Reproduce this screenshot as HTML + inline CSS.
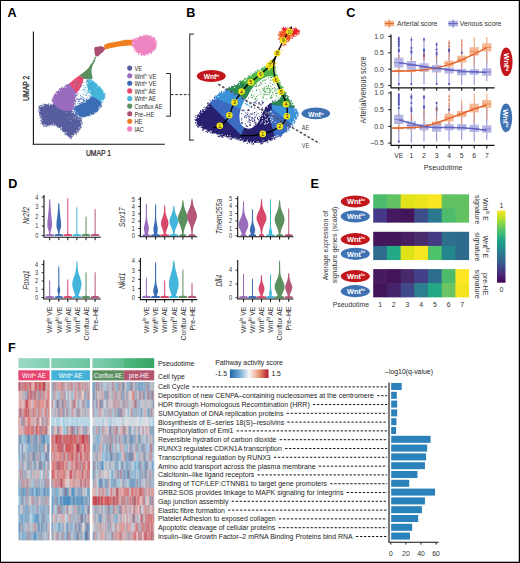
<!DOCTYPE html>
<html><head><meta charset="utf-8"><title>Figure</title>
<style>
html,body{margin:0;padding:0;background:#fff;}
body{width:520px;height:563px;overflow:hidden;}
svg{display:block;font-family:"Liberation Sans", sans-serif;}
</style></head><body>
<svg width="520" height="563" viewBox="0 0 520 563">
<rect x="0.00" y="0.00" width="520.00" height="563.00" fill="#ffffff"/>
<rect x="0" y="0" width="520" height="1" fill="#000"/><rect x="0" y="0" width="1" height="563" fill="#000"/><rect x="518.75" y="0" width="1.25" height="563" fill="#000"/><rect x="0" y="561.7" width="520" height="1.3" fill="#000"/>
<text transform="translate(7.50,16.60)" font-size="12.6" font-weight="bold" fill="#000">A</text>
<text transform="translate(186.20,17.20)" font-size="12.6" font-weight="bold" fill="#000">B</text>
<text transform="translate(346.20,17.20)" font-size="12.6" font-weight="bold" fill="#000">C</text>
<text transform="translate(8.20,187.70)" font-size="12.6" font-weight="bold" fill="#000">D</text>
<text transform="translate(310.50,187.60)" font-size="12.6" font-weight="bold" fill="#000">E</text>
<text transform="translate(7.90,352.00)" font-size="12.6" font-weight="bold" fill="#000">F</text>
<line x1="33.40" y1="31.50" x2="33.40" y2="144.70" stroke="#111" stroke-width="1.1"/>
<line x1="32.90" y1="144.20" x2="164.80" y2="144.20" stroke="#111" stroke-width="1.1"/>
<text transform="translate(98.50,155.60) scale(0.740,1)" font-size="9.2" text-anchor="middle" fill="#222" stroke="#222" stroke-width="0.25">UMAP 1</text>
<text transform="translate(28.80,88.30) rotate(-90) scale(0.740,1)" font-size="9.2" text-anchor="middle" fill="#222" stroke="#222" stroke-width="0.25">UMAP 2</text>
<polygon points="39.3,106.0 45.1,104.6 49.4,105.3 53.8,103.9 58.1,107.5 63.9,110.4 71.8,110.4 74.0,114.0 78.3,116.8 81.2,118.3 81.4,121.5 80.9,124.1 80.3,127.5 79.7,129.8 76.8,132.7 72.5,135.6 70.4,138.5 68.2,135.6 63.9,132.0 61.0,128.4 58.1,126.2 54.0,124.8 50.9,124.1 47.5,125.4 45.1,126.2 42.2,124.1 41.5,119.7 40.1,115.4 39.3,111.1" fill="#575d9d" stroke="#575d9d" stroke-width="0.9" stroke-linejoin="round"/>
<polygon points="53.8,103.9 52.3,101.0 53.2,97.8 54.5,95.2 56.2,92.8 58.1,90.9 60.8,88.8 63.9,87.3 66.8,85.4 69.6,83.7 73.2,88.0 76.8,93.0 76.1,96.6 74.7,102.4 73.2,108.2 71.8,110.4 63.9,110.4 58.1,107.5" fill="#9a6cbd" stroke="#9a6cbd" stroke-width="0.9" stroke-linejoin="round"/>
<polygon points="69.6,83.7 74.7,79.3 79.7,75.7 83.3,77.9 82.6,82.2 81.2,86.5 79.0,90.2 76.8,93.0 73.2,88.0" fill="#e9486f" stroke="#e9486f" stroke-width="0.9" stroke-linejoin="round"/>
<polygon points="86.5,80.5 89.8,79.3 92.8,81.2 95.6,83.7 98.8,86.5 101.4,89.4 104.3,93.8 104.6,96.5 104.0,98.8 101.4,102.4 97.0,99.5 92.0,96.6 89.8,92.3 87.0,86.5" fill="#43b4da" stroke="#43b4da" stroke-width="0.9" stroke-linejoin="round"/>
<polygon points="92.0,96.6 97.0,99.5 101.4,103.1 100.8,105.8 99.9,108.2 97.8,110.5 95.6,112.5 92.0,114.2 88.4,115.4 84.8,116.2 81.2,116.8 78.3,115.5 75.4,113.2 74.0,108.2 78.3,105.3 84.1,102.4 88.4,98.8" fill="#3b6db5" stroke="#3b6db5" stroke-width="0.9" stroke-linejoin="round"/>
<polygon points="76.8,93.0 79.0,90.2 81.2,86.5 83.5,81.5 86.5,80.5 87.0,86.5 89.8,92.3 92.0,96.6 88.4,98.8 84.1,102.4 78.3,105.3 74.7,106.0 75.4,100.2 76.1,96.6" fill="#ffffff"/>
<rect x="80.2" y="83.9" width="0.8" height="0.8" fill="#e9486f"/>
<rect x="75.8" y="95.2" width="0.8" height="0.8" fill="#3b6db5"/>
<rect x="78.1" y="82.2" width="0.8" height="0.8" fill="#3b6db5"/>
<rect x="75.3" y="82.4" width="0.8" height="0.8" fill="#3b6db5"/>
<rect x="75.1" y="94.7" width="0.8" height="0.8" fill="#43b4da"/>
<rect x="86.0" y="95.2" width="0.8" height="0.8" fill="#43b4da"/>
<rect x="85.0" y="90.3" width="0.8" height="0.8" fill="#43b4da"/>
<rect x="79.5" y="83.8" width="0.8" height="0.8" fill="#43b4da"/>
<rect x="84.8" y="94.6" width="0.8" height="0.8" fill="#e9486f"/>
<rect x="77.4" y="95.1" width="0.8" height="0.8" fill="#e9486f"/>
<rect x="77.6" y="82.5" width="0.8" height="0.8" fill="#e9486f"/>
<rect x="75.2" y="81.5" width="0.8" height="0.8" fill="#43b4da"/>
<rect x="83.4" y="93.8" width="0.8" height="0.8" fill="#9a6cbd"/>
<rect x="80.0" y="95.2" width="0.8" height="0.8" fill="#3b6db5"/>
<rect x="80.9" y="86.5" width="0.8" height="0.8" fill="#43b4da"/>
<rect x="87.3" y="86.3" width="0.8" height="0.8" fill="#3b6db5"/>
<rect x="79.7" y="92.9" width="0.8" height="0.8" fill="#43b4da"/>
<rect x="87.9" y="87.5" width="0.8" height="0.8" fill="#43b4da"/>
<rect x="76.2" y="90.9" width="0.8" height="0.8" fill="#9a6cbd"/>
<rect x="80.5" y="104.3" width="0.8" height="0.8" fill="#3b6db5"/>
<rect x="88.5" y="94.9" width="0.8" height="0.8" fill="#9a6cbd"/>
<rect x="80.0" y="98.1" width="0.8" height="0.8" fill="#3b6db5"/>
<rect x="83.4" y="100.7" width="0.8" height="0.8" fill="#3b6db5"/>
<rect x="90.0" y="104.6" width="0.8" height="0.8" fill="#3b6db5"/>
<rect x="87.2" y="81.7" width="0.8" height="0.8" fill="#e9486f"/>
<rect x="87.3" y="96.8" width="0.8" height="0.8" fill="#e9486f"/>
<rect x="89.6" y="87.4" width="0.8" height="0.8" fill="#3b6db5"/>
<rect x="90.9" y="89.0" width="0.8" height="0.8" fill="#3b6db5"/>
<rect x="80.8" y="95.9" width="0.8" height="0.8" fill="#3b6db5"/>
<rect x="76.5" y="86.4" width="0.8" height="0.8" fill="#3b6db5"/>
<rect x="91.4" y="92.9" width="0.8" height="0.8" fill="#43b4da"/>
<rect x="82.5" y="94.3" width="0.8" height="0.8" fill="#43b4da"/>
<rect x="89.6" y="102.5" width="0.8" height="0.8" fill="#3b6db5"/>
<rect x="87.4" y="105.6" width="0.8" height="0.8" fill="#3b6db5"/>
<rect x="76.9" y="84.6" width="0.8" height="0.8" fill="#43b4da"/>
<rect x="86.5" y="80.3" width="0.8" height="0.8" fill="#9a6cbd"/>
<rect x="85.2" y="86.8" width="0.8" height="0.8" fill="#43b4da"/>
<rect x="76.8" y="93.9" width="0.8" height="0.8" fill="#3b6db5"/>
<rect x="84.8" y="104.8" width="0.8" height="0.8" fill="#3b6db5"/>
<rect x="86.4" y="99.2" width="0.8" height="0.8" fill="#3b6db5"/>
<rect x="81.5" y="90.4" width="0.8" height="0.8" fill="#43b4da"/>
<rect x="83.1" y="90.4" width="0.8" height="0.8" fill="#43b4da"/>
<rect x="75.3" y="85.4" width="0.8" height="0.8" fill="#43b4da"/>
<rect x="76.1" y="95.6" width="0.8" height="0.8" fill="#43b4da"/>
<rect x="74.0" y="83.9" width="0.8" height="0.8" fill="#43b4da"/>
<rect x="92.0" y="96.0" width="0.8" height="0.8" fill="#43b4da"/>
<rect x="90.6" y="96.0" width="0.8" height="0.8" fill="#43b4da"/>
<rect x="86.1" y="104.8" width="0.8" height="0.8" fill="#3b6db5"/>
<rect x="80.9" y="83.2" width="0.8" height="0.8" fill="#9a6cbd"/>
<rect x="83.3" y="105.4" width="0.8" height="0.8" fill="#3b6db5"/>
<rect x="83.2" y="82.2" width="0.8" height="0.8" fill="#43b4da"/>
<rect x="88.2" y="99.2" width="0.8" height="0.8" fill="#3b6db5"/>
<rect x="89.7" y="84.2" width="0.8" height="0.8" fill="#43b4da"/>
<rect x="77.9" y="104.8" width="0.8" height="0.8" fill="#3b6db5"/>
<rect x="76.8" y="94.1" width="0.8" height="0.8" fill="#43b4da"/>
<rect x="88.4" y="87.8" width="0.8" height="0.8" fill="#e9486f"/>
<rect x="79.0" y="89.5" width="0.8" height="0.8" fill="#43b4da"/>
<rect x="80.8" y="85.8" width="0.8" height="0.8" fill="#3b6db5"/>
<rect x="88.8" y="88.6" width="0.8" height="0.8" fill="#43b4da"/>
<rect x="85.7" y="100.5" width="0.8" height="0.8" fill="#3b6db5"/>
<rect x="89.5" y="99.2" width="0.8" height="0.8" fill="#3b6db5"/>
<rect x="77.8" y="92.8" width="0.8" height="0.8" fill="#e9486f"/>
<rect x="74.6" y="80.7" width="0.8" height="0.8" fill="#43b4da"/>
<rect x="83.0" y="85.0" width="0.8" height="0.8" fill="#3b6db5"/>
<rect x="92.2" y="91.6" width="0.8" height="0.8" fill="#e9486f"/>
<rect x="80.9" y="85.7" width="0.8" height="0.8" fill="#43b4da"/>
<rect x="82.9" y="88.8" width="0.8" height="0.8" fill="#3b6db5"/>
<rect x="85.9" y="103.4" width="0.8" height="0.8" fill="#3b6db5"/>
<rect x="80.5" y="96.7" width="0.8" height="0.8" fill="#9a6cbd"/>
<rect x="86.6" y="103.7" width="0.8" height="0.8" fill="#3b6db5"/>
<rect x="87.5" y="85.2" width="0.8" height="0.8" fill="#43b4da"/>
<rect x="82.2" y="96.5" width="0.8" height="0.8" fill="#43b4da"/>
<rect x="89.2" y="105.3" width="0.8" height="0.8" fill="#3b6db5"/>
<rect x="82.8" y="99.3" width="0.8" height="0.8" fill="#3b6db5"/>
<rect x="87.8" y="84.4" width="0.8" height="0.8" fill="#43b4da"/>
<rect x="82.8" y="97.1" width="0.8" height="0.8" fill="#3b6db5"/>
<rect x="89.7" y="105.5" width="0.8" height="0.8" fill="#3b6db5"/>
<rect x="91.8" y="84.1" width="0.8" height="0.8" fill="#3b6db5"/>
<rect x="76.5" y="80.4" width="0.8" height="0.8" fill="#e9486f"/>
<rect x="86.3" y="93.7" width="0.8" height="0.8" fill="#43b4da"/>
<rect x="82.2" y="102.7" width="0.8" height="0.8" fill="#3b6db5"/>
<rect x="90.6" y="80.7" width="0.8" height="0.8" fill="#43b4da"/>
<rect x="86.6" y="84.1" width="0.9" height="0.9" fill="#43b4da"/>
<rect x="89.3" y="84.4" width="0.9" height="0.9" fill="#43b4da"/>
<rect x="87.8" y="82.2" width="0.9" height="0.9" fill="#43b4da"/>
<rect x="92.2" y="86.0" width="0.9" height="0.9" fill="#43b4da"/>
<rect x="88.1" y="89.9" width="0.9" height="0.9" fill="#43b4da"/>
<rect x="92.1" y="87.2" width="0.9" height="0.9" fill="#43b4da"/>
<rect x="92.3" y="88.5" width="0.9" height="0.9" fill="#43b4da"/>
<rect x="88.8" y="88.9" width="0.9" height="0.9" fill="#43b4da"/>
<rect x="84.2" y="87.5" width="0.9" height="0.9" fill="#43b4da"/>
<rect x="91.2" y="82.9" width="0.9" height="0.9" fill="#43b4da"/>
<rect x="88.3" y="92.3" width="0.9" height="0.9" fill="#43b4da"/>
<rect x="89.0" y="85.5" width="0.9" height="0.9" fill="#43b4da"/>
<rect x="88.7" y="89.4" width="0.9" height="0.9" fill="#43b4da"/>
<rect x="91.1" y="81.8" width="0.9" height="0.9" fill="#43b4da"/>
<rect x="89.0" y="84.2" width="0.9" height="0.9" fill="#43b4da"/>
<rect x="86.5" y="93.1" width="0.9" height="0.9" fill="#43b4da"/>
<rect x="88.6" y="89.5" width="0.9" height="0.9" fill="#43b4da"/>
<rect x="90.8" y="95.5" width="0.9" height="0.9" fill="#43b4da"/>
<rect x="88.0" y="90.4" width="0.9" height="0.9" fill="#43b4da"/>
<rect x="88.5" y="88.7" width="0.9" height="0.9" fill="#43b4da"/>
<rect x="90.2" y="87.7" width="0.9" height="0.9" fill="#43b4da"/>
<rect x="88.8" y="88.1" width="0.9" height="0.9" fill="#43b4da"/>
<rect x="92.5" y="91.9" width="0.9" height="0.9" fill="#43b4da"/>
<rect x="91.9" y="96.0" width="0.9" height="0.9" fill="#43b4da"/>
<rect x="86.3" y="89.5" width="0.9" height="0.9" fill="#43b4da"/>
<rect x="92.5" y="94.3" width="0.9" height="0.9" fill="#43b4da"/>
<rect x="88.0" y="81.2" width="0.9" height="0.9" fill="#43b4da"/>
<rect x="90.0" y="93.3" width="0.9" height="0.9" fill="#43b4da"/>
<rect x="92.1" y="82.6" width="0.9" height="0.9" fill="#43b4da"/>
<rect x="90.4" y="91.2" width="0.9" height="0.9" fill="#43b4da"/>
<rect x="85.3" y="95.0" width="0.9" height="0.9" fill="#43b4da"/>
<rect x="92.7" y="83.7" width="0.9" height="0.9" fill="#43b4da"/>
<rect x="92.6" y="86.8" width="0.9" height="0.9" fill="#43b4da"/>
<rect x="88.4" y="96.8" width="0.9" height="0.9" fill="#43b4da"/>
<rect x="91.5" y="82.7" width="0.9" height="0.9" fill="#43b4da"/>
<rect x="87.9" y="88.8" width="0.9" height="0.9" fill="#43b4da"/>
<rect x="87.1" y="83.3" width="0.9" height="0.9" fill="#43b4da"/>
<rect x="86.9" y="92.3" width="0.9" height="0.9" fill="#43b4da"/>
<rect x="84.2" y="89.4" width="0.9" height="0.9" fill="#43b4da"/>
<rect x="88.0" y="80.3" width="0.9" height="0.9" fill="#43b4da"/>
<rect x="87.0" y="90.6" width="0.9" height="0.9" fill="#43b4da"/>
<rect x="88.6" y="81.1" width="0.9" height="0.9" fill="#43b4da"/>
<rect x="92.9" y="93.4" width="0.9" height="0.9" fill="#43b4da"/>
<rect x="92.7" y="81.8" width="0.9" height="0.9" fill="#43b4da"/>
<rect x="91.0" y="84.6" width="0.9" height="0.9" fill="#43b4da"/>
<rect x="85.2" y="87.2" width="0.9" height="0.9" fill="#43b4da"/>
<rect x="92.2" y="93.9" width="0.9" height="0.9" fill="#43b4da"/>
<rect x="92.3" y="89.7" width="0.9" height="0.9" fill="#43b4da"/>
<rect x="90.3" y="81.5" width="0.9" height="0.9" fill="#43b4da"/>
<rect x="84.5" y="91.7" width="0.9" height="0.9" fill="#43b4da"/>
<rect x="87.8" y="81.2" width="0.9" height="0.9" fill="#43b4da"/>
<rect x="92.4" y="90.8" width="0.9" height="0.9" fill="#43b4da"/>
<rect x="91.2" y="81.4" width="0.9" height="0.9" fill="#43b4da"/>
<rect x="91.7" y="81.1" width="0.9" height="0.9" fill="#43b4da"/>
<rect x="91.8" y="87.7" width="0.9" height="0.9" fill="#43b4da"/>
<rect x="80.8" y="103.0" width="0.9" height="0.9" fill="#3b6db5"/>
<rect x="90.8" y="100.4" width="0.9" height="0.9" fill="#3b6db5"/>
<rect x="77.2" y="102.7" width="0.9" height="0.9" fill="#3b6db5"/>
<rect x="79.1" y="99.0" width="0.9" height="0.9" fill="#3b6db5"/>
<rect x="77.7" y="98.5" width="0.9" height="0.9" fill="#3b6db5"/>
<rect x="78.4" y="100.8" width="0.9" height="0.9" fill="#3b6db5"/>
<rect x="80.2" y="104.8" width="0.9" height="0.9" fill="#3b6db5"/>
<rect x="79.9" y="102.5" width="0.9" height="0.9" fill="#3b6db5"/>
<rect x="78.0" y="101.1" width="0.9" height="0.9" fill="#3b6db5"/>
<rect x="75.3" y="100.3" width="0.9" height="0.9" fill="#3b6db5"/>
<rect x="75.3" y="104.6" width="0.9" height="0.9" fill="#3b6db5"/>
<rect x="84.4" y="99.7" width="0.9" height="0.9" fill="#3b6db5"/>
<rect x="83.1" y="106.4" width="0.9" height="0.9" fill="#3b6db5"/>
<rect x="76.8" y="105.4" width="0.9" height="0.9" fill="#3b6db5"/>
<rect x="82.3" y="102.5" width="0.9" height="0.9" fill="#3b6db5"/>
<rect x="89.2" y="101.5" width="0.9" height="0.9" fill="#3b6db5"/>
<rect x="83.6" y="104.2" width="0.9" height="0.9" fill="#3b6db5"/>
<rect x="91.7" y="101.1" width="0.9" height="0.9" fill="#3b6db5"/>
<rect x="89.1" y="104.4" width="0.9" height="0.9" fill="#3b6db5"/>
<rect x="85.8" y="101.6" width="0.9" height="0.9" fill="#3b6db5"/>
<rect x="80.9" y="98.5" width="0.9" height="0.9" fill="#3b6db5"/>
<rect x="77.2" y="98.6" width="0.9" height="0.9" fill="#3b6db5"/>
<rect x="87.6" y="100.3" width="0.9" height="0.9" fill="#3b6db5"/>
<rect x="77.8" y="98.8" width="0.9" height="0.9" fill="#3b6db5"/>
<rect x="89.3" y="105.8" width="0.9" height="0.9" fill="#3b6db5"/>
<rect x="86.4" y="100.5" width="0.9" height="0.9" fill="#3b6db5"/>
<rect x="79.1" y="100.6" width="0.9" height="0.9" fill="#3b6db5"/>
<rect x="82.8" y="99.4" width="0.9" height="0.9" fill="#3b6db5"/>
<rect x="82.6" y="100.4" width="0.9" height="0.9" fill="#3b6db5"/>
<rect x="91.4" y="106.8" width="0.9" height="0.9" fill="#3b6db5"/>
<rect x="84.3" y="100.2" width="0.9" height="0.9" fill="#3b6db5"/>
<rect x="91.4" y="100.8" width="0.9" height="0.9" fill="#3b6db5"/>
<rect x="81.1" y="98.0" width="0.9" height="0.9" fill="#3b6db5"/>
<rect x="81.5" y="102.3" width="0.9" height="0.9" fill="#3b6db5"/>
<rect x="83.5" y="99.8" width="0.9" height="0.9" fill="#3b6db5"/>
<rect x="83.6" y="98.0" width="0.9" height="0.9" fill="#3b6db5"/>
<rect x="79.5" y="98.8" width="0.9" height="0.9" fill="#3b6db5"/>
<rect x="81.8" y="98.4" width="0.9" height="0.9" fill="#3b6db5"/>
<rect x="75.4" y="100.7" width="0.9" height="0.9" fill="#3b6db5"/>
<rect x="79.0" y="103.3" width="0.9" height="0.9" fill="#3b6db5"/>
<rect x="73.4" y="117.8" width="0.7" height="0.7" fill="#ffffff" fill-opacity="0.8"/>
<rect x="75.2" y="117.4" width="0.7" height="0.7" fill="#ffffff" fill-opacity="0.8"/>
<rect x="78.3" y="114.5" width="0.7" height="0.7" fill="#ffffff" fill-opacity="0.8"/>
<rect x="70.6" y="119.9" width="0.7" height="0.7" fill="#ffffff" fill-opacity="0.8"/>
<rect x="68.1" y="117.5" width="0.7" height="0.7" fill="#ffffff" fill-opacity="0.8"/>
<rect x="75.0" y="111.4" width="0.7" height="0.7" fill="#ffffff" fill-opacity="0.8"/>
<rect x="77.7" y="119.0" width="0.7" height="0.7" fill="#ffffff" fill-opacity="0.8"/>
<rect x="74.8" y="117.6" width="0.7" height="0.7" fill="#ffffff" fill-opacity="0.8"/>
<rect x="77.4" y="112.3" width="0.7" height="0.7" fill="#ffffff" fill-opacity="0.8"/>
<rect x="73.3" y="115.5" width="0.7" height="0.7" fill="#ffffff" fill-opacity="0.8"/>
<rect x="77.7" y="118.2" width="0.7" height="0.7" fill="#ffffff" fill-opacity="0.8"/>
<rect x="77.6" y="116.3" width="0.7" height="0.7" fill="#ffffff" fill-opacity="0.8"/>
<rect x="78.5" y="117.1" width="0.7" height="0.7" fill="#ffffff" fill-opacity="0.8"/>
<rect x="75.7" y="113.1" width="0.7" height="0.7" fill="#ffffff" fill-opacity="0.8"/>
<rect x="66.4" y="112.2" width="0.7" height="0.7" fill="#ffffff" fill-opacity="0.8"/>
<rect x="71.0" y="111.9" width="0.7" height="0.7" fill="#ffffff" fill-opacity="0.8"/>
<rect x="77.7" y="116.0" width="0.7" height="0.7" fill="#ffffff" fill-opacity="0.8"/>
<rect x="74.8" y="116.6" width="0.7" height="0.7" fill="#ffffff" fill-opacity="0.8"/>
<path d="M79.6,75.2 C83,72.8 86,70.8 88.2,68.2 C90.5,65 92.2,62.5 94.6,59.6 L95.4,60.2 C93.6,63.2 92.0,66 91.6,69.4 C91.4,72.4 92.0,75.2 92.8,78.6 C90,79.8 87,79.6 83.6,78.4 Z" fill="#5b8f5e"/>
<path d="M93.8,61.5 C94.4,59.8 95.0,58.5 95.6,56.8" stroke="#5b8f5e" stroke-width="1.2" fill="none"/>
<path d="M94.60,47.60 C95.25,46.57 97.18,46.60 98.50,46.40 C99.82,46.20 101.42,46.03 102.50,46.40 C103.58,46.77 104.82,47.73 105.00,48.60 C105.18,49.47 104.33,50.73 103.60,51.60 C102.87,52.47 101.53,53.00 100.60,53.80 C99.67,54.60 98.83,56.07 98.00,56.40 C97.17,56.73 96.17,56.43 95.60,55.80 C95.03,55.17 94.77,53.97 94.60,52.60 C94.43,51.23 93.95,48.63 94.60,47.60Z" fill="#a84f73"/>
<path d="M104.20,45.60 C104.50,44.67 105.87,44.10 107.00,43.60 C108.13,43.10 109.50,42.90 111.00,42.60 C112.50,42.30 114.33,42.10 116.00,41.80 C117.67,41.50 119.42,41.13 121.00,40.80 C122.58,40.47 124.00,39.97 125.50,39.80 C127.00,39.63 128.58,39.70 130.00,39.80 C131.42,39.90 133.33,39.53 134.00,40.40 C134.67,41.27 134.83,44.13 134.00,45.00 C133.17,45.87 130.67,45.43 129.00,45.60 C127.33,45.77 125.67,45.83 124.00,46.00 C122.33,46.17 120.67,46.33 119.00,46.60 C117.33,46.87 115.67,47.30 114.00,47.60 C112.33,47.90 110.47,48.13 109.00,48.40 C107.53,48.67 106.00,49.67 105.20,49.20 C104.40,48.73 103.90,46.53 104.20,45.60Z" fill="#f07f22"/>
<path d="M132.20,40.40 C132.77,39.27 134.62,38.77 136.00,38.20 C137.38,37.63 139.00,37.43 140.50,37.00 C142.00,36.57 143.50,35.87 145.00,35.60 C146.50,35.33 148.10,35.13 149.50,35.40 C150.90,35.67 152.35,36.27 153.40,37.20 C154.45,38.13 155.33,39.60 155.80,41.00 C156.27,42.40 156.47,44.07 156.20,45.60 C155.93,47.13 155.20,48.90 154.20,50.20 C153.20,51.50 151.70,52.57 150.20,53.40 C148.70,54.23 146.82,55.00 145.20,55.20 C143.58,55.40 141.83,55.03 140.50,54.60 C139.17,54.17 138.20,53.63 137.20,52.60 C136.20,51.57 135.27,49.67 134.50,48.40 C133.73,47.13 132.98,46.33 132.60,45.00 C132.22,43.67 131.63,41.53 132.20,40.40Z" fill="#ee83c1"/>
<rect x="42.9" y="105.2" width="0.9" height="0.9" fill="#fff"/><rect x="43.2" y="103.5" width="0.9" height="0.9" fill="#575d9d"/><rect x="42.2" y="105.6" width="0.9" height="0.9" fill="#fff"/><rect x="43.2" y="104.8" width="0.9" height="0.9" fill="#fff"/><rect x="40.6" y="106.1" width="0.9" height="0.9" fill="#fff"/><rect x="48.0" y="103.4" width="0.9" height="0.9" fill="#575d9d"/><rect x="46.4" y="103.8" width="0.9" height="0.9" fill="#575d9d"/><rect x="48.1" y="103.9" width="0.9" height="0.9" fill="#575d9d"/><rect x="49.3" y="104.9" width="0.9" height="0.9" fill="#fff"/><rect x="51.5" y="104.1" width="0.9" height="0.9" fill="#fff"/><rect x="49.9" y="103.6" width="0.9" height="0.9" fill="#575d9d"/><rect x="72.0" y="111.8" width="0.9" height="0.9" fill="#fff"/><rect x="72.5" y="111.0" width="0.9" height="0.9" fill="#575d9d"/><rect x="75.4" y="114.2" width="0.9" height="0.9" fill="#575d9d"/><rect x="80.9" y="118.0" width="0.9" height="0.9" fill="#575d9d"/><rect x="79.6" y="118.8" width="0.9" height="0.9" fill="#fff"/><rect x="80.2" y="121.6" width="0.9" height="0.9" fill="#fff"/><rect x="82.0" y="122.3" width="0.9" height="0.9" fill="#575d9d"/><rect x="80.8" y="126.6" width="0.9" height="0.9" fill="#575d9d"/><rect x="80.6" y="127.0" width="0.9" height="0.9" fill="#575d9d"/><rect x="81.4" y="124.0" width="0.9" height="0.9" fill="#575d9d"/><rect x="78.6" y="128.6" width="0.9" height="0.9" fill="#fff"/><rect x="78.7" y="126.9" width="0.9" height="0.9" fill="#fff"/><rect x="77.6" y="130.4" width="0.9" height="0.9" fill="#fff"/><rect x="76.2" y="130.6" width="0.9" height="0.9" fill="#fff"/><rect x="77.6" y="131.5" width="0.9" height="0.9" fill="#575d9d"/><rect x="74.5" y="133.2" width="0.9" height="0.9" fill="#fff"/><rect x="76.1" y="133.8" width="0.9" height="0.9" fill="#575d9d"/><rect x="76.1" y="133.9" width="0.9" height="0.9" fill="#575d9d"/><rect x="74.3" y="133.4" width="0.9" height="0.9" fill="#fff"/><rect x="71.5" y="135.2" width="0.9" height="0.9" fill="#fff"/><rect x="71.8" y="136.0" width="0.9" height="0.9" fill="#575d9d"/><rect x="71.0" y="138.3" width="0.9" height="0.9" fill="#575d9d"/><rect x="68.5" y="137.3" width="0.9" height="0.9" fill="#575d9d"/><rect x="69.3" y="137.0" width="0.9" height="0.9" fill="#fff"/><rect x="67.7" y="135.3" width="0.9" height="0.9" fill="#575d9d"/><rect x="65.8" y="132.0" width="0.9" height="0.9" fill="#fff"/><rect x="66.4" y="134.4" width="0.9" height="0.9" fill="#575d9d"/><rect x="65.0" y="134.5" width="0.9" height="0.9" fill="#575d9d"/><rect x="64.0" y="132.0" width="0.9" height="0.9" fill="#fff"/><rect x="64.0" y="133.5" width="0.9" height="0.9" fill="#575d9d"/><rect x="61.7" y="129.4" width="0.9" height="0.9" fill="#575d9d"/><rect x="59.9" y="128.9" width="0.9" height="0.9" fill="#575d9d"/><rect x="60.9" y="127.8" width="0.9" height="0.9" fill="#fff"/><rect x="62.5" y="131.4" width="0.9" height="0.9" fill="#575d9d"/><rect x="57.3" y="126.6" width="0.9" height="0.9" fill="#575d9d"/><rect x="58.0" y="126.7" width="0.9" height="0.9" fill="#575d9d"/><rect x="61.0" y="127.1" width="0.9" height="0.9" fill="#fff"/><rect x="53.6" y="125.3" width="0.9" height="0.9" fill="#575d9d"/><rect x="57.0" y="125.9" width="0.9" height="0.9" fill="#575d9d"/><rect x="54.8" y="124.6" width="0.9" height="0.9" fill="#fff"/><rect x="51.8" y="124.7" width="0.9" height="0.9" fill="#575d9d"/><rect x="53.0" y="123.4" width="0.9" height="0.9" fill="#fff"/><rect x="49.6" y="124.6" width="0.9" height="0.9" fill="#575d9d"/><rect x="48.7" y="125.6" width="0.9" height="0.9" fill="#575d9d"/><rect x="49.8" y="124.3" width="0.9" height="0.9" fill="#575d9d"/><rect x="45.2" y="125.1" width="0.9" height="0.9" fill="#fff"/><rect x="46.1" y="126.2" width="0.9" height="0.9" fill="#575d9d"/><rect x="43.4" y="125.9" width="0.9" height="0.9" fill="#575d9d"/><rect x="44.0" y="125.3" width="0.9" height="0.9" fill="#575d9d"/><rect x="44.0" y="124.1" width="0.9" height="0.9" fill="#fff"/><rect x="40.2" y="120.3" width="0.9" height="0.9" fill="#575d9d"/><rect x="40.4" y="122.9" width="0.9" height="0.9" fill="#575d9d"/><rect x="41.5" y="120.0" width="0.9" height="0.9" fill="#fff"/><rect x="40.8" y="120.4" width="0.9" height="0.9" fill="#575d9d"/><rect x="40.6" y="117.0" width="0.9" height="0.9" fill="#fff"/><rect x="39.6" y="117.7" width="0.9" height="0.9" fill="#575d9d"/><rect x="41.3" y="118.5" width="0.9" height="0.9" fill="#fff"/><rect x="39.9" y="115.0" width="0.9" height="0.9" fill="#fff"/><rect x="39.1" y="114.8" width="0.9" height="0.9" fill="#575d9d"/><rect x="38.0" y="111.3" width="0.9" height="0.9" fill="#575d9d"/><rect x="39.3" y="110.9" width="0.9" height="0.9" fill="#fff"/><rect x="39.8" y="105.9" width="0.9" height="0.9" fill="#fff"/><rect x="38.4" y="107.3" width="0.9" height="0.9" fill="#575d9d"/><rect x="39.1" y="109.0" width="0.9" height="0.9" fill="#fff"/><rect x="38.4" y="109.2" width="0.9" height="0.9" fill="#575d9d"/>
<rect x="51.6" y="97.7" width="0.9" height="0.9" fill="#9a6cbd"/><rect x="51.3" y="100.2" width="0.9" height="0.9" fill="#9a6cbd"/><rect x="53.7" y="94.9" width="0.9" height="0.9" fill="#9a6cbd"/><rect x="53.9" y="95.0" width="0.9" height="0.9" fill="#9a6cbd"/><rect x="56.2" y="93.3" width="0.9" height="0.9" fill="#fff"/><rect x="54.0" y="94.6" width="0.9" height="0.9" fill="#9a6cbd"/><rect x="55.6" y="91.2" width="0.9" height="0.9" fill="#9a6cbd"/><rect x="56.2" y="91.5" width="0.9" height="0.9" fill="#9a6cbd"/><rect x="59.1" y="88.9" width="0.9" height="0.9" fill="#9a6cbd"/><rect x="58.7" y="90.0" width="0.9" height="0.9" fill="#fff"/><rect x="59.0" y="88.0" width="0.9" height="0.9" fill="#9a6cbd"/><rect x="63.3" y="87.0" width="0.9" height="0.9" fill="#fff"/><rect x="61.3" y="86.6" width="0.9" height="0.9" fill="#9a6cbd"/><rect x="61.4" y="87.5" width="0.9" height="0.9" fill="#9a6cbd"/><rect x="65.5" y="86.8" width="0.9" height="0.9" fill="#fff"/><rect x="65.3" y="84.6" width="0.9" height="0.9" fill="#9a6cbd"/><rect x="65.3" y="84.8" width="0.9" height="0.9" fill="#9a6cbd"/><rect x="67.0" y="84.0" width="0.9" height="0.9" fill="#9a6cbd"/><rect x="66.4" y="84.6" width="0.9" height="0.9" fill="#9a6cbd"/><rect x="76.0" y="95.0" width="0.9" height="0.9" fill="#9a6cbd"/><rect x="75.2" y="93.7" width="0.9" height="0.9" fill="#fff"/><rect x="75.0" y="97.5" width="0.9" height="0.9" fill="#fff"/><rect x="75.1" y="101.4" width="0.9" height="0.9" fill="#9a6cbd"/><rect x="76.3" y="98.7" width="0.9" height="0.9" fill="#9a6cbd"/><rect x="76.3" y="97.7" width="0.9" height="0.9" fill="#9a6cbd"/><rect x="74.4" y="101.9" width="0.9" height="0.9" fill="#9a6cbd"/><rect x="74.0" y="107.0" width="0.9" height="0.9" fill="#9a6cbd"/><rect x="73.8" y="102.1" width="0.9" height="0.9" fill="#fff"/><rect x="75.1" y="103.3" width="0.9" height="0.9" fill="#9a6cbd"/><rect x="73.5" y="107.1" width="0.9" height="0.9" fill="#9a6cbd"/>
<rect x="89.5" y="79.3" width="0.9" height="0.9" fill="#fff"/><rect x="88.5" y="79.4" width="0.9" height="0.9" fill="#fff"/><rect x="88.8" y="78.5" width="0.9" height="0.9" fill="#43b4da"/><rect x="91.2" y="78.7" width="0.9" height="0.9" fill="#43b4da"/><rect x="89.8" y="79.1" width="0.9" height="0.9" fill="#43b4da"/><rect x="90.6" y="81.1" width="0.9" height="0.9" fill="#fff"/><rect x="94.4" y="81.9" width="0.9" height="0.9" fill="#43b4da"/><rect x="93.0" y="80.8" width="0.9" height="0.9" fill="#43b4da"/><rect x="95.0" y="83.0" width="0.9" height="0.9" fill="#43b4da"/><rect x="96.9" y="86.4" width="0.9" height="0.9" fill="#fff"/><rect x="96.4" y="82.7" width="0.9" height="0.9" fill="#43b4da"/><rect x="96.7" y="84.5" width="0.9" height="0.9" fill="#43b4da"/><rect x="100.2" y="86.4" width="0.9" height="0.9" fill="#43b4da"/><rect x="100.6" y="88.3" width="0.9" height="0.9" fill="#43b4da"/><rect x="99.3" y="86.3" width="0.9" height="0.9" fill="#43b4da"/><rect x="103.2" y="92.7" width="0.9" height="0.9" fill="#fff"/><rect x="102.7" y="90.3" width="0.9" height="0.9" fill="#43b4da"/><rect x="101.6" y="89.3" width="0.9" height="0.9" fill="#43b4da"/><rect x="103.6" y="92.9" width="0.9" height="0.9" fill="#43b4da"/><rect x="104.1" y="95.4" width="0.9" height="0.9" fill="#43b4da"/><rect x="104.7" y="93.6" width="0.9" height="0.9" fill="#43b4da"/><rect x="104.2" y="97.6" width="0.9" height="0.9" fill="#43b4da"/><rect x="104.3" y="97.5" width="0.9" height="0.9" fill="#43b4da"/><rect x="101.9" y="99.6" width="0.9" height="0.9" fill="#fff"/><rect x="101.4" y="100.2" width="0.9" height="0.9" fill="#fff"/><rect x="102.4" y="101.7" width="0.9" height="0.9" fill="#43b4da"/><rect x="88.5" y="92.3" width="0.9" height="0.9" fill="#43b4da"/><rect x="89.4" y="94.6" width="0.9" height="0.9" fill="#43b4da"/><rect x="88.0" y="91.3" width="0.9" height="0.9" fill="#43b4da"/><rect x="88.8" y="91.7" width="0.9" height="0.9" fill="#43b4da"/><rect x="90.0" y="90.4" width="0.9" height="0.9" fill="#fff"/><rect x="86.9" y="87.2" width="0.9" height="0.9" fill="#43b4da"/><rect x="87.0" y="86.4" width="0.9" height="0.9" fill="#fff"/><rect x="86.7" y="83.0" width="0.9" height="0.9" fill="#fff"/><rect x="86.3" y="85.0" width="0.9" height="0.9" fill="#43b4da"/><rect x="87.4" y="81.9" width="0.9" height="0.9" fill="#fff"/><rect x="86.0" y="81.4" width="0.9" height="0.9" fill="#43b4da"/><rect x="85.8" y="82.3" width="0.9" height="0.9" fill="#43b4da"/>
<rect x="101.0" y="105.5" width="0.9" height="0.9" fill="#3b6db5"/><rect x="100.8" y="103.5" width="0.9" height="0.9" fill="#fff"/><rect x="100.9" y="106.0" width="0.9" height="0.9" fill="#3b6db5"/><rect x="98.9" y="106.2" width="0.9" height="0.9" fill="#fff"/><rect x="98.4" y="107.7" width="0.9" height="0.9" fill="#fff"/><rect x="99.1" y="107.5" width="0.9" height="0.9" fill="#fff"/><rect x="96.7" y="111.0" width="0.9" height="0.9" fill="#3b6db5"/><rect x="96.2" y="111.4" width="0.9" height="0.9" fill="#3b6db5"/><rect x="93.5" y="113.0" width="0.9" height="0.9" fill="#3b6db5"/><rect x="94.2" y="112.3" width="0.9" height="0.9" fill="#fff"/><rect x="93.3" y="114.1" width="0.9" height="0.9" fill="#3b6db5"/><rect x="90.0" y="113.9" width="0.9" height="0.9" fill="#fff"/><rect x="89.4" y="115.2" width="0.9" height="0.9" fill="#3b6db5"/><rect x="89.4" y="115.0" width="0.9" height="0.9" fill="#3b6db5"/><rect x="85.4" y="115.8" width="0.9" height="0.9" fill="#3b6db5"/><rect x="87.9" y="115.6" width="0.9" height="0.9" fill="#3b6db5"/><rect x="87.1" y="115.2" width="0.9" height="0.9" fill="#3b6db5"/><rect x="84.4" y="116.4" width="0.9" height="0.9" fill="#3b6db5"/><rect x="83.9" y="116.1" width="0.9" height="0.9" fill="#3b6db5"/><rect x="82.7" y="116.8" width="0.9" height="0.9" fill="#3b6db5"/><rect x="74.7" y="113.7" width="0.9" height="0.9" fill="#3b6db5"/><rect x="75.3" y="113.8" width="0.9" height="0.9" fill="#3b6db5"/><rect x="74.6" y="110.4" width="0.9" height="0.9" fill="#fff"/><rect x="74.6" y="111.6" width="0.9" height="0.9" fill="#3b6db5"/><rect x="73.1" y="109.2" width="0.9" height="0.9" fill="#3b6db5"/><rect x="73.6" y="109.3" width="0.9" height="0.9" fill="#3b6db5"/><rect x="74.9" y="105.7" width="0.9" height="0.9" fill="#3b6db5"/><rect x="74.3" y="106.3" width="0.9" height="0.9" fill="#3b6db5"/><rect x="78.8" y="103.4" width="0.9" height="0.9" fill="#3b6db5"/><rect x="82.0" y="102.3" width="0.9" height="0.9" fill="#3b6db5"/><rect x="79.6" y="103.6" width="0.9" height="0.9" fill="#3b6db5"/><rect x="81.1" y="102.3" width="0.9" height="0.9" fill="#3b6db5"/><rect x="83.3" y="101.5" width="0.9" height="0.9" fill="#3b6db5"/><rect x="86.0" y="98.6" width="0.9" height="0.9" fill="#3b6db5"/><rect x="86.3" y="98.8" width="0.9" height="0.9" fill="#3b6db5"/><rect x="85.0" y="101.8" width="0.9" height="0.9" fill="#fff"/><rect x="87.7" y="98.8" width="0.9" height="0.9" fill="#fff"/><rect x="83.4" y="100.7" width="0.9" height="0.9" fill="#3b6db5"/><rect x="88.5" y="98.1" width="0.9" height="0.9" fill="#fff"/><rect x="90.0" y="96.2" width="0.9" height="0.9" fill="#3b6db5"/><rect x="90.6" y="96.7" width="0.9" height="0.9" fill="#3b6db5"/>
<rect x="132.6" y="38.3" width="0.9" height="0.9" fill="#ee83c1"/><rect x="135.1" y="37.9" width="0.9" height="0.9" fill="#ee83c1"/><rect x="135.8" y="38.9" width="0.9" height="0.9" fill="#fff"/><rect x="136.5" y="37.6" width="0.9" height="0.9" fill="#fff"/><rect x="139.1" y="35.8" width="0.9" height="0.9" fill="#ee83c1"/><rect x="139.1" y="36.0" width="0.9" height="0.9" fill="#ee83c1"/><rect x="136.0" y="37.5" width="0.9" height="0.9" fill="#ee83c1"/><rect x="140.9" y="35.9" width="0.9" height="0.9" fill="#ee83c1"/><rect x="140.1" y="36.2" width="0.9" height="0.9" fill="#ee83c1"/><rect x="143.1" y="35.1" width="0.9" height="0.9" fill="#ee83c1"/><rect x="144.2" y="34.6" width="0.9" height="0.9" fill="#ee83c1"/><rect x="147.3" y="35.0" width="0.9" height="0.9" fill="#ee83c1"/><rect x="146.5" y="34.1" width="0.9" height="0.9" fill="#ee83c1"/><rect x="147.7" y="35.7" width="0.9" height="0.9" fill="#fff"/><rect x="148.4" y="34.9" width="0.9" height="0.9" fill="#ee83c1"/><rect x="149.7" y="35.3" width="0.9" height="0.9" fill="#fff"/><rect x="151.5" y="37.4" width="0.9" height="0.9" fill="#fff"/><rect x="151.2" y="35.3" width="0.9" height="0.9" fill="#ee83c1"/><rect x="153.9" y="37.1" width="0.9" height="0.9" fill="#ee83c1"/><rect x="155.2" y="39.7" width="0.9" height="0.9" fill="#ee83c1"/><rect x="153.8" y="37.7" width="0.9" height="0.9" fill="#ee83c1"/><rect x="154.3" y="38.6" width="0.9" height="0.9" fill="#ee83c1"/><rect x="156.3" y="40.8" width="0.9" height="0.9" fill="#ee83c1"/><rect x="156.4" y="44.1" width="0.9" height="0.9" fill="#ee83c1"/><rect x="156.0" y="42.4" width="0.9" height="0.9" fill="#ee83c1"/><rect x="154.3" y="41.0" width="0.9" height="0.9" fill="#fff"/><rect x="155.6" y="46.2" width="0.9" height="0.9" fill="#ee83c1"/><rect x="155.2" y="47.6" width="0.9" height="0.9" fill="#ee83c1"/><rect x="155.8" y="46.4" width="0.9" height="0.9" fill="#ee83c1"/><rect x="155.1" y="49.0" width="0.9" height="0.9" fill="#ee83c1"/><rect x="152.1" y="50.6" width="0.9" height="0.9" fill="#fff"/><rect x="150.9" y="53.1" width="0.9" height="0.9" fill="#ee83c1"/><rect x="153.4" y="50.7" width="0.9" height="0.9" fill="#ee83c1"/><rect x="151.5" y="51.7" width="0.9" height="0.9" fill="#ee83c1"/><rect x="145.2" y="54.3" width="0.9" height="0.9" fill="#fff"/><rect x="148.5" y="54.3" width="0.9" height="0.9" fill="#ee83c1"/><rect x="148.9" y="53.1" width="0.9" height="0.9" fill="#fff"/><rect x="147.9" y="52.9" width="0.9" height="0.9" fill="#fff"/><rect x="143.2" y="54.8" width="0.9" height="0.9" fill="#ee83c1"/><rect x="141.3" y="54.4" width="0.9" height="0.9" fill="#ee83c1"/><rect x="144.2" y="55.1" width="0.9" height="0.9" fill="#ee83c1"/><rect x="140.9" y="55.1" width="0.9" height="0.9" fill="#ee83c1"/><rect x="139.8" y="53.1" width="0.9" height="0.9" fill="#fff"/><rect x="139.6" y="53.3" width="0.9" height="0.9" fill="#fff"/><rect x="138.2" y="54.2" width="0.9" height="0.9" fill="#ee83c1"/><rect x="134.8" y="50.5" width="0.9" height="0.9" fill="#ee83c1"/><rect x="135.8" y="51.9" width="0.9" height="0.9" fill="#ee83c1"/><rect x="133.8" y="49.6" width="0.9" height="0.9" fill="#ee83c1"/><rect x="134.4" y="50.2" width="0.9" height="0.9" fill="#ee83c1"/><rect x="132.9" y="47.6" width="0.9" height="0.9" fill="#ee83c1"/><rect x="131.8" y="45.7" width="0.9" height="0.9" fill="#ee83c1"/><rect x="132.1" y="46.0" width="0.9" height="0.9" fill="#ee83c1"/><rect x="132.8" y="43.0" width="0.9" height="0.9" fill="#fff"/><rect x="131.0" y="42.7" width="0.9" height="0.9" fill="#ee83c1"/><rect x="131.6" y="41.7" width="0.9" height="0.9" fill="#ee83c1"/><rect x="131.2" y="42.5" width="0.9" height="0.9" fill="#ee83c1"/>
<circle cx="129.7" cy="68.10" r="2.55" fill="#575d9d"/>
<text transform="translate(134.40,71.00) scale(0.860,1)" font-size="6.6" fill="#2a2a2a">VE</text>
<circle cx="129.7" cy="75.70" r="2.55" fill="#9a6cbd"/>
<text transform="translate(134.40,78.60) scale(0.860,1)" font-size="6.6" fill="#2a2a2a">Wnt<tspan font-size="4.0" dy="-2.4">hi</tspan><tspan dy="2.4"> VE</tspan></text>
<circle cx="129.7" cy="83.30" r="2.55" fill="#3b6db5"/>
<text transform="translate(134.40,86.20) scale(0.860,1)" font-size="6.6" fill="#2a2a2a">Wnt<tspan font-size="4.0" dy="-2.4">lo</tspan><tspan dy="2.4"> VE</tspan></text>
<circle cx="129.7" cy="90.90" r="2.55" fill="#e9486f"/>
<text transform="translate(134.40,93.80) scale(0.860,1)" font-size="6.6" fill="#2a2a2a">Wnt<tspan font-size="4.0" dy="-2.4">hi</tspan><tspan dy="2.4"> AE</tspan></text>
<circle cx="129.7" cy="98.50" r="2.55" fill="#43b4da"/>
<text transform="translate(134.40,101.40) scale(0.860,1)" font-size="6.6" fill="#2a2a2a">Wnt<tspan font-size="4.0" dy="-2.4">lo</tspan><tspan dy="2.4"> AE</tspan></text>
<circle cx="129.7" cy="106.10" r="2.55" fill="#5b8f5e"/>
<text transform="translate(134.40,109.00) scale(0.860,1)" font-size="6.6" fill="#2a2a2a">Conflux AE</text>
<circle cx="129.7" cy="113.70" r="2.55" fill="#a84f73"/>
<text transform="translate(134.40,116.60) scale(0.860,1)" font-size="6.6" fill="#2a2a2a">Pre–HE</text>
<circle cx="129.7" cy="121.30" r="2.55" fill="#f07f22"/>
<text transform="translate(134.40,124.20) scale(0.860,1)" font-size="6.6" fill="#2a2a2a">HE</text>
<circle cx="129.7" cy="128.90" r="2.55" fill="#ee83c1"/>
<text transform="translate(134.40,131.80) scale(0.860,1)" font-size="6.6" fill="#2a2a2a">IAC</text>
<path d="M166.2,73.5 H170.4 V116.2 H166.2" fill="none" stroke="#222" stroke-width="1.0"/>
<line x1="171.0" y1="94.6" x2="189.3" y2="94.6" stroke="#222" stroke-width="1.0" stroke-dasharray="2.5,1.8"/>
<path d="M193.8,34.2 H189.7 V140.2 H193.8" fill="none" stroke="#4a4a4a" stroke-width="1.2"/>
<defs><clipPath id="silB"><path d="M273.50,59.50 C272.48,59.33 269.78,61.70 268.50,63.00 C267.22,64.30 267.28,66.07 265.80,67.30 C264.32,68.53 261.92,69.12 259.60,70.40 C257.28,71.68 254.47,73.47 251.90,75.00 C249.33,76.53 246.50,78.07 244.20,79.60 C241.90,81.13 240.15,82.92 238.10,84.20 C236.05,85.48 233.95,86.27 231.90,87.30 C229.85,88.33 227.85,89.37 225.80,90.40 C223.75,91.43 221.40,92.22 219.60,93.50 C217.80,94.78 216.80,96.32 215.00,98.10 C213.20,99.88 210.85,102.15 208.80,104.20 C206.75,106.25 204.42,108.77 202.70,110.40 C200.98,112.03 199.53,112.73 198.50,114.00 C197.47,115.27 196.88,116.83 196.50,118.00 C196.12,119.17 195.95,119.75 196.20,121.00 C196.45,122.25 196.95,124.25 198.00,125.50 C199.05,126.75 200.83,127.58 202.50,128.50 C204.17,129.42 206.08,130.17 208.00,131.00 C209.92,131.83 211.67,132.67 214.00,133.50 C216.33,134.33 219.33,135.33 222.00,136.00 C224.67,136.67 227.33,136.92 230.00,137.50 C232.67,138.08 235.50,138.83 238.00,139.50 C240.50,140.17 242.67,140.95 245.00,141.50 C247.33,142.05 249.50,142.58 252.00,142.80 C254.50,143.02 257.50,143.07 260.00,142.80 C262.50,142.53 264.67,141.92 267.00,141.20 C269.33,140.48 272.00,139.33 274.00,138.50 C276.00,137.67 277.33,137.12 279.00,136.20 C280.67,135.28 282.33,134.28 284.00,133.00 C285.67,131.72 287.42,130.25 289.00,128.50 C290.58,126.75 292.08,124.58 293.50,122.50 C294.92,120.42 296.88,117.92 297.50,116.00 C298.12,114.08 297.70,112.42 297.20,111.00 C296.70,109.58 295.53,108.75 294.50,107.50 C293.47,106.25 292.00,104.92 291.00,103.50 C290.00,102.08 289.33,100.50 288.50,99.00 C287.67,97.50 286.92,96.00 286.00,94.50 C285.08,93.00 284.00,91.58 283.00,90.00 C282.00,88.42 280.87,86.58 280.00,85.00 C279.13,83.42 278.47,82.00 277.80,80.50 C277.13,79.00 276.53,77.75 276.00,76.00 C275.47,74.25 274.83,72.00 274.60,70.00 C274.37,68.00 274.78,65.75 274.60,64.00 C274.42,62.25 274.52,59.67 273.50,59.50Z"/></clipPath></defs>
<g clip-path="url(#silB)">
<rect x="190.00" y="20.00" width="110.00" height="130.00" fill="#27216f"/>
<polygon points="203.0,97.0 241.0,135.0 246.0,124.0 250.0,110.0 262.0,90.0 270.0,60.0 190.0,60.0" fill="#3b6cc2"/>
<polygon points="205.0,93.5 251.4,113.4 254.0,108.0 262.0,90.0 270.0,60.0 190.0,60.0" fill="#3a93d8"/>
<polygon points="215.0,82.5 253.5,102.9 262.0,90.0 270.0,60.0 190.0,60.0" fill="#2b8a4d"/>
<polygon points="235.0,79.4 258.0,88.5 268.0,82.0 277.0,76.0 277.0,55.0 230.0,55.0" fill="#4fb548"/>
<polygon points="262.0,64.5 271.0,72.0 277.0,70.0 277.0,55.0 262.0,55.0" fill="#f2d515"/>
<polygon points="270.0,66.0 284.0,66.0 290.0,93.0 270.0,93.0" fill="#4fb548"/>
<polygon points="270.0,92.0 284.0,90.0 292.0,100.0 299.0,108.5 271.5,104.5" fill="#2b8a4d"/>
<polygon points="271.5,104.5 299.0,108.5 300.0,127.5 294.0,126.5 272.0,109.0" fill="#3a93d8"/>
<polygon points="268.0,112.0 272.0,109.0 294.0,126.5 292.0,143.0 276.5,143.0" fill="#3b6cc2"/>
</g>
<rect x="270.5" y="62.6" width="1.0" height="1.0" fill="#fff"/><rect x="269.0" y="60.3" width="1.0" height="1.0" fill="#f2d515"/><rect x="271.4" y="62.0" width="1.0" height="1.0" fill="#fff"/><rect x="270.1" y="60.7" width="1.0" height="1.0" fill="#f2d515"/><rect x="268.8" y="63.0" width="1.0" height="1.0" fill="#fff"/><rect x="269.6" y="60.3" width="1.0" height="1.0" fill="#f2d515"/><rect x="265.8" y="64.2" width="1.0" height="1.0" fill="#f2d515"/><rect x="266.0" y="64.4" width="1.0" height="1.0" fill="#f2d515"/><rect x="266.5" y="62.8" width="1.0" height="1.0" fill="#f2d515"/><rect x="265.8" y="65.7" width="1.0" height="1.0" fill="#f2d515"/><rect x="267.1" y="64.1" width="1.0" height="1.0" fill="#fff"/><rect x="262.8" y="68.0" width="1.0" height="1.0" fill="#4fb548"/><rect x="262.2" y="67.1" width="1.0" height="1.0" fill="#4fb548"/><rect x="263.5" y="67.3" width="1.0" height="1.0" fill="#4fb548"/><rect x="259.8" y="70.5" width="1.0" height="1.0" fill="#fff"/><rect x="260.6" y="69.8" width="1.0" height="1.0" fill="#fff"/><rect x="263.9" y="66.1" width="1.0" height="1.0" fill="#4fb548"/><rect x="261.0" y="68.1" width="1.0" height="1.0" fill="#4fb548"/><rect x="256.6" y="69.6" width="1.0" height="1.0" fill="#4fb548"/><rect x="253.5" y="71.7" width="1.0" height="1.0" fill="#4fb548"/><rect x="255.3" y="71.6" width="1.0" height="1.0" fill="#4fb548"/><rect x="257.5" y="69.3" width="1.0" height="1.0" fill="#4fb548"/><rect x="252.3" y="73.4" width="1.0" height="1.0" fill="#4fb548"/><rect x="257.5" y="71.7" width="1.0" height="1.0" fill="#fff"/><rect x="259.7" y="70.9" width="1.0" height="1.0" fill="#fff"/><rect x="257.0" y="70.6" width="1.0" height="1.0" fill="#4fb548"/><rect x="255.3" y="71.0" width="1.0" height="1.0" fill="#4fb548"/><rect x="247.8" y="74.9" width="1.0" height="1.0" fill="#4fb548"/><rect x="250.3" y="73.6" width="1.0" height="1.0" fill="#4fb548"/><rect x="245.2" y="77.9" width="1.0" height="1.0" fill="#4fb548"/><rect x="246.5" y="77.4" width="1.0" height="1.0" fill="#fff"/><rect x="244.6" y="79.8" width="1.0" height="1.0" fill="#fff"/><rect x="250.7" y="75.2" width="1.0" height="1.0" fill="#fff"/><rect x="245.7" y="78.5" width="1.0" height="1.0" fill="#fff"/><rect x="245.1" y="79.7" width="1.0" height="1.0" fill="#fff"/><rect x="244.0" y="77.8" width="1.0" height="1.0" fill="#4fb548"/><rect x="238.8" y="81.0" width="1.0" height="1.0" fill="#2b8a4d"/><rect x="238.4" y="82.7" width="1.0" height="1.0" fill="#2b8a4d"/><rect x="239.7" y="80.6" width="1.0" height="1.0" fill="#2b8a4d"/><rect x="238.9" y="83.9" width="1.0" height="1.0" fill="#fff"/><rect x="242.1" y="80.0" width="1.0" height="1.0" fill="#4fb548"/><rect x="243.8" y="80.0" width="1.0" height="1.0" fill="#fff"/><rect x="240.2" y="80.7" width="1.0" height="1.0" fill="#2b8a4d"/><rect x="238.4" y="83.1" width="1.0" height="1.0" fill="#2b8a4d"/><rect x="234.3" y="84.3" width="1.0" height="1.0" fill="#2b8a4d"/><rect x="232.1" y="85.8" width="1.0" height="1.0" fill="#2b8a4d"/><rect x="231.6" y="86.6" width="1.0" height="1.0" fill="#2b8a4d"/><rect x="233.6" y="85.6" width="1.0" height="1.0" fill="#2b8a4d"/><rect x="234.0" y="87.1" width="1.0" height="1.0" fill="#fff"/><rect x="231.1" y="86.0" width="1.0" height="1.0" fill="#2b8a4d"/><rect x="232.0" y="86.4" width="1.0" height="1.0" fill="#2b8a4d"/><rect x="227.3" y="88.3" width="1.0" height="1.0" fill="#2b8a4d"/><rect x="228.8" y="87.3" width="1.0" height="1.0" fill="#2b8a4d"/><rect x="226.5" y="88.9" width="1.0" height="1.0" fill="#3a93d8"/><rect x="228.4" y="87.3" width="1.0" height="1.0" fill="#2b8a4d"/><rect x="229.0" y="86.5" width="1.0" height="1.0" fill="#2b8a4d"/><rect x="228.1" y="88.0" width="1.0" height="1.0" fill="#2b8a4d"/><rect x="225.0" y="88.9" width="1.0" height="1.0" fill="#3a93d8"/><rect x="223.5" y="91.4" width="1.0" height="1.0" fill="#fff"/><rect x="221.2" y="90.8" width="1.0" height="1.0" fill="#3a93d8"/><rect x="224.5" y="89.0" width="1.0" height="1.0" fill="#3a93d8"/><rect x="222.0" y="91.7" width="1.0" height="1.0" fill="#fff"/><rect x="225.1" y="89.6" width="1.0" height="1.0" fill="#3a93d8"/><rect x="221.1" y="90.8" width="1.0" height="1.0" fill="#3a93d8"/><rect x="219.2" y="91.8" width="1.0" height="1.0" fill="#3a93d8"/><rect x="215.4" y="95.1" width="1.0" height="1.0" fill="#3a93d8"/><rect x="215.7" y="95.9" width="1.0" height="1.0" fill="#3a93d8"/><rect x="217.9" y="96.0" width="1.0" height="1.0" fill="#fff"/><rect x="218.2" y="93.8" width="1.0" height="1.0" fill="#3a93d8"/><rect x="214.2" y="96.5" width="1.0" height="1.0" fill="#3a93d8"/><rect x="214.4" y="95.9" width="1.0" height="1.0" fill="#3a93d8"/><rect x="217.6" y="93.8" width="1.0" height="1.0" fill="#3a93d8"/><rect x="212.0" y="99.1" width="1.0" height="1.0" fill="#3b6cc2"/><rect x="208.6" y="103.2" width="1.0" height="1.0" fill="#27216f"/><rect x="214.1" y="97.7" width="1.0" height="1.0" fill="#3b6cc2"/><rect x="209.9" y="100.1" width="1.0" height="1.0" fill="#3b6cc2"/><rect x="214.0" y="97.2" width="1.0" height="1.0" fill="#3b6cc2"/><rect x="207.6" y="102.2" width="1.0" height="1.0" fill="#27216f"/><rect x="211.8" y="100.0" width="1.0" height="1.0" fill="#3b6cc2"/><rect x="213.4" y="99.1" width="1.0" height="1.0" fill="#fff"/><rect x="215.2" y="98.4" width="1.0" height="1.0" fill="#fff"/><rect x="202.3" y="109.6" width="1.0" height="1.0" fill="#27216f"/><rect x="207.5" y="104.5" width="1.0" height="1.0" fill="#27216f"/><rect x="207.7" y="106.0" width="1.0" height="1.0" fill="#fff"/><rect x="207.1" y="103.1" width="1.0" height="1.0" fill="#27216f"/><rect x="203.9" y="109.8" width="1.0" height="1.0" fill="#fff"/><rect x="203.7" y="106.8" width="1.0" height="1.0" fill="#27216f"/><rect x="202.3" y="109.2" width="1.0" height="1.0" fill="#27216f"/><rect x="203.9" y="108.2" width="1.0" height="1.0" fill="#fff"/><rect x="205.3" y="108.7" width="1.0" height="1.0" fill="#fff"/><rect x="201.7" y="111.9" width="1.0" height="1.0" fill="#fff"/><rect x="199.1" y="113.6" width="1.0" height="1.0" fill="#fff"/><rect x="200.1" y="110.5" width="1.0" height="1.0" fill="#27216f"/><rect x="199.2" y="112.2" width="1.0" height="1.0" fill="#27216f"/><rect x="200.0" y="110.4" width="1.0" height="1.0" fill="#27216f"/><rect x="200.0" y="110.9" width="1.0" height="1.0" fill="#27216f"/><rect x="195.0" y="116.7" width="1.0" height="1.0" fill="#27216f"/><rect x="197.3" y="114.6" width="1.0" height="1.0" fill="#27216f"/><rect x="197.8" y="116.9" width="1.0" height="1.0" fill="#fff"/><rect x="195.4" y="115.2" width="1.0" height="1.0" fill="#27216f"/><rect x="195.3" y="119.3" width="1.0" height="1.0" fill="#27216f"/><rect x="195.1" y="120.1" width="1.0" height="1.0" fill="#27216f"/><rect x="194.4" y="119.2" width="1.0" height="1.0" fill="#27216f"/><rect x="196.2" y="121.8" width="1.0" height="1.0" fill="#fff"/><rect x="195.6" y="122.7" width="1.0" height="1.0" fill="#27216f"/><rect x="197.2" y="124.5" width="1.0" height="1.0" fill="#27216f"/><rect x="195.9" y="124.7" width="1.0" height="1.0" fill="#27216f"/><rect x="194.9" y="122.2" width="1.0" height="1.0" fill="#27216f"/><rect x="201.4" y="125.8" width="1.0" height="1.0" fill="#fff"/><rect x="197.4" y="126.0" width="1.0" height="1.0" fill="#27216f"/><rect x="197.7" y="126.6" width="1.0" height="1.0" fill="#27216f"/><rect x="198.0" y="126.5" width="1.0" height="1.0" fill="#27216f"/><rect x="199.8" y="126.1" width="1.0" height="1.0" fill="#fff"/><rect x="205.6" y="131.0" width="1.0" height="1.0" fill="#27216f"/><rect x="201.9" y="129.4" width="1.0" height="1.0" fill="#27216f"/><rect x="202.9" y="129.4" width="1.0" height="1.0" fill="#27216f"/><rect x="206.5" y="131.0" width="1.0" height="1.0" fill="#27216f"/><rect x="205.4" y="129.2" width="1.0" height="1.0" fill="#fff"/><rect x="202.5" y="129.5" width="1.0" height="1.0" fill="#27216f"/><rect x="210.6" y="132.5" width="1.0" height="1.0" fill="#27216f"/><rect x="208.4" y="130.9" width="1.0" height="1.0" fill="#27216f"/><rect x="209.7" y="131.6" width="1.0" height="1.0" fill="#27216f"/><rect x="212.1" y="132.7" width="1.0" height="1.0" fill="#27216f"/><rect x="209.9" y="130.6" width="1.0" height="1.0" fill="#fff"/><rect x="207.1" y="132.0" width="1.0" height="1.0" fill="#27216f"/><rect x="210.8" y="130.9" width="1.0" height="1.0" fill="#fff"/><rect x="219.5" y="135.6" width="1.0" height="1.0" fill="#27216f"/><rect x="219.2" y="136.2" width="1.0" height="1.0" fill="#27216f"/><rect x="215.6" y="133.6" width="1.0" height="1.0" fill="#fff"/><rect x="215.0" y="133.3" width="1.0" height="1.0" fill="#fff"/><rect x="217.5" y="135.7" width="1.0" height="1.0" fill="#27216f"/><rect x="221.5" y="134.0" width="1.0" height="1.0" fill="#fff"/><rect x="218.5" y="133.9" width="1.0" height="1.0" fill="#fff"/><rect x="221.1" y="135.8" width="1.0" height="1.0" fill="#27216f"/><rect x="218.2" y="136.1" width="1.0" height="1.0" fill="#27216f"/><rect x="224.8" y="135.4" width="1.0" height="1.0" fill="#fff"/><rect x="229.5" y="135.4" width="1.0" height="1.0" fill="#fff"/><rect x="221.7" y="136.0" width="1.0" height="1.0" fill="#27216f"/><rect x="228.5" y="138.3" width="1.0" height="1.0" fill="#27216f"/><rect x="221.6" y="136.8" width="1.0" height="1.0" fill="#27216f"/><rect x="227.0" y="134.9" width="1.0" height="1.0" fill="#fff"/><rect x="222.4" y="136.9" width="1.0" height="1.0" fill="#27216f"/><rect x="226.8" y="137.0" width="1.0" height="1.0" fill="#27216f"/><rect x="235.6" y="138.4" width="1.0" height="1.0" fill="#fff"/><rect x="231.5" y="137.7" width="1.0" height="1.0" fill="#27216f"/><rect x="230.9" y="137.0" width="1.0" height="1.0" fill="#fff"/><rect x="234.9" y="138.4" width="1.0" height="1.0" fill="#27216f"/><rect x="231.0" y="137.4" width="1.0" height="1.0" fill="#27216f"/><rect x="230.9" y="138.9" width="1.0" height="1.0" fill="#27216f"/><rect x="236.6" y="139.0" width="1.0" height="1.0" fill="#27216f"/><rect x="229.9" y="138.6" width="1.0" height="1.0" fill="#27216f"/><rect x="234.7" y="137.6" width="1.0" height="1.0" fill="#fff"/><rect x="243.1" y="141.4" width="1.0" height="1.0" fill="#27216f"/><rect x="238.6" y="138.9" width="1.0" height="1.0" fill="#fff"/><rect x="242.7" y="139.6" width="1.0" height="1.0" fill="#fff"/><rect x="243.5" y="141.2" width="1.0" height="1.0" fill="#27216f"/><rect x="238.5" y="139.7" width="1.0" height="1.0" fill="#27216f"/><rect x="239.8" y="139.9" width="1.0" height="1.0" fill="#27216f"/><rect x="240.1" y="138.2" width="1.0" height="1.0" fill="#fff"/><rect x="244.3" y="141.0" width="1.0" height="1.0" fill="#27216f"/><rect x="249.1" y="142.2" width="1.0" height="1.0" fill="#27216f"/><rect x="246.6" y="141.0" width="1.0" height="1.0" fill="#fff"/><rect x="246.8" y="143.0" width="1.0" height="1.0" fill="#27216f"/><rect x="251.0" y="142.0" width="1.0" height="1.0" fill="#fff"/><rect x="250.8" y="142.3" width="1.0" height="1.0" fill="#27216f"/><rect x="246.8" y="139.8" width="1.0" height="1.0" fill="#fff"/><rect x="250.2" y="141.5" width="1.0" height="1.0" fill="#fff"/><rect x="251.5" y="143.6" width="1.0" height="1.0" fill="#27216f"/><rect x="253.0" y="143.0" width="1.0" height="1.0" fill="#27216f"/><rect x="253.2" y="141.4" width="1.0" height="1.0" fill="#fff"/><rect x="252.9" y="143.5" width="1.0" height="1.0" fill="#27216f"/><rect x="253.1" y="142.2" width="1.0" height="1.0" fill="#fff"/><rect x="256.4" y="141.5" width="1.0" height="1.0" fill="#fff"/><rect x="253.1" y="143.3" width="1.0" height="1.0" fill="#27216f"/><rect x="258.0" y="141.4" width="1.0" height="1.0" fill="#fff"/><rect x="260.2" y="143.3" width="1.0" height="1.0" fill="#27216f"/><rect x="264.6" y="141.2" width="1.0" height="1.0" fill="#27216f"/><rect x="262.1" y="143.1" width="1.0" height="1.0" fill="#27216f"/><rect x="263.0" y="141.5" width="1.0" height="1.0" fill="#27216f"/><rect x="262.5" y="140.2" width="1.0" height="1.0" fill="#fff"/><rect x="261.1" y="143.3" width="1.0" height="1.0" fill="#27216f"/><rect x="260.8" y="142.6" width="1.0" height="1.0" fill="#27216f"/><rect x="266.8" y="141.5" width="1.0" height="1.0" fill="#27216f"/><rect x="270.2" y="139.5" width="1.0" height="1.0" fill="#27216f"/><rect x="271.7" y="137.2" width="1.0" height="1.0" fill="#fff"/><rect x="271.7" y="139.3" width="1.0" height="1.0" fill="#27216f"/><rect x="267.4" y="141.8" width="1.0" height="1.0" fill="#27216f"/><rect x="270.3" y="140.1" width="1.0" height="1.0" fill="#27216f"/><rect x="270.3" y="139.3" width="1.0" height="1.0" fill="#27216f"/><rect x="268.0" y="139.8" width="1.0" height="1.0" fill="#fff"/><rect x="274.2" y="136.2" width="1.0" height="1.0" fill="#fff"/><rect x="273.5" y="136.8" width="1.0" height="1.0" fill="#fff"/><rect x="274.0" y="138.8" width="1.0" height="1.0" fill="#27216f"/><rect x="275.6" y="135.8" width="1.0" height="1.0" fill="#fff"/><rect x="277.4" y="135.0" width="1.0" height="1.0" fill="#fff"/><rect x="274.4" y="138.4" width="1.0" height="1.0" fill="#27216f"/><rect x="280.0" y="135.0" width="1.0" height="1.0" fill="#3b6cc2"/><rect x="279.7" y="136.1" width="1.0" height="1.0" fill="#3b6cc2"/><rect x="279.7" y="136.0" width="1.0" height="1.0" fill="#3b6cc2"/><rect x="280.0" y="136.3" width="1.0" height="1.0" fill="#3b6cc2"/><rect x="280.8" y="135.0" width="1.0" height="1.0" fill="#3b6cc2"/><rect x="281.5" y="134.6" width="1.0" height="1.0" fill="#3b6cc2"/><rect x="287.0" y="128.6" width="1.0" height="1.0" fill="#fff"/><rect x="285.6" y="131.5" width="1.0" height="1.0" fill="#3b6cc2"/><rect x="288.5" y="130.0" width="1.0" height="1.0" fill="#3b6cc2"/><rect x="287.8" y="128.7" width="1.0" height="1.0" fill="#3b6cc2"/><rect x="287.3" y="127.1" width="1.0" height="1.0" fill="#fff"/><rect x="286.3" y="131.4" width="1.0" height="1.0" fill="#3b6cc2"/><rect x="286.2" y="130.2" width="1.0" height="1.0" fill="#3b6cc2"/><rect x="290.7" y="125.0" width="1.0" height="1.0" fill="#fff"/><rect x="293.9" y="122.9" width="1.0" height="1.0" fill="#3a93d8"/><rect x="292.4" y="125.0" width="1.0" height="1.0" fill="#3a93d8"/><rect x="292.5" y="122.7" width="1.0" height="1.0" fill="#3a93d8"/><rect x="288.8" y="125.8" width="1.0" height="1.0" fill="#fff"/><rect x="292.1" y="125.6" width="1.0" height="1.0" fill="#3b6cc2"/><rect x="290.3" y="127.0" width="1.0" height="1.0" fill="#3b6cc2"/><rect x="292.4" y="122.0" width="1.0" height="1.0" fill="#fff"/><rect x="295.8" y="117.9" width="1.0" height="1.0" fill="#3a93d8"/><rect x="296.1" y="115.4" width="1.0" height="1.0" fill="#fff"/><rect x="294.1" y="118.5" width="1.0" height="1.0" fill="#fff"/><rect x="293.3" y="121.1" width="1.0" height="1.0" fill="#fff"/><rect x="294.2" y="119.1" width="1.0" height="1.0" fill="#fff"/><rect x="294.1" y="121.9" width="1.0" height="1.0" fill="#3a93d8"/><rect x="296.2" y="118.5" width="1.0" height="1.0" fill="#3a93d8"/><rect x="294.8" y="121.3" width="1.0" height="1.0" fill="#3a93d8"/><rect x="297.8" y="112.7" width="1.0" height="1.0" fill="#3a93d8"/><rect x="296.5" y="114.0" width="1.0" height="1.0" fill="#fff"/><rect x="297.5" y="112.9" width="1.0" height="1.0" fill="#3a93d8"/><rect x="297.6" y="115.4" width="1.0" height="1.0" fill="#3a93d8"/><rect x="297.8" y="114.3" width="1.0" height="1.0" fill="#3a93d8"/><rect x="294.7" y="110.5" width="1.0" height="1.0" fill="#fff"/><rect x="294.4" y="108.0" width="1.0" height="1.0" fill="#fff"/><rect x="293.8" y="107.9" width="1.0" height="1.0" fill="#fff"/><rect x="296.2" y="108.7" width="1.0" height="1.0" fill="#3a93d8"/><rect x="293.9" y="106.3" width="1.0" height="1.0" fill="#2b8a4d"/><rect x="291.2" y="104.2" width="1.0" height="1.0" fill="#fff"/><rect x="293.6" y="104.9" width="1.0" height="1.0" fill="#2b8a4d"/><rect x="292.0" y="102.7" width="1.0" height="1.0" fill="#2b8a4d"/><rect x="292.3" y="103.3" width="1.0" height="1.0" fill="#2b8a4d"/><rect x="290.4" y="100.3" width="1.0" height="1.0" fill="#2b8a4d"/><rect x="288.4" y="98.8" width="1.0" height="1.0" fill="#2b8a4d"/><rect x="291.6" y="102.4" width="1.0" height="1.0" fill="#2b8a4d"/><rect x="290.6" y="100.0" width="1.0" height="1.0" fill="#2b8a4d"/><rect x="290.6" y="100.5" width="1.0" height="1.0" fill="#2b8a4d"/><rect x="287.0" y="95.5" width="1.0" height="1.0" fill="#2b8a4d"/><rect x="285.8" y="97.0" width="1.0" height="1.0" fill="#fff"/><rect x="287.8" y="96.3" width="1.0" height="1.0" fill="#2b8a4d"/><rect x="288.3" y="96.4" width="1.0" height="1.0" fill="#2b8a4d"/><rect x="286.1" y="96.6" width="1.0" height="1.0" fill="#fff"/><rect x="284.8" y="92.5" width="1.0" height="1.0" fill="#2b8a4d"/><rect x="283.9" y="91.3" width="1.0" height="1.0" fill="#2b8a4d"/><rect x="285.7" y="91.8" width="1.0" height="1.0" fill="#2b8a4d"/><rect x="282.9" y="89.5" width="1.0" height="1.0" fill="#2b8a4d"/><rect x="282.8" y="89.9" width="1.0" height="1.0" fill="#fff"/><rect x="281.5" y="86.3" width="1.0" height="1.0" fill="#4fb548"/><rect x="280.9" y="85.2" width="1.0" height="1.0" fill="#4fb548"/><rect x="281.7" y="86.5" width="1.0" height="1.0" fill="#4fb548"/><rect x="281.8" y="87.3" width="1.0" height="1.0" fill="#4fb548"/><rect x="282.7" y="87.0" width="1.0" height="1.0" fill="#4fb548"/><rect x="281.1" y="86.8" width="1.0" height="1.0" fill="#4fb548"/><rect x="279.4" y="82.3" width="1.0" height="1.0" fill="#4fb548"/><rect x="279.0" y="79.9" width="1.0" height="1.0" fill="#4fb548"/><rect x="279.4" y="82.1" width="1.0" height="1.0" fill="#4fb548"/><rect x="279.5" y="82.6" width="1.0" height="1.0" fill="#4fb548"/><rect x="279.6" y="83.5" width="1.0" height="1.0" fill="#4fb548"/><rect x="275.1" y="76.6" width="1.0" height="1.0" fill="#fff"/><rect x="276.7" y="75.6" width="1.0" height="1.0" fill="#4fb548"/><rect x="276.8" y="75.0" width="1.0" height="1.0" fill="#4fb548"/><rect x="277.4" y="79.1" width="1.0" height="1.0" fill="#4fb548"/><rect x="276.1" y="77.8" width="1.0" height="1.0" fill="#fff"/><rect x="275.6" y="71.5" width="1.0" height="1.0" fill="#4fb548"/><rect x="273.1" y="69.8" width="1.0" height="1.0" fill="#fff"/><rect x="273.7" y="73.3" width="1.0" height="1.0" fill="#fff"/><rect x="274.5" y="71.4" width="1.0" height="1.0" fill="#fff"/><rect x="275.2" y="70.2" width="1.0" height="1.0" fill="#4fb548"/><rect x="276.0" y="74.1" width="1.0" height="1.0" fill="#4fb548"/><rect x="275.1" y="67.9" width="1.0" height="1.0" fill="#4fb548"/><rect x="275.0" y="63.5" width="1.0" height="1.0" fill="#f2d515"/><rect x="274.4" y="68.8" width="1.0" height="1.0" fill="#4fb548"/><rect x="273.9" y="68.9" width="1.0" height="1.0" fill="#fff"/><rect x="275.4" y="66.4" width="1.0" height="1.0" fill="#4fb548"/><rect x="274.0" y="64.7" width="1.0" height="1.0" fill="#fff"/><rect x="273.8" y="59.9" width="1.0" height="1.0" fill="#f2d515"/><rect x="273.4" y="62.0" width="1.0" height="1.0" fill="#fff"/><rect x="275.4" y="62.7" width="1.0" height="1.0" fill="#f2d515"/><rect x="274.4" y="61.8" width="1.0" height="1.0" fill="#f2d515"/><rect x="275.4" y="62.9" width="1.0" height="1.0" fill="#f2d515"/>
<path d="M247.00,97.00 C248.17,95.17 249.50,92.17 251.00,90.00 C252.50,87.83 254.17,85.83 256.00,84.00 C257.83,82.17 260.00,80.25 262.00,79.00 C264.00,77.75 266.08,76.83 268.00,76.50 C269.92,76.17 272.08,75.92 273.50,77.00 C274.92,78.08 275.58,80.83 276.50,83.00 C277.42,85.17 278.25,87.83 279.00,90.00 C279.75,92.17 281.17,94.25 281.00,96.00 C280.83,97.75 279.50,99.42 278.00,100.50 C276.50,101.58 273.83,101.58 272.00,102.50 C270.17,103.42 268.50,104.42 267.00,106.00 C265.50,107.58 264.17,109.83 263.00,112.00 C261.83,114.17 261.17,116.83 260.00,119.00 C258.83,121.17 257.67,123.42 256.00,125.00 C254.33,126.58 251.92,128.08 250.00,128.50 C248.08,128.92 246.08,128.42 244.50,127.50 C242.92,126.58 241.33,125.08 240.50,123.00 C239.67,120.92 239.33,117.67 239.50,115.00 C239.67,112.33 240.75,109.33 241.50,107.00 C242.25,104.67 243.08,102.67 244.00,101.00 C244.92,99.33 245.83,98.83 247.00,97.00Z" fill="#ffffff"/>
<rect x="267.0" y="87.7" width="1.0" height="1.0" fill="#4fb548"/>
<rect x="254.2" y="120.8" width="1.0" height="1.0" fill="#27216f"/>
<rect x="251.2" y="94.9" width="1.0" height="1.0" fill="#2b8a4d"/>
<rect x="277.8" y="99.7" width="1.0" height="1.0" fill="#27216f"/>
<rect x="256.1" y="84.5" width="1.0" height="1.0" fill="#2b8a4d"/>
<rect x="253.2" y="103.6" width="1.0" height="1.0" fill="#27216f"/>
<rect x="263.4" y="94.7" width="1.0" height="1.0" fill="#4fb548"/>
<rect x="275.7" y="92.9" width="1.0" height="1.0" fill="#4fb548"/>
<rect x="268.9" y="92.4" width="1.0" height="1.0" fill="#4fb548"/>
<rect x="270.6" y="79.7" width="1.0" height="1.0" fill="#4fb548"/>
<rect x="259.6" y="117.7" width="1.0" height="1.0" fill="#27216f"/>
<rect x="255.8" y="111.8" width="1.0" height="1.0" fill="#27216f"/>
<rect x="249.7" y="123.5" width="1.0" height="1.0" fill="#27216f"/>
<rect x="260.0" y="81.7" width="1.0" height="1.0" fill="#2b8a4d"/>
<rect x="252.0" y="120.9" width="1.0" height="1.0" fill="#27216f"/>
<rect x="251.3" y="106.0" width="1.0" height="1.0" fill="#27216f"/>
<rect x="246.2" y="101.2" width="1.0" height="1.0" fill="#3a93d8"/>
<rect x="263.8" y="88.8" width="1.0" height="1.0" fill="#2b8a4d"/>
<rect x="248.4" y="118.4" width="1.0" height="1.0" fill="#27216f"/>
<rect x="245.6" y="103.7" width="1.0" height="1.0" fill="#3a93d8"/>
<rect x="256.2" y="100.5" width="1.0" height="1.0" fill="#27216f"/>
<rect x="271.1" y="89.4" width="1.0" height="1.0" fill="#4fb548"/>
<rect x="242.2" y="109.7" width="1.0" height="1.0" fill="#27216f"/>
<rect x="276.6" y="93.0" width="1.0" height="1.0" fill="#4fb548"/>
<rect x="270.9" y="77.1" width="1.0" height="1.0" fill="#4fb548"/>
<rect x="253.7" y="94.4" width="1.0" height="1.0" fill="#4fb548"/>
<rect x="254.1" y="107.6" width="1.0" height="1.0" fill="#27216f"/>
<rect x="251.7" y="97.2" width="1.0" height="1.0" fill="#4fb548"/>
<rect x="245.7" y="115.4" width="1.0" height="1.0" fill="#27216f"/>
<rect x="272.5" y="79.4" width="1.0" height="1.0" fill="#4fb548"/>
<rect x="257.5" y="113.1" width="1.0" height="1.0" fill="#27216f"/>
<rect x="244.8" y="123.3" width="1.0" height="1.0" fill="#27216f"/>
<rect x="270.3" y="96.8" width="1.0" height="1.0" fill="#4fb548"/>
<rect x="273.0" y="77.2" width="1.0" height="1.0" fill="#2b8a4d"/>
<rect x="274.8" y="88.3" width="1.0" height="1.0" fill="#4fb548"/>
<rect x="263.8" y="87.7" width="1.0" height="1.0" fill="#4fb548"/>
<rect x="256.0" y="96.0" width="1.0" height="1.0" fill="#4fb548"/>
<rect x="262.6" y="97.7" width="1.0" height="1.0" fill="#2b8a4d"/>
<rect x="255.8" y="90.3" width="1.0" height="1.0" fill="#2b8a4d"/>
<rect x="247.0" y="103.7" width="1.0" height="1.0" fill="#3a93d8"/>
<rect x="255.0" y="116.6" width="1.0" height="1.0" fill="#27216f"/>
<rect x="248.1" y="109.0" width="1.0" height="1.0" fill="#27216f"/>
<rect x="256.1" y="85.5" width="1.0" height="1.0" fill="#4fb548"/>
<rect x="270.5" y="97.8" width="1.0" height="1.0" fill="#4fb548"/>
<rect x="254.6" y="98.9" width="1.0" height="1.0" fill="#4fb548"/>
<rect x="272.5" y="79.3" width="1.0" height="1.0" fill="#2b8a4d"/>
<rect x="245.6" y="99.9" width="1.0" height="1.0" fill="#3a93d8"/>
<rect x="259.2" y="84.7" width="1.0" height="1.0" fill="#4fb548"/>
<rect x="241.3" y="121.9" width="1.0" height="1.0" fill="#27216f"/>
<rect x="272.2" y="91.7" width="1.0" height="1.0" fill="#4fb548"/>
<rect x="275.7" y="91.3" width="1.0" height="1.0" fill="#4fb548"/>
<rect x="264.1" y="93.8" width="1.0" height="1.0" fill="#2b8a4d"/>
<rect x="264.8" y="107.0" width="1.0" height="1.0" fill="#27216f"/>
<rect x="261.8" y="100.5" width="1.0" height="1.0" fill="#27216f"/>
<rect x="253.6" y="104.6" width="1.0" height="1.0" fill="#27216f"/>
<rect x="247.9" y="97.6" width="1.0" height="1.0" fill="#2b8a4d"/>
<rect x="259.5" y="84.7" width="1.0" height="1.0" fill="#2b8a4d"/>
<rect x="241.1" y="117.9" width="1.0" height="1.0" fill="#3b6cc2"/>
<rect x="258.9" y="89.4" width="1.0" height="1.0" fill="#4fb548"/>
<rect x="262.6" y="96.5" width="1.0" height="1.0" fill="#4fb548"/>
<rect x="259.4" y="109.0" width="1.0" height="1.0" fill="#27216f"/>
<rect x="259.6" y="103.7" width="1.0" height="1.0" fill="#27216f"/>
<rect x="254.6" y="98.5" width="1.0" height="1.0" fill="#2b8a4d"/>
<rect x="268.7" y="94.0" width="1.0" height="1.0" fill="#4fb548"/>
<rect x="258.5" y="102.0" width="1.0" height="1.0" fill="#27216f"/>
<rect x="248.6" y="120.4" width="1.0" height="1.0" fill="#27216f"/>
<rect x="277.2" y="87.9" width="1.0" height="1.0" fill="#4fb548"/>
<rect x="263.3" y="87.8" width="1.0" height="1.0" fill="#4fb548"/>
<rect x="264.3" y="86.6" width="1.0" height="1.0" fill="#4fb548"/>
<rect x="245.7" y="101.2" width="1.0" height="1.0" fill="#3a93d8"/>
<rect x="265.7" y="79.1" width="1.0" height="1.0" fill="#4fb548"/>
<rect x="245.8" y="125.5" width="1.0" height="1.0" fill="#27216f"/>
<rect x="275.9" y="95.0" width="1.0" height="1.0" fill="#4fb548"/>
<rect x="273.5" y="82.0" width="1.0" height="1.0" fill="#2b8a4d"/>
<rect x="266.0" y="85.9" width="1.0" height="1.0" fill="#4fb548"/>
<rect x="270.7" y="96.7" width="1.0" height="1.0" fill="#2b8a4d"/>
<rect x="272.3" y="92.4" width="1.0" height="1.0" fill="#2b8a4d"/>
<rect x="271.3" y="77.2" width="1.0" height="1.0" fill="#4fb548"/>
<rect x="245.2" y="103.0" width="1.0" height="1.0" fill="#3a93d8"/>
<rect x="274.7" y="80.8" width="1.0" height="1.0" fill="#2b8a4d"/>
<rect x="269.4" y="88.0" width="1.0" height="1.0" fill="#4fb548"/>
<rect x="259.8" y="117.7" width="1.0" height="1.0" fill="#27216f"/>
<rect x="274.6" y="84.4" width="1.0" height="1.0" fill="#4fb548"/>
<rect x="248.7" y="116.7" width="1.0" height="1.0" fill="#27216f"/>
<rect x="261.0" y="83.1" width="1.0" height="1.0" fill="#2b8a4d"/>
<rect x="257.5" y="119.5" width="1.0" height="1.0" fill="#27216f"/>
<rect x="254.8" y="86.0" width="1.0" height="1.0" fill="#2b8a4d"/>
<rect x="260.6" y="104.4" width="1.0" height="1.0" fill="#27216f"/>
<rect x="269.2" y="88.9" width="1.0" height="1.0" fill="#4fb548"/>
<rect x="262.0" y="88.4" width="1.0" height="1.0" fill="#4fb548"/>
<rect x="256.2" y="89.4" width="1.0" height="1.0" fill="#2b8a4d"/>
<rect x="269.6" y="90.5" width="1.0" height="1.0" fill="#2b8a4d"/>
<rect x="272.1" y="101.0" width="1.0" height="1.0" fill="#27216f"/>
<rect x="255.7" y="103.1" width="1.0" height="1.0" fill="#27216f"/>
<rect x="254.6" y="125.4" width="1.0" height="1.0" fill="#27216f"/>
<rect x="241.3" y="119.4" width="1.0" height="1.0" fill="#27216f"/>
<rect x="264.9" y="90.4" width="1.0" height="1.0" fill="#4fb548"/>
<rect x="254.0" y="112.1" width="1.0" height="1.0" fill="#27216f"/>
<rect x="255.3" y="122.0" width="1.0" height="1.0" fill="#27216f"/>
<rect x="248.5" y="104.6" width="1.0" height="1.0" fill="#3a93d8"/>
<rect x="256.0" y="114.5" width="1.0" height="1.0" fill="#27216f"/>
<rect x="270.6" y="86.1" width="1.0" height="1.0" fill="#4fb548"/>
<rect x="249.4" y="105.7" width="1.0" height="1.0" fill="#3a93d8"/>
<rect x="268.2" y="85.0" width="1.0" height="1.0" fill="#2b8a4d"/>
<rect x="244.3" y="116.3" width="1.0" height="1.0" fill="#3b6cc2"/>
<rect x="267.3" y="92.1" width="1.0" height="1.0" fill="#4fb548"/>
<rect x="266.1" y="88.1" width="1.0" height="1.0" fill="#4fb548"/>
<rect x="241.6" y="122.2" width="1.0" height="1.0" fill="#27216f"/>
<rect x="247.0" y="114.1" width="1.0" height="1.0" fill="#27216f"/>
<rect x="258.8" y="102.5" width="1.0" height="1.0" fill="#27216f"/>
<rect x="272.1" y="88.1" width="1.0" height="1.0" fill="#2b8a4d"/>
<rect x="254.0" y="114.4" width="1.0" height="1.0" fill="#3b6cc2"/>
<rect x="252.7" y="101.7" width="1.0" height="1.0" fill="#3b6cc2"/>
<rect x="261.0" y="108.4" width="1.0" height="1.0" fill="#27216f"/>
<rect x="272.8" y="79.6" width="1.0" height="1.0" fill="#4fb548"/>
<rect x="262.1" y="103.3" width="1.0" height="1.0" fill="#27216f"/>
<rect x="273.7" y="87.4" width="1.0" height="1.0" fill="#2b8a4d"/>
<rect x="262.0" y="107.4" width="1.0" height="1.0" fill="#27216f"/>
<rect x="260.3" y="91.5" width="1.0" height="1.0" fill="#2b8a4d"/>
<rect x="245.5" y="112.4" width="1.0" height="1.0" fill="#27216f"/>
<rect x="257.9" y="119.1" width="1.0" height="1.0" fill="#27216f"/>
<rect x="252.0" y="97.1" width="1.0" height="1.0" fill="#4fb548"/>
<rect x="249.5" y="113.7" width="1.0" height="1.0" fill="#27216f"/>
<rect x="264.9" y="83.0" width="1.0" height="1.0" fill="#2b8a4d"/>
<rect x="277.5" y="88.6" width="1.0" height="1.0" fill="#2b8a4d"/>
<rect x="275.6" y="89.4" width="1.0" height="1.0" fill="#4fb548"/>
<rect x="247.8" y="109.8" width="1.0" height="1.0" fill="#27216f"/>
<rect x="249.8" y="120.1" width="1.0" height="1.0" fill="#27216f"/>
<rect x="245.7" y="124.7" width="1.0" height="1.0" fill="#27216f"/>
<rect x="247.3" y="112.5" width="1.0" height="1.0" fill="#27216f"/>
<rect x="269.7" y="79.6" width="1.0" height="1.0" fill="#4fb548"/>
<rect x="250.7" y="97.0" width="1.0" height="1.0" fill="#4fb548"/>
<rect x="254.3" y="119.8" width="1.0" height="1.0" fill="#27216f"/>
<rect x="248.5" y="110.0" width="1.0" height="1.0" fill="#27216f"/>
<rect x="262.0" y="80.7" width="1.0" height="1.0" fill="#4fb548"/>
<rect x="255.7" y="86.0" width="1.0" height="1.0" fill="#2b8a4d"/>
<rect x="258.1" y="103.4" width="1.0" height="1.0" fill="#27216f"/>
<rect x="241.4" y="110.1" width="1.0" height="1.0" fill="#27216f"/>
<rect x="264.1" y="110.2" width="1.0" height="1.0" fill="#3b6cc2"/>
<rect x="271.1" y="95.4" width="1.0" height="1.0" fill="#4fb548"/>
<rect x="257.3" y="94.7" width="1.0" height="1.0" fill="#4fb548"/>
<rect x="247.0" y="125.9" width="1.0" height="1.0" fill="#27216f"/>
<rect x="266.7" y="94.2" width="1.0" height="1.0" fill="#4fb548"/>
<rect x="270.2" y="91.5" width="1.0" height="1.0" fill="#4fb548"/>
<rect x="264.1" y="91.1" width="1.0" height="1.0" fill="#2b8a4d"/>
<rect x="241.0" y="113.1" width="1.0" height="1.0" fill="#3b6cc2"/>
<rect x="250.8" y="107.1" width="1.0" height="1.0" fill="#27216f"/>
<rect x="270.9" y="95.1" width="1.0" height="1.0" fill="#4fb548"/>
<rect x="266.7" y="88.5" width="1.0" height="1.0" fill="#2b8a4d"/>
<rect x="260.9" y="111.8" width="1.0" height="1.0" fill="#27216f"/>
<rect x="263.0" y="101.9" width="1.0" height="1.0" fill="#27216f"/>
<rect x="275.5" y="98.5" width="1.0" height="1.0" fill="#4fb548"/>
<rect x="257.0" y="117.4" width="1.0" height="1.0" fill="#27216f"/>
<rect x="270.2" y="97.9" width="1.0" height="1.0" fill="#4fb548"/>
<rect x="247.3" y="109.7" width="1.0" height="1.0" fill="#27216f"/>
<rect x="251.0" y="93.9" width="1.0" height="1.0" fill="#4fb548"/>
<rect x="251.2" y="117.5" width="1.0" height="1.0" fill="#27216f"/>
<rect x="277.1" y="85.3" width="1.0" height="1.0" fill="#4fb548"/>
<rect x="259.6" y="93.7" width="1.0" height="1.0" fill="#2b8a4d"/>
<rect x="253.4" y="95.8" width="1.0" height="1.0" fill="#4fb548"/>
<rect x="275.1" y="93.0" width="1.0" height="1.0" fill="#4fb548"/>
<rect x="249.0" y="124.5" width="1.0" height="1.0" fill="#27216f"/>
<rect x="269.0" y="91.8" width="1.0" height="1.0" fill="#4fb548"/>
<rect x="272.8" y="94.3" width="1.0" height="1.0" fill="#4fb548"/>
<rect x="265.9" y="98.6" width="1.0" height="1.0" fill="#4fb548"/>
<rect x="276.3" y="96.2" width="1.0" height="1.0" fill="#4fb548"/>
<rect x="278.4" y="97.4" width="1.0" height="1.0" fill="#4fb548"/>
<rect x="269.6" y="103.2" width="1.0" height="1.0" fill="#27216f"/>
<rect x="273.3" y="81.0" width="1.0" height="1.0" fill="#4fb548"/>
<rect x="244.2" y="116.7" width="1.0" height="1.0" fill="#27216f"/>
<rect x="243.3" y="109.7" width="1.0" height="1.0" fill="#27216f"/>
<rect x="243.3" y="110.2" width="1.0" height="1.0" fill="#27216f"/>
<rect x="255.0" y="101.4" width="1.0" height="1.0" fill="#27216f"/>
<rect x="252.0" y="91.0" width="1.0" height="1.0" fill="#4fb548"/>
<rect x="262.5" y="96.4" width="1.0" height="1.0" fill="#4fb548"/>
<rect x="253.8" y="119.2" width="1.0" height="1.0" fill="#27216f"/>
<rect x="256.7" y="98.7" width="1.0" height="1.0" fill="#4fb548"/>
<rect x="265.5" y="93.7" width="1.0" height="1.0" fill="#2b8a4d"/>
<rect x="249.4" y="121.9" width="1.0" height="1.0" fill="#27216f"/>
<rect x="254.2" y="102.2" width="1.0" height="1.0" fill="#27216f"/>
<rect x="264.7" y="91.5" width="1.0" height="1.0" fill="#4fb548"/>
<rect x="274.4" y="89.9" width="1.0" height="1.0" fill="#2b8a4d"/>
<rect x="267.8" y="77.5" width="1.0" height="1.0" fill="#2b8a4d"/>
<rect x="274.6" y="100.4" width="1.0" height="1.0" fill="#27216f"/>
<rect x="269.3" y="90.0" width="1.0" height="1.0" fill="#4fb548"/>
<rect x="276.2" y="82.4" width="1.0" height="1.0" fill="#2b8a4d"/>
<rect x="245.0" y="115.0" width="1.0" height="1.0" fill="#3b6cc2"/>
<rect x="268.7" y="88.1" width="1.0" height="1.0" fill="#2b8a4d"/>
<rect x="269.8" y="82.9" width="1.0" height="1.0" fill="#4fb548"/>
<rect x="270.2" y="77.1" width="1.0" height="1.0" fill="#2b8a4d"/>
<rect x="265.4" y="91.3" width="1.0" height="1.0" fill="#4fb548"/>
<rect x="247.5" y="121.5" width="1.0" height="1.0" fill="#27216f"/>
<rect x="247.4" y="115.8" width="1.0" height="1.0" fill="#3b6cc2"/>
<rect x="267.9" y="86.4" width="1.0" height="1.0" fill="#4fb548"/>
<rect x="271.6" y="96.9" width="1.0" height="1.0" fill="#4fb548"/>
<rect x="245.8" y="117.3" width="1.0" height="1.0" fill="#27216f"/>
<rect x="263.1" y="89.8" width="1.0" height="1.0" fill="#4fb548"/>
<rect x="272.5" y="100.3" width="1.0" height="1.0" fill="#3b6cc2"/>
<rect x="263.7" y="79.5" width="1.0" height="1.0" fill="#4fb548"/>
<rect x="252.4" y="120.5" width="1.0" height="1.0" fill="#27216f"/>
<rect x="255.5" y="123.2" width="1.0" height="1.0" fill="#27216f"/>
<rect x="255.0" y="97.9" width="1.0" height="1.0" fill="#4fb548"/>
<rect x="272.2" y="84.1" width="1.0" height="1.0" fill="#2b8a4d"/>
<rect x="264.5" y="79.9" width="1.0" height="1.0" fill="#4fb548"/>
<rect x="262.6" y="80.0" width="1.0" height="1.0" fill="#4fb548"/>
<rect x="246.5" y="104.5" width="1.0" height="1.0" fill="#3a93d8"/>
<rect x="261.2" y="82.6" width="1.0" height="1.0" fill="#4fb548"/>
<rect x="261.8" y="102.3" width="1.0" height="1.0" fill="#27216f"/>
<rect x="260.6" y="83.4" width="1.0" height="1.0" fill="#4fb548"/>
<rect x="262.3" y="93.7" width="1.0" height="1.0" fill="#4fb548"/>
<rect x="258.0" y="85.4" width="1.0" height="1.0" fill="#4fb548"/>
<rect x="251.1" y="119.4" width="1.0" height="1.0" fill="#27216f"/>
<rect x="241.6" y="123.1" width="1.0" height="1.0" fill="#27216f"/>
<rect x="250.6" y="113.3" width="1.0" height="1.0" fill="#27216f"/>
<rect x="262.8" y="89.9" width="1.0" height="1.0" fill="#2b8a4d"/>
<rect x="270.3" y="119.0" width="1.0" height="1.0" fill="#ffffff"/>
<rect x="261.9" y="114.8" width="1.0" height="1.0" fill="#ffffff"/>
<rect x="270.8" y="116.9" width="1.0" height="1.0" fill="#ffffff"/>
<rect x="265.8" y="103.0" width="1.0" height="1.0" fill="#ffffff"/>
<rect x="261.9" y="117.9" width="1.0" height="1.0" fill="#ffffff"/>
<rect x="264.3" y="104.2" width="1.0" height="1.0" fill="#ffffff"/>
<rect x="260.8" y="106.1" width="1.0" height="1.0" fill="#ffffff"/>
<rect x="263.9" y="123.4" width="1.0" height="1.0" fill="#ffffff"/>
<rect x="267.5" y="112.4" width="1.0" height="1.0" fill="#ffffff"/>
<rect x="274.7" y="121.9" width="1.0" height="1.0" fill="#ffffff"/>
<rect x="260.8" y="115.4" width="1.0" height="1.0" fill="#ffffff"/>
<rect x="258.2" y="117.5" width="1.0" height="1.0" fill="#ffffff"/>
<rect x="264.4" y="104.7" width="1.0" height="1.0" fill="#ffffff"/>
<rect x="270.2" y="111.0" width="1.0" height="1.0" fill="#ffffff"/>
<rect x="262.0" y="120.3" width="1.0" height="1.0" fill="#ffffff"/>
<rect x="261.6" y="105.6" width="1.0" height="1.0" fill="#ffffff"/>
<rect x="267.0" y="106.4" width="1.0" height="1.0" fill="#ffffff"/>
<rect x="267.8" y="121.9" width="1.0" height="1.0" fill="#ffffff"/>
<rect x="272.4" y="117.3" width="1.0" height="1.0" fill="#ffffff"/>
<rect x="265.4" y="119.0" width="1.0" height="1.0" fill="#ffffff"/>
<rect x="265.7" y="103.0" width="1.0" height="1.0" fill="#ffffff"/>
<rect x="271.7" y="120.2" width="1.0" height="1.0" fill="#ffffff"/>
<rect x="264.2" y="114.7" width="1.0" height="1.0" fill="#ffffff"/>
<rect x="256.1" y="112.2" width="1.0" height="1.0" fill="#ffffff"/>
<rect x="256.4" y="103.5" width="1.0" height="1.0" fill="#ffffff"/>
<rect x="270.5" y="111.5" width="1.0" height="1.0" fill="#ffffff"/>
<rect x="264.1" y="105.9" width="1.0" height="1.0" fill="#ffffff"/>
<rect x="264.5" y="120.4" width="1.0" height="1.0" fill="#ffffff"/>
<rect x="258.1" y="107.2" width="1.0" height="1.0" fill="#ffffff"/>
<rect x="271.9" y="119.6" width="1.0" height="1.0" fill="#ffffff"/>
<rect x="258.9" y="116.7" width="1.0" height="1.0" fill="#ffffff"/>
<rect x="257.0" y="119.9" width="1.0" height="1.0" fill="#ffffff"/>
<rect x="260.4" y="107.2" width="1.0" height="1.0" fill="#ffffff"/>
<rect x="261.4" y="121.5" width="1.0" height="1.0" fill="#ffffff"/>
<rect x="270.6" y="121.6" width="1.0" height="1.0" fill="#ffffff"/>
<rect x="265.5" y="112.5" width="1.0" height="1.0" fill="#ffffff"/>
<rect x="260.2" y="122.7" width="1.0" height="1.0" fill="#ffffff"/>
<rect x="266.9" y="119.6" width="1.0" height="1.0" fill="#ffffff"/>
<rect x="262.0" y="109.1" width="1.0" height="1.0" fill="#ffffff"/>
<rect x="258.4" y="113.7" width="1.0" height="1.0" fill="#ffffff"/>
<rect x="265.0" y="122.4" width="1.0" height="1.0" fill="#ffffff"/>
<rect x="257.8" y="115.4" width="1.0" height="1.0" fill="#ffffff"/>
<rect x="266.7" y="123.0" width="1.0" height="1.0" fill="#ffffff"/>
<rect x="264.7" y="116.2" width="1.0" height="1.0" fill="#ffffff"/>
<rect x="268.5" y="116.6" width="1.0" height="1.0" fill="#ffffff"/>
<rect x="264.7" y="123.5" width="1.0" height="1.0" fill="#ffffff"/>
<rect x="257.4" y="120.2" width="1.0" height="1.0" fill="#ffffff"/>
<rect x="272.4" y="113.8" width="1.0" height="1.0" fill="#ffffff"/>
<rect x="266.7" y="118.3" width="1.0" height="1.0" fill="#ffffff"/>
<rect x="263.8" y="104.2" width="1.0" height="1.0" fill="#ffffff"/>
<rect x="259.5" y="114.5" width="1.0" height="1.0" fill="#ffffff"/>
<rect x="253.8" y="122.5" width="1.0" height="1.0" fill="#27216f"/>
<rect x="258.8" y="115.9" width="1.0" height="1.0" fill="#27216f"/>
<rect x="261.2" y="116.1" width="1.0" height="1.0" fill="#27216f"/>
<rect x="256.9" y="117.9" width="1.0" height="1.0" fill="#27216f"/>
<rect x="253.6" y="125.5" width="1.0" height="1.0" fill="#27216f"/>
<rect x="251.5" y="114.3" width="1.0" height="1.0" fill="#27216f"/>
<rect x="248.8" y="119.2" width="1.0" height="1.0" fill="#27216f"/>
<rect x="260.8" y="114.4" width="1.0" height="1.0" fill="#27216f"/>
<rect x="252.2" y="112.7" width="1.0" height="1.0" fill="#27216f"/>
<rect x="252.0" y="117.4" width="1.0" height="1.0" fill="#27216f"/>
<rect x="249.7" y="116.3" width="1.0" height="1.0" fill="#27216f"/>
<rect x="252.4" y="118.1" width="1.0" height="1.0" fill="#27216f"/>
<rect x="248.2" y="115.6" width="1.0" height="1.0" fill="#27216f"/>
<rect x="253.9" y="117.4" width="1.0" height="1.0" fill="#27216f"/>
<rect x="250.1" y="124.7" width="1.0" height="1.0" fill="#27216f"/>
<rect x="255.0" y="123.7" width="1.0" height="1.0" fill="#27216f"/>
<path d="M279.40,34.00 C279.75,32.72 280.87,31.77 281.50,30.80 C282.13,29.83 282.37,28.60 283.20,28.20 C284.03,27.80 285.30,28.33 286.50,28.40 C287.70,28.47 289.12,28.50 290.40,28.60 C291.68,28.70 293.02,28.87 294.20,29.00 C295.38,29.13 296.70,28.98 297.50,29.40 C298.30,29.82 298.88,30.67 299.00,31.50 C299.12,32.33 298.78,33.75 298.20,34.40 C297.62,35.05 296.45,35.00 295.50,35.40 C294.55,35.80 293.42,36.12 292.50,36.80 C291.58,37.48 290.83,38.67 290.00,39.50 C289.17,40.33 288.42,40.97 287.50,41.80 C286.58,42.63 285.28,43.83 284.50,44.50 C283.72,45.17 283.38,46.05 282.80,45.80 C282.22,45.55 281.57,44.22 281.00,43.00 C280.43,41.78 279.67,40.00 279.40,38.50 C279.13,37.00 279.05,35.28 279.40,34.00Z" fill="#f05a22"/>
<path d="M291.20,29.20 C291.73,28.60 293.13,28.77 294.20,28.80 C295.27,28.83 296.80,28.95 297.60,29.40 C298.40,29.85 298.93,30.70 299.00,31.50 C299.07,32.30 298.63,33.57 298.00,34.20 C297.37,34.83 296.10,35.17 295.20,35.30 C294.30,35.43 293.30,35.48 292.60,35.00 C291.90,34.52 291.23,33.37 291.00,32.40 C290.77,31.43 290.67,29.80 291.20,29.20Z" fill="#e8232a"/>
<path d="M282.80,28.40 C283.13,27.93 284.70,27.90 285.50,28.00 C286.30,28.10 287.52,28.57 287.60,29.00 C287.68,29.43 286.68,30.30 286.00,30.60 C285.32,30.90 284.03,31.17 283.50,30.80 C282.97,30.43 282.47,28.87 282.80,28.40Z" fill="#e8232a"/>
<rect x="279.5" y="30.9" width="1.0" height="1.0" fill="#f05a22"/><rect x="278.5" y="32.5" width="1.0" height="1.0" fill="#f05a22"/><rect x="279.4" y="31.3" width="1.0" height="1.0" fill="#f05a22"/><rect x="279.1" y="32.4" width="1.0" height="1.0" fill="#f05a22"/><rect x="281.6" y="28.7" width="1.0" height="1.0" fill="#e8232a"/><rect x="282.2" y="30.1" width="1.0" height="1.0" fill="#fff"/><rect x="281.8" y="27.8" width="1.0" height="1.0" fill="#e8232a"/><rect x="285.8" y="28.2" width="1.0" height="1.0" fill="#fff"/><rect x="283.0" y="27.1" width="1.0" height="1.0" fill="#e8232a"/><rect x="285.0" y="27.3" width="1.0" height="1.0" fill="#e8232a"/><rect x="286.5" y="27.6" width="1.0" height="1.0" fill="#e8232a"/><rect x="289.8" y="27.3" width="1.0" height="1.0" fill="#e8232a"/><rect x="289.0" y="27.6" width="1.0" height="1.0" fill="#e8232a"/><rect x="288.9" y="27.6" width="1.0" height="1.0" fill="#e8232a"/><rect x="292.9" y="28.8" width="1.0" height="1.0" fill="#fff"/><rect x="293.3" y="27.8" width="1.0" height="1.0" fill="#e8232a"/><rect x="292.3" y="29.4" width="1.0" height="1.0" fill="#fff"/><rect x="291.2" y="28.2" width="1.0" height="1.0" fill="#e8232a"/><rect x="295.5" y="27.7" width="1.0" height="1.0" fill="#e8232a"/><rect x="295.7" y="28.3" width="1.0" height="1.0" fill="#e8232a"/><rect x="294.7" y="27.6" width="1.0" height="1.0" fill="#e8232a"/><rect x="298.4" y="30.6" width="1.0" height="1.0" fill="#e8232a"/><rect x="298.6" y="30.1" width="1.0" height="1.0" fill="#e8232a"/><rect x="299.1" y="30.3" width="1.0" height="1.0" fill="#e8232a"/><rect x="297.0" y="32.6" width="1.0" height="1.0" fill="#fff"/><rect x="298.8" y="33.3" width="1.0" height="1.0" fill="#e8232a"/><rect x="298.4" y="31.8" width="1.0" height="1.0" fill="#e8232a"/><rect x="295.4" y="34.4" width="1.0" height="1.0" fill="#fff"/><rect x="297.1" y="34.2" width="1.0" height="1.0" fill="#e8232a"/><rect x="295.4" y="35.8" width="1.0" height="1.0" fill="#e8232a"/><rect x="292.9" y="36.0" width="1.0" height="1.0" fill="#e8232a"/><rect x="294.0" y="35.4" width="1.0" height="1.0" fill="#e8232a"/><rect x="294.4" y="34.8" width="1.0" height="1.0" fill="#fff"/><rect x="291.4" y="38.0" width="1.0" height="1.0" fill="#e8232a"/><rect x="291.2" y="35.7" width="1.0" height="1.0" fill="#fff"/><rect x="292.0" y="37.4" width="1.0" height="1.0" fill="#e8232a"/><rect x="290.7" y="36.7" width="1.0" height="1.0" fill="#fff"/><rect x="287.7" y="41.0" width="1.0" height="1.0" fill="#f05a22"/><rect x="287.0" y="40.4" width="1.0" height="1.0" fill="#fff"/><rect x="287.6" y="40.8" width="1.0" height="1.0" fill="#f05a22"/><rect x="288.5" y="40.0" width="1.0" height="1.0" fill="#f05a22"/><rect x="285.3" y="43.8" width="1.0" height="1.0" fill="#f05a22"/><rect x="285.0" y="42.2" width="1.0" height="1.0" fill="#fff"/><rect x="285.2" y="44.5" width="1.0" height="1.0" fill="#f05a22"/><rect x="284.4" y="44.2" width="1.0" height="1.0" fill="#f05a22"/><rect x="283.5" y="43.6" width="1.0" height="1.0" fill="#fff"/><rect x="283.7" y="45.2" width="1.0" height="1.0" fill="#f05a22"/><rect x="281.8" y="43.8" width="1.0" height="1.0" fill="#fff"/><rect x="281.9" y="44.0" width="1.0" height="1.0" fill="#fff"/><rect x="280.5" y="43.6" width="1.0" height="1.0" fill="#f05a22"/><rect x="281.0" y="41.3" width="1.0" height="1.0" fill="#fff"/><rect x="279.4" y="41.5" width="1.0" height="1.0" fill="#f05a22"/><rect x="278.1" y="38.4" width="1.0" height="1.0" fill="#f05a22"/><rect x="278.2" y="38.7" width="1.0" height="1.0" fill="#f05a22"/><rect x="280.6" y="42.1" width="1.0" height="1.0" fill="#fff"/><rect x="278.0" y="34.1" width="1.0" height="1.0" fill="#f05a22"/><rect x="279.3" y="36.8" width="1.0" height="1.0" fill="#fff"/><rect x="277.7" y="35.2" width="1.0" height="1.0" fill="#f05a22"/><rect x="278.7" y="37.8" width="1.0" height="1.0" fill="#f05a22"/><rect x="277.9" y="34.0" width="1.0" height="1.0" fill="#f05a22"/>
<rect x="280.4" y="46.4" width="1.2" height="1.2" fill="#f08a22"/><rect x="281.0" y="49.6" width="1.2" height="1.0" fill="#f08a22"/>
<line x1="218.2" y1="84.2" x2="319.4" y2="143.4" stroke="#555" stroke-width="1.6" stroke-dasharray="2.7,1.8"/>
<path d="M213.20,128.00 C214.30,127.63 217.75,126.88 219.80,125.80 C221.85,124.72 223.92,123.27 225.50,121.50 C227.08,119.73 228.25,117.37 229.30,115.20 C230.35,113.03 230.93,110.63 231.80,108.50 C232.67,106.37 233.47,104.40 234.50,102.40 C235.53,100.40 236.82,98.30 238.00,96.50 C239.18,94.70 240.27,93.27 241.60,91.60 C242.93,89.93 244.47,88.07 246.00,86.50 C247.53,84.93 249.20,83.58 250.80,82.20 C252.40,80.82 254.00,79.50 255.60,78.20 C257.20,76.90 258.75,75.77 260.40,74.40 C262.05,73.03 263.92,71.52 265.50,70.00 C267.08,68.48 268.52,67.05 269.90,65.30 C271.28,63.55 272.57,61.52 273.80,59.50 C275.03,57.48 276.22,55.32 277.30,53.20 C278.38,51.08 279.32,48.93 280.30,46.80 C281.28,44.67 282.18,42.33 283.20,40.40 C284.22,38.47 285.37,36.67 286.40,35.20 C287.43,33.73 288.53,33.07 289.40,31.60 C290.27,30.13 291.23,27.27 291.60,26.40" fill="none" stroke="#000" stroke-width="1.3"/>
<path d="M277.30,53.20 C276.85,54.33 275.22,57.70 274.60,60.00 C273.98,62.30 273.67,64.67 273.60,67.00 C273.53,69.33 273.80,71.88 274.20,74.00 C274.60,76.12 275.27,77.70 276.00,79.70 C276.73,81.70 277.72,83.95 278.60,86.00 C279.48,88.05 280.37,90.00 281.30,92.00 C282.23,94.00 283.42,95.97 284.20,98.00 C284.98,100.03 285.48,102.12 286.00,104.20 C286.52,106.28 287.15,108.48 287.30,110.50 C287.45,112.52 287.42,114.38 286.90,116.30 C286.38,118.22 285.38,120.32 284.20,122.00 C283.02,123.68 281.92,124.87 279.80,126.40 C277.68,127.93 274.38,129.93 271.50,131.20 C268.62,132.47 265.92,133.27 262.50,134.00 C259.08,134.73 254.72,135.33 251.00,135.60 C247.28,135.87 242.00,135.60 240.20,135.60" fill="none" stroke="#000" stroke-width="1.3"/>
<circle cx="219.8" cy="125.8" r="3.3" fill="#f4e51b"/>
<text transform="translate(219.80,127.80) scale(0.950,1)" font-size="5.6" text-anchor="middle" fill="#2a2a10">1</text>
<circle cx="229.3" cy="115.2" r="3.3" fill="#f4e51b"/>
<text transform="translate(229.30,117.20) scale(0.950,1)" font-size="5.6" text-anchor="middle" fill="#2a2a10">2</text>
<circle cx="234.5" cy="102.4" r="3.3" fill="#f4e51b"/>
<text transform="translate(234.50,104.40) scale(0.950,1)" font-size="5.6" text-anchor="middle" fill="#2a2a10">3</text>
<circle cx="241.6" cy="91.6" r="3.3" fill="#f4e51b"/>
<text transform="translate(241.60,93.60) scale(0.950,1)" font-size="5.6" text-anchor="middle" fill="#2a2a10">4</text>
<circle cx="250.8" cy="82.2" r="3.3" fill="#f4e51b"/>
<text transform="translate(250.80,84.20) scale(0.950,1)" font-size="5.6" text-anchor="middle" fill="#2a2a10">5</text>
<circle cx="260.4" cy="74.4" r="3.3" fill="#f4e51b"/>
<text transform="translate(260.40,76.40) scale(0.950,1)" font-size="5.6" text-anchor="middle" fill="#2a2a10">6</text>
<circle cx="269.9" cy="65.3" r="3.3" fill="#f4e51b"/>
<text transform="translate(269.90,67.30) scale(0.950,1)" font-size="5.6" text-anchor="middle" fill="#2a2a10">7</text>
<circle cx="277.3" cy="53.2" r="3.3" fill="#f4e51b"/>
<text transform="translate(277.30,55.20) scale(0.950,1)" font-size="5.6" text-anchor="middle" fill="#2a2a10">8</text>
<circle cx="283.2" cy="40.4" r="3.3" fill="#f4e51b"/>
<text transform="translate(283.20,42.40) scale(0.950,1)" font-size="5.6" text-anchor="middle" fill="#2a2a10">9</text>
<circle cx="289.4" cy="31.8" r="3.3" fill="#f4e51b"/>
<text transform="translate(289.40,33.80) scale(0.620,1)" font-size="5.2" text-anchor="middle" fill="#2a2a10">10</text>
<circle cx="276.0" cy="79.7" r="3.3" fill="#f4e51b"/>
<text transform="translate(276.00,81.70) scale(0.950,1)" font-size="5.6" text-anchor="middle" fill="#2a2a10">6</text>
<circle cx="281.3" cy="92.0" r="3.3" fill="#f4e51b"/>
<text transform="translate(281.30,94.00) scale(0.950,1)" font-size="5.6" text-anchor="middle" fill="#2a2a10">5</text>
<circle cx="286.0" cy="104.2" r="3.3" fill="#f4e51b"/>
<text transform="translate(286.00,106.20) scale(0.950,1)" font-size="5.6" text-anchor="middle" fill="#2a2a10">4</text>
<circle cx="286.9" cy="116.3" r="3.3" fill="#f4e51b"/>
<text transform="translate(286.90,118.30) scale(0.950,1)" font-size="5.6" text-anchor="middle" fill="#2a2a10">3</text>
<circle cx="279.8" cy="126.4" r="3.3" fill="#f4e51b"/>
<text transform="translate(279.80,128.40) scale(0.950,1)" font-size="5.6" text-anchor="middle" fill="#2a2a10">2</text>
<circle cx="262.8" cy="133.9" r="3.3" fill="#f4e51b"/>
<text transform="translate(262.80,135.90) scale(0.950,1)" font-size="5.6" text-anchor="middle" fill="#2a2a10">1</text>
<ellipse cx="211.3" cy="76.1" rx="14.5" ry="6.0" fill="#c2171d"/>
<text transform="translate(203.80,79.30)" font-size="6.6" font-weight="bold" fill="#fff">Wnt</text>
<text transform="translate(215.70,77.30)" font-size="3.9" font-weight="bold" fill="#fff">hi</text>
<ellipse cx="315.8" cy="113.4" rx="14.3" ry="5.8" fill="#3f72b3"/>
<text transform="translate(308.30,116.60)" font-size="6.6" font-weight="bold" fill="#fff">Wnt</text>
<text transform="translate(320.20,114.60)" font-size="3.9" font-weight="bold" fill="#fff">lo</text>
<text transform="translate(301.80,129.60) scale(0.800,1)" font-size="6.9" fill="#444">AE</text>
<text transform="translate(301.80,147.60) scale(0.800,1)" font-size="6.9" fill="#444">VE</text>
<line x1="398.8" y1="36.40" x2="398.8" y2="85.93" stroke="#9898d8" stroke-width="1.15"/>
<line x1="411.4" y1="36.73" x2="411.4" y2="85.27" stroke="#9898d8" stroke-width="1.15"/>
<line x1="424.0" y1="37.06" x2="424.0" y2="84.62" stroke="#9898d8" stroke-width="1.15"/>
<line x1="436.6" y1="42.30" x2="436.6" y2="83.96" stroke="#9898d8" stroke-width="1.15"/>
<line x1="449.1" y1="41.65" x2="449.1" y2="85.60" stroke="#9898d8" stroke-width="1.15"/>
<line x1="461.7" y1="44.93" x2="461.7" y2="84.94" stroke="#9898d8" stroke-width="1.15"/>
<line x1="474.2" y1="48.54" x2="474.2" y2="84.94" stroke="#9898d8" stroke-width="1.15"/>
<line x1="486.8" y1="50.18" x2="486.8" y2="81.34" stroke="#9898d8" stroke-width="1.15"/>
<line x1="398.8" y1="66.58" x2="398.8" y2="74.12" stroke="#eb9a70" stroke-width="1"/>
<line x1="411.4" y1="65.92" x2="411.4" y2="74.12" stroke="#eb9a70" stroke-width="1"/>
<line x1="424.0" y1="65.26" x2="424.0" y2="74.12" stroke="#eb9a70" stroke-width="1"/>
<line x1="436.6" y1="64.28" x2="436.6" y2="74.12" stroke="#eb9a70" stroke-width="1"/>
<line x1="449.1" y1="39.68" x2="449.1" y2="72.48" stroke="#eb9a70" stroke-width="1"/>
<line x1="461.7" y1="39.02" x2="461.7" y2="70.84" stroke="#eb9a70" stroke-width="1"/>
<line x1="474.2" y1="37.38" x2="474.2" y2="65.92" stroke="#eb9a70" stroke-width="1"/>
<line x1="486.8" y1="37.06" x2="486.8" y2="62.64" stroke="#eb9a70" stroke-width="1"/>
<circle cx="398.8" cy="51.16" r="1.05" fill="#5252b2"/>
<circle cx="398.8" cy="49.52" r="1.05" fill="#5252b2"/>
<circle cx="398.8" cy="46.24" r="1.05" fill="#5252b2"/>
<circle cx="398.8" cy="44.60" r="1.05" fill="#5252b2"/>
<circle cx="398.8" cy="42.96" r="1.05" fill="#5252b2"/>
<circle cx="398.8" cy="41.32" r="1.05" fill="#5252b2"/>
<circle cx="398.8" cy="39.68" r="1.05" fill="#5252b2"/>
<circle cx="398.8" cy="38.04" r="1.05" fill="#5252b2"/>
<circle cx="398.8" cy="83.96" r="1.05" fill="#5252b2"/>
<circle cx="411.4" cy="52.80" r="1.05" fill="#5252b2"/>
<circle cx="411.4" cy="51.16" r="1.05" fill="#5252b2"/>
<circle cx="411.4" cy="47.88" r="1.05" fill="#5252b2"/>
<circle cx="411.4" cy="39.68" r="1.05" fill="#5252b2"/>
<circle cx="411.4" cy="83.96" r="1.05" fill="#5252b2"/>
<circle cx="424.0" cy="56.08" r="1.05" fill="#5252b2"/>
<circle cx="424.0" cy="54.44" r="1.05" fill="#5252b2"/>
<circle cx="424.0" cy="51.16" r="1.05" fill="#5252b2"/>
<circle cx="424.0" cy="49.52" r="1.05" fill="#5252b2"/>
<circle cx="424.0" cy="39.68" r="1.05" fill="#5252b2"/>
<circle cx="436.6" cy="54.44" r="1.05" fill="#5252b2"/>
<circle cx="436.6" cy="52.80" r="1.05" fill="#5252b2"/>
<circle cx="436.6" cy="49.52" r="1.05" fill="#5252b2"/>
<circle cx="436.6" cy="44.60" r="1.05" fill="#5252b2"/>
<circle cx="436.6" cy="83.96" r="1.05" fill="#5252b2"/>
<circle cx="449.1" cy="51.16" r="1.05" fill="#5252b2"/>
<circle cx="449.1" cy="49.52" r="1.05" fill="#5252b2"/>
<circle cx="449.1" cy="83.96" r="1.05" fill="#5252b2"/>
<circle cx="461.7" cy="52.80" r="1.05" fill="#5252b2"/>
<circle cx="398.8" cy="59.36" r="0.8" fill="#d8643a" fill-opacity="0.8"/>
<circle cx="398.8" cy="57.72" r="0.8" fill="#d8643a" fill-opacity="0.8"/>
<circle cx="398.8" cy="56.08" r="0.8" fill="#d8643a" fill-opacity="0.8"/>
<circle cx="411.4" cy="59.36" r="0.8" fill="#d8643a" fill-opacity="0.8"/>
<circle cx="411.4" cy="57.72" r="0.8" fill="#d8643a" fill-opacity="0.8"/>
<circle cx="424.0" cy="59.36" r="0.8" fill="#d8643a" fill-opacity="0.8"/>
<circle cx="424.0" cy="57.72" r="0.8" fill="#d8643a" fill-opacity="0.8"/>
<circle cx="424.0" cy="56.08" r="0.8" fill="#d8643a" fill-opacity="0.8"/>
<circle cx="424.0" cy="54.44" r="0.8" fill="#d8643a" fill-opacity="0.8"/>
<circle cx="436.6" cy="61.00" r="0.8" fill="#d8643a" fill-opacity="0.8"/>
<circle cx="436.6" cy="57.72" r="0.8" fill="#d8643a" fill-opacity="0.8"/>
<circle cx="436.6" cy="56.08" r="0.8" fill="#d8643a" fill-opacity="0.8"/>
<circle cx="449.1" cy="46.24" r="0.8" fill="#d8643a" fill-opacity="0.8"/>
<circle cx="449.1" cy="42.96" r="0.8" fill="#d8643a" fill-opacity="0.8"/>
<circle cx="461.7" cy="44.60" r="0.8" fill="#d8643a" fill-opacity="0.8"/>
<circle cx="461.7" cy="41.32" r="0.8" fill="#d8643a" fill-opacity="0.8"/>
<rect x="394.20" y="69.86" width="9.2" height="1.97" fill="#f4b389" fill-opacity="0.9"/>
<line x1="394.20" y1="70.84" x2="403.40" y2="70.84" stroke="#ec8c5c" stroke-width="0.9"/>
<rect x="406.80" y="69.86" width="9.2" height="1.97" fill="#f4b389" fill-opacity="0.9"/>
<line x1="406.80" y1="70.84" x2="416.00" y2="70.84" stroke="#ec8c5c" stroke-width="0.9"/>
<rect x="419.40" y="69.20" width="9.2" height="2.62" fill="#f4b389" fill-opacity="0.9"/>
<line x1="419.40" y1="70.51" x2="428.60" y2="70.51" stroke="#ec8c5c" stroke-width="0.9"/>
<rect x="432.00" y="68.22" width="9.2" height="2.62" fill="#f4b389" fill-opacity="0.9"/>
<line x1="432.00" y1="69.53" x2="441.20" y2="69.53" stroke="#ec8c5c" stroke-width="0.9"/>
<rect x="444.50" y="60.67" width="9.2" height="5.90" fill="#f4b389" fill-opacity="0.9"/>
<line x1="444.50" y1="63.62" x2="453.70" y2="63.62" stroke="#ec8c5c" stroke-width="0.9"/>
<rect x="457.10" y="55.75" width="9.2" height="6.89" fill="#f4b389" fill-opacity="0.9"/>
<line x1="457.10" y1="59.20" x2="466.30" y2="59.20" stroke="#ec8c5c" stroke-width="0.9"/>
<rect x="469.60" y="47.22" width="9.2" height="8.53" fill="#f4b389" fill-opacity="0.9"/>
<line x1="469.60" y1="51.49" x2="478.80" y2="51.49" stroke="#ec8c5c" stroke-width="0.9"/>
<rect x="482.20" y="43.29" width="9.2" height="8.20" fill="#f4b389" fill-opacity="0.9"/>
<line x1="482.20" y1="47.39" x2="491.40" y2="47.39" stroke="#ec8c5c" stroke-width="0.9"/>
<rect x="394.20" y="57.72" width="9.2" height="9.84" fill="#aeaee2" fill-opacity="0.88"/>
<line x1="394.20" y1="62.64" x2="403.40" y2="62.64" stroke="#8080cc" stroke-width="0.9"/>
<rect x="406.80" y="61.00" width="9.2" height="8.86" fill="#aeaee2" fill-opacity="0.88"/>
<line x1="406.80" y1="65.43" x2="416.00" y2="65.43" stroke="#8080cc" stroke-width="0.9"/>
<rect x="419.40" y="63.30" width="9.2" height="8.20" fill="#aeaee2" fill-opacity="0.88"/>
<line x1="419.40" y1="67.40" x2="428.60" y2="67.40" stroke="#8080cc" stroke-width="0.9"/>
<rect x="432.00" y="64.94" width="9.2" height="7.54" fill="#aeaee2" fill-opacity="0.88"/>
<line x1="432.00" y1="68.71" x2="441.20" y2="68.71" stroke="#8080cc" stroke-width="0.9"/>
<rect x="444.50" y="67.56" width="9.2" height="5.90" fill="#aeaee2" fill-opacity="0.88"/>
<line x1="444.50" y1="70.51" x2="453.70" y2="70.51" stroke="#8080cc" stroke-width="0.9"/>
<rect x="457.10" y="68.87" width="9.2" height="6.56" fill="#aeaee2" fill-opacity="0.88"/>
<line x1="457.10" y1="72.15" x2="466.30" y2="72.15" stroke="#8080cc" stroke-width="0.9"/>
<rect x="469.60" y="69.20" width="9.2" height="5.58" fill="#aeaee2" fill-opacity="0.88"/>
<line x1="469.60" y1="71.99" x2="478.80" y2="71.99" stroke="#8080cc" stroke-width="0.9"/>
<rect x="482.20" y="68.22" width="9.2" height="7.54" fill="#aeaee2" fill-opacity="0.88"/>
<line x1="482.20" y1="71.99" x2="491.40" y2="71.99" stroke="#8080cc" stroke-width="0.9"/>
<path d="M391.50,71.17 C392.72,71.14 395.48,71.09 398.80,71.00 C402.12,70.92 407.20,70.87 411.40,70.68 C415.60,70.48 419.80,70.32 424.00,69.86 C428.20,69.39 432.42,68.76 436.60,67.89 C440.78,67.01 444.92,65.92 449.10,64.61 C453.28,63.30 457.52,61.77 461.70,60.02 C465.88,58.27 470.02,56.19 474.20,54.11 C478.38,52.03 484.70,48.65 486.80,47.55" fill="none" stroke="#e3642c" stroke-width="1.5"/>
<path d="M398.80,62.64 C400.90,62.97 407.20,63.95 411.40,64.61 C415.60,65.26 419.80,65.97 424.00,66.58 C428.20,67.18 432.42,67.67 436.60,68.22 C440.78,68.76 444.92,69.36 449.10,69.86 C453.28,70.35 457.52,70.84 461.70,71.17 C465.88,71.50 470.02,71.61 474.20,71.82 C478.38,72.04 484.70,72.37 486.80,72.48" fill="none" stroke="#6262c0" stroke-width="1.5"/>
<line x1="398.8" y1="93.00" x2="398.8" y2="142.43" stroke="#9898d8" stroke-width="1.15"/>
<line x1="411.4" y1="93.33" x2="411.4" y2="142.43" stroke="#9898d8" stroke-width="1.15"/>
<line x1="424.0" y1="98.01" x2="424.0" y2="141.43" stroke="#9898d8" stroke-width="1.15"/>
<line x1="436.6" y1="101.35" x2="436.6" y2="141.43" stroke="#9898d8" stroke-width="1.15"/>
<line x1="449.1" y1="103.02" x2="449.1" y2="141.43" stroke="#9898d8" stroke-width="1.15"/>
<line x1="461.7" y1="104.69" x2="461.7" y2="139.76" stroke="#9898d8" stroke-width="1.15"/>
<line x1="474.2" y1="106.36" x2="474.2" y2="141.43" stroke="#9898d8" stroke-width="1.15"/>
<line x1="486.8" y1="106.36" x2="486.8" y2="139.76" stroke="#9898d8" stroke-width="1.15"/>
<line x1="398.8" y1="123.73" x2="398.8" y2="131.41" stroke="#eb9a70" stroke-width="1"/>
<line x1="411.4" y1="123.06" x2="411.4" y2="131.41" stroke="#eb9a70" stroke-width="1"/>
<line x1="424.0" y1="122.39" x2="424.0" y2="131.41" stroke="#eb9a70" stroke-width="1"/>
<line x1="436.6" y1="116.38" x2="436.6" y2="129.74" stroke="#eb9a70" stroke-width="1"/>
<line x1="449.1" y1="94.67" x2="449.1" y2="128.07" stroke="#eb9a70" stroke-width="1"/>
<line x1="461.7" y1="99.68" x2="461.7" y2="126.40" stroke="#eb9a70" stroke-width="1"/>
<line x1="474.2" y1="93.67" x2="474.2" y2="123.06" stroke="#eb9a70" stroke-width="1"/>
<line x1="486.8" y1="93.67" x2="486.8" y2="119.72" stroke="#eb9a70" stroke-width="1"/>
<circle cx="398.8" cy="108.03" r="1.05" fill="#5252b2"/>
<circle cx="398.8" cy="104.69" r="1.05" fill="#5252b2"/>
<circle cx="398.8" cy="103.02" r="1.05" fill="#5252b2"/>
<circle cx="398.8" cy="101.35" r="1.05" fill="#5252b2"/>
<circle cx="398.8" cy="99.68" r="1.05" fill="#5252b2"/>
<circle cx="398.8" cy="98.01" r="1.05" fill="#5252b2"/>
<circle cx="398.8" cy="96.34" r="1.05" fill="#5252b2"/>
<circle cx="398.8" cy="94.67" r="1.05" fill="#5252b2"/>
<circle cx="398.8" cy="141.43" r="1.05" fill="#5252b2"/>
<circle cx="411.4" cy="111.37" r="1.05" fill="#5252b2"/>
<circle cx="411.4" cy="109.70" r="1.05" fill="#5252b2"/>
<circle cx="411.4" cy="108.03" r="1.05" fill="#5252b2"/>
<circle cx="411.4" cy="103.02" r="1.05" fill="#5252b2"/>
<circle cx="411.4" cy="98.01" r="1.05" fill="#5252b2"/>
<circle cx="411.4" cy="96.34" r="1.05" fill="#5252b2"/>
<circle cx="424.0" cy="108.03" r="1.05" fill="#5252b2"/>
<circle cx="424.0" cy="106.36" r="1.05" fill="#5252b2"/>
<circle cx="424.0" cy="98.01" r="1.05" fill="#5252b2"/>
<circle cx="424.0" cy="96.34" r="1.05" fill="#5252b2"/>
<circle cx="436.6" cy="109.70" r="1.05" fill="#5252b2"/>
<circle cx="436.6" cy="108.03" r="1.05" fill="#5252b2"/>
<circle cx="436.6" cy="103.02" r="1.05" fill="#5252b2"/>
<circle cx="449.1" cy="109.70" r="1.05" fill="#5252b2"/>
<circle cx="398.8" cy="116.38" r="0.8" fill="#d8643a" fill-opacity="0.8"/>
<circle cx="398.8" cy="114.71" r="0.8" fill="#d8643a" fill-opacity="0.8"/>
<circle cx="411.4" cy="119.72" r="0.8" fill="#d8643a" fill-opacity="0.8"/>
<circle cx="411.4" cy="118.05" r="0.8" fill="#d8643a" fill-opacity="0.8"/>
<circle cx="411.4" cy="116.38" r="0.8" fill="#d8643a" fill-opacity="0.8"/>
<circle cx="411.4" cy="114.71" r="0.8" fill="#d8643a" fill-opacity="0.8"/>
<circle cx="424.0" cy="119.72" r="0.8" fill="#d8643a" fill-opacity="0.8"/>
<circle cx="424.0" cy="116.38" r="0.8" fill="#d8643a" fill-opacity="0.8"/>
<circle cx="424.0" cy="114.71" r="0.8" fill="#d8643a" fill-opacity="0.8"/>
<circle cx="424.0" cy="113.04" r="0.8" fill="#d8643a" fill-opacity="0.8"/>
<circle cx="424.0" cy="111.37" r="0.8" fill="#d8643a" fill-opacity="0.8"/>
<circle cx="436.6" cy="114.71" r="0.8" fill="#d8643a" fill-opacity="0.8"/>
<circle cx="436.6" cy="111.37" r="0.8" fill="#d8643a" fill-opacity="0.8"/>
<circle cx="436.6" cy="109.70" r="0.8" fill="#d8643a" fill-opacity="0.8"/>
<circle cx="436.6" cy="108.03" r="0.8" fill="#d8643a" fill-opacity="0.8"/>
<circle cx="449.1" cy="99.68" r="0.8" fill="#d8643a" fill-opacity="0.8"/>
<circle cx="449.1" cy="96.34" r="0.8" fill="#d8643a" fill-opacity="0.8"/>
<rect x="394.20" y="127.07" width="9.2" height="2.00" fill="#f4b389" fill-opacity="0.9"/>
<line x1="394.20" y1="128.07" x2="403.40" y2="128.07" stroke="#ec8c5c" stroke-width="0.9"/>
<rect x="406.80" y="127.07" width="9.2" height="2.00" fill="#f4b389" fill-opacity="0.9"/>
<line x1="406.80" y1="128.07" x2="416.00" y2="128.07" stroke="#ec8c5c" stroke-width="0.9"/>
<rect x="419.40" y="126.40" width="9.2" height="2.67" fill="#f4b389" fill-opacity="0.9"/>
<line x1="419.40" y1="127.74" x2="428.60" y2="127.74" stroke="#ec8c5c" stroke-width="0.9"/>
<rect x="432.00" y="121.39" width="9.2" height="4.01" fill="#f4b389" fill-opacity="0.9"/>
<line x1="432.00" y1="123.39" x2="441.20" y2="123.39" stroke="#ec8c5c" stroke-width="0.9"/>
<rect x="444.50" y="113.71" width="9.2" height="7.68" fill="#f4b389" fill-opacity="0.9"/>
<line x1="444.50" y1="117.55" x2="453.70" y2="117.55" stroke="#ec8c5c" stroke-width="0.9"/>
<rect x="457.10" y="111.04" width="9.2" height="6.01" fill="#f4b389" fill-opacity="0.9"/>
<line x1="457.10" y1="114.04" x2="466.30" y2="114.04" stroke="#ec8c5c" stroke-width="0.9"/>
<rect x="469.60" y="103.69" width="9.2" height="8.68" fill="#f4b389" fill-opacity="0.9"/>
<line x1="469.60" y1="108.03" x2="478.80" y2="108.03" stroke="#ec8c5c" stroke-width="0.9"/>
<rect x="482.20" y="100.01" width="9.2" height="8.02" fill="#f4b389" fill-opacity="0.9"/>
<line x1="482.20" y1="104.02" x2="491.40" y2="104.02" stroke="#ec8c5c" stroke-width="0.9"/>
<rect x="394.20" y="114.71" width="9.2" height="9.35" fill="#aeaee2" fill-opacity="0.88"/>
<line x1="394.20" y1="119.39" x2="403.40" y2="119.39" stroke="#8080cc" stroke-width="0.9"/>
<rect x="406.80" y="121.39" width="9.2" height="8.02" fill="#aeaee2" fill-opacity="0.88"/>
<line x1="406.80" y1="125.40" x2="416.00" y2="125.40" stroke="#8080cc" stroke-width="0.9"/>
<rect x="419.40" y="123.73" width="9.2" height="6.68" fill="#aeaee2" fill-opacity="0.88"/>
<line x1="419.40" y1="127.07" x2="428.60" y2="127.07" stroke="#8080cc" stroke-width="0.9"/>
<rect x="432.00" y="124.06" width="9.2" height="7.68" fill="#aeaee2" fill-opacity="0.88"/>
<line x1="432.00" y1="127.90" x2="441.20" y2="127.90" stroke="#8080cc" stroke-width="0.9"/>
<rect x="444.50" y="124.06" width="9.2" height="6.35" fill="#aeaee2" fill-opacity="0.88"/>
<line x1="444.50" y1="127.23" x2="453.70" y2="127.23" stroke="#8080cc" stroke-width="0.9"/>
<rect x="457.10" y="124.06" width="9.2" height="6.35" fill="#aeaee2" fill-opacity="0.88"/>
<line x1="457.10" y1="127.23" x2="466.30" y2="127.23" stroke="#8080cc" stroke-width="0.9"/>
<rect x="469.60" y="124.73" width="9.2" height="7.35" fill="#aeaee2" fill-opacity="0.88"/>
<line x1="469.60" y1="128.40" x2="478.80" y2="128.40" stroke="#8080cc" stroke-width="0.9"/>
<rect x="482.20" y="125.40" width="9.2" height="7.35" fill="#aeaee2" fill-opacity="0.88"/>
<line x1="482.20" y1="129.07" x2="491.40" y2="129.07" stroke="#8080cc" stroke-width="0.9"/>
<path d="M391.50,128.07 C392.72,128.07 395.48,128.15 398.80,128.07 C402.12,127.99 407.20,127.85 411.40,127.57 C415.60,127.29 419.80,127.15 424.00,126.40 C428.20,125.65 432.42,124.40 436.60,123.06 C440.78,121.72 444.92,119.94 449.10,118.38 C453.28,116.83 457.52,115.27 461.70,113.71 C465.88,112.15 470.02,110.48 474.20,109.03 C478.38,107.58 484.70,105.69 486.80,105.02" fill="none" stroke="#e3642c" stroke-width="1.5"/>
<path d="M398.80,119.72 C400.90,120.33 407.20,122.28 411.40,123.39 C415.60,124.51 419.80,125.73 424.00,126.40 C428.20,127.07 432.42,127.23 436.60,127.40 C440.78,127.57 444.92,127.35 449.10,127.40 C453.28,127.46 457.52,127.51 461.70,127.74 C465.88,127.96 470.02,128.29 474.20,128.74 C478.38,129.18 484.70,130.13 486.80,130.41" fill="none" stroke="#6262c0" stroke-width="1.5"/>
<path d="M391,34.6 V87.8 H494.6" fill="none" stroke="#111" stroke-width="1.2"/>
<line x1="388.20" y1="36.40" x2="391.00" y2="36.40" stroke="#111" stroke-width="1.0"/>
<text transform="translate(383.70,38.70)" font-size="6.8" text-anchor="end" fill="#333">1.0</text>
<line x1="388.20" y1="52.80" x2="391.00" y2="52.80" stroke="#111" stroke-width="1.0"/>
<text transform="translate(383.70,55.10)" font-size="6.8" text-anchor="end" fill="#333">0.5</text>
<line x1="388.20" y1="69.20" x2="391.00" y2="69.20" stroke="#111" stroke-width="1.0"/>
<text transform="translate(383.70,71.50)" font-size="6.8" text-anchor="end" fill="#333">0.0</text>
<line x1="388.20" y1="85.60" x2="391.00" y2="85.60" stroke="#111" stroke-width="1.0"/>
<text transform="translate(383.70,87.90)" font-size="6.8" text-anchor="end" fill="#333">0.5</text>
<line x1="398.80" y1="87.80" x2="398.80" y2="90.80" stroke="#111" stroke-width="1.1"/>
<line x1="411.40" y1="87.80" x2="411.40" y2="90.80" stroke="#111" stroke-width="1.1"/>
<line x1="424.00" y1="87.80" x2="424.00" y2="90.80" stroke="#111" stroke-width="1.1"/>
<line x1="436.60" y1="87.80" x2="436.60" y2="90.80" stroke="#111" stroke-width="1.1"/>
<line x1="449.10" y1="87.80" x2="449.10" y2="90.80" stroke="#111" stroke-width="1.1"/>
<line x1="461.70" y1="87.80" x2="461.70" y2="90.80" stroke="#111" stroke-width="1.1"/>
<line x1="474.20" y1="87.80" x2="474.20" y2="90.80" stroke="#111" stroke-width="1.1"/>
<line x1="486.80" y1="87.80" x2="486.80" y2="90.80" stroke="#111" stroke-width="1.1"/>
<path d="M391,91.2 V145.4 H494.6" fill="none" stroke="#111" stroke-width="1.2"/>
<line x1="388.20" y1="93.00" x2="391.00" y2="93.00" stroke="#111" stroke-width="1.0"/>
<text transform="translate(383.70,95.30)" font-size="6.8" text-anchor="end" fill="#333">1.0</text>
<line x1="388.20" y1="109.70" x2="391.00" y2="109.70" stroke="#111" stroke-width="1.0"/>
<text transform="translate(383.70,112.00)" font-size="6.8" text-anchor="end" fill="#333">0.5</text>
<line x1="388.20" y1="126.40" x2="391.00" y2="126.40" stroke="#111" stroke-width="1.0"/>
<text transform="translate(383.70,128.70)" font-size="6.8" text-anchor="end" fill="#333">0.0</text>
<line x1="388.20" y1="143.10" x2="391.00" y2="143.10" stroke="#111" stroke-width="1.0"/>
<text transform="translate(383.70,145.40)" font-size="6.8" text-anchor="end" fill="#333">–0.5</text>
<line x1="398.80" y1="145.40" x2="398.80" y2="148.40" stroke="#111" stroke-width="1.1"/>
<line x1="411.40" y1="145.40" x2="411.40" y2="148.40" stroke="#111" stroke-width="1.1"/>
<line x1="424.00" y1="145.40" x2="424.00" y2="148.40" stroke="#111" stroke-width="1.1"/>
<line x1="436.60" y1="145.40" x2="436.60" y2="148.40" stroke="#111" stroke-width="1.1"/>
<line x1="449.10" y1="145.40" x2="449.10" y2="148.40" stroke="#111" stroke-width="1.1"/>
<line x1="461.70" y1="145.40" x2="461.70" y2="148.40" stroke="#111" stroke-width="1.1"/>
<line x1="474.20" y1="145.40" x2="474.20" y2="148.40" stroke="#111" stroke-width="1.1"/>
<line x1="486.80" y1="145.40" x2="486.80" y2="148.40" stroke="#111" stroke-width="1.1"/>
<text transform="translate(398.80,158.20)" font-size="6.8" text-anchor="middle" fill="#333">VE</text>
<text transform="translate(411.40,158.20)" font-size="6.8" text-anchor="middle" fill="#333">1</text>
<text transform="translate(424.00,158.20)" font-size="6.8" text-anchor="middle" fill="#333">2</text>
<text transform="translate(436.60,158.20)" font-size="6.8" text-anchor="middle" fill="#333">3</text>
<text transform="translate(449.10,158.20)" font-size="6.8" text-anchor="middle" fill="#333">4</text>
<text transform="translate(461.70,158.20)" font-size="6.8" text-anchor="middle" fill="#333">5</text>
<text transform="translate(474.20,158.20)" font-size="6.8" text-anchor="middle" fill="#333">6</text>
<text transform="translate(486.80,158.20)" font-size="6.8" text-anchor="middle" fill="#333">7</text>
<text transform="translate(443.00,170.20)" font-size="7.3" text-anchor="middle" fill="#333">Pseudotime</text>
<text transform="translate(366.30,90.00) rotate(-90) scale(0.860,1)" font-size="8.3" text-anchor="middle" fill="#333">Arterial/venous score</text>
<rect x="384.6" y="20.8" width="9.4" height="5.6" fill="#f4b389"/>
<line x1="389.30" y1="19.40" x2="389.30" y2="27.80" stroke="#e3642c" stroke-width="0.8"/>
<line x1="384.60" y1="23.60" x2="394.00" y2="23.60" stroke="#e3642c" stroke-width="1.0"/>
<text transform="translate(397.10,26.20)" font-size="6.85" fill="#333">Arterial score</text>
<rect x="448.4" y="20.8" width="9.4" height="5.6" fill="#aeaee2"/>
<line x1="453.10" y1="19.40" x2="453.10" y2="27.80" stroke="#6262c0" stroke-width="0.8"/>
<line x1="448.40" y1="23.60" x2="457.80" y2="23.60" stroke="#6262c0" stroke-width="1.0"/>
<text transform="translate(459.80,26.20)" font-size="6.85" fill="#333">Venous score</text>
<ellipse cx="506.3" cy="61.8" rx="6.3" ry="14.3" fill="#c2171d"/>
<g transform="translate(503.6,53.0) rotate(90)"><text font-size="7.6" font-weight="bold" fill="#fff">Wnt<tspan font-size="4.4" dy="-2.8">hi</tspan></text></g>
<ellipse cx="506.1" cy="117.9" rx="6.1" ry="14.3" fill="#3f72b3"/>
<g transform="translate(503.4,109.2) rotate(90)"><text font-size="7.6" font-weight="bold" fill="#fff">Wnt<tspan font-size="4.4" dy="-2.8">lo</tspan></text></g>
<path d="M53.90,236.10 L53.90,235.60 L53.90,235.05 L53.90,234.50 L53.87,234.46 L52.63,234.20 L50.70,233.90 L50.34,233.50 L50.35,233.32 L50.48,232.18 L50.71,231.04 L51.05,229.90 L51.45,228.76 L51.81,227.62 L52.03,226.48 L52.05,225.34 L52.02,224.20 L51.98,223.06 L51.91,221.92 L51.83,220.78 L51.73,219.64 L51.62,218.50 L51.51,217.36 L51.38,216.22 L51.26,215.08 L51.14,213.94 L51.03,212.80 L50.92,211.66 L50.82,210.52 L50.73,209.38 L50.64,208.24 L50.57,207.10 L50.51,205.96 L50.46,204.82 L50.41,203.68 L50.38,202.54 L50.35,201.40 L50.17,200.26 L50.00,199.12 L49.40,199.12 L49.23,200.26 L49.05,201.40 L49.02,202.54 L48.99,203.68 L48.94,204.82 L48.89,205.96 L48.83,207.10 L48.76,208.24 L48.67,209.38 L48.58,210.52 L48.48,211.66 L48.37,212.80 L48.26,213.94 L48.14,215.08 L48.02,216.22 L47.89,217.36 L47.78,218.50 L47.67,219.64 L47.57,220.78 L47.49,221.92 L47.42,223.06 L47.38,224.20 L47.35,225.34 L47.37,226.48 L47.59,227.62 L47.95,228.76 L48.35,229.90 L48.69,231.04 L48.92,232.18 L49.05,233.32 L49.06,233.50 L48.70,233.90 L46.77,234.20 L45.53,234.46 L45.50,234.50 L45.50,235.05 L45.50,235.60 L45.50,236.10Z" fill="#9a6cbd"/>
<path d="M63.00,236.10 L63.00,235.60 L63.00,235.05 L63.00,234.58 L63.00,234.50 L61.73,234.20 L59.80,233.90 L59.43,233.56 L59.44,233.50 L59.53,232.54 L59.70,231.52 L59.96,230.50 L60.29,229.48 L60.65,228.46 L60.96,227.44 L61.13,226.42 L61.15,225.40 L61.12,224.38 L61.07,223.36 L61.00,222.34 L60.91,221.32 L60.81,220.30 L60.70,219.28 L60.58,218.26 L60.45,217.24 L60.32,216.22 L60.20,215.20 L60.08,214.18 L59.97,213.16 L59.87,212.14 L59.78,211.12 L59.71,210.10 L59.64,209.08 L59.58,208.06 L59.53,207.04 L59.49,206.02 L59.46,205.00 L59.28,203.98 L59.10,202.96 L58.50,202.96 L58.32,203.98 L58.14,205.00 L58.11,206.02 L58.07,207.04 L58.02,208.06 L57.96,209.08 L57.89,210.10 L57.82,211.12 L57.73,212.14 L57.63,213.16 L57.52,214.18 L57.40,215.20 L57.28,216.22 L57.15,217.24 L57.02,218.26 L56.90,219.28 L56.79,220.30 L56.69,221.32 L56.60,222.34 L56.53,223.36 L56.48,224.38 L56.45,225.40 L56.47,226.42 L56.64,227.44 L56.95,228.46 L57.31,229.48 L57.64,230.50 L57.90,231.52 L58.07,232.54 L58.16,233.50 L58.17,233.56 L57.80,233.90 L55.87,234.20 L54.60,234.50 L54.60,234.58 L54.60,235.05 L54.60,235.60 L54.60,236.10Z" fill="#3b6db5"/>
<path d="M72.00,236.10 L72.00,235.60 L72.00,235.05 L72.00,234.50 L71.88,234.41 L70.73,234.20 L68.80,233.90 L68.30,233.50 L68.30,233.23 L68.30,232.04 L68.30,230.86 L68.30,229.67 L68.30,228.49 L68.30,227.31 L68.30,226.12 L68.30,224.94 L68.30,223.75 L68.30,222.56 L68.30,221.38 L68.30,220.19 L68.30,219.01 L68.30,217.82 L68.30,216.64 L68.30,215.45 L68.30,214.27 L68.30,213.09 L68.30,211.90 L68.30,210.72 L68.30,209.53 L68.30,208.34 L68.30,207.16 L68.30,205.97 L68.30,204.79 L68.30,203.60 L68.30,202.42 L68.30,201.23 L68.30,200.05 L68.18,198.87 L68.05,197.68 L67.55,197.68 L67.42,198.87 L67.30,200.05 L67.30,201.23 L67.30,202.42 L67.30,203.60 L67.30,204.79 L67.30,205.97 L67.30,207.16 L67.30,208.34 L67.30,209.53 L67.30,210.72 L67.30,211.90 L67.30,213.09 L67.30,214.27 L67.30,215.45 L67.30,216.64 L67.30,217.82 L67.30,219.01 L67.30,220.19 L67.30,221.38 L67.30,222.56 L67.30,223.75 L67.30,224.94 L67.30,226.12 L67.30,227.31 L67.30,228.49 L67.30,229.67 L67.30,230.86 L67.30,232.04 L67.30,233.23 L67.30,233.50 L66.80,233.90 L64.87,234.20 L63.72,234.41 L63.60,234.50 L63.60,235.05 L63.60,235.60 L63.60,236.10Z" fill="#d8486b"/>
<path d="M81.10,236.10 L81.10,235.60 L81.10,235.05 L81.10,234.70 L81.10,234.50 L79.83,234.20 L77.90,233.90 L77.49,233.80 L77.40,233.50 L77.40,232.90 L77.40,232.00 L77.40,231.10 L77.40,230.20 L77.40,229.30 L77.40,228.40 L77.40,227.50 L77.40,226.60 L77.40,225.70 L77.40,224.80 L77.40,223.90 L77.40,223.00 L77.40,222.10 L77.40,221.20 L77.40,220.30 L77.40,219.40 L77.40,218.50 L77.40,217.60 L77.40,216.70 L77.40,215.80 L77.40,214.90 L77.40,214.00 L77.40,213.10 L77.40,212.20 L77.40,211.30 L77.40,210.40 L77.40,209.50 L77.40,208.60 L77.28,207.70 L77.15,206.80 L76.65,206.80 L76.52,207.70 L76.40,208.60 L76.40,209.50 L76.40,210.40 L76.40,211.30 L76.40,212.20 L76.40,213.10 L76.40,214.00 L76.40,214.90 L76.40,215.80 L76.40,216.70 L76.40,217.60 L76.40,218.50 L76.40,219.40 L76.40,220.30 L76.40,221.20 L76.40,222.10 L76.40,223.00 L76.40,223.90 L76.40,224.80 L76.40,225.70 L76.40,226.60 L76.40,227.50 L76.40,228.40 L76.40,229.30 L76.40,230.20 L76.40,231.10 L76.40,232.00 L76.40,232.90 L76.40,233.50 L76.31,233.80 L75.90,233.90 L73.97,234.20 L72.70,234.50 L72.70,234.70 L72.70,235.05 L72.70,235.60 L72.70,236.10Z" fill="#43b4da"/>
<path d="M90.20,236.10 L90.20,235.60 L90.20,235.05 L90.20,235.00 L90.20,234.50 L90.04,234.40 L88.93,234.20 L87.00,233.90 L86.59,233.80 L86.50,233.50 L86.50,233.20 L86.50,232.60 L86.50,232.00 L86.50,231.40 L86.50,230.80 L86.50,230.20 L86.50,229.60 L86.50,229.00 L86.50,228.40 L86.50,227.80 L86.50,227.20 L86.50,226.60 L86.50,226.00 L86.50,225.40 L86.50,224.80 L86.50,224.20 L86.50,223.60 L86.50,223.00 L86.50,222.40 L86.50,221.80 L86.50,221.20 L86.50,220.60 L86.50,220.00 L86.50,219.40 L86.50,218.80 L86.50,218.20 L86.50,217.60 L86.38,217.00 L86.25,216.40 L85.75,216.40 L85.62,217.00 L85.50,217.60 L85.50,218.20 L85.50,218.80 L85.50,219.40 L85.50,220.00 L85.50,220.60 L85.50,221.20 L85.50,221.80 L85.50,222.40 L85.50,223.00 L85.50,223.60 L85.50,224.20 L85.50,224.80 L85.50,225.40 L85.50,226.00 L85.50,226.60 L85.50,227.20 L85.50,227.80 L85.50,228.40 L85.50,229.00 L85.50,229.60 L85.50,230.20 L85.50,230.80 L85.50,231.40 L85.50,232.00 L85.50,232.60 L85.50,233.20 L85.50,233.50 L85.41,233.80 L85.00,233.90 L83.07,234.20 L81.96,234.40 L81.80,234.50 L81.80,235.00 L81.80,235.05 L81.80,235.60 L81.80,236.10Z" fill="#5b8f5e"/>
<path d="M99.30,236.10 L99.30,235.60 L99.30,235.05 L99.30,234.76 L99.30,234.50 L98.03,234.20 L96.19,233.92 L96.10,233.90 L95.60,233.50 L95.60,233.08 L95.60,232.24 L95.60,231.40 L95.60,230.56 L95.60,229.72 L95.60,228.88 L95.60,228.04 L95.60,227.20 L95.60,226.36 L95.60,225.52 L95.60,224.68 L95.60,223.84 L95.60,223.00 L95.60,222.16 L95.60,221.32 L95.60,220.48 L95.60,219.64 L95.60,218.80 L95.60,217.96 L95.60,217.12 L95.60,216.28 L95.60,215.44 L95.60,214.60 L95.60,213.76 L95.60,212.92 L95.60,212.08 L95.60,211.24 L95.60,210.40 L95.48,209.56 L95.35,208.72 L94.85,208.72 L94.72,209.56 L94.60,210.40 L94.60,211.24 L94.60,212.08 L94.60,212.92 L94.60,213.76 L94.60,214.60 L94.60,215.44 L94.60,216.28 L94.60,217.12 L94.60,217.96 L94.60,218.80 L94.60,219.64 L94.60,220.48 L94.60,221.32 L94.60,222.16 L94.60,223.00 L94.60,223.84 L94.60,224.68 L94.60,225.52 L94.60,226.36 L94.60,227.20 L94.60,228.04 L94.60,228.88 L94.60,229.72 L94.60,230.56 L94.60,231.40 L94.60,232.24 L94.60,233.08 L94.60,233.50 L94.10,233.90 L94.01,233.92 L92.17,234.20 L90.90,234.50 L90.90,234.76 L90.90,235.05 L90.90,235.60 L90.90,236.10Z" fill="#b5577a"/>
<path d="M44.0,195.0 V237.3 H100.8" fill="none" stroke="#111" stroke-width="1.1"/>
<line x1="41.80" y1="235.60" x2="44.00" y2="235.60" stroke="#111" stroke-width="0.9"/>
<text transform="translate(38.40,237.90) scale(0.850,1)" font-size="6.6" text-anchor="end" fill="#333">0</text>
<line x1="41.80" y1="226.00" x2="44.00" y2="226.00" stroke="#111" stroke-width="0.9"/>
<text transform="translate(38.40,228.30) scale(0.850,1)" font-size="6.6" text-anchor="end" fill="#333">1</text>
<line x1="41.80" y1="216.40" x2="44.00" y2="216.40" stroke="#111" stroke-width="0.9"/>
<text transform="translate(38.40,218.70) scale(0.850,1)" font-size="6.6" text-anchor="end" fill="#333">2</text>
<line x1="41.80" y1="206.80" x2="44.00" y2="206.80" stroke="#111" stroke-width="0.9"/>
<text transform="translate(38.40,209.10) scale(0.850,1)" font-size="6.6" text-anchor="end" fill="#333">3</text>
<line x1="41.80" y1="197.20" x2="44.00" y2="197.20" stroke="#111" stroke-width="0.9"/>
<text transform="translate(38.40,199.50) scale(0.850,1)" font-size="6.6" text-anchor="end" fill="#333">4</text>
<line x1="49.70" y1="237.30" x2="49.70" y2="240.20" stroke="#111" stroke-width="1.0"/>
<line x1="58.80" y1="237.30" x2="58.80" y2="240.20" stroke="#111" stroke-width="1.0"/>
<line x1="67.80" y1="237.30" x2="67.80" y2="240.20" stroke="#111" stroke-width="1.0"/>
<line x1="76.90" y1="237.30" x2="76.90" y2="240.20" stroke="#111" stroke-width="1.0"/>
<line x1="86.00" y1="237.30" x2="86.00" y2="240.20" stroke="#111" stroke-width="1.0"/>
<line x1="95.10" y1="237.30" x2="95.10" y2="240.20" stroke="#111" stroke-width="1.0"/>
<text transform="translate(29.40,215.50) rotate(-90) scale(0.780,1)" font-size="9.0" font-style="italic" text-anchor="middle" fill="#333">Nr2f2</text>
<path d="M150.40,236.30 L150.40,235.80 L150.40,235.25 L150.40,234.79 L150.40,234.70 L149.19,234.40 L147.87,234.10 L147.94,233.79 L147.96,233.70 L148.19,232.78 L148.43,231.77 L148.63,230.77 L148.78,229.76 L148.85,228.75 L148.83,227.75 L148.72,226.74 L148.55,225.74 L148.32,224.73 L148.08,223.72 L147.83,222.72 L147.61,221.71 L147.42,220.70 L147.27,219.70 L147.16,218.69 L147.08,217.68 L147.03,216.68 L146.99,215.67 L146.97,214.66 L146.96,213.66 L146.96,212.65 L146.95,211.64 L146.95,210.64 L146.95,209.63 L146.95,208.62 L146.95,207.62 L146.95,206.61 L146.95,205.61 L146.82,204.60 L146.68,203.59 L146.12,203.59 L145.98,204.60 L145.85,205.61 L145.85,206.61 L145.85,207.62 L145.85,208.62 L145.85,209.63 L145.85,210.64 L145.85,211.64 L145.84,212.65 L145.84,213.66 L145.83,214.66 L145.81,215.67 L145.77,216.68 L145.72,217.68 L145.64,218.69 L145.53,219.70 L145.38,220.70 L145.19,221.71 L144.97,222.72 L144.72,223.72 L144.48,224.73 L144.25,225.74 L144.08,226.74 L143.97,227.75 L143.95,228.75 L144.02,229.76 L144.17,230.77 L144.37,231.77 L144.61,232.78 L144.84,233.70 L144.86,233.79 L144.93,234.10 L143.61,234.40 L142.40,234.70 L142.40,234.79 L142.40,235.25 L142.40,235.80 L142.40,236.30Z" fill="#9a6cbd"/>
<path d="M160.10,236.30 L160.10,235.80 L160.10,235.25 L160.10,234.82 L160.10,234.70 L158.74,234.40 L157.07,234.10 L157.13,233.83 L157.16,233.70 L157.33,232.85 L157.51,231.87 L157.65,230.88 L157.73,229.90 L157.75,228.91 L157.69,227.93 L157.57,226.95 L157.40,225.96 L157.21,224.98 L157.00,224.00 L156.81,223.01 L156.64,222.03 L156.49,221.05 L156.38,220.06 L156.30,219.08 L156.24,218.09 L156.20,217.11 L156.18,216.13 L156.17,215.14 L156.16,214.16 L156.15,213.18 L156.15,212.19 L156.15,211.21 L156.15,210.23 L156.15,209.24 L156.15,208.26 L156.15,207.27 L156.15,206.29 L156.02,205.31 L155.88,204.32 L155.32,204.32 L155.18,205.31 L155.05,206.29 L155.05,207.27 L155.05,208.26 L155.05,209.24 L155.05,210.23 L155.05,211.21 L155.05,212.19 L155.05,213.18 L155.04,214.16 L155.03,215.14 L155.02,216.13 L155.00,217.11 L154.96,218.09 L154.90,219.08 L154.82,220.06 L154.71,221.05 L154.56,222.03 L154.39,223.01 L154.20,224.00 L153.99,224.98 L153.80,225.96 L153.63,226.95 L153.51,227.93 L153.45,228.91 L153.47,229.90 L153.55,230.88 L153.69,231.87 L153.87,232.85 L154.04,233.70 L154.07,233.83 L154.13,234.10 L152.46,234.40 L151.10,234.70 L151.10,234.82 L151.10,235.25 L151.10,235.80 L151.10,236.30Z" fill="#3b6db5"/>
<path d="M169.20,236.30 L169.20,235.80 L169.20,235.25 L169.20,234.84 L169.20,234.70 L167.84,234.40 L165.77,234.10 L165.66,233.88 L165.68,233.70 L165.83,232.92 L166.05,231.96 L166.33,231.00 L166.64,230.04 L166.99,229.07 L167.35,228.11 L167.70,227.15 L168.00,226.19 L168.25,225.23 L168.40,224.27 L168.45,223.31 L168.39,222.35 L168.23,221.39 L167.98,220.43 L167.66,219.47 L167.31,218.51 L166.95,217.55 L166.61,216.59 L166.30,215.62 L166.03,214.66 L165.81,213.70 L165.64,212.74 L165.51,211.78 L165.42,210.82 L165.36,209.86 L165.31,208.90 L165.29,207.94 L165.27,206.98 L165.13,206.02 L164.98,205.06 L164.42,205.06 L164.27,206.02 L164.13,206.98 L164.11,207.94 L164.09,208.90 L164.04,209.86 L163.98,210.82 L163.89,211.78 L163.76,212.74 L163.59,213.70 L163.37,214.66 L163.10,215.62 L162.79,216.59 L162.45,217.55 L162.09,218.51 L161.74,219.47 L161.42,220.43 L161.17,221.39 L161.01,222.35 L160.95,223.31 L161.00,224.27 L161.15,225.23 L161.40,226.19 L161.70,227.15 L162.05,228.11 L162.41,229.07 L162.76,230.04 L163.07,231.00 L163.35,231.96 L163.57,232.92 L163.72,233.70 L163.74,233.88 L163.63,234.10 L161.56,234.40 L160.20,234.70 L160.20,234.84 L160.20,235.25 L160.20,235.80 L160.20,236.30Z" fill="#d8486b"/>
<path d="M178.30,236.30 L178.30,235.80 L178.30,235.25 L178.30,234.86 L178.30,234.70 L176.94,234.40 L174.87,234.10 L174.54,233.92 L174.56,233.70 L174.64,232.99 L174.78,232.05 L174.96,231.11 L175.21,230.17 L175.50,229.23 L175.86,228.30 L176.25,227.36 L176.68,226.42 L177.10,225.48 L177.50,224.55 L177.84,223.61 L178.09,222.67 L178.23,221.73 L178.24,220.79 L178.13,219.86 L177.90,218.92 L177.58,217.98 L177.19,217.04 L176.77,216.10 L176.34,215.17 L175.94,214.23 L175.58,213.29 L175.27,212.35 L175.01,211.42 L174.81,210.48 L174.66,209.54 L174.56,208.60 L174.48,207.66 L174.28,206.73 L174.10,205.79 L173.50,205.79 L173.32,206.73 L173.12,207.66 L173.04,208.60 L172.94,209.54 L172.79,210.48 L172.59,211.42 L172.33,212.35 L172.02,213.29 L171.66,214.23 L171.26,215.17 L170.83,216.10 L170.41,217.04 L170.02,217.98 L169.70,218.92 L169.47,219.86 L169.36,220.79 L169.37,221.73 L169.51,222.67 L169.76,223.61 L170.10,224.55 L170.50,225.48 L170.92,226.42 L171.35,227.36 L171.74,228.30 L172.10,229.23 L172.39,230.17 L172.64,231.11 L172.82,232.05 L172.96,232.99 L173.04,233.70 L173.06,233.92 L172.73,234.10 L170.66,234.40 L169.30,234.70 L169.30,234.86 L169.30,235.25 L169.30,235.80 L169.30,236.30Z" fill="#43b4da"/>
<path d="M186.40,236.30 L186.40,235.80 L186.40,235.25 L186.40,234.70 L186.39,234.68 L185.34,234.40 L183.73,234.10 L183.65,233.70 L183.66,233.56 L183.77,232.44 L183.93,231.32 L184.14,230.20 L184.41,229.07 L184.74,227.95 L185.14,226.83 L185.58,225.71 L186.06,224.59 L186.53,223.47 L186.98,222.35 L187.37,221.23 L187.65,220.11 L187.82,218.99 L187.84,217.87 L187.73,216.75 L187.48,215.62 L187.12,214.50 L186.69,213.38 L186.22,212.26 L185.74,211.14 L185.29,210.02 L184.87,208.90 L184.52,207.78 L184.23,206.66 L183.99,205.54 L183.82,204.42 L183.69,203.29 L183.61,202.17 L183.39,201.05 L183.20,199.93 L182.60,199.93 L182.41,201.05 L182.19,202.17 L182.11,203.29 L181.98,204.42 L181.81,205.54 L181.57,206.66 L181.28,207.78 L180.93,208.90 L180.51,210.02 L180.06,211.14 L179.58,212.26 L179.11,213.38 L178.68,214.50 L178.32,215.62 L178.07,216.75 L177.96,217.87 L177.98,218.99 L178.15,220.11 L178.43,221.23 L178.82,222.35 L179.27,223.47 L179.74,224.59 L180.22,225.71 L180.66,226.83 L181.06,227.95 L181.39,229.07 L181.66,230.20 L181.87,231.32 L182.03,232.44 L182.14,233.56 L182.15,233.70 L182.07,234.10 L180.46,234.40 L179.41,234.68 L179.40,234.70 L179.40,235.25 L179.40,235.80 L179.40,236.30Z" fill="#5b8f5e"/>
<path d="M195.50,236.30 L195.50,235.80 L195.50,235.25 L195.50,234.70 L195.44,234.63 L194.44,234.40 L192.83,234.10 L192.63,233.70 L192.64,233.47 L192.69,232.30 L192.78,231.13 L192.91,229.97 L193.08,228.80 L193.32,227.63 L193.62,226.47 L194.00,225.30 L194.43,224.13 L194.91,222.97 L195.41,221.80 L195.90,220.63 L196.33,219.47 L196.67,218.30 L196.88,217.13 L196.95,215.97 L196.86,214.80 L196.63,213.63 L196.28,212.47 L195.84,211.30 L195.35,210.13 L194.85,208.97 L194.38,207.80 L193.95,206.63 L193.58,205.47 L193.29,204.30 L193.06,203.13 L192.89,201.97 L192.77,200.80 L192.52,199.63 L192.32,198.47 L191.68,198.47 L191.48,199.63 L191.23,200.80 L191.11,201.97 L190.94,203.13 L190.71,204.30 L190.42,205.47 L190.05,206.63 L189.62,207.80 L189.15,208.97 L188.65,210.13 L188.16,211.30 L187.72,212.47 L187.37,213.63 L187.14,214.80 L187.05,215.97 L187.12,217.13 L187.33,218.30 L187.67,219.47 L188.10,220.63 L188.59,221.80 L189.09,222.97 L189.57,224.13 L190.00,225.30 L190.38,226.47 L190.68,227.63 L190.92,228.80 L191.09,229.97 L191.22,231.13 L191.31,232.30 L191.36,233.47 L191.37,233.70 L191.17,234.10 L189.56,234.40 L188.56,234.63 L188.50,234.70 L188.50,235.25 L188.50,235.80 L188.50,236.30Z" fill="#b5577a"/>
<path d="M140.4,196.9 V236.7 H197.2" fill="none" stroke="#111" stroke-width="1.1"/>
<line x1="138.20" y1="235.80" x2="140.40" y2="235.80" stroke="#111" stroke-width="0.9"/>
<text transform="translate(134.80,238.10) scale(0.850,1)" font-size="6.6" text-anchor="end" fill="#333">0</text>
<line x1="138.20" y1="228.48" x2="140.40" y2="228.48" stroke="#111" stroke-width="0.9"/>
<text transform="translate(134.80,230.78) scale(0.850,1)" font-size="6.6" text-anchor="end" fill="#333">1</text>
<line x1="138.20" y1="221.16" x2="140.40" y2="221.16" stroke="#111" stroke-width="0.9"/>
<text transform="translate(134.80,223.46) scale(0.850,1)" font-size="6.6" text-anchor="end" fill="#333">2</text>
<line x1="138.20" y1="213.84" x2="140.40" y2="213.84" stroke="#111" stroke-width="0.9"/>
<text transform="translate(134.80,216.14) scale(0.850,1)" font-size="6.6" text-anchor="end" fill="#333">3</text>
<line x1="138.20" y1="206.52" x2="140.40" y2="206.52" stroke="#111" stroke-width="0.9"/>
<text transform="translate(134.80,208.82) scale(0.850,1)" font-size="6.6" text-anchor="end" fill="#333">4</text>
<line x1="138.20" y1="199.20" x2="140.40" y2="199.20" stroke="#111" stroke-width="0.9"/>
<text transform="translate(134.80,201.50) scale(0.850,1)" font-size="6.6" text-anchor="end" fill="#333">5</text>
<line x1="146.40" y1="236.70" x2="146.40" y2="239.60" stroke="#111" stroke-width="1.0"/>
<line x1="155.60" y1="236.70" x2="155.60" y2="239.60" stroke="#111" stroke-width="1.0"/>
<line x1="164.70" y1="236.70" x2="164.70" y2="239.60" stroke="#111" stroke-width="1.0"/>
<line x1="173.80" y1="236.70" x2="173.80" y2="239.60" stroke="#111" stroke-width="1.0"/>
<line x1="182.90" y1="236.70" x2="182.90" y2="239.60" stroke="#111" stroke-width="1.0"/>
<line x1="192.00" y1="236.70" x2="192.00" y2="239.60" stroke="#111" stroke-width="1.0"/>
<text transform="translate(124.70,217.20) rotate(-90) scale(0.780,1)" font-size="9.0" font-style="italic" text-anchor="middle" fill="#333">Sox17</text>
<path d="M246.50,236.30 L246.50,235.80 L246.50,235.25 L246.50,234.71 L246.50,234.70 L245.59,234.40 L245.18,234.10 L245.31,233.70 L245.34,233.62 L245.75,232.53 L246.21,231.44 L246.70,230.35 L247.18,229.26 L247.63,228.17 L247.99,227.08 L248.24,225.99 L248.35,224.90 L248.30,223.81 L248.11,222.72 L247.79,221.63 L247.38,220.54 L246.91,219.45 L246.42,218.36 L245.94,217.27 L245.51,216.18 L245.14,215.09 L244.83,214.00 L244.59,212.91 L244.41,211.82 L244.28,210.73 L244.20,209.64 L244.14,208.55 L244.10,207.46 L244.08,206.38 L244.07,205.29 L244.06,204.20 L244.05,203.11 L243.92,202.02 L243.78,200.93 L243.22,200.93 L243.08,202.02 L242.95,203.11 L242.94,204.20 L242.93,205.29 L242.92,206.38 L242.90,207.46 L242.86,208.55 L242.80,209.64 L242.72,210.73 L242.59,211.82 L242.41,212.91 L242.17,214.00 L241.86,215.09 L241.49,216.18 L241.06,217.27 L240.58,218.36 L240.09,219.45 L239.62,220.54 L239.21,221.63 L238.89,222.72 L238.70,223.81 L238.65,224.90 L238.76,225.99 L239.01,227.08 L239.37,228.17 L239.82,229.26 L240.30,230.35 L240.79,231.44 L241.25,232.53 L241.66,233.62 L241.69,233.70 L241.82,234.10 L241.41,234.40 L240.50,234.70 L240.50,234.71 L240.50,235.25 L240.50,235.80 L240.50,236.30Z" fill="#9a6cbd"/>
<path d="M256.10,236.30 L256.10,235.80 L256.10,235.25 L256.10,234.97 L256.10,234.70 L255.01,234.40 L254.12,234.13 L254.13,234.10 L254.27,233.70 L254.41,233.30 L254.69,232.46 L254.92,231.63 L255.08,230.79 L255.15,229.96 L255.11,229.12 L254.97,228.29 L254.74,227.45 L254.47,226.62 L254.18,225.78 L253.91,224.95 L253.67,224.11 L253.47,223.28 L253.32,222.44 L253.22,221.61 L253.15,220.77 L253.10,219.94 L253.08,219.11 L253.06,218.27 L253.06,217.44 L253.05,216.60 L253.05,215.77 L253.05,214.93 L253.05,214.10 L253.05,213.26 L253.05,212.43 L253.05,211.59 L253.05,210.76 L252.92,209.92 L252.78,209.09 L252.22,209.09 L252.08,209.92 L251.95,210.76 L251.95,211.59 L251.95,212.43 L251.95,213.26 L251.95,214.10 L251.95,214.93 L251.95,215.77 L251.95,216.60 L251.94,217.44 L251.94,218.27 L251.92,219.11 L251.90,219.94 L251.85,220.77 L251.78,221.61 L251.68,222.44 L251.53,223.28 L251.33,224.11 L251.09,224.95 L250.82,225.78 L250.53,226.62 L250.26,227.45 L250.03,228.29 L249.89,229.12 L249.85,229.96 L249.92,230.79 L250.08,231.63 L250.31,232.46 L250.59,233.30 L250.73,233.70 L250.87,234.10 L250.88,234.13 L249.99,234.40 L248.90,234.70 L248.90,234.97 L248.90,235.25 L248.90,235.80 L248.90,236.30Z" fill="#3b6db5"/>
<path d="M264.00,236.30 L264.00,235.80 L264.00,235.25 L264.00,234.70 L263.96,234.64 L263.24,234.40 L262.14,234.10 L262.16,233.70 L262.17,233.48 L262.25,232.32 L262.38,231.16 L262.55,230.00 L262.80,228.84 L263.12,227.68 L263.52,226.53 L264.00,225.37 L264.51,224.21 L265.05,223.05 L265.55,221.89 L265.98,220.73 L266.29,219.57 L266.44,218.41 L266.41,217.25 L266.22,216.09 L265.87,214.93 L265.42,213.77 L264.90,212.61 L264.37,211.45 L263.86,210.29 L263.41,209.13 L263.03,207.98 L262.72,206.82 L262.50,205.66 L262.34,204.50 L262.23,203.34 L262.15,202.18 L262.11,201.02 L261.94,199.86 L261.78,198.70 L261.22,198.70 L261.06,199.86 L260.89,201.02 L260.85,202.18 L260.77,203.34 L260.66,204.50 L260.50,205.66 L260.28,206.82 L259.97,207.98 L259.59,209.13 L259.14,210.29 L258.63,211.45 L258.10,212.61 L257.58,213.77 L257.13,214.93 L256.78,216.09 L256.59,217.25 L256.56,218.41 L256.71,219.57 L257.02,220.73 L257.45,221.89 L257.95,223.05 L258.49,224.21 L259.00,225.37 L259.48,226.53 L259.88,227.68 L260.20,228.84 L260.45,230.00 L260.62,231.16 L260.75,232.32 L260.83,233.48 L260.84,233.70 L260.86,234.10 L259.76,234.40 L259.04,234.64 L259.00,234.70 L259.00,235.25 L259.00,235.80 L259.00,236.30Z" fill="#d8486b"/>
<path d="M274.70,236.30 L274.70,235.80 L274.70,235.25 L274.70,234.70 L274.64,234.64 L273.43,234.40 L271.76,234.10 L271.89,233.70 L271.96,233.48 L272.19,232.32 L272.09,231.16 L271.73,230.00 L271.36,228.84 L271.13,227.68 L271.04,226.53 L271.01,225.37 L271.00,224.21 L271.00,223.05 L271.00,221.89 L271.00,220.73 L271.00,219.57 L271.00,218.41 L271.00,217.25 L271.00,216.09 L271.00,214.93 L271.00,213.77 L271.00,212.61 L271.00,211.45 L271.00,210.29 L271.00,209.13 L271.00,207.98 L271.00,206.82 L271.00,205.66 L271.00,204.50 L271.00,203.34 L271.00,202.18 L271.00,201.02 L270.88,199.86 L270.75,198.70 L270.25,198.70 L270.12,199.86 L270.00,201.02 L270.00,202.18 L270.00,203.34 L270.00,204.50 L270.00,205.66 L270.00,206.82 L270.00,207.98 L270.00,209.13 L270.00,210.29 L270.00,211.45 L270.00,212.61 L270.00,213.77 L270.00,214.93 L270.00,216.09 L270.00,217.25 L270.00,218.41 L270.00,219.57 L270.00,220.73 L270.00,221.89 L270.00,223.05 L270.00,224.21 L269.99,225.37 L269.96,226.53 L269.87,227.68 L269.64,228.84 L269.27,230.00 L268.91,231.16 L268.81,232.32 L269.04,233.48 L269.11,233.70 L269.24,234.10 L267.57,234.40 L266.36,234.64 L266.30,234.70 L266.30,235.25 L266.30,235.80 L266.30,236.30Z" fill="#43b4da"/>
<path d="M283.10,236.30 L283.10,235.80 L283.10,235.25 L283.10,234.70 L283.10,234.69 L282.04,234.40 L280.45,234.10 L280.49,233.70 L280.51,233.57 L280.67,232.46 L280.89,231.35 L281.17,230.24 L281.51,229.12 L281.91,228.01 L282.35,226.90 L282.81,225.78 L283.28,224.67 L283.72,223.56 L284.09,222.44 L284.36,221.33 L284.52,220.22 L284.54,219.11 L284.43,217.99 L284.19,216.88 L283.85,215.77 L283.43,214.65 L282.97,213.54 L282.50,212.43 L282.05,211.31 L281.64,210.20 L281.28,209.09 L280.98,207.98 L280.74,206.86 L280.56,205.75 L280.42,204.64 L280.33,203.52 L280.26,202.41 L280.07,201.30 L279.90,200.18 L279.30,200.18 L279.13,201.30 L278.94,202.41 L278.87,203.52 L278.78,204.64 L278.64,205.75 L278.46,206.86 L278.22,207.98 L277.92,209.09 L277.56,210.20 L277.15,211.31 L276.70,212.43 L276.23,213.54 L275.77,214.65 L275.35,215.77 L275.01,216.88 L274.77,217.99 L274.66,219.11 L274.68,220.22 L274.84,221.33 L275.11,222.44 L275.48,223.56 L275.92,224.67 L276.39,225.78 L276.85,226.90 L277.29,228.01 L277.69,229.12 L278.03,230.24 L278.31,231.35 L278.53,232.46 L278.69,233.57 L278.71,233.70 L278.75,234.10 L277.16,234.40 L276.10,234.69 L276.10,234.70 L276.10,235.25 L276.10,235.80 L276.10,236.30Z" fill="#5b8f5e"/>
<path d="M292.90,236.30 L292.90,235.80 L292.90,235.25 L292.90,234.94 L292.90,234.70 L291.63,234.40 L289.70,234.10 L289.62,234.08 L289.20,233.70 L289.20,233.23 L289.20,232.37 L289.20,231.51 L289.20,230.65 L289.20,229.79 L289.20,228.94 L289.20,228.08 L289.20,227.22 L289.20,226.36 L289.20,225.50 L289.20,224.65 L289.20,223.79 L289.20,222.93 L289.20,222.07 L289.20,221.22 L289.20,220.36 L289.20,219.50 L289.20,218.64 L289.20,217.78 L289.20,216.93 L289.20,216.07 L289.20,215.21 L289.20,214.35 L289.20,213.49 L289.20,212.64 L289.20,211.78 L289.20,210.92 L289.20,210.06 L289.08,209.20 L288.95,208.35 L288.45,208.35 L288.32,209.20 L288.20,210.06 L288.20,210.92 L288.20,211.78 L288.20,212.64 L288.20,213.49 L288.20,214.35 L288.20,215.21 L288.20,216.07 L288.20,216.93 L288.20,217.78 L288.20,218.64 L288.20,219.50 L288.20,220.36 L288.20,221.22 L288.20,222.07 L288.20,222.93 L288.20,223.79 L288.20,224.65 L288.20,225.50 L288.20,226.36 L288.20,227.22 L288.20,228.08 L288.20,228.94 L288.20,229.79 L288.20,230.65 L288.20,231.51 L288.20,232.37 L288.20,233.23 L288.20,233.70 L287.78,234.08 L287.70,234.10 L285.77,234.40 L284.50,234.70 L284.50,234.94 L284.50,235.25 L284.50,235.80 L284.50,236.30Z" fill="#b5577a"/>
<path d="M237.7,196.3 V236.7 H293.4" fill="none" stroke="#111" stroke-width="1.1"/>
<line x1="235.50" y1="235.80" x2="237.70" y2="235.80" stroke="#111" stroke-width="0.9"/>
<text transform="translate(232.10,238.10) scale(0.850,1)" font-size="6.6" text-anchor="end" fill="#333">0</text>
<line x1="235.50" y1="228.38" x2="237.70" y2="228.38" stroke="#111" stroke-width="0.9"/>
<text transform="translate(232.10,230.68) scale(0.850,1)" font-size="6.6" text-anchor="end" fill="#333">1</text>
<line x1="235.50" y1="220.96" x2="237.70" y2="220.96" stroke="#111" stroke-width="0.9"/>
<text transform="translate(232.10,223.26) scale(0.850,1)" font-size="6.6" text-anchor="end" fill="#333">2</text>
<line x1="235.50" y1="213.54" x2="237.70" y2="213.54" stroke="#111" stroke-width="0.9"/>
<text transform="translate(232.10,215.84) scale(0.850,1)" font-size="6.6" text-anchor="end" fill="#333">3</text>
<line x1="235.50" y1="206.12" x2="237.70" y2="206.12" stroke="#111" stroke-width="0.9"/>
<text transform="translate(232.10,208.42) scale(0.850,1)" font-size="6.6" text-anchor="end" fill="#333">4</text>
<line x1="235.50" y1="198.70" x2="237.70" y2="198.70" stroke="#111" stroke-width="0.9"/>
<text transform="translate(232.10,201.00) scale(0.850,1)" font-size="6.6" text-anchor="end" fill="#333">5</text>
<line x1="243.50" y1="236.70" x2="243.50" y2="239.60" stroke="#111" stroke-width="1.0"/>
<line x1="252.50" y1="236.70" x2="252.50" y2="239.60" stroke="#111" stroke-width="1.0"/>
<line x1="261.50" y1="236.70" x2="261.50" y2="239.60" stroke="#111" stroke-width="1.0"/>
<line x1="270.50" y1="236.70" x2="270.50" y2="239.60" stroke="#111" stroke-width="1.0"/>
<line x1="279.60" y1="236.70" x2="279.60" y2="239.60" stroke="#111" stroke-width="1.0"/>
<line x1="288.70" y1="236.70" x2="288.70" y2="239.60" stroke="#111" stroke-width="1.0"/>
<text transform="translate(222.10,216.50) rotate(-90) scale(0.780,1)" font-size="9.0" font-style="italic" text-anchor="middle" fill="#333">Tmem255a</text>
<path d="M53.90,298.10 L53.90,297.60 L53.90,297.06 L53.90,297.05 L53.90,296.51 L53.90,296.50 L52.63,296.20 L51.04,295.97 L50.70,295.90 L50.20,295.50 L50.20,295.42 L50.20,294.88 L50.20,294.33 L50.20,293.79 L50.20,293.24 L50.20,292.70 L50.20,292.15 L50.20,291.61 L50.20,291.06 L50.20,290.52 L50.20,289.97 L50.20,289.43 L50.20,288.89 L50.20,288.34 L50.20,287.80 L50.20,287.25 L50.20,286.71 L50.20,286.16 L50.20,285.62 L50.20,285.07 L50.20,284.53 L50.20,283.98 L50.20,283.44 L50.20,282.89 L50.20,282.35 L50.20,281.80 L50.20,281.26 L50.08,280.71 L49.95,280.17 L49.45,280.17 L49.32,280.71 L49.20,281.26 L49.20,281.80 L49.20,282.35 L49.20,282.89 L49.20,283.44 L49.20,283.98 L49.20,284.53 L49.20,285.07 L49.20,285.62 L49.20,286.16 L49.20,286.71 L49.20,287.25 L49.20,287.80 L49.20,288.34 L49.20,288.89 L49.20,289.43 L49.20,289.97 L49.20,290.52 L49.20,291.06 L49.20,291.61 L49.20,292.15 L49.20,292.70 L49.20,293.24 L49.20,293.79 L49.20,294.33 L49.20,294.88 L49.20,295.42 L49.20,295.50 L48.70,295.90 L48.36,295.97 L46.77,296.20 L45.50,296.50 L45.50,296.51 L45.50,297.05 L45.50,297.06 L45.50,297.60 L45.50,298.10Z" fill="#9a6cbd"/>
<path d="M62.80,298.10 L62.80,297.60 L62.80,297.05 L62.80,296.61 L62.80,296.50 L61.59,296.20 L59.75,295.90 L59.38,295.63 L59.38,295.50 L59.43,294.64 L59.56,293.66 L59.77,292.67 L60.03,291.69 L60.22,290.70 L60.23,289.72 L60.06,288.73 L59.81,287.74 L59.58,286.76 L59.44,285.77 L59.38,284.79 L59.36,283.80 L59.35,282.82 L59.35,281.83 L59.35,280.84 L59.35,279.86 L59.35,278.87 L59.35,277.89 L59.35,276.90 L59.35,275.92 L59.35,274.93 L59.35,273.95 L59.35,272.96 L59.35,271.97 L59.35,270.99 L59.35,270.00 L59.35,269.02 L59.35,268.03 L59.22,267.05 L59.07,266.06 L58.52,266.06 L58.38,267.05 L58.25,268.03 L58.25,269.02 L58.25,270.00 L58.25,270.99 L58.25,271.97 L58.25,272.96 L58.25,273.95 L58.25,274.93 L58.25,275.92 L58.25,276.90 L58.25,277.89 L58.25,278.87 L58.25,279.86 L58.25,280.84 L58.25,281.83 L58.25,282.82 L58.24,283.80 L58.22,284.79 L58.16,285.77 L58.02,286.76 L57.79,287.74 L57.54,288.73 L57.37,289.72 L57.38,290.70 L57.57,291.69 L57.83,292.67 L58.04,293.66 L58.17,294.64 L58.22,295.50 L58.22,295.63 L57.85,295.90 L56.01,296.20 L54.80,296.50 L54.80,296.61 L54.80,297.05 L54.80,297.60 L54.80,298.10Z" fill="#3b6db5"/>
<path d="M72.00,298.10 L72.00,297.60 L72.00,297.05 L72.00,297.03 L72.00,296.50 L71.97,296.46 L70.73,296.20 L68.80,295.90 L68.74,295.89 L68.30,295.50 L68.30,295.32 L68.30,294.75 L68.30,294.18 L68.30,293.61 L68.30,293.04 L68.30,292.46 L68.30,291.89 L68.30,291.32 L68.30,290.75 L68.30,290.18 L68.30,289.61 L68.30,289.04 L68.30,288.47 L68.30,287.90 L68.30,287.33 L68.30,286.76 L68.30,286.19 L68.30,285.62 L68.30,285.05 L68.30,284.48 L68.30,283.91 L68.30,283.33 L68.30,282.76 L68.30,282.19 L68.30,281.62 L68.30,281.05 L68.30,280.48 L68.18,279.91 L68.05,279.34 L67.55,279.34 L67.42,279.91 L67.30,280.48 L67.30,281.05 L67.30,281.62 L67.30,282.19 L67.30,282.76 L67.30,283.33 L67.30,283.91 L67.30,284.48 L67.30,285.05 L67.30,285.62 L67.30,286.19 L67.30,286.76 L67.30,287.33 L67.30,287.90 L67.30,288.47 L67.30,289.04 L67.30,289.61 L67.30,290.18 L67.30,290.75 L67.30,291.32 L67.30,291.89 L67.30,292.46 L67.30,293.04 L67.30,293.61 L67.30,294.18 L67.30,294.75 L67.30,295.32 L67.30,295.50 L66.86,295.89 L66.80,295.90 L64.87,296.20 L63.63,296.46 L63.60,296.50 L63.60,297.03 L63.60,297.05 L63.60,297.60 L63.60,298.10Z" fill="#d8486b"/>
<path d="M81.40,298.10 L81.40,297.60 L81.40,297.05 L81.40,296.50 L81.37,296.46 L80.04,296.20 L78.51,295.90 L78.61,295.50 L78.66,295.32 L78.99,294.18 L79.36,293.04 L79.75,291.89 L80.15,290.75 L80.54,289.61 L80.90,288.47 L81.19,287.33 L81.41,286.19 L81.53,285.05 L81.54,283.91 L81.45,282.76 L81.26,281.62 L80.98,280.48 L80.64,279.34 L80.26,278.20 L79.86,277.06 L79.46,275.92 L79.09,274.78 L78.75,273.63 L78.45,272.49 L78.20,271.35 L78.00,270.21 L77.84,269.07 L77.72,267.93 L77.63,266.79 L77.57,265.65 L77.53,264.50 L77.50,263.36 L77.34,262.22 L77.18,261.08 L76.62,261.08 L76.46,262.22 L76.30,263.36 L76.27,264.50 L76.23,265.65 L76.17,266.79 L76.08,267.93 L75.96,269.07 L75.80,270.21 L75.60,271.35 L75.35,272.49 L75.05,273.63 L74.71,274.78 L74.34,275.92 L73.94,277.06 L73.54,278.20 L73.16,279.34 L72.82,280.48 L72.54,281.62 L72.35,282.76 L72.26,283.91 L72.27,285.05 L72.39,286.19 L72.61,287.33 L72.90,288.47 L73.26,289.61 L73.65,290.75 L74.05,291.89 L74.44,293.04 L74.81,294.18 L75.14,295.32 L75.19,295.50 L75.29,295.90 L73.76,296.20 L72.43,296.46 L72.40,296.50 L72.40,297.05 L72.40,297.60 L72.40,298.10Z" fill="#43b4da"/>
<path d="M90.20,298.10 L90.20,297.60 L90.20,297.05 L90.20,296.80 L90.20,296.50 L88.93,296.20 L87.50,295.99 L87.00,295.90 L86.50,295.50 L86.50,295.19 L86.50,294.38 L86.50,293.58 L86.50,292.78 L86.50,291.97 L86.50,291.17 L86.50,290.36 L86.50,289.56 L86.50,288.76 L86.50,287.95 L86.50,287.15 L86.50,286.34 L86.50,285.54 L86.50,284.74 L86.50,283.93 L86.50,283.13 L86.50,282.32 L86.50,281.52 L86.50,280.71 L86.50,279.91 L86.50,279.11 L86.50,278.30 L86.50,277.50 L86.50,276.69 L86.50,275.89 L86.50,275.09 L86.50,274.28 L86.50,273.48 L86.38,272.67 L86.25,271.87 L85.75,271.87 L85.62,272.67 L85.50,273.48 L85.50,274.28 L85.50,275.09 L85.50,275.89 L85.50,276.69 L85.50,277.50 L85.50,278.30 L85.50,279.11 L85.50,279.91 L85.50,280.71 L85.50,281.52 L85.50,282.32 L85.50,283.13 L85.50,283.93 L85.50,284.74 L85.50,285.54 L85.50,286.34 L85.50,287.15 L85.50,287.95 L85.50,288.76 L85.50,289.56 L85.50,290.36 L85.50,291.17 L85.50,291.97 L85.50,292.78 L85.50,293.58 L85.50,294.38 L85.50,295.19 L85.50,295.50 L85.00,295.90 L84.50,295.99 L83.07,296.20 L81.80,296.50 L81.80,296.80 L81.80,297.05 L81.80,297.60 L81.80,298.10Z" fill="#5b8f5e"/>
<path d="M99.30,298.10 L99.30,297.60 L99.30,297.05 L99.30,296.80 L99.30,296.50 L98.03,296.20 L96.60,295.99 L96.10,295.90 L95.60,295.50 L95.60,295.19 L95.60,294.38 L95.60,293.58 L95.60,292.78 L95.60,291.97 L95.60,291.17 L95.60,290.36 L95.60,289.56 L95.60,288.76 L95.60,287.95 L95.60,287.15 L95.60,286.34 L95.60,285.54 L95.60,284.74 L95.60,283.93 L95.60,283.13 L95.60,282.32 L95.60,281.52 L95.60,280.71 L95.60,279.91 L95.60,279.11 L95.60,278.30 L95.60,277.50 L95.60,276.69 L95.60,275.89 L95.60,275.09 L95.60,274.28 L95.60,273.48 L95.48,272.67 L95.35,271.87 L94.85,271.87 L94.72,272.67 L94.60,273.48 L94.60,274.28 L94.60,275.09 L94.60,275.89 L94.60,276.69 L94.60,277.50 L94.60,278.30 L94.60,279.11 L94.60,279.91 L94.60,280.71 L94.60,281.52 L94.60,282.32 L94.60,283.13 L94.60,283.93 L94.60,284.74 L94.60,285.54 L94.60,286.34 L94.60,287.15 L94.60,287.95 L94.60,288.76 L94.60,289.56 L94.60,290.36 L94.60,291.17 L94.60,291.97 L94.60,292.78 L94.60,293.58 L94.60,294.38 L94.60,295.19 L94.60,295.50 L94.10,295.90 L93.60,295.99 L92.17,296.20 L90.90,296.50 L90.90,296.80 L90.90,297.05 L90.90,297.60 L90.90,298.10Z" fill="#b5577a"/>
<path d="M43.8,260.2 V299.0 H100.8" fill="none" stroke="#111" stroke-width="1.1"/>
<line x1="41.60" y1="297.60" x2="43.80" y2="297.60" stroke="#111" stroke-width="0.9"/>
<text transform="translate(38.20,299.90) scale(0.850,1)" font-size="6.6" text-anchor="end" fill="#333">0</text>
<line x1="41.60" y1="289.30" x2="43.80" y2="289.30" stroke="#111" stroke-width="0.9"/>
<text transform="translate(38.20,291.60) scale(0.850,1)" font-size="6.6" text-anchor="end" fill="#333">1</text>
<line x1="41.60" y1="281.00" x2="43.80" y2="281.00" stroke="#111" stroke-width="0.9"/>
<text transform="translate(38.20,283.30) scale(0.850,1)" font-size="6.6" text-anchor="end" fill="#333">2</text>
<line x1="41.60" y1="272.70" x2="43.80" y2="272.70" stroke="#111" stroke-width="0.9"/>
<text transform="translate(38.20,275.00) scale(0.850,1)" font-size="6.6" text-anchor="end" fill="#333">3</text>
<line x1="41.60" y1="264.40" x2="43.80" y2="264.40" stroke="#111" stroke-width="0.9"/>
<text transform="translate(38.20,266.70) scale(0.850,1)" font-size="6.6" text-anchor="end" fill="#333">4</text>
<line x1="49.70" y1="299.00" x2="49.70" y2="301.90" stroke="#111" stroke-width="1.0"/>
<line x1="58.80" y1="299.00" x2="58.80" y2="301.90" stroke="#111" stroke-width="1.0"/>
<line x1="67.80" y1="299.00" x2="67.80" y2="301.90" stroke="#111" stroke-width="1.0"/>
<line x1="76.90" y1="299.00" x2="76.90" y2="301.90" stroke="#111" stroke-width="1.0"/>
<line x1="86.00" y1="299.00" x2="86.00" y2="301.90" stroke="#111" stroke-width="1.0"/>
<line x1="95.10" y1="299.00" x2="95.10" y2="301.90" stroke="#111" stroke-width="1.0"/>
<text transform="translate(29.40,280.00) rotate(-90) scale(0.780,1)" font-size="9.0" font-style="italic" text-anchor="middle" fill="#333">Foxq1</text>
<path d="M150.60,298.00 L150.60,297.50 L150.60,296.95 L150.60,296.88 L150.60,296.40 L150.25,296.25 L149.33,296.10 L147.40,295.80 L146.90,295.63 L146.90,295.40 L146.90,295.00 L146.90,294.38 L146.90,293.75 L146.90,293.13 L146.90,292.51 L146.90,291.88 L146.90,291.26 L146.90,290.63 L146.90,290.01 L146.90,289.38 L146.90,288.76 L146.90,288.14 L146.90,287.51 L146.90,286.89 L146.90,286.26 L146.90,285.64 L146.90,285.01 L146.90,284.39 L146.90,283.77 L146.90,283.14 L146.90,282.52 L146.90,281.89 L146.90,281.27 L146.90,280.65 L146.90,280.02 L146.90,279.40 L146.90,278.77 L146.78,278.15 L146.65,277.52 L146.15,277.52 L146.02,278.15 L145.90,278.77 L145.90,279.40 L145.90,280.02 L145.90,280.65 L145.90,281.27 L145.90,281.89 L145.90,282.52 L145.90,283.14 L145.90,283.77 L145.90,284.39 L145.90,285.01 L145.90,285.64 L145.90,286.26 L145.90,286.89 L145.90,287.51 L145.90,288.14 L145.90,288.76 L145.90,289.38 L145.90,290.01 L145.90,290.63 L145.90,291.26 L145.90,291.88 L145.90,292.51 L145.90,293.13 L145.90,293.75 L145.90,294.38 L145.90,295.00 L145.90,295.40 L145.90,295.63 L145.40,295.80 L143.47,296.10 L142.55,296.25 L142.20,296.40 L142.20,296.88 L142.20,296.95 L142.20,297.50 L142.20,298.00Z" fill="#9a6cbd"/>
<path d="M160.10,298.00 L160.10,297.50 L160.10,296.95 L160.10,296.40 L160.10,296.39 L158.74,296.10 L156.67,295.80 L156.79,295.40 L156.83,295.29 L157.24,294.18 L157.67,293.07 L157.97,291.97 L158.04,290.86 L157.93,289.75 L157.69,288.65 L157.38,287.54 L157.05,286.43 L156.76,285.33 L156.53,284.22 L156.37,283.11 L156.26,282.01 L156.21,280.90 L156.17,279.79 L156.16,278.69 L156.15,277.58 L156.15,276.47 L156.15,275.37 L156.15,274.26 L156.15,273.15 L156.15,272.05 L156.15,270.94 L156.15,269.83 L156.15,268.73 L156.15,267.62 L156.15,266.51 L156.15,265.41 L156.15,264.30 L156.02,263.19 L155.88,262.09 L155.32,262.09 L155.18,263.19 L155.05,264.30 L155.05,265.41 L155.05,266.51 L155.05,267.62 L155.05,268.73 L155.05,269.83 L155.05,270.94 L155.05,272.05 L155.05,273.15 L155.05,274.26 L155.05,275.37 L155.05,276.47 L155.05,277.58 L155.04,278.69 L155.03,279.79 L154.99,280.90 L154.94,282.01 L154.83,283.11 L154.67,284.22 L154.44,285.33 L154.15,286.43 L153.82,287.54 L153.51,288.65 L153.27,289.75 L153.16,290.86 L153.23,291.97 L153.53,293.07 L153.96,294.18 L154.37,295.29 L154.41,295.40 L154.53,295.80 L152.46,296.10 L151.10,296.39 L151.10,296.40 L151.10,296.95 L151.10,297.50 L151.10,298.00Z" fill="#3b6db5"/>
<path d="M168.90,298.00 L168.90,297.50 L168.90,296.96 L168.90,296.95 L168.90,296.42 L168.90,296.40 L167.63,296.10 L166.14,295.88 L165.70,295.80 L165.20,295.40 L165.20,295.34 L165.20,294.80 L165.20,294.27 L165.20,293.73 L165.20,293.19 L165.20,292.65 L165.20,292.11 L165.20,291.57 L165.20,291.03 L165.20,290.49 L165.20,289.95 L165.20,289.41 L165.20,288.87 L165.20,288.33 L165.20,287.80 L165.20,287.26 L165.20,286.72 L165.20,286.18 L165.20,285.64 L165.20,285.10 L165.20,284.56 L165.20,284.02 L165.20,283.48 L165.20,282.94 L165.20,282.40 L165.20,281.87 L165.20,281.33 L165.08,280.79 L164.95,280.25 L164.45,280.25 L164.32,280.79 L164.20,281.33 L164.20,281.87 L164.20,282.40 L164.20,282.94 L164.20,283.48 L164.20,284.02 L164.20,284.56 L164.20,285.10 L164.20,285.64 L164.20,286.18 L164.20,286.72 L164.20,287.26 L164.20,287.80 L164.20,288.33 L164.20,288.87 L164.20,289.41 L164.20,289.95 L164.20,290.49 L164.20,291.03 L164.20,291.57 L164.20,292.11 L164.20,292.65 L164.20,293.19 L164.20,293.73 L164.20,294.27 L164.20,294.80 L164.20,295.34 L164.20,295.40 L163.70,295.80 L163.26,295.88 L161.77,296.10 L160.50,296.40 L160.50,296.42 L160.50,296.95 L160.50,296.96 L160.50,297.50 L160.50,298.00Z" fill="#d8486b"/>
<path d="M178.30,298.00 L178.30,297.50 L178.30,296.95 L178.30,296.40 L178.23,296.34 L176.94,296.10 L175.90,295.80 L176.01,295.40 L176.07,295.17 L176.41,294.01 L176.76,292.85 L177.13,291.68 L177.48,290.52 L177.82,289.36 L178.11,288.19 L178.35,287.03 L178.53,285.87 L178.63,284.70 L178.65,283.54 L178.59,282.38 L178.46,281.21 L178.28,280.05 L178.04,278.89 L177.75,277.72 L177.44,276.56 L177.10,275.40 L176.77,274.23 L176.44,273.07 L176.12,271.91 L175.83,270.74 L175.56,269.58 L175.33,268.42 L175.13,267.25 L174.96,266.09 L174.82,264.93 L174.70,263.76 L174.61,262.60 L174.36,261.44 L174.14,260.27 L173.46,260.27 L173.24,261.44 L172.99,262.60 L172.90,263.76 L172.78,264.93 L172.64,266.09 L172.47,267.25 L172.27,268.42 L172.04,269.58 L171.77,270.74 L171.48,271.91 L171.16,273.07 L170.83,274.23 L170.50,275.40 L170.16,276.56 L169.85,277.72 L169.56,278.89 L169.32,280.05 L169.14,281.21 L169.01,282.38 L168.95,283.54 L168.97,284.70 L169.07,285.87 L169.25,287.03 L169.49,288.19 L169.78,289.36 L170.12,290.52 L170.47,291.68 L170.84,292.85 L171.19,294.01 L171.53,295.17 L171.59,295.40 L171.70,295.80 L170.66,296.10 L169.37,296.34 L169.30,296.40 L169.30,296.95 L169.30,297.50 L169.30,298.00Z" fill="#43b4da"/>
<path d="M187.10,298.00 L187.10,297.50 L187.10,296.95 L187.10,296.62 L187.10,296.40 L185.83,296.10 L183.90,295.80 L183.64,295.74 L183.40,295.40 L183.40,294.86 L183.40,293.98 L183.40,293.10 L183.40,292.22 L183.40,291.34 L183.40,290.46 L183.40,289.58 L183.40,288.70 L183.40,287.82 L183.40,286.94 L183.40,286.06 L183.40,285.19 L183.40,284.31 L183.40,283.43 L183.40,282.55 L183.40,281.67 L183.40,280.79 L183.40,279.91 L183.40,279.03 L183.40,278.15 L183.40,277.27 L183.40,276.39 L183.40,275.51 L183.40,274.63 L183.40,273.75 L183.40,272.87 L183.40,271.99 L183.40,271.11 L183.28,270.23 L183.15,269.35 L182.65,269.35 L182.52,270.23 L182.40,271.11 L182.40,271.99 L182.40,272.87 L182.40,273.75 L182.40,274.63 L182.40,275.51 L182.40,276.39 L182.40,277.27 L182.40,278.15 L182.40,279.03 L182.40,279.91 L182.40,280.79 L182.40,281.67 L182.40,282.55 L182.40,283.43 L182.40,284.31 L182.40,285.19 L182.40,286.06 L182.40,286.94 L182.40,287.82 L182.40,288.70 L182.40,289.58 L182.40,290.46 L182.40,291.34 L182.40,292.22 L182.40,293.10 L182.40,293.98 L182.40,294.86 L182.40,295.40 L182.16,295.74 L181.90,295.80 L179.97,296.10 L178.70,296.40 L178.70,296.62 L178.70,296.95 L178.70,297.50 L178.70,298.00Z" fill="#5b8f5e"/>
<path d="M196.20,298.00 L196.20,297.50 L196.20,297.05 L196.20,296.95 L196.20,296.59 L196.20,296.40 L195.19,296.14 L194.93,296.10 L193.00,295.80 L192.54,295.68 L192.50,295.40 L192.50,295.23 L192.50,294.78 L192.50,294.32 L192.50,293.87 L192.50,293.41 L192.50,292.96 L192.50,292.51 L192.50,292.05 L192.50,291.60 L192.50,291.14 L192.50,290.69 L192.50,290.24 L192.50,289.78 L192.50,289.33 L192.50,288.87 L192.50,288.42 L192.50,287.97 L192.50,287.51 L192.50,287.06 L192.50,286.60 L192.50,286.15 L192.50,285.70 L192.50,285.24 L192.50,284.79 L192.50,284.33 L192.50,283.88 L192.38,283.43 L192.25,282.97 L191.75,282.97 L191.62,283.43 L191.50,283.88 L191.50,284.33 L191.50,284.79 L191.50,285.24 L191.50,285.70 L191.50,286.15 L191.50,286.60 L191.50,287.06 L191.50,287.51 L191.50,287.97 L191.50,288.42 L191.50,288.87 L191.50,289.33 L191.50,289.78 L191.50,290.24 L191.50,290.69 L191.50,291.14 L191.50,291.60 L191.50,292.05 L191.50,292.51 L191.50,292.96 L191.50,293.41 L191.50,293.87 L191.50,294.32 L191.50,294.78 L191.50,295.23 L191.50,295.40 L191.46,295.68 L191.00,295.80 L189.07,296.10 L188.81,296.14 L187.80,296.40 L187.80,296.59 L187.80,296.95 L187.80,297.05 L187.80,297.50 L187.80,298.00Z" fill="#b5577a"/>
<path d="M140.4,258.1 V299.6 H197.2" fill="none" stroke="#111" stroke-width="1.1"/>
<line x1="138.20" y1="297.50" x2="140.40" y2="297.50" stroke="#111" stroke-width="0.9"/>
<text transform="translate(134.80,299.80) scale(0.850,1)" font-size="6.6" text-anchor="end" fill="#333">0</text>
<line x1="138.20" y1="288.42" x2="140.40" y2="288.42" stroke="#111" stroke-width="0.9"/>
<text transform="translate(134.80,290.72) scale(0.850,1)" font-size="6.6" text-anchor="end" fill="#333">1</text>
<line x1="138.20" y1="279.34" x2="140.40" y2="279.34" stroke="#111" stroke-width="0.9"/>
<text transform="translate(134.80,281.64) scale(0.850,1)" font-size="6.6" text-anchor="end" fill="#333">2</text>
<line x1="138.20" y1="270.26" x2="140.40" y2="270.26" stroke="#111" stroke-width="0.9"/>
<text transform="translate(134.80,272.56) scale(0.850,1)" font-size="6.6" text-anchor="end" fill="#333">3</text>
<line x1="138.20" y1="261.18" x2="140.40" y2="261.18" stroke="#111" stroke-width="0.9"/>
<text transform="translate(134.80,263.48) scale(0.850,1)" font-size="6.6" text-anchor="end" fill="#333">4</text>
<line x1="146.40" y1="299.60" x2="146.40" y2="302.50" stroke="#111" stroke-width="1.0"/>
<line x1="155.60" y1="299.60" x2="155.60" y2="302.50" stroke="#111" stroke-width="1.0"/>
<line x1="164.70" y1="299.60" x2="164.70" y2="302.50" stroke="#111" stroke-width="1.0"/>
<line x1="173.80" y1="299.60" x2="173.80" y2="302.50" stroke="#111" stroke-width="1.0"/>
<line x1="182.90" y1="299.60" x2="182.90" y2="302.50" stroke="#111" stroke-width="1.0"/>
<line x1="192.00" y1="299.60" x2="192.00" y2="302.50" stroke="#111" stroke-width="1.0"/>
<text transform="translate(124.70,280.80) rotate(-90) scale(0.780,1)" font-size="9.0" font-style="italic" text-anchor="middle" fill="#333">Nkd1</text>
<path d="M247.70,298.20 L247.70,297.70 L247.70,297.15 L247.70,296.95 L247.70,296.60 L246.43,296.30 L245.68,296.19 L244.50,296.00 L244.00,295.60 L244.00,295.44 L244.00,294.69 L244.00,293.94 L244.00,293.19 L244.00,292.43 L244.00,291.68 L244.00,290.93 L244.00,290.18 L244.00,289.42 L244.00,288.67 L244.00,287.92 L244.00,287.16 L244.00,286.41 L244.00,285.66 L244.00,284.91 L244.00,284.15 L244.00,283.40 L244.00,282.65 L244.00,281.90 L244.00,281.14 L244.00,280.39 L244.00,279.64 L244.00,278.89 L244.00,278.13 L244.00,277.38 L244.00,276.63 L244.00,275.88 L244.00,275.12 L243.88,274.37 L243.75,273.62 L243.25,273.62 L243.12,274.37 L243.00,275.12 L243.00,275.88 L243.00,276.63 L243.00,277.38 L243.00,278.13 L243.00,278.89 L243.00,279.64 L243.00,280.39 L243.00,281.14 L243.00,281.90 L243.00,282.65 L243.00,283.40 L243.00,284.15 L243.00,284.91 L243.00,285.66 L243.00,286.41 L243.00,287.16 L243.00,287.92 L243.00,288.67 L243.00,289.42 L243.00,290.18 L243.00,290.93 L243.00,291.68 L243.00,292.43 L243.00,293.19 L243.00,293.94 L243.00,294.69 L243.00,295.44 L243.00,295.60 L242.50,296.00 L241.32,296.19 L240.57,296.30 L239.30,296.60 L239.30,296.95 L239.30,297.15 L239.30,297.70 L239.30,298.20Z" fill="#9a6cbd"/>
<path d="M256.70,298.20 L256.70,297.70 L256.70,297.15 L256.70,297.10 L256.70,296.60 L256.52,296.50 L255.43,296.30 L253.50,296.00 L253.07,295.89 L253.00,295.60 L253.00,295.29 L253.00,294.69 L253.00,294.09 L253.00,293.49 L253.00,292.88 L253.00,292.28 L253.00,291.68 L253.00,291.08 L253.00,290.48 L253.00,289.87 L253.00,289.27 L253.00,288.67 L253.00,288.07 L253.00,287.47 L253.00,286.86 L253.00,286.26 L253.00,285.66 L253.00,285.06 L253.00,284.46 L253.00,283.85 L253.00,283.25 L253.00,282.65 L253.00,282.05 L253.00,281.45 L253.00,280.84 L253.00,280.24 L253.00,279.64 L252.88,279.04 L252.75,278.44 L252.25,278.44 L252.12,279.04 L252.00,279.64 L252.00,280.24 L252.00,280.84 L252.00,281.45 L252.00,282.05 L252.00,282.65 L252.00,283.25 L252.00,283.85 L252.00,284.46 L252.00,285.06 L252.00,285.66 L252.00,286.26 L252.00,286.86 L252.00,287.47 L252.00,288.07 L252.00,288.67 L252.00,289.27 L252.00,289.87 L252.00,290.48 L252.00,291.08 L252.00,291.68 L252.00,292.28 L252.00,292.88 L252.00,293.49 L252.00,294.09 L252.00,294.69 L252.00,295.29 L252.00,295.60 L251.93,295.89 L251.50,296.00 L249.57,296.30 L248.48,296.50 L248.30,296.60 L248.30,297.10 L248.30,297.15 L248.30,297.70 L248.30,298.20Z" fill="#3b6db5"/>
<path d="M266.00,298.20 L266.00,297.70 L266.00,297.15 L266.00,296.99 L266.00,296.60 L264.64,296.30 L264.50,296.28 L262.57,296.00 L262.56,295.60 L262.57,295.57 L262.75,294.86 L262.97,294.15 L263.21,293.44 L263.47,292.73 L263.74,292.02 L263.98,291.31 L264.19,290.60 L264.35,289.90 L264.44,289.19 L264.44,288.48 L264.37,287.77 L264.23,287.06 L264.03,286.35 L263.79,285.64 L263.53,284.93 L263.27,284.22 L263.02,283.51 L262.79,282.80 L262.60,282.09 L262.45,281.38 L262.33,280.67 L262.24,279.96 L262.17,279.25 L262.13,278.54 L262.10,277.83 L262.08,277.12 L262.07,276.41 L261.92,275.71 L261.78,275.00 L261.22,275.00 L261.08,275.71 L260.93,276.41 L260.92,277.12 L260.90,277.83 L260.87,278.54 L260.83,279.25 L260.76,279.96 L260.67,280.67 L260.55,281.38 L260.40,282.09 L260.21,282.80 L259.98,283.51 L259.73,284.22 L259.47,284.93 L259.21,285.64 L258.97,286.35 L258.77,287.06 L258.63,287.77 L258.56,288.48 L258.56,289.19 L258.65,289.90 L258.81,290.60 L259.02,291.31 L259.26,292.02 L259.53,292.73 L259.79,293.44 L260.03,294.15 L260.25,294.86 L260.43,295.57 L260.44,295.60 L260.43,296.00 L258.50,296.28 L258.36,296.30 L257.00,296.60 L257.00,296.99 L257.00,297.15 L257.00,297.70 L257.00,298.20Z" fill="#d8486b"/>
<path d="M275.00,298.20 L275.00,297.70 L275.00,297.15 L275.00,296.97 L275.00,296.60 L273.64,296.30 L273.16,296.24 L271.57,296.00 L271.62,295.60 L271.63,295.51 L271.76,294.78 L271.84,294.05 L271.85,293.31 L271.79,292.58 L271.67,291.85 L271.53,291.12 L271.39,290.39 L271.27,289.66 L271.18,288.93 L271.12,288.20 L271.08,287.47 L271.07,286.74 L271.06,286.00 L271.05,285.27 L271.05,284.54 L271.05,283.81 L271.05,283.08 L271.05,282.35 L271.05,281.62 L271.05,280.89 L271.05,280.16 L271.05,279.43 L271.05,278.69 L271.05,277.96 L271.05,277.23 L271.05,276.50 L271.05,275.77 L270.92,275.04 L270.78,274.31 L270.22,274.31 L270.08,275.04 L269.95,275.77 L269.95,276.50 L269.95,277.23 L269.95,277.96 L269.95,278.69 L269.95,279.43 L269.95,280.16 L269.95,280.89 L269.95,281.62 L269.95,282.35 L269.95,283.08 L269.95,283.81 L269.95,284.54 L269.95,285.27 L269.94,286.00 L269.93,286.74 L269.92,287.47 L269.88,288.20 L269.82,288.93 L269.73,289.66 L269.61,290.39 L269.47,291.12 L269.33,291.85 L269.21,292.58 L269.15,293.31 L269.16,294.05 L269.24,294.78 L269.37,295.51 L269.38,295.60 L269.43,296.00 L267.84,296.24 L267.36,296.30 L266.00,296.60 L266.00,296.97 L266.00,297.15 L266.00,297.70 L266.00,298.20Z" fill="#43b4da"/>
<path d="M284.10,298.20 L284.10,297.70 L284.10,297.15 L284.10,296.60 L284.03,296.54 L282.74,296.30 L281.38,296.00 L281.52,295.60 L281.60,295.38 L282.07,294.22 L282.58,293.06 L283.11,291.89 L283.61,290.73 L284.05,289.57 L284.36,288.41 L284.53,287.25 L284.53,286.09 L284.35,284.93 L284.03,283.77 L283.59,282.61 L283.09,281.45 L282.56,280.28 L282.05,279.12 L281.59,277.96 L281.20,276.80 L280.88,275.64 L280.64,274.48 L280.47,273.32 L280.35,272.16 L280.27,271.00 L280.22,269.84 L280.19,268.68 L280.17,267.51 L280.16,266.35 L280.15,265.19 L280.15,264.03 L280.15,262.87 L280.02,261.71 L279.88,260.55 L279.32,260.55 L279.18,261.71 L279.05,262.87 L279.05,264.03 L279.05,265.19 L279.04,266.35 L279.03,267.51 L279.01,268.68 L278.98,269.84 L278.93,271.00 L278.85,272.16 L278.73,273.32 L278.56,274.48 L278.32,275.64 L278.00,276.80 L277.61,277.96 L277.15,279.12 L276.64,280.28 L276.11,281.45 L275.61,282.61 L275.17,283.77 L274.85,284.93 L274.67,286.09 L274.67,287.25 L274.84,288.41 L275.15,289.57 L275.59,290.73 L276.09,291.89 L276.62,293.06 L277.13,294.22 L277.60,295.38 L277.68,295.60 L277.82,296.00 L276.46,296.30 L275.17,296.54 L275.10,296.60 L275.10,297.15 L275.10,297.70 L275.10,298.20Z" fill="#5b8f5e"/>
<path d="M292.70,298.20 L292.70,297.70 L292.70,297.15 L292.70,296.93 L292.70,296.60 L291.49,296.30 L290.49,296.15 L289.68,296.00 L289.76,295.60 L289.82,295.38 L290.02,294.60 L290.26,293.83 L290.54,293.06 L290.85,292.28 L291.17,291.51 L291.49,290.73 L291.77,289.96 L292.01,289.19 L292.17,288.41 L292.24,287.64 L292.23,286.86 L292.12,286.09 L291.93,285.32 L291.68,284.54 L291.38,283.77 L291.07,282.99 L290.75,282.22 L290.45,281.45 L290.18,280.67 L289.95,279.90 L289.76,279.12 L289.61,278.35 L289.49,277.58 L289.41,276.80 L289.35,276.03 L289.31,275.25 L289.29,274.48 L289.14,273.71 L288.98,272.93 L288.42,272.93 L288.26,273.71 L288.11,274.48 L288.09,275.25 L288.05,276.03 L287.99,276.80 L287.91,277.58 L287.79,278.35 L287.64,279.12 L287.45,279.90 L287.22,280.67 L286.95,281.45 L286.65,282.22 L286.33,282.99 L286.02,283.77 L285.72,284.54 L285.47,285.32 L285.28,286.09 L285.17,286.86 L285.16,287.64 L285.23,288.41 L285.39,289.19 L285.63,289.96 L285.91,290.73 L286.23,291.51 L286.55,292.28 L286.86,293.06 L287.14,293.83 L287.38,294.60 L287.58,295.38 L287.64,295.60 L287.72,296.00 L286.91,296.15 L285.91,296.30 L284.70,296.60 L284.70,296.93 L284.70,297.15 L284.70,297.70 L284.70,298.20Z" fill="#b5577a"/>
<path d="M237.7,260.0 V299.0 H293.4" fill="none" stroke="#111" stroke-width="1.1"/>
<line x1="235.50" y1="297.70" x2="237.70" y2="297.70" stroke="#111" stroke-width="0.9"/>
<text transform="translate(232.10,300.00) scale(0.850,1)" font-size="6.6" text-anchor="end" fill="#333">0</text>
<line x1="235.50" y1="283.94" x2="237.70" y2="283.94" stroke="#111" stroke-width="0.9"/>
<text transform="translate(232.10,286.24) scale(0.850,1)" font-size="6.6" text-anchor="end" fill="#333">2</text>
<line x1="235.50" y1="270.18" x2="237.70" y2="270.18" stroke="#111" stroke-width="0.9"/>
<text transform="translate(232.10,272.48) scale(0.850,1)" font-size="6.6" text-anchor="end" fill="#333">4</text>
<line x1="243.50" y1="299.00" x2="243.50" y2="301.90" stroke="#111" stroke-width="1.0"/>
<line x1="252.50" y1="299.00" x2="252.50" y2="301.90" stroke="#111" stroke-width="1.0"/>
<line x1="261.50" y1="299.00" x2="261.50" y2="301.90" stroke="#111" stroke-width="1.0"/>
<line x1="270.50" y1="299.00" x2="270.50" y2="301.90" stroke="#111" stroke-width="1.0"/>
<line x1="279.60" y1="299.00" x2="279.60" y2="301.90" stroke="#111" stroke-width="1.0"/>
<line x1="288.70" y1="299.00" x2="288.70" y2="301.90" stroke="#111" stroke-width="1.0"/>
<text transform="translate(222.10,280.80) rotate(-90) scale(0.780,1)" font-size="9.0" font-style="italic" text-anchor="middle" fill="#333">Dll4</text>
<text transform="translate(52.40,306.60) rotate(-90) scale(0.900,1)" font-size="7.6" text-anchor="end" fill="#2a2a2a">Wnt<tspan font-size="4.8" dy="-2.8">lo</tspan><tspan dy="2.8"> VE</tspan></text>
<text transform="translate(61.50,306.60) rotate(-90) scale(0.900,1)" font-size="7.6" text-anchor="end" fill="#2a2a2a">Wnt<tspan font-size="4.8" dy="-2.8">hi</tspan><tspan dy="2.8"> VE</tspan></text>
<text transform="translate(70.50,306.60) rotate(-90) scale(0.900,1)" font-size="7.6" text-anchor="end" fill="#2a2a2a">Wnt<tspan font-size="4.8" dy="-2.8">lo</tspan><tspan dy="2.8"> AE</tspan></text>
<text transform="translate(79.60,306.60) rotate(-90) scale(0.900,1)" font-size="7.6" text-anchor="end" fill="#2a2a2a">Wnt<tspan font-size="4.8" dy="-2.8">hi</tspan><tspan dy="2.8"> AE</tspan></text>
<text transform="translate(88.70,306.60) rotate(-90) scale(0.900,1)" font-size="7.6" text-anchor="end" fill="#2a2a2a">Conflux AE</text>
<text transform="translate(97.80,306.60) rotate(-90) scale(0.900,1)" font-size="7.6" text-anchor="end" fill="#2a2a2a">Pre–HE</text>
<text transform="translate(149.10,306.60) rotate(-90) scale(0.900,1)" font-size="7.6" text-anchor="end" fill="#2a2a2a">Wnt<tspan font-size="4.8" dy="-2.8">lo</tspan><tspan dy="2.8"> VE</tspan></text>
<text transform="translate(158.30,306.60) rotate(-90) scale(0.900,1)" font-size="7.6" text-anchor="end" fill="#2a2a2a">Wnt<tspan font-size="4.8" dy="-2.8">hi</tspan><tspan dy="2.8"> VE</tspan></text>
<text transform="translate(167.40,306.60) rotate(-90) scale(0.900,1)" font-size="7.6" text-anchor="end" fill="#2a2a2a">Wnt<tspan font-size="4.8" dy="-2.8">lo</tspan><tspan dy="2.8"> AE</tspan></text>
<text transform="translate(176.50,306.60) rotate(-90) scale(0.900,1)" font-size="7.6" text-anchor="end" fill="#2a2a2a">Wnt<tspan font-size="4.8" dy="-2.8">hi</tspan><tspan dy="2.8"> AE</tspan></text>
<text transform="translate(185.60,306.60) rotate(-90) scale(0.900,1)" font-size="7.6" text-anchor="end" fill="#2a2a2a">Conflux AE</text>
<text transform="translate(194.70,306.60) rotate(-90) scale(0.900,1)" font-size="7.6" text-anchor="end" fill="#2a2a2a">Pre–HE</text>
<text transform="translate(246.20,306.60) rotate(-90) scale(0.900,1)" font-size="7.6" text-anchor="end" fill="#2a2a2a">Wnt<tspan font-size="4.8" dy="-2.8">lo</tspan><tspan dy="2.8"> VE</tspan></text>
<text transform="translate(255.20,306.60) rotate(-90) scale(0.900,1)" font-size="7.6" text-anchor="end" fill="#2a2a2a">Wnt<tspan font-size="4.8" dy="-2.8">hi</tspan><tspan dy="2.8"> VE</tspan></text>
<text transform="translate(264.20,306.60) rotate(-90) scale(0.900,1)" font-size="7.6" text-anchor="end" fill="#2a2a2a">Wnt<tspan font-size="4.8" dy="-2.8">lo</tspan><tspan dy="2.8"> AE</tspan></text>
<text transform="translate(273.20,306.60) rotate(-90) scale(0.900,1)" font-size="7.6" text-anchor="end" fill="#2a2a2a">Wnt<tspan font-size="4.8" dy="-2.8">hi</tspan><tspan dy="2.8"> AE</tspan></text>
<text transform="translate(282.30,306.60) rotate(-90) scale(0.900,1)" font-size="7.6" text-anchor="end" fill="#2a2a2a">Conflux AE</text>
<text transform="translate(291.40,306.60) rotate(-90) scale(0.900,1)" font-size="7.6" text-anchor="end" fill="#2a2a2a">Pre–HE</text>
<rect x="373.20" y="194.30" width="14.30" height="14.75" fill="#4dbb6c"/>
<rect x="386.90" y="194.30" width="14.30" height="14.75" fill="#62c160"/>
<rect x="400.60" y="194.30" width="14.30" height="14.75" fill="#e3e31b"/>
<rect x="414.30" y="194.30" width="14.30" height="14.75" fill="#ece41b"/>
<rect x="428.00" y="194.30" width="14.30" height="14.75" fill="#f7e621"/>
<rect x="441.70" y="194.30" width="14.30" height="14.75" fill="#62c160"/>
<rect x="455.40" y="194.30" width="13.70" height="14.75" fill="#62c160"/>
<rect x="373.20" y="208.50" width="14.30" height="14.15" fill="#463888"/>
<rect x="386.90" y="208.50" width="14.30" height="14.15" fill="#45195f"/>
<rect x="400.60" y="208.50" width="14.30" height="14.15" fill="#43155a"/>
<rect x="414.30" y="208.50" width="14.30" height="14.15" fill="#3d4d8a"/>
<rect x="428.00" y="208.50" width="14.30" height="14.15" fill="#2a788e"/>
<rect x="441.70" y="208.50" width="14.30" height="14.15" fill="#4dbb6c"/>
<rect x="455.40" y="208.50" width="13.70" height="14.15" fill="#62c160"/>
<rect x="373.20" y="231.80" width="14.30" height="14.75" fill="#44165b"/>
<rect x="386.90" y="231.80" width="14.30" height="14.75" fill="#44165b"/>
<rect x="400.60" y="231.80" width="14.30" height="14.75" fill="#461f60"/>
<rect x="414.30" y="231.80" width="14.30" height="14.75" fill="#472c6e"/>
<rect x="428.00" y="231.80" width="14.30" height="14.75" fill="#443a83"/>
<rect x="441.70" y="231.80" width="14.30" height="14.75" fill="#2e6f8e"/>
<rect x="455.40" y="231.80" width="13.70" height="14.75" fill="#2e6a8e"/>
<rect x="373.20" y="245.90" width="14.30" height="14.15" fill="#2f6b8e"/>
<rect x="386.90" y="245.90" width="14.30" height="14.15" fill="#22a884"/>
<rect x="400.60" y="245.90" width="14.30" height="14.15" fill="#dde318"/>
<rect x="414.30" y="245.90" width="14.30" height="14.15" fill="#f6e620"/>
<rect x="428.00" y="245.90" width="14.30" height="14.15" fill="#4ec36b"/>
<rect x="441.70" y="245.90" width="14.30" height="14.15" fill="#24878e"/>
<rect x="455.40" y="245.90" width="13.70" height="14.15" fill="#2e6a8e"/>
<rect x="373.20" y="269.10" width="14.30" height="14.75" fill="#461c5f"/>
<rect x="386.90" y="269.10" width="14.30" height="14.75" fill="#44145a"/>
<rect x="400.60" y="269.10" width="14.30" height="14.75" fill="#472a6a"/>
<rect x="414.30" y="269.10" width="14.30" height="14.75" fill="#424086"/>
<rect x="428.00" y="269.10" width="14.30" height="14.75" fill="#2e6d8e"/>
<rect x="441.70" y="269.10" width="14.30" height="14.75" fill="#4dbb6c"/>
<rect x="455.40" y="269.10" width="13.70" height="14.75" fill="#fde725"/>
<rect x="373.20" y="283.20" width="14.30" height="14.15" fill="#44145a"/>
<rect x="386.90" y="283.20" width="14.30" height="14.15" fill="#46226a"/>
<rect x="400.60" y="283.20" width="14.30" height="14.15" fill="#3f4889"/>
<rect x="414.30" y="283.20" width="14.30" height="14.15" fill="#2c7f8e"/>
<rect x="428.00" y="283.20" width="14.30" height="14.15" fill="#22a884"/>
<rect x="441.70" y="283.20" width="14.30" height="14.15" fill="#6cc464"/>
<rect x="455.40" y="283.20" width="13.70" height="14.15" fill="#f4e41f"/>
<ellipse cx="355.3" cy="201.5" rx="14.5" ry="6.1" fill="#c2171d"/>
<text transform="translate(347.00,204.20)" font-size="7.4" font-weight="bold" fill="#fff">Wnt</text>
<text transform="translate(361.00,201.10)" font-size="4.4" font-weight="bold" fill="#fff">lo</text>
<ellipse cx="355.3" cy="216.4" rx="14.5" ry="6.1" fill="#3f72b3"/>
<text transform="translate(347.00,219.10)" font-size="7.4" font-weight="bold" fill="#fff">Wnt</text>
<text transform="translate(361.00,216.00)" font-size="4.4" font-weight="bold" fill="#fff">hi</text>
<ellipse cx="355.3" cy="239.2" rx="14.5" ry="6.1" fill="#c2171d"/>
<text transform="translate(347.00,241.90)" font-size="7.4" font-weight="bold" fill="#fff">Wnt</text>
<text transform="translate(361.00,238.80)" font-size="4.4" font-weight="bold" fill="#fff">lo</text>
<ellipse cx="355.3" cy="253.8" rx="14.5" ry="6.1" fill="#3f72b3"/>
<text transform="translate(347.00,256.50)" font-size="7.4" font-weight="bold" fill="#fff">Wnt</text>
<text transform="translate(361.00,253.40)" font-size="4.4" font-weight="bold" fill="#fff">hi</text>
<ellipse cx="355.3" cy="276.2" rx="14.5" ry="6.1" fill="#c2171d"/>
<text transform="translate(347.00,278.90)" font-size="7.4" font-weight="bold" fill="#fff">Wnt</text>
<text transform="translate(361.00,275.80)" font-size="4.4" font-weight="bold" fill="#fff">lo</text>
<ellipse cx="355.3" cy="291.2" rx="14.5" ry="6.1" fill="#3f72b3"/>
<text transform="translate(347.00,293.90)" font-size="7.4" font-weight="bold" fill="#fff">Wnt</text>
<text transform="translate(361.00,290.80)" font-size="4.4" font-weight="bold" fill="#fff">hi</text>
<text transform="translate(327.80,245.60) rotate(-90)" font-size="7.0" text-anchor="middle" fill="#333">Average expression of</text>
<text transform="translate(337.20,245.00) rotate(-90)" font-size="7.0" text-anchor="middle" fill="#333">signature genes (scaled)</text>
<text transform="translate(332.70,306.90)" font-size="6.9" fill="#333">Pseudotime</text>
<text transform="translate(380.05,307.00)" font-size="6.9" text-anchor="middle" fill="#333">1</text>
<text transform="translate(393.75,307.00)" font-size="6.9" text-anchor="middle" fill="#333">2</text>
<text transform="translate(407.45,307.00)" font-size="6.9" text-anchor="middle" fill="#333">3</text>
<text transform="translate(421.15,307.00)" font-size="6.9" text-anchor="middle" fill="#333">4</text>
<text transform="translate(434.85,307.00)" font-size="6.9" text-anchor="middle" fill="#333">5</text>
<text transform="translate(448.55,307.00)" font-size="6.9" text-anchor="middle" fill="#333">6</text>
<text transform="translate(462.25,307.00)" font-size="6.9" text-anchor="middle" fill="#333">7</text>
<text transform="translate(483.40,209.50) rotate(90)" font-size="7.1" text-anchor="middle" fill="#333">Wnt<tspan font-size="4.6" dy="-2.6">lo</tspan><tspan dy="2.6"> E</tspan></text>
<text transform="translate(475.00,209.50) rotate(90)" font-size="7.1" text-anchor="middle" fill="#333">signature</text>
<text transform="translate(483.40,246.90) rotate(90)" font-size="7.1" text-anchor="middle" fill="#333">Wnt<tspan font-size="4.6" dy="-2.6">hi</tspan><tspan dy="2.6"> E</tspan></text>
<text transform="translate(475.00,246.90) rotate(90)" font-size="7.1" text-anchor="middle" fill="#333">signature</text>
<text transform="translate(483.40,284.20) rotate(90)" font-size="7.1" text-anchor="middle" fill="#333">pre-HE</text>
<text transform="translate(475.00,284.20) rotate(90)" font-size="7.1" text-anchor="middle" fill="#333">signature</text>
<defs><linearGradient id="vir" x1="0" y1="1" x2="0" y2="0"><stop offset="0" stop-color="#440154"/><stop offset="0.1" stop-color="#482475"/><stop offset="0.2" stop-color="#414487"/><stop offset="0.3" stop-color="#355f8d"/><stop offset="0.4" stop-color="#2a788e"/><stop offset="0.5" stop-color="#21918c"/><stop offset="0.6" stop-color="#22a884"/><stop offset="0.7" stop-color="#44bf70"/><stop offset="0.8" stop-color="#7ad151"/><stop offset="0.9" stop-color="#bddf26"/><stop offset="1" stop-color="#fde725"/></linearGradient></defs>
<rect x="497.00" y="210.60" width="8.50" height="72.10" fill="url(#vir)"/>
<text transform="translate(501.30,208.40)" font-size="6.9" text-anchor="middle" fill="#333">1</text>
<text transform="translate(501.30,291.50)" font-size="6.9" text-anchor="middle" fill="#333">0</text>
<rect x="18.4" y="382.00" width="0.62" height="9.30" fill="#c04d58"/><rect x="19.0" y="382.00" width="1.02" height="9.30" fill="#b16a7b"/><rect x="20.0" y="382.00" width="1.02" height="9.30" fill="#c07f88"/><rect x="21.0" y="382.00" width="1.02" height="9.30" fill="#cd8c91"/><rect x="22.0" y="382.00" width="1.02" height="9.30" fill="#c2848d"/><rect x="23.0" y="382.00" width="1.02" height="9.30" fill="#cf888c"/><rect x="24.0" y="382.00" width="1.02" height="9.30" fill="#cb7d81"/><rect x="25.0" y="382.00" width="1.02" height="9.30" fill="#cf7375"/><rect x="26.0" y="382.00" width="1.02" height="9.30" fill="#cf7e82"/><rect x="27.0" y="382.00" width="1.02" height="9.30" fill="#cb8289"/><rect x="28.0" y="382.00" width="1.02" height="9.30" fill="#c19ca5"/><rect x="29.0" y="382.00" width="1.02" height="9.30" fill="#cc767b"/><rect x="30.0" y="382.00" width="1.02" height="9.30" fill="#cc666c"/><rect x="31.0" y="382.00" width="1.02" height="9.30" fill="#d5a2a7"/><rect x="32.0" y="382.00" width="1.02" height="9.30" fill="#e2adaa"/><rect x="33.0" y="382.00" width="1.02" height="9.30" fill="#ddb3b4"/><rect x="34.0" y="382.00" width="1.02" height="9.30" fill="#d79194"/><rect x="35.0" y="382.00" width="1.02" height="9.30" fill="#d06569"/><rect x="36.0" y="382.00" width="1.02" height="9.30" fill="#c8666d"/><rect x="37.0" y="382.00" width="1.02" height="9.30" fill="#c4929b"/><rect x="38.0" y="382.00" width="1.02" height="9.30" fill="#d07679"/><rect x="39.0" y="382.00" width="1.02" height="9.30" fill="#d26164"/><rect x="40.0" y="382.00" width="1.02" height="9.30" fill="#d16368"/><rect x="41.0" y="382.00" width="1.02" height="9.30" fill="#da7877"/><rect x="42.0" y="382.00" width="1.02" height="9.30" fill="#d77272"/><rect x="43.0" y="382.00" width="1.02" height="9.30" fill="#c24752"/><rect x="44.0" y="382.00" width="1.02" height="9.30" fill="#b75261"/><rect x="45.0" y="382.00" width="1.02" height="9.30" fill="#c08a95"/><rect x="46.0" y="382.00" width="1.02" height="9.30" fill="#cdb3b9"/><rect x="47.0" y="382.00" width="1.02" height="9.30" fill="#e1a3a0"/><rect x="48.0" y="382.00" width="1.02" height="9.30" fill="#e1948f"/><rect x="49.0" y="382.00" width="0.62" height="9.30" fill="#cf8f92"/>
<rect x="18.4" y="390.80" width="0.62" height="9.30" fill="#efcfcd"/><rect x="19.0" y="390.80" width="1.02" height="9.30" fill="#e0b0b0"/><rect x="20.0" y="390.80" width="1.02" height="9.30" fill="#d2b7bb"/><rect x="21.0" y="390.80" width="1.02" height="9.30" fill="#d2bcc1"/><rect x="22.0" y="390.80" width="1.02" height="9.30" fill="#b6b0bd"/><rect x="23.0" y="390.80" width="1.02" height="9.30" fill="#c4b3bb"/><rect x="24.0" y="390.80" width="1.02" height="9.30" fill="#b8b2be"/><rect x="25.0" y="390.80" width="1.02" height="9.30" fill="#9fadc1"/><rect x="26.0" y="390.80" width="1.02" height="9.30" fill="#b3a3b1"/><rect x="27.0" y="390.80" width="1.02" height="9.30" fill="#a191a4"/><rect x="28.0" y="390.80" width="1.02" height="9.30" fill="#b57a87"/><rect x="29.0" y="390.80" width="1.02" height="9.30" fill="#d88a8c"/><rect x="30.0" y="390.80" width="1.02" height="9.30" fill="#cd777d"/><rect x="31.0" y="390.80" width="1.02" height="9.30" fill="#b27283"/><rect x="32.0" y="390.80" width="1.02" height="9.30" fill="#c89098"/><rect x="33.0" y="390.80" width="1.02" height="9.30" fill="#bd858f"/><rect x="34.0" y="390.80" width="1.02" height="9.30" fill="#b07f8e"/><rect x="35.0" y="390.80" width="1.02" height="9.30" fill="#bd7b87"/><rect x="36.0" y="390.80" width="1.02" height="9.30" fill="#cc959c"/><rect x="37.0" y="390.80" width="1.02" height="9.30" fill="#c1a7b2"/><rect x="38.0" y="390.80" width="1.02" height="9.30" fill="#9d97ad"/><rect x="39.0" y="390.80" width="1.02" height="9.30" fill="#ac90a1"/><rect x="40.0" y="390.80" width="1.02" height="9.30" fill="#c78b94"/><rect x="41.0" y="390.80" width="1.02" height="9.30" fill="#b595a4"/><rect x="42.0" y="390.80" width="1.02" height="9.30" fill="#b4a7b5"/><rect x="43.0" y="390.80" width="1.02" height="9.30" fill="#d1898b"/><rect x="44.0" y="390.80" width="1.02" height="9.30" fill="#d29195"/><rect x="45.0" y="390.80" width="1.02" height="9.30" fill="#c0b9c3"/><rect x="46.0" y="390.80" width="1.02" height="9.30" fill="#ddaeac"/><rect x="47.0" y="390.80" width="1.02" height="9.30" fill="#e1908e"/><rect x="48.0" y="390.80" width="1.02" height="9.30" fill="#da8588"/><rect x="49.0" y="390.80" width="0.62" height="9.30" fill="#e29391"/>
<rect x="18.4" y="399.60" width="0.62" height="9.30" fill="#e6c9c7"/><rect x="19.0" y="399.60" width="1.02" height="9.30" fill="#e1aba9"/><rect x="20.0" y="399.60" width="1.02" height="9.30" fill="#d5a2a6"/><rect x="21.0" y="399.60" width="1.02" height="9.30" fill="#dfb3b3"/><rect x="22.0" y="399.60" width="1.02" height="9.30" fill="#e0bdbd"/><rect x="23.0" y="399.60" width="1.02" height="9.30" fill="#e4b6b4"/><rect x="24.0" y="399.60" width="1.02" height="9.30" fill="#daa5a6"/><rect x="25.0" y="399.60" width="1.02" height="9.30" fill="#d2797c"/><rect x="26.0" y="399.60" width="1.02" height="9.30" fill="#c25661"/><rect x="27.0" y="399.60" width="1.02" height="9.30" fill="#cb5f65"/><rect x="28.0" y="399.60" width="1.02" height="9.30" fill="#dd8c8c"/><rect x="29.0" y="399.60" width="1.02" height="9.30" fill="#e39f9d"/><rect x="30.0" y="399.60" width="1.02" height="9.30" fill="#e1a2a0"/><rect x="31.0" y="399.60" width="1.02" height="9.30" fill="#ddbabb"/><rect x="32.0" y="399.60" width="1.02" height="9.30" fill="#cbb5b9"/><rect x="33.0" y="399.60" width="1.02" height="9.30" fill="#d1abae"/><rect x="34.0" y="399.60" width="1.02" height="9.30" fill="#e2a09b"/><rect x="35.0" y="399.60" width="1.02" height="9.30" fill="#e08a87"/><rect x="36.0" y="399.60" width="1.02" height="9.30" fill="#d99193"/><rect x="37.0" y="399.60" width="1.02" height="9.30" fill="#cd9499"/><rect x="38.0" y="399.60" width="1.02" height="9.30" fill="#c48a91"/><rect x="39.0" y="399.60" width="1.02" height="9.30" fill="#d7898a"/><rect x="40.0" y="399.60" width="1.02" height="9.30" fill="#e29492"/><rect x="41.0" y="399.60" width="1.02" height="9.30" fill="#e39f9e"/><rect x="42.0" y="399.60" width="1.02" height="9.30" fill="#db8e8f"/><rect x="43.0" y="399.60" width="1.02" height="9.30" fill="#df9797"/><rect x="44.0" y="399.60" width="1.02" height="9.30" fill="#deafae"/><rect x="45.0" y="399.60" width="1.02" height="9.30" fill="#d19fa2"/><rect x="46.0" y="399.60" width="1.02" height="9.30" fill="#ca8f96"/><rect x="47.0" y="399.60" width="1.02" height="9.30" fill="#cd757d"/><rect x="48.0" y="399.60" width="1.02" height="9.30" fill="#dc9091"/><rect x="49.0" y="399.60" width="0.62" height="9.30" fill="#de8987"/>
<rect x="18.4" y="408.40" width="0.62" height="9.30" fill="#dca19f"/><rect x="19.0" y="408.40" width="1.02" height="9.30" fill="#b4818e"/><rect x="20.0" y="408.40" width="1.02" height="9.30" fill="#b77682"/><rect x="21.0" y="408.40" width="1.02" height="9.30" fill="#b88895"/><rect x="22.0" y="408.40" width="1.02" height="9.30" fill="#c2a3ae"/><rect x="23.0" y="408.40" width="1.02" height="9.30" fill="#d89497"/><rect x="24.0" y="408.40" width="1.02" height="9.30" fill="#d77b7d"/><rect x="25.0" y="408.40" width="1.02" height="9.30" fill="#d07075"/><rect x="26.0" y="408.40" width="1.02" height="9.30" fill="#ca666d"/><rect x="27.0" y="408.40" width="1.02" height="9.30" fill="#c98087"/><rect x="28.0" y="408.40" width="1.02" height="9.30" fill="#c96a71"/><rect x="29.0" y="408.40" width="1.02" height="9.30" fill="#d48d8e"/><rect x="30.0" y="408.40" width="1.02" height="9.30" fill="#d99d9c"/><rect x="31.0" y="408.40" width="1.02" height="9.30" fill="#c1a6b0"/><rect x="32.0" y="408.40" width="1.02" height="9.30" fill="#bd9ba6"/><rect x="33.0" y="408.40" width="1.02" height="9.30" fill="#d07b80"/><rect x="34.0" y="408.40" width="1.02" height="9.30" fill="#dc8987"/><rect x="35.0" y="408.40" width="1.02" height="9.30" fill="#ce969c"/><rect x="36.0" y="408.40" width="1.02" height="9.30" fill="#c5a8b3"/><rect x="37.0" y="408.40" width="1.02" height="9.30" fill="#c9a3aa"/><rect x="38.0" y="408.40" width="1.02" height="9.30" fill="#c48c94"/><rect x="39.0" y="408.40" width="1.02" height="9.30" fill="#d48d91"/><rect x="40.0" y="408.40" width="1.02" height="9.30" fill="#da999b"/><rect x="41.0" y="408.40" width="1.02" height="9.30" fill="#c698a1"/><rect x="42.0" y="408.40" width="1.02" height="9.30" fill="#c2bdc8"/><rect x="43.0" y="408.40" width="1.02" height="9.30" fill="#ccb0b7"/><rect x="44.0" y="408.40" width="1.02" height="9.30" fill="#dda2a5"/><rect x="45.0" y="408.40" width="1.02" height="9.30" fill="#d5888a"/><rect x="46.0" y="408.40" width="1.02" height="9.30" fill="#bc8d98"/><rect x="47.0" y="408.40" width="1.02" height="9.30" fill="#c4abb4"/><rect x="48.0" y="408.40" width="1.02" height="9.30" fill="#d88d8d"/><rect x="49.0" y="408.40" width="0.62" height="9.30" fill="#dd908e"/>
<rect x="18.4" y="417.20" width="0.62" height="9.30" fill="#d68689"/><rect x="19.0" y="417.20" width="1.02" height="9.30" fill="#d7aaad"/><rect x="20.0" y="417.20" width="1.02" height="9.30" fill="#d5bec2"/><rect x="21.0" y="417.20" width="1.02" height="9.30" fill="#9f9aaf"/><rect x="22.0" y="417.20" width="1.02" height="9.30" fill="#9ba0b7"/><rect x="23.0" y="417.20" width="1.02" height="9.30" fill="#be8b95"/><rect x="24.0" y="417.20" width="1.02" height="9.30" fill="#b98e9a"/><rect x="25.0" y="417.20" width="1.02" height="9.30" fill="#d6afb3"/><rect x="26.0" y="417.20" width="1.02" height="9.30" fill="#e2b4b3"/><rect x="27.0" y="417.20" width="1.02" height="9.30" fill="#de8e8d"/><rect x="28.0" y="417.20" width="1.02" height="9.30" fill="#dd8888"/><rect x="29.0" y="417.20" width="1.02" height="9.30" fill="#d67b7f"/><rect x="30.0" y="417.20" width="1.02" height="9.30" fill="#da9a9c"/><rect x="31.0" y="417.20" width="1.02" height="9.30" fill="#dab2b1"/><rect x="32.0" y="417.20" width="1.02" height="9.30" fill="#cbb1b5"/><rect x="33.0" y="417.20" width="1.02" height="9.30" fill="#d0abb1"/><rect x="34.0" y="417.20" width="1.02" height="9.30" fill="#dab4b7"/><rect x="35.0" y="417.20" width="1.02" height="9.30" fill="#d6babd"/><rect x="36.0" y="417.20" width="1.02" height="9.30" fill="#c7a5ac"/><rect x="37.0" y="417.20" width="1.02" height="9.30" fill="#ca797e"/><rect x="38.0" y="417.20" width="1.02" height="9.30" fill="#c79297"/><rect x="39.0" y="417.20" width="1.02" height="9.30" fill="#d1b9bd"/><rect x="40.0" y="417.20" width="1.02" height="9.30" fill="#dfd4d7"/><rect x="41.0" y="417.20" width="1.02" height="9.30" fill="#d1adb3"/><rect x="42.0" y="417.20" width="1.02" height="9.30" fill="#c38e95"/><rect x="43.0" y="417.20" width="1.02" height="9.30" fill="#a4abbd"/><rect x="44.0" y="417.20" width="1.02" height="9.30" fill="#c7b1b8"/><rect x="45.0" y="417.20" width="1.02" height="9.30" fill="#c2a1a8"/><rect x="46.0" y="417.20" width="1.02" height="9.30" fill="#b7a2af"/><rect x="47.0" y="417.20" width="1.02" height="9.30" fill="#cd9298"/><rect x="48.0" y="417.20" width="1.02" height="9.30" fill="#dfacab"/><rect x="49.0" y="417.20" width="0.62" height="9.30" fill="#d2a8ad"/>
<rect x="18.4" y="426.00" width="0.62" height="9.30" fill="#d79a9c"/><rect x="19.0" y="426.00" width="1.02" height="9.30" fill="#dcb2b2"/><rect x="20.0" y="426.00" width="1.02" height="9.30" fill="#e1a7a6"/><rect x="21.0" y="426.00" width="1.02" height="9.30" fill="#dfb2b4"/><rect x="22.0" y="426.00" width="1.02" height="9.30" fill="#cfb2b9"/><rect x="23.0" y="426.00" width="1.02" height="9.30" fill="#d1a7ad"/><rect x="24.0" y="426.00" width="1.02" height="9.30" fill="#d19497"/><rect x="25.0" y="426.00" width="1.02" height="9.30" fill="#d3797d"/><rect x="26.0" y="426.00" width="1.02" height="9.30" fill="#d88a8f"/><rect x="27.0" y="426.00" width="1.02" height="9.30" fill="#d28084"/><rect x="28.0" y="426.00" width="1.02" height="9.30" fill="#d0676b"/><rect x="29.0" y="426.00" width="1.02" height="9.30" fill="#e18e8b"/><rect x="30.0" y="426.00" width="1.02" height="9.30" fill="#dd8989"/><rect x="31.0" y="426.00" width="1.02" height="9.30" fill="#d67b7e"/><rect x="32.0" y="426.00" width="1.02" height="9.30" fill="#d57b7c"/><rect x="33.0" y="426.00" width="1.02" height="9.30" fill="#c17d87"/><rect x="34.0" y="426.00" width="1.02" height="9.30" fill="#c0a5b1"/><rect x="35.0" y="426.00" width="1.02" height="9.30" fill="#c899a1"/><rect x="36.0" y="426.00" width="1.02" height="9.30" fill="#c75a63"/><rect x="37.0" y="426.00" width="1.02" height="9.30" fill="#d97b7d"/><rect x="38.0" y="426.00" width="1.02" height="9.30" fill="#e0918f"/><rect x="39.0" y="426.00" width="1.02" height="9.30" fill="#d07c81"/><rect x="40.0" y="426.00" width="1.02" height="9.30" fill="#b68390"/><rect x="41.0" y="426.00" width="1.02" height="9.30" fill="#ad8897"/><rect x="42.0" y="426.00" width="1.02" height="9.30" fill="#c18891"/><rect x="43.0" y="426.00" width="1.02" height="9.30" fill="#d88d8e"/><rect x="44.0" y="426.00" width="1.02" height="9.30" fill="#d58587"/><rect x="45.0" y="426.00" width="1.02" height="9.30" fill="#ba7d89"/><rect x="46.0" y="426.00" width="1.02" height="9.30" fill="#ae7586"/><rect x="47.0" y="426.00" width="1.02" height="9.30" fill="#c9abb3"/><rect x="48.0" y="426.00" width="1.02" height="9.30" fill="#e2caca"/><rect x="49.0" y="426.00" width="0.62" height="9.30" fill="#e1c6c7"/>
<rect x="18.4" y="434.80" width="0.62" height="9.30" fill="#89a7c5"/><rect x="19.0" y="434.80" width="1.02" height="9.30" fill="#7a96b7"/><rect x="20.0" y="434.80" width="1.02" height="9.30" fill="#8a9ab7"/><rect x="21.0" y="434.80" width="1.02" height="9.30" fill="#94a7c1"/><rect x="22.0" y="434.80" width="1.02" height="9.30" fill="#aac5d8"/><rect x="23.0" y="434.80" width="1.02" height="9.30" fill="#96c3dc"/><rect x="24.0" y="434.80" width="1.02" height="9.30" fill="#8bbbd8"/><rect x="25.0" y="434.80" width="1.02" height="9.30" fill="#89afcd"/><rect x="26.0" y="434.80" width="1.02" height="9.30" fill="#95a6bd"/><rect x="27.0" y="434.80" width="1.02" height="9.30" fill="#8592ae"/><rect x="28.0" y="434.80" width="1.02" height="9.30" fill="#6190bb"/><rect x="29.0" y="434.80" width="1.02" height="9.30" fill="#6c9dc4"/><rect x="30.0" y="434.80" width="1.02" height="9.30" fill="#8aa9c4"/><rect x="31.0" y="434.80" width="1.02" height="9.30" fill="#b4a3af"/><rect x="32.0" y="434.80" width="1.02" height="9.30" fill="#a6adc1"/><rect x="33.0" y="434.80" width="1.02" height="9.30" fill="#83aaca"/><rect x="34.0" y="434.80" width="1.02" height="9.30" fill="#8ea4bf"/><rect x="35.0" y="434.80" width="1.02" height="9.30" fill="#7b91b3"/><rect x="36.0" y="434.80" width="1.02" height="9.30" fill="#749cc1"/><rect x="37.0" y="434.80" width="1.02" height="9.30" fill="#9fb3c8"/><rect x="38.0" y="434.80" width="1.02" height="9.30" fill="#adb0c1"/><rect x="39.0" y="434.80" width="1.02" height="9.30" fill="#b8a4ae"/><rect x="40.0" y="434.80" width="1.02" height="9.30" fill="#94a4bc"/><rect x="41.0" y="434.80" width="1.02" height="9.30" fill="#7997ba"/><rect x="42.0" y="434.80" width="1.02" height="9.30" fill="#769dc2"/><rect x="43.0" y="434.80" width="1.02" height="9.30" fill="#6488b3"/><rect x="44.0" y="434.80" width="1.02" height="9.30" fill="#6093bf"/><rect x="45.0" y="434.80" width="1.02" height="9.30" fill="#8db6d4"/><rect x="46.0" y="434.80" width="1.02" height="9.30" fill="#8cb7d5"/><rect x="47.0" y="434.80" width="1.02" height="9.30" fill="#89b3d1"/><rect x="48.0" y="434.80" width="1.02" height="9.30" fill="#90b6d2"/><rect x="49.0" y="434.80" width="0.62" height="9.30" fill="#85a1c1"/>
<rect x="18.4" y="443.60" width="0.62" height="9.30" fill="#6195c1"/><rect x="19.0" y="443.60" width="1.02" height="9.30" fill="#9eafc5"/><rect x="20.0" y="443.60" width="1.02" height="9.30" fill="#bcc5d3"/><rect x="21.0" y="443.60" width="1.02" height="9.30" fill="#a9b7cc"/><rect x="22.0" y="443.60" width="1.02" height="9.30" fill="#889dbc"/><rect x="23.0" y="443.60" width="1.02" height="9.30" fill="#bac6d6"/><rect x="24.0" y="443.60" width="1.02" height="9.30" fill="#b7cfde"/><rect x="25.0" y="443.60" width="1.02" height="9.30" fill="#bfc9d5"/><rect x="26.0" y="443.60" width="1.02" height="9.30" fill="#b1b9ca"/><rect x="27.0" y="443.60" width="1.02" height="9.30" fill="#90b5d1"/><rect x="28.0" y="443.60" width="1.02" height="9.30" fill="#8fbdd9"/><rect x="29.0" y="443.60" width="1.02" height="9.30" fill="#77add0"/><rect x="30.0" y="443.60" width="1.02" height="9.30" fill="#83adcb"/><rect x="31.0" y="443.60" width="1.02" height="9.30" fill="#a9abbc"/><rect x="32.0" y="443.60" width="1.02" height="9.30" fill="#9fa8bc"/><rect x="33.0" y="443.60" width="1.02" height="9.30" fill="#8dafca"/><rect x="34.0" y="443.60" width="1.02" height="9.30" fill="#75a2c7"/><rect x="35.0" y="443.60" width="1.02" height="9.30" fill="#95a6c1"/><rect x="36.0" y="443.60" width="1.02" height="9.30" fill="#7c93b5"/><rect x="37.0" y="443.60" width="1.02" height="9.30" fill="#92afca"/><rect x="38.0" y="443.60" width="1.02" height="9.30" fill="#a3adc1"/><rect x="39.0" y="443.60" width="1.02" height="9.30" fill="#8f9bb5"/><rect x="40.0" y="443.60" width="1.02" height="9.30" fill="#95a4ba"/><rect x="41.0" y="443.60" width="1.02" height="9.30" fill="#90b0c9"/><rect x="42.0" y="443.60" width="1.02" height="9.30" fill="#8cb0cc"/><rect x="43.0" y="443.60" width="1.02" height="9.30" fill="#8a9ab5"/><rect x="44.0" y="443.60" width="1.02" height="9.30" fill="#b7a3af"/><rect x="45.0" y="443.60" width="1.02" height="9.30" fill="#dac6c9"/><rect x="46.0" y="443.60" width="1.02" height="9.30" fill="#ccccd7"/><rect x="47.0" y="443.60" width="1.02" height="9.30" fill="#8a92b0"/><rect x="48.0" y="443.60" width="1.02" height="9.30" fill="#8288a7"/><rect x="49.0" y="443.60" width="0.62" height="9.30" fill="#7fa5c6"/>
<rect x="18.4" y="452.40" width="0.62" height="9.30" fill="#9db1c8"/><rect x="19.0" y="452.40" width="1.02" height="9.30" fill="#8aafcf"/><rect x="20.0" y="452.40" width="1.02" height="9.30" fill="#a3c0d7"/><rect x="21.0" y="452.40" width="1.02" height="9.30" fill="#bebbc9"/><rect x="22.0" y="452.40" width="1.02" height="9.30" fill="#848fb0"/><rect x="23.0" y="452.40" width="1.02" height="9.30" fill="#9bacc4"/><rect x="24.0" y="452.40" width="1.02" height="9.30" fill="#a0a6bb"/><rect x="25.0" y="452.40" width="1.02" height="9.30" fill="#b7b7c4"/><rect x="26.0" y="452.40" width="1.02" height="9.30" fill="#b6bfcd"/><rect x="27.0" y="452.40" width="1.02" height="9.30" fill="#8fadc7"/><rect x="28.0" y="452.40" width="1.02" height="9.30" fill="#9ca6ba"/><rect x="29.0" y="452.40" width="1.02" height="9.30" fill="#aaa2b1"/><rect x="30.0" y="452.40" width="1.02" height="9.30" fill="#b8b6c3"/><rect x="31.0" y="452.40" width="1.02" height="9.30" fill="#b1adbe"/><rect x="32.0" y="452.40" width="1.02" height="9.30" fill="#9f9cb2"/><rect x="33.0" y="452.40" width="1.02" height="9.30" fill="#798aac"/><rect x="34.0" y="452.40" width="1.02" height="9.30" fill="#8190af"/><rect x="35.0" y="452.40" width="1.02" height="9.30" fill="#9ca3b9"/><rect x="36.0" y="452.40" width="1.02" height="9.30" fill="#a9a6b9"/><rect x="37.0" y="452.40" width="1.02" height="9.30" fill="#b2a0ae"/><rect x="38.0" y="452.40" width="1.02" height="9.30" fill="#b6a5b1"/><rect x="39.0" y="452.40" width="1.02" height="9.30" fill="#acaaba"/><rect x="40.0" y="452.40" width="1.02" height="9.30" fill="#969fb6"/><rect x="41.0" y="452.40" width="1.02" height="9.30" fill="#9abbd3"/><rect x="42.0" y="452.40" width="1.02" height="9.30" fill="#aaccdf"/><rect x="43.0" y="452.40" width="1.02" height="9.30" fill="#a0bdd2"/><rect x="44.0" y="452.40" width="1.02" height="9.30" fill="#9db5ca"/><rect x="45.0" y="452.40" width="1.02" height="9.30" fill="#85a3c1"/><rect x="46.0" y="452.40" width="1.02" height="9.30" fill="#7f7e9f"/><rect x="47.0" y="452.40" width="1.02" height="9.30" fill="#8a96b5"/><rect x="48.0" y="452.40" width="1.02" height="9.30" fill="#8c9fbd"/><rect x="49.0" y="452.40" width="0.62" height="9.30" fill="#96bbd5"/>
<rect x="18.4" y="461.20" width="0.62" height="9.30" fill="#a8bccd"/><rect x="19.0" y="461.20" width="1.02" height="9.30" fill="#99b6cc"/><rect x="20.0" y="461.20" width="1.02" height="9.30" fill="#c3b1b9"/><rect x="21.0" y="461.20" width="1.02" height="9.30" fill="#bfafba"/><rect x="22.0" y="461.20" width="1.02" height="9.30" fill="#93aac5"/><rect x="23.0" y="461.20" width="1.02" height="9.30" fill="#acafc3"/><rect x="24.0" y="461.20" width="1.02" height="9.30" fill="#c5c4ce"/><rect x="25.0" y="461.20" width="1.02" height="9.30" fill="#bbc7d3"/><rect x="26.0" y="461.20" width="1.02" height="9.30" fill="#aebfcf"/><rect x="27.0" y="461.20" width="1.02" height="9.30" fill="#a1a6b9"/><rect x="28.0" y="461.20" width="1.02" height="9.30" fill="#8fa2bb"/><rect x="29.0" y="461.20" width="1.02" height="9.30" fill="#a19eb2"/><rect x="30.0" y="461.20" width="1.02" height="9.30" fill="#9fa7be"/><rect x="31.0" y="461.20" width="1.02" height="9.30" fill="#b3a3b1"/><rect x="32.0" y="461.20" width="1.02" height="9.30" fill="#afbdcd"/><rect x="33.0" y="461.20" width="1.02" height="9.30" fill="#9dbbd2"/><rect x="34.0" y="461.20" width="1.02" height="9.30" fill="#7fa5c5"/><rect x="35.0" y="461.20" width="1.02" height="9.30" fill="#9e9cb1"/><rect x="36.0" y="461.20" width="1.02" height="9.30" fill="#c4b5bc"/><rect x="37.0" y="461.20" width="1.02" height="9.30" fill="#b1c3d2"/><rect x="38.0" y="461.20" width="1.02" height="9.30" fill="#9fb2c7"/><rect x="39.0" y="461.20" width="1.02" height="9.30" fill="#8f8fa9"/><rect x="40.0" y="461.20" width="1.02" height="9.30" fill="#7e8fad"/><rect x="41.0" y="461.20" width="1.02" height="9.30" fill="#948da5"/><rect x="42.0" y="461.20" width="1.02" height="9.30" fill="#ada7ba"/><rect x="43.0" y="461.20" width="1.02" height="9.30" fill="#8fb3ce"/><rect x="44.0" y="461.20" width="1.02" height="9.30" fill="#7ea4c4"/><rect x="45.0" y="461.20" width="1.02" height="9.30" fill="#b1b8c7"/><rect x="46.0" y="461.20" width="1.02" height="9.30" fill="#c8c2ca"/><rect x="47.0" y="461.20" width="1.02" height="9.30" fill="#a3b2c7"/><rect x="48.0" y="461.20" width="1.02" height="9.30" fill="#9ca3ba"/><rect x="49.0" y="461.20" width="0.62" height="9.30" fill="#cd898d"/>
<rect x="18.4" y="470.00" width="0.62" height="9.30" fill="#b5adbd"/><rect x="19.0" y="470.00" width="1.02" height="9.30" fill="#bfb1bc"/><rect x="20.0" y="470.00" width="1.02" height="9.30" fill="#b8919d"/><rect x="21.0" y="470.00" width="1.02" height="9.30" fill="#bc9ea9"/><rect x="22.0" y="470.00" width="1.02" height="9.30" fill="#b09baa"/><rect x="23.0" y="470.00" width="1.02" height="9.30" fill="#a2b0c5"/><rect x="24.0" y="470.00" width="1.02" height="9.30" fill="#abacbe"/><rect x="25.0" y="470.00" width="1.02" height="9.30" fill="#a7afc2"/><rect x="26.0" y="470.00" width="1.02" height="9.30" fill="#b0b2c0"/><rect x="27.0" y="470.00" width="1.02" height="9.30" fill="#c0c4cf"/><rect x="28.0" y="470.00" width="1.02" height="9.30" fill="#c1cad5"/><rect x="29.0" y="470.00" width="1.02" height="9.30" fill="#c9c2c9"/><rect x="30.0" y="470.00" width="1.02" height="9.30" fill="#b1bfcf"/><rect x="31.0" y="470.00" width="1.02" height="9.30" fill="#97b3cc"/><rect x="32.0" y="470.00" width="1.02" height="9.30" fill="#c6b7c0"/><rect x="33.0" y="470.00" width="1.02" height="9.30" fill="#d6afb1"/><rect x="34.0" y="470.00" width="1.02" height="9.30" fill="#b5b6c5"/><rect x="35.0" y="470.00" width="1.02" height="9.30" fill="#c8c1c9"/><rect x="36.0" y="470.00" width="1.02" height="9.30" fill="#c1bac3"/><rect x="37.0" y="470.00" width="1.02" height="9.30" fill="#cbb6bb"/><rect x="38.0" y="470.00" width="1.02" height="9.30" fill="#d7adae"/><rect x="39.0" y="470.00" width="1.02" height="9.30" fill="#b6becd"/><rect x="40.0" y="470.00" width="1.02" height="9.30" fill="#a8cce0"/><rect x="41.0" y="470.00" width="1.02" height="9.30" fill="#cadae4"/><rect x="42.0" y="470.00" width="1.02" height="9.30" fill="#d4ccd3"/><rect x="43.0" y="470.00" width="1.02" height="9.30" fill="#9cadc4"/><rect x="44.0" y="470.00" width="1.02" height="9.30" fill="#a1b0c3"/><rect x="45.0" y="470.00" width="1.02" height="9.30" fill="#cbb2b8"/><rect x="46.0" y="470.00" width="1.02" height="9.30" fill="#caa4ab"/><rect x="47.0" y="470.00" width="1.02" height="9.30" fill="#a8b4c7"/><rect x="48.0" y="470.00" width="1.02" height="9.30" fill="#adb7c9"/><rect x="49.0" y="470.00" width="0.62" height="9.30" fill="#bdd1df"/>
<rect x="18.4" y="478.80" width="0.62" height="9.30" fill="#6a9ac1"/><rect x="19.0" y="478.80" width="1.02" height="9.30" fill="#b1b1c1"/><rect x="20.0" y="478.80" width="1.02" height="9.30" fill="#adb5c6"/><rect x="21.0" y="478.80" width="1.02" height="9.30" fill="#aba0b0"/><rect x="22.0" y="478.80" width="1.02" height="9.30" fill="#c1a3ae"/><rect x="23.0" y="478.80" width="1.02" height="9.30" fill="#c5969d"/><rect x="24.0" y="478.80" width="1.02" height="9.30" fill="#c8a0a7"/><rect x="25.0" y="478.80" width="1.02" height="9.30" fill="#c6b0b9"/><rect x="26.0" y="478.80" width="1.02" height="9.30" fill="#b99fab"/><rect x="27.0" y="478.80" width="1.02" height="9.30" fill="#af95a3"/><rect x="28.0" y="478.80" width="1.02" height="9.30" fill="#c2a2ab"/><rect x="29.0" y="478.80" width="1.02" height="9.30" fill="#c6b5bd"/><rect x="30.0" y="478.80" width="1.02" height="9.30" fill="#b6bbc8"/><rect x="31.0" y="478.80" width="1.02" height="9.30" fill="#b6c0ce"/><rect x="32.0" y="478.80" width="1.02" height="9.30" fill="#acc8db"/><rect x="33.0" y="478.80" width="1.02" height="9.30" fill="#a6bbd0"/><rect x="34.0" y="478.80" width="1.02" height="9.30" fill="#b0adbf"/><rect x="35.0" y="478.80" width="1.02" height="9.30" fill="#acacbe"/><rect x="36.0" y="478.80" width="1.02" height="9.30" fill="#b7aebb"/><rect x="37.0" y="478.80" width="1.02" height="9.30" fill="#b9a9b5"/><rect x="38.0" y="478.80" width="1.02" height="9.30" fill="#b0aebe"/><rect x="39.0" y="478.80" width="1.02" height="9.30" fill="#90b5cf"/><rect x="40.0" y="478.80" width="1.02" height="9.30" fill="#b9c7d6"/><rect x="41.0" y="478.80" width="1.02" height="9.30" fill="#a6b0c5"/><rect x="42.0" y="478.80" width="1.02" height="9.30" fill="#b7c2d1"/><rect x="43.0" y="478.80" width="1.02" height="9.30" fill="#abbbce"/><rect x="44.0" y="478.80" width="1.02" height="9.30" fill="#9fa7be"/><rect x="45.0" y="478.80" width="1.02" height="9.30" fill="#a39db1"/><rect x="46.0" y="478.80" width="1.02" height="9.30" fill="#b598a7"/><rect x="47.0" y="478.80" width="1.02" height="9.30" fill="#b49ba9"/><rect x="48.0" y="478.80" width="1.02" height="9.30" fill="#ae9dad"/><rect x="49.0" y="478.80" width="0.62" height="9.30" fill="#ba939f"/>
<rect x="18.4" y="487.60" width="0.62" height="9.30" fill="#5f9ec9"/><rect x="19.0" y="487.60" width="1.02" height="9.30" fill="#87b3d2"/><rect x="20.0" y="487.60" width="1.02" height="9.30" fill="#8da9c6"/><rect x="21.0" y="487.60" width="1.02" height="9.30" fill="#83a3c0"/><rect x="22.0" y="487.60" width="1.02" height="9.30" fill="#7c9ebe"/><rect x="23.0" y="487.60" width="1.02" height="9.30" fill="#6a9dc4"/><rect x="24.0" y="487.60" width="1.02" height="9.30" fill="#79a8cb"/><rect x="25.0" y="487.60" width="1.02" height="9.30" fill="#7ba8ca"/><rect x="26.0" y="487.60" width="1.02" height="9.30" fill="#96a0b9"/><rect x="27.0" y="487.60" width="1.02" height="9.30" fill="#b299a5"/><rect x="28.0" y="487.60" width="1.02" height="9.30" fill="#9baabe"/><rect x="29.0" y="487.60" width="1.02" height="9.30" fill="#8ca9c5"/><rect x="30.0" y="487.60" width="1.02" height="9.30" fill="#8fb2cf"/><rect x="31.0" y="487.60" width="1.02" height="9.30" fill="#82abcb"/><rect x="32.0" y="487.60" width="1.02" height="9.30" fill="#6a9dc4"/><rect x="33.0" y="487.60" width="1.02" height="9.30" fill="#8ea9c5"/><rect x="34.0" y="487.60" width="1.02" height="9.30" fill="#a0c2d9"/><rect x="35.0" y="487.60" width="1.02" height="9.30" fill="#84b6d5"/><rect x="36.0" y="487.60" width="1.02" height="9.30" fill="#5a99c6"/><rect x="37.0" y="487.60" width="1.02" height="9.30" fill="#719fc4"/><rect x="38.0" y="487.60" width="1.02" height="9.30" fill="#8d9eba"/><rect x="39.0" y="487.60" width="1.02" height="9.30" fill="#749fc5"/><rect x="40.0" y="487.60" width="1.02" height="9.30" fill="#8ab8d6"/><rect x="41.0" y="487.60" width="1.02" height="9.30" fill="#98b9d3"/><rect x="42.0" y="487.60" width="1.02" height="9.30" fill="#90adc8"/><rect x="43.0" y="487.60" width="1.02" height="9.30" fill="#7cabcd"/><rect x="44.0" y="487.60" width="1.02" height="9.30" fill="#6197c2"/><rect x="45.0" y="487.60" width="1.02" height="9.30" fill="#83a2c2"/><rect x="46.0" y="487.60" width="1.02" height="9.30" fill="#8dadca"/><rect x="47.0" y="487.60" width="1.02" height="9.30" fill="#7ba1c3"/><rect x="48.0" y="487.60" width="1.02" height="9.30" fill="#80abca"/><rect x="49.0" y="487.60" width="0.62" height="9.30" fill="#579ac6"/>
<rect x="18.4" y="496.40" width="0.62" height="9.30" fill="#a4cce1"/><rect x="19.0" y="496.40" width="1.02" height="9.30" fill="#a7c7da"/><rect x="20.0" y="496.40" width="1.02" height="9.30" fill="#a2b9cc"/><rect x="21.0" y="496.40" width="1.02" height="9.30" fill="#7faccb"/><rect x="22.0" y="496.40" width="1.02" height="9.30" fill="#829ebc"/><rect x="23.0" y="496.40" width="1.02" height="9.30" fill="#aba7b8"/><rect x="24.0" y="496.40" width="1.02" height="9.30" fill="#b4bfcf"/><rect x="25.0" y="496.40" width="1.02" height="9.30" fill="#a3abc0"/><rect x="26.0" y="496.40" width="1.02" height="9.30" fill="#adaebf"/><rect x="27.0" y="496.40" width="1.02" height="9.30" fill="#aea2b3"/><rect x="28.0" y="496.40" width="1.02" height="9.30" fill="#aeb6c6"/><rect x="29.0" y="496.40" width="1.02" height="9.30" fill="#ccc7cd"/><rect x="30.0" y="496.40" width="1.02" height="9.30" fill="#d2cad1"/><rect x="31.0" y="496.40" width="1.02" height="9.30" fill="#caa7ae"/><rect x="32.0" y="496.40" width="1.02" height="9.30" fill="#b99aa6"/><rect x="33.0" y="496.40" width="1.02" height="9.30" fill="#b1a0af"/><rect x="34.0" y="496.40" width="1.02" height="9.30" fill="#b3a0af"/><rect x="35.0" y="496.40" width="1.02" height="9.30" fill="#a3b8cc"/><rect x="36.0" y="496.40" width="1.02" height="9.30" fill="#a1b1c6"/><rect x="37.0" y="496.40" width="1.02" height="9.30" fill="#b795a3"/><rect x="38.0" y="496.40" width="1.02" height="9.30" fill="#b7b6c3"/><rect x="39.0" y="496.40" width="1.02" height="9.30" fill="#cdc1c7"/><rect x="40.0" y="496.40" width="1.02" height="9.30" fill="#bdb4c1"/><rect x="41.0" y="496.40" width="1.02" height="9.30" fill="#a4b1c7"/><rect x="42.0" y="496.40" width="1.02" height="9.30" fill="#9cadc2"/><rect x="43.0" y="496.40" width="1.02" height="9.30" fill="#aeb3c3"/><rect x="44.0" y="496.40" width="1.02" height="9.30" fill="#b6a6b3"/><rect x="45.0" y="496.40" width="1.02" height="9.30" fill="#b4a2ae"/><rect x="46.0" y="496.40" width="1.02" height="9.30" fill="#a9a8b7"/><rect x="47.0" y="496.40" width="1.02" height="9.30" fill="#c4a8b1"/><rect x="48.0" y="496.40" width="1.02" height="9.30" fill="#b0acbc"/><rect x="49.0" y="496.40" width="0.62" height="9.30" fill="#aec9db"/>
<rect x="18.4" y="505.20" width="0.62" height="9.30" fill="#6e93ba"/><rect x="19.0" y="505.20" width="1.02" height="9.30" fill="#9dbad3"/><rect x="20.0" y="505.20" width="1.02" height="9.30" fill="#b7c7d6"/><rect x="21.0" y="505.20" width="1.02" height="9.30" fill="#c7c0c9"/><rect x="22.0" y="505.20" width="1.02" height="9.30" fill="#c7c1ca"/><rect x="23.0" y="505.20" width="1.02" height="9.30" fill="#8facc8"/><rect x="24.0" y="505.20" width="1.02" height="9.30" fill="#9eadc5"/><rect x="25.0" y="505.20" width="1.02" height="9.30" fill="#84afce"/><rect x="26.0" y="505.20" width="1.02" height="9.30" fill="#76aed0"/><rect x="27.0" y="505.20" width="1.02" height="9.30" fill="#7faac9"/><rect x="28.0" y="505.20" width="1.02" height="9.30" fill="#a0afc3"/><rect x="29.0" y="505.20" width="1.02" height="9.30" fill="#a2a7bb"/><rect x="30.0" y="505.20" width="1.02" height="9.30" fill="#abc5d8"/><rect x="31.0" y="505.20" width="1.02" height="9.30" fill="#a5c4d8"/><rect x="32.0" y="505.20" width="1.02" height="9.30" fill="#a0b1c5"/><rect x="33.0" y="505.20" width="1.02" height="9.30" fill="#95bbd3"/><rect x="34.0" y="505.20" width="1.02" height="9.30" fill="#93b7d3"/><rect x="35.0" y="505.20" width="1.02" height="9.30" fill="#b6bbca"/><rect x="36.0" y="505.20" width="1.02" height="9.30" fill="#a5a9bd"/><rect x="37.0" y="505.20" width="1.02" height="9.30" fill="#9c9cb3"/><rect x="38.0" y="505.20" width="1.02" height="9.30" fill="#a0b2ca"/><rect x="39.0" y="505.20" width="1.02" height="9.30" fill="#a9bed2"/><rect x="40.0" y="505.20" width="1.02" height="9.30" fill="#88afcd"/><rect x="41.0" y="505.20" width="1.02" height="9.30" fill="#a1b6ca"/><rect x="42.0" y="505.20" width="1.02" height="9.30" fill="#97abc4"/><rect x="43.0" y="505.20" width="1.02" height="9.30" fill="#7ea9ca"/><rect x="44.0" y="505.20" width="1.02" height="9.30" fill="#92b4d0"/><rect x="45.0" y="505.20" width="1.02" height="9.30" fill="#9cadc3"/><rect x="46.0" y="505.20" width="1.02" height="9.30" fill="#aab4c4"/><rect x="47.0" y="505.20" width="1.02" height="9.30" fill="#8db6d1"/><rect x="48.0" y="505.20" width="1.02" height="9.30" fill="#86a5c2"/><rect x="49.0" y="505.20" width="0.62" height="9.30" fill="#cc9b9f"/>
<rect x="18.4" y="514.00" width="0.62" height="9.30" fill="#a1b7cb"/><rect x="19.0" y="514.00" width="1.02" height="9.30" fill="#8ab4d1"/><rect x="20.0" y="514.00" width="1.02" height="9.30" fill="#85b5d3"/><rect x="21.0" y="514.00" width="1.02" height="9.30" fill="#83b1d1"/><rect x="22.0" y="514.00" width="1.02" height="9.30" fill="#759fc6"/><rect x="23.0" y="514.00" width="1.02" height="9.30" fill="#98bad4"/><rect x="24.0" y="514.00" width="1.02" height="9.30" fill="#8ab6d5"/><rect x="25.0" y="514.00" width="1.02" height="9.30" fill="#83accb"/><rect x="26.0" y="514.00" width="1.02" height="9.30" fill="#94a5bd"/><rect x="27.0" y="514.00" width="1.02" height="9.30" fill="#89acca"/><rect x="28.0" y="514.00" width="1.02" height="9.30" fill="#88aeca"/><rect x="29.0" y="514.00" width="1.02" height="9.30" fill="#a0bacd"/><rect x="30.0" y="514.00" width="1.02" height="9.30" fill="#c2d5e2"/><rect x="31.0" y="514.00" width="1.02" height="9.30" fill="#acd0e3"/><rect x="32.0" y="514.00" width="1.02" height="9.30" fill="#95c3dc"/><rect x="33.0" y="514.00" width="1.02" height="9.30" fill="#8dbcd9"/><rect x="34.0" y="514.00" width="1.02" height="9.30" fill="#76aed1"/><rect x="35.0" y="514.00" width="1.02" height="9.30" fill="#699fc8"/><rect x="36.0" y="514.00" width="1.02" height="9.30" fill="#68a1ca"/><rect x="37.0" y="514.00" width="1.02" height="9.30" fill="#5ea0ca"/><rect x="38.0" y="514.00" width="1.02" height="9.30" fill="#72a4c7"/><rect x="39.0" y="514.00" width="1.02" height="9.30" fill="#b0b7c6"/><rect x="40.0" y="514.00" width="1.02" height="9.30" fill="#a5bfd4"/><rect x="41.0" y="514.00" width="1.02" height="9.30" fill="#83accc"/><rect x="42.0" y="514.00" width="1.02" height="9.30" fill="#929eb7"/><rect x="43.0" y="514.00" width="1.02" height="9.30" fill="#9b95aa"/><rect x="44.0" y="514.00" width="1.02" height="9.30" fill="#92a2ba"/><rect x="45.0" y="514.00" width="1.02" height="9.30" fill="#9fafc5"/><rect x="46.0" y="514.00" width="1.02" height="9.30" fill="#99bad3"/><rect x="47.0" y="514.00" width="1.02" height="9.30" fill="#a0bbd3"/><rect x="48.0" y="514.00" width="1.02" height="9.30" fill="#9ab9d4"/><rect x="49.0" y="514.00" width="0.62" height="9.30" fill="#aac9dd"/>
<rect x="18.4" y="522.80" width="0.62" height="9.30" fill="#6ca6cd"/><rect x="19.0" y="522.80" width="1.02" height="9.30" fill="#719bbe"/><rect x="20.0" y="522.80" width="1.02" height="9.30" fill="#aa97a7"/><rect x="21.0" y="522.80" width="1.02" height="9.30" fill="#afadbd"/><rect x="22.0" y="522.80" width="1.02" height="9.30" fill="#8fa3be"/><rect x="23.0" y="522.80" width="1.02" height="9.30" fill="#97b4ce"/><rect x="24.0" y="522.80" width="1.02" height="9.30" fill="#a6bbd0"/><rect x="25.0" y="522.80" width="1.02" height="9.30" fill="#b0c4d7"/><rect x="26.0" y="522.80" width="1.02" height="9.30" fill="#aec0d1"/><rect x="27.0" y="522.80" width="1.02" height="9.30" fill="#c7acb3"/><rect x="28.0" y="522.80" width="1.02" height="9.30" fill="#b1acbb"/><rect x="29.0" y="522.80" width="1.02" height="9.30" fill="#a8bed1"/><rect x="30.0" y="522.80" width="1.02" height="9.30" fill="#b8c0ce"/><rect x="31.0" y="522.80" width="1.02" height="9.30" fill="#bac6d3"/><rect x="32.0" y="522.80" width="1.02" height="9.30" fill="#afb5c3"/><rect x="33.0" y="522.80" width="1.02" height="9.30" fill="#c2b5bd"/><rect x="34.0" y="522.80" width="1.02" height="9.30" fill="#c69ea5"/><rect x="35.0" y="522.80" width="1.02" height="9.30" fill="#b3a5b5"/><rect x="36.0" y="522.80" width="1.02" height="9.30" fill="#adadbf"/><rect x="37.0" y="522.80" width="1.02" height="9.30" fill="#aeaebe"/><rect x="38.0" y="522.80" width="1.02" height="9.30" fill="#6996bc"/><rect x="39.0" y="522.80" width="1.02" height="9.30" fill="#81a0bd"/><rect x="40.0" y="522.80" width="1.02" height="9.30" fill="#a5b7cb"/><rect x="41.0" y="522.80" width="1.02" height="9.30" fill="#6e9cc2"/><rect x="42.0" y="522.80" width="1.02" height="9.30" fill="#8ca2bd"/><rect x="43.0" y="522.80" width="1.02" height="9.30" fill="#a1afc3"/><rect x="44.0" y="522.80" width="1.02" height="9.30" fill="#86afce"/><rect x="45.0" y="522.80" width="1.02" height="9.30" fill="#99b7d1"/><rect x="46.0" y="522.80" width="1.02" height="9.30" fill="#919cb9"/><rect x="47.0" y="522.80" width="1.02" height="9.30" fill="#a8b9cc"/><rect x="48.0" y="522.80" width="1.02" height="9.30" fill="#c5bdc6"/><rect x="49.0" y="522.80" width="0.62" height="9.30" fill="#9994ac"/>
<rect x="18.4" y="531.60" width="0.62" height="8.80" fill="#97b8d2"/><rect x="19.0" y="531.60" width="1.02" height="8.80" fill="#7eaccc"/><rect x="20.0" y="531.60" width="1.02" height="8.80" fill="#a6bed0"/><rect x="21.0" y="531.60" width="1.02" height="8.80" fill="#a7c4d8"/><rect x="22.0" y="531.60" width="1.02" height="8.80" fill="#7ba4c8"/><rect x="23.0" y="531.60" width="1.02" height="8.80" fill="#8ab4d2"/><rect x="24.0" y="531.60" width="1.02" height="8.80" fill="#8dbdd9"/><rect x="25.0" y="531.60" width="1.02" height="8.80" fill="#83afce"/><rect x="26.0" y="531.60" width="1.02" height="8.80" fill="#aaa8ba"/><rect x="27.0" y="531.60" width="1.02" height="8.80" fill="#af9dae"/><rect x="28.0" y="531.60" width="1.02" height="8.80" fill="#9aa2b9"/><rect x="29.0" y="531.60" width="1.02" height="8.80" fill="#9b9bb2"/><rect x="30.0" y="531.60" width="1.02" height="8.80" fill="#a8b0c2"/><rect x="31.0" y="531.60" width="1.02" height="8.80" fill="#99acc3"/><rect x="32.0" y="531.60" width="1.02" height="8.80" fill="#9eaec2"/><rect x="33.0" y="531.60" width="1.02" height="8.80" fill="#8db3d0"/><rect x="34.0" y="531.60" width="1.02" height="8.80" fill="#5799c6"/><rect x="35.0" y="531.60" width="1.02" height="8.80" fill="#5999c5"/><rect x="36.0" y="531.60" width="1.02" height="8.80" fill="#92b8d3"/><rect x="37.0" y="531.60" width="1.02" height="8.80" fill="#8cb0cc"/><rect x="38.0" y="531.60" width="1.02" height="8.80" fill="#acb2c3"/><rect x="39.0" y="531.60" width="1.02" height="8.80" fill="#99a8bf"/><rect x="40.0" y="531.60" width="1.02" height="8.80" fill="#9ca8bd"/><rect x="41.0" y="531.60" width="1.02" height="8.80" fill="#93a4bd"/><rect x="42.0" y="531.60" width="1.02" height="8.80" fill="#a7b4c9"/><rect x="43.0" y="531.60" width="1.02" height="8.80" fill="#aab7cb"/><rect x="44.0" y="531.60" width="1.02" height="8.80" fill="#b7b5c2"/><rect x="45.0" y="531.60" width="1.02" height="8.80" fill="#b4c9d9"/><rect x="46.0" y="531.60" width="1.02" height="8.80" fill="#abc2d5"/><rect x="47.0" y="531.60" width="1.02" height="8.80" fill="#b2adbb"/><rect x="48.0" y="531.60" width="1.02" height="8.80" fill="#b0a0b2"/><rect x="49.0" y="531.60" width="0.62" height="8.80" fill="#a8a5b9"/>
<rect x="51.3" y="382.00" width="0.72" height="9.30" fill="#bcb9c4"/><rect x="52.0" y="382.00" width="1.02" height="9.30" fill="#aca4b4"/><rect x="53.0" y="382.00" width="1.02" height="9.30" fill="#a595a9"/><rect x="54.0" y="382.00" width="1.02" height="9.30" fill="#ada6b9"/><rect x="55.0" y="382.00" width="1.02" height="9.30" fill="#c58d96"/><rect x="56.0" y="382.00" width="1.02" height="9.30" fill="#c5a5ae"/><rect x="57.0" y="382.00" width="1.02" height="9.30" fill="#ca9ca2"/><rect x="58.0" y="382.00" width="1.02" height="9.30" fill="#d3a3a4"/><rect x="59.0" y="382.00" width="1.02" height="9.30" fill="#dda5a3"/><rect x="60.0" y="382.00" width="1.02" height="9.30" fill="#de9190"/><rect x="61.0" y="382.00" width="1.02" height="9.30" fill="#cf898b"/><rect x="62.0" y="382.00" width="1.02" height="9.30" fill="#b099a6"/><rect x="63.0" y="382.00" width="1.02" height="9.30" fill="#c099a2"/><rect x="64.0" y="382.00" width="1.02" height="9.30" fill="#b7afbd"/><rect x="65.0" y="382.00" width="1.02" height="9.30" fill="#d5adb0"/><rect x="66.0" y="382.00" width="1.02" height="9.30" fill="#d8babd"/><rect x="67.0" y="382.00" width="1.02" height="9.30" fill="#bcabb6"/><rect x="68.0" y="382.00" width="1.02" height="9.30" fill="#b69aa7"/><rect x="69.0" y="382.00" width="1.02" height="9.30" fill="#d0abae"/><rect x="70.0" y="382.00" width="1.02" height="9.30" fill="#c59da3"/><rect x="71.0" y="382.00" width="1.02" height="9.30" fill="#c18b94"/><rect x="72.0" y="382.00" width="1.02" height="9.30" fill="#c7949c"/><rect x="73.0" y="382.00" width="1.02" height="9.30" fill="#b8b8c7"/><rect x="74.0" y="382.00" width="1.02" height="9.30" fill="#bcb8c4"/><rect x="75.0" y="382.00" width="1.02" height="9.30" fill="#c099a4"/><rect x="76.0" y="382.00" width="1.02" height="9.30" fill="#d3a4a8"/><rect x="77.0" y="382.00" width="1.02" height="9.30" fill="#cfa9ad"/><rect x="78.0" y="382.00" width="1.02" height="9.30" fill="#af8c9a"/><rect x="79.0" y="382.00" width="1.02" height="9.30" fill="#c39098"/><rect x="80.0" y="382.00" width="1.02" height="9.30" fill="#d89fa2"/><rect x="81.0" y="382.00" width="1.02" height="9.30" fill="#cea8ad"/><rect x="82.0" y="382.00" width="1.02" height="9.30" fill="#b7a2af"/><rect x="83.0" y="382.00" width="1.02" height="9.30" fill="#d2a7aa"/><rect x="84.0" y="382.00" width="1.02" height="9.30" fill="#d0a7ad"/><rect x="85.0" y="382.00" width="1.02" height="9.30" fill="#c79199"/><rect x="86.0" y="382.00" width="1.02" height="9.30" fill="#bba9b5"/><rect x="87.0" y="382.00" width="1.02" height="9.30" fill="#b9a0ae"/><rect x="88.0" y="382.00" width="1.02" height="9.30" fill="#d3b2b7"/><rect x="89.0" y="382.00" width="1.02" height="9.30" fill="#cba6ad"/>
<rect x="51.3" y="390.80" width="0.72" height="9.30" fill="#9ec2d8"/><rect x="52.0" y="390.80" width="1.02" height="9.30" fill="#a5bbcf"/><rect x="53.0" y="390.80" width="1.02" height="9.30" fill="#a8a6b8"/><rect x="54.0" y="390.80" width="1.02" height="9.30" fill="#c4aab2"/><rect x="55.0" y="390.80" width="1.02" height="9.30" fill="#d3abaf"/><rect x="56.0" y="390.80" width="1.02" height="9.30" fill="#bec1cc"/><rect x="57.0" y="390.80" width="1.02" height="9.30" fill="#bec3ce"/><rect x="58.0" y="390.80" width="1.02" height="9.30" fill="#a8c0d2"/><rect x="59.0" y="390.80" width="1.02" height="9.30" fill="#9fc0d5"/><rect x="60.0" y="390.80" width="1.02" height="9.30" fill="#b1acbc"/><rect x="61.0" y="390.80" width="1.02" height="9.30" fill="#d0a0a4"/><rect x="62.0" y="390.80" width="1.02" height="9.30" fill="#c7a3ab"/><rect x="63.0" y="390.80" width="1.02" height="9.30" fill="#bea8b4"/><rect x="64.0" y="390.80" width="1.02" height="9.30" fill="#ae9aa9"/><rect x="65.0" y="390.80" width="1.02" height="9.30" fill="#afb1c2"/><rect x="66.0" y="390.80" width="1.02" height="9.30" fill="#cdd8e2"/><rect x="67.0" y="390.80" width="1.02" height="9.30" fill="#b4c7d8"/><rect x="68.0" y="390.80" width="1.02" height="9.30" fill="#acafc1"/><rect x="69.0" y="390.80" width="1.02" height="9.30" fill="#c9cdd8"/><rect x="70.0" y="390.80" width="1.02" height="9.30" fill="#cfc8d1"/><rect x="71.0" y="390.80" width="1.02" height="9.30" fill="#a6b8cc"/><rect x="72.0" y="390.80" width="1.02" height="9.30" fill="#9fc0d6"/><rect x="73.0" y="390.80" width="1.02" height="9.30" fill="#bac3d0"/><rect x="74.0" y="390.80" width="1.02" height="9.30" fill="#c6aeb4"/><rect x="75.0" y="390.80" width="1.02" height="9.30" fill="#da9594"/><rect x="76.0" y="390.80" width="1.02" height="9.30" fill="#e2aeae"/><rect x="77.0" y="390.80" width="1.02" height="9.30" fill="#c7aeb7"/><rect x="78.0" y="390.80" width="1.02" height="9.30" fill="#adb4c6"/><rect x="79.0" y="390.80" width="1.02" height="9.30" fill="#b8a2b0"/><rect x="80.0" y="390.80" width="1.02" height="9.30" fill="#bea6b1"/><rect x="81.0" y="390.80" width="1.02" height="9.30" fill="#d8b9be"/><rect x="82.0" y="390.80" width="1.02" height="9.30" fill="#e1c9c9"/><rect x="83.0" y="390.80" width="1.02" height="9.30" fill="#d7c7c9"/><rect x="84.0" y="390.80" width="1.02" height="9.30" fill="#aeafbf"/><rect x="85.0" y="390.80" width="1.02" height="9.30" fill="#989eb6"/><rect x="86.0" y="390.80" width="1.02" height="9.30" fill="#aab0c2"/><rect x="87.0" y="390.80" width="1.02" height="9.30" fill="#bf9da8"/><rect x="88.0" y="390.80" width="1.02" height="9.30" fill="#c2929b"/><rect x="89.0" y="390.80" width="1.02" height="9.30" fill="#ccadb4"/>
<rect x="51.3" y="399.60" width="0.72" height="9.30" fill="#b8a1af"/><rect x="52.0" y="399.60" width="1.02" height="9.30" fill="#bf97a1"/><rect x="53.0" y="399.60" width="1.02" height="9.30" fill="#dbc2c5"/><rect x="54.0" y="399.60" width="1.02" height="9.30" fill="#c0cfdb"/><rect x="55.0" y="399.60" width="1.02" height="9.30" fill="#a5b8cb"/><rect x="56.0" y="399.60" width="1.02" height="9.30" fill="#a4a7bb"/><rect x="57.0" y="399.60" width="1.02" height="9.30" fill="#897f9c"/><rect x="58.0" y="399.60" width="1.02" height="9.30" fill="#9296b1"/><rect x="59.0" y="399.60" width="1.02" height="9.30" fill="#b2a2b2"/><rect x="60.0" y="399.60" width="1.02" height="9.30" fill="#bebdca"/><rect x="61.0" y="399.60" width="1.02" height="9.30" fill="#ada5b5"/><rect x="62.0" y="399.60" width="1.02" height="9.30" fill="#a8899b"/><rect x="63.0" y="399.60" width="1.02" height="9.30" fill="#a496a9"/><rect x="64.0" y="399.60" width="1.02" height="9.30" fill="#c0a4ae"/><rect x="65.0" y="399.60" width="1.02" height="9.30" fill="#bb9da8"/><rect x="66.0" y="399.60" width="1.02" height="9.30" fill="#baaab8"/><rect x="67.0" y="399.60" width="1.02" height="9.30" fill="#a1b8ce"/><rect x="68.0" y="399.60" width="1.02" height="9.30" fill="#9bb2c8"/><rect x="69.0" y="399.60" width="1.02" height="9.30" fill="#ccc6ce"/><rect x="70.0" y="399.60" width="1.02" height="9.30" fill="#dec1c4"/><rect x="71.0" y="399.60" width="1.02" height="9.30" fill="#c6b5be"/><rect x="72.0" y="399.60" width="1.02" height="9.30" fill="#ae9fb0"/><rect x="73.0" y="399.60" width="1.02" height="9.30" fill="#c2848d"/><rect x="74.0" y="399.60" width="1.02" height="9.30" fill="#ba7e89"/><rect x="75.0" y="399.60" width="1.02" height="9.30" fill="#c1a5ae"/><rect x="76.0" y="399.60" width="1.02" height="9.30" fill="#d2bcbf"/><rect x="77.0" y="399.60" width="1.02" height="9.30" fill="#bdb8c3"/><rect x="78.0" y="399.60" width="1.02" height="9.30" fill="#91adc7"/><rect x="79.0" y="399.60" width="1.02" height="9.30" fill="#b4c0cf"/><rect x="80.0" y="399.60" width="1.02" height="9.30" fill="#d7cccf"/><rect x="81.0" y="399.60" width="1.02" height="9.30" fill="#c4c2cc"/><rect x="82.0" y="399.60" width="1.02" height="9.30" fill="#a5a6b9"/><rect x="83.0" y="399.60" width="1.02" height="9.30" fill="#b7a0ab"/><rect x="84.0" y="399.60" width="1.02" height="9.30" fill="#aea8b7"/><rect x="85.0" y="399.60" width="1.02" height="9.30" fill="#b3b5c4"/><rect x="86.0" y="399.60" width="1.02" height="9.30" fill="#a6bcd1"/><rect x="87.0" y="399.60" width="1.02" height="9.30" fill="#7faccb"/><rect x="88.0" y="399.60" width="1.02" height="9.30" fill="#88a9c5"/><rect x="89.0" y="399.60" width="1.02" height="9.30" fill="#9abcd6"/>
<rect x="51.3" y="408.40" width="0.72" height="9.30" fill="#a9b7c7"/><rect x="52.0" y="408.40" width="1.02" height="9.30" fill="#bcbbc6"/><rect x="53.0" y="408.40" width="1.02" height="9.30" fill="#ccbdc4"/><rect x="54.0" y="408.40" width="1.02" height="9.30" fill="#aeb6c6"/><rect x="55.0" y="408.40" width="1.02" height="9.30" fill="#b7b2c1"/><rect x="56.0" y="408.40" width="1.02" height="9.30" fill="#ccbbc3"/><rect x="57.0" y="408.40" width="1.02" height="9.30" fill="#b7aebb"/><rect x="58.0" y="408.40" width="1.02" height="9.30" fill="#99a8c0"/><rect x="59.0" y="408.40" width="1.02" height="9.30" fill="#b295a4"/><rect x="60.0" y="408.40" width="1.02" height="9.30" fill="#d29b9e"/><rect x="61.0" y="408.40" width="1.02" height="9.30" fill="#cda9af"/><rect x="62.0" y="408.40" width="1.02" height="9.30" fill="#af9ead"/><rect x="63.0" y="408.40" width="1.02" height="9.30" fill="#9f9bb1"/><rect x="64.0" y="408.40" width="1.02" height="9.30" fill="#aca7ba"/><rect x="65.0" y="408.40" width="1.02" height="9.30" fill="#bdbecb"/><rect x="66.0" y="408.40" width="1.02" height="9.30" fill="#a4a8bb"/><rect x="67.0" y="408.40" width="1.02" height="9.30" fill="#ae909f"/><rect x="68.0" y="408.40" width="1.02" height="9.30" fill="#b5b3bf"/><rect x="69.0" y="408.40" width="1.02" height="9.30" fill="#a8bdce"/><rect x="70.0" y="408.40" width="1.02" height="9.30" fill="#bdc5d0"/><rect x="71.0" y="408.40" width="1.02" height="9.30" fill="#c1abb4"/><rect x="72.0" y="408.40" width="1.02" height="9.30" fill="#c69fa8"/><rect x="73.0" y="408.40" width="1.02" height="9.30" fill="#caabb2"/><rect x="74.0" y="408.40" width="1.02" height="9.30" fill="#dbc3c4"/><rect x="75.0" y="408.40" width="1.02" height="9.30" fill="#bbc0cd"/><rect x="76.0" y="408.40" width="1.02" height="9.30" fill="#a2adc4"/><rect x="77.0" y="408.40" width="1.02" height="9.30" fill="#a295ac"/><rect x="78.0" y="408.40" width="1.02" height="9.30" fill="#a5a0b4"/><rect x="79.0" y="408.40" width="1.02" height="9.30" fill="#b795a1"/><rect x="80.0" y="408.40" width="1.02" height="9.30" fill="#c5b7c1"/><rect x="81.0" y="408.40" width="1.02" height="9.30" fill="#c3c2cc"/><rect x="82.0" y="408.40" width="1.02" height="9.30" fill="#bebcc7"/><rect x="83.0" y="408.40" width="1.02" height="9.30" fill="#c2b1bb"/><rect x="84.0" y="408.40" width="1.02" height="9.30" fill="#c3b4be"/><rect x="85.0" y="408.40" width="1.02" height="9.30" fill="#9baec7"/><rect x="86.0" y="408.40" width="1.02" height="9.30" fill="#bac3d0"/><rect x="87.0" y="408.40" width="1.02" height="9.30" fill="#c2b7c0"/><rect x="88.0" y="408.40" width="1.02" height="9.30" fill="#c7b8c1"/><rect x="89.0" y="408.40" width="1.02" height="9.30" fill="#dbcfd2"/>
<rect x="51.3" y="417.20" width="0.72" height="9.30" fill="#b2d4e5"/><rect x="52.0" y="417.20" width="1.02" height="9.30" fill="#b7d7e7"/><rect x="53.0" y="417.20" width="1.02" height="9.30" fill="#b0d1e3"/><rect x="54.0" y="417.20" width="1.02" height="9.30" fill="#cbdde8"/><rect x="55.0" y="417.20" width="1.02" height="9.30" fill="#cadfea"/><rect x="56.0" y="417.20" width="1.02" height="9.30" fill="#b6d6e6"/><rect x="57.0" y="417.20" width="1.02" height="9.30" fill="#acd2e4"/><rect x="58.0" y="417.20" width="1.02" height="9.30" fill="#b5d6e6"/><rect x="59.0" y="417.20" width="1.02" height="9.30" fill="#afd2e4"/><rect x="60.0" y="417.20" width="1.02" height="9.30" fill="#c6deea"/><rect x="61.0" y="417.20" width="1.02" height="9.30" fill="#cfe3ec"/><rect x="62.0" y="417.20" width="1.02" height="9.30" fill="#bedae7"/><rect x="63.0" y="417.20" width="1.02" height="9.30" fill="#a9d0e3"/><rect x="64.0" y="417.20" width="1.02" height="9.30" fill="#afd3e5"/><rect x="65.0" y="417.20" width="1.02" height="9.30" fill="#b9d8e7"/><rect x="66.0" y="417.20" width="1.02" height="9.30" fill="#b4d5e5"/><rect x="67.0" y="417.20" width="1.02" height="9.30" fill="#b7d5e5"/><rect x="68.0" y="417.20" width="1.02" height="9.30" fill="#b4d5e5"/><rect x="69.0" y="417.20" width="1.02" height="9.30" fill="#bfdae9"/><rect x="70.0" y="417.20" width="1.02" height="9.30" fill="#c7dfeb"/><rect x="71.0" y="417.20" width="1.02" height="9.30" fill="#b0d3e5"/><rect x="72.0" y="417.20" width="1.02" height="9.30" fill="#aed2e4"/><rect x="73.0" y="417.20" width="1.02" height="9.30" fill="#b4d5e6"/><rect x="74.0" y="417.20" width="1.02" height="9.30" fill="#bdd9e8"/><rect x="75.0" y="417.20" width="1.02" height="9.30" fill="#b3d5e6"/><rect x="76.0" y="417.20" width="1.02" height="9.30" fill="#aed3e4"/><rect x="77.0" y="417.20" width="1.02" height="9.30" fill="#b2d4e5"/><rect x="78.0" y="417.20" width="1.02" height="9.30" fill="#bed9e6"/><rect x="79.0" y="417.20" width="1.02" height="9.30" fill="#bddae7"/><rect x="80.0" y="417.20" width="1.02" height="9.30" fill="#b4d5e5"/><rect x="81.0" y="417.20" width="1.02" height="9.30" fill="#c1dbe8"/><rect x="82.0" y="417.20" width="1.02" height="9.30" fill="#b7d7e6"/><rect x="83.0" y="417.20" width="1.02" height="9.30" fill="#b5d6e6"/><rect x="84.0" y="417.20" width="1.02" height="9.30" fill="#bad8e7"/><rect x="85.0" y="417.20" width="1.02" height="9.30" fill="#bad8e7"/><rect x="86.0" y="417.20" width="1.02" height="9.30" fill="#bad7e6"/><rect x="87.0" y="417.20" width="1.02" height="9.30" fill="#bad4e3"/><rect x="88.0" y="417.20" width="1.02" height="9.30" fill="#b5d5e4"/><rect x="89.0" y="417.20" width="1.02" height="9.30" fill="#b1d4e5"/>
<rect x="51.3" y="426.00" width="0.72" height="9.30" fill="#719ec4"/><rect x="52.0" y="426.00" width="1.02" height="9.30" fill="#a4a4ba"/><rect x="53.0" y="426.00" width="1.02" height="9.30" fill="#bcaeba"/><rect x="54.0" y="426.00" width="1.02" height="9.30" fill="#cdb2b8"/><rect x="55.0" y="426.00" width="1.02" height="9.30" fill="#e1bcbb"/><rect x="56.0" y="426.00" width="1.02" height="9.30" fill="#ccc2c8"/><rect x="57.0" y="426.00" width="1.02" height="9.30" fill="#a19fb3"/><rect x="58.0" y="426.00" width="1.02" height="9.30" fill="#a28a9f"/><rect x="59.0" y="426.00" width="1.02" height="9.30" fill="#c8a8b0"/><rect x="60.0" y="426.00" width="1.02" height="9.30" fill="#e2aca9"/><rect x="61.0" y="426.00" width="1.02" height="9.30" fill="#dfb6b7"/><rect x="62.0" y="426.00" width="1.02" height="9.30" fill="#d7d3d9"/><rect x="63.0" y="426.00" width="1.02" height="9.30" fill="#a3c8dd"/><rect x="64.0" y="426.00" width="1.02" height="9.30" fill="#94c1db"/><rect x="65.0" y="426.00" width="1.02" height="9.30" fill="#a9c5d8"/><rect x="66.0" y="426.00" width="1.02" height="9.30" fill="#b6b4c1"/><rect x="67.0" y="426.00" width="1.02" height="9.30" fill="#a396a8"/><rect x="68.0" y="426.00" width="1.02" height="9.30" fill="#c2b1bc"/><rect x="69.0" y="426.00" width="1.02" height="9.30" fill="#dcbabb"/><rect x="70.0" y="426.00" width="1.02" height="9.30" fill="#c69299"/><rect x="71.0" y="426.00" width="1.02" height="9.30" fill="#aa8797"/><rect x="72.0" y="426.00" width="1.02" height="9.30" fill="#987f96"/><rect x="73.0" y="426.00" width="1.02" height="9.30" fill="#a491a6"/><rect x="74.0" y="426.00" width="1.02" height="9.30" fill="#a79ab0"/><rect x="75.0" y="426.00" width="1.02" height="9.30" fill="#aab7cc"/><rect x="76.0" y="426.00" width="1.02" height="9.30" fill="#a7b5c8"/><rect x="77.0" y="426.00" width="1.02" height="9.30" fill="#9593ad"/><rect x="78.0" y="426.00" width="1.02" height="9.30" fill="#c39faa"/><rect x="79.0" y="426.00" width="1.02" height="9.30" fill="#cbb1b7"/><rect x="80.0" y="426.00" width="1.02" height="9.30" fill="#cabec7"/><rect x="81.0" y="426.00" width="1.02" height="9.30" fill="#cac9d2"/><rect x="82.0" y="426.00" width="1.02" height="9.30" fill="#cfb4bc"/><rect x="83.0" y="426.00" width="1.02" height="9.30" fill="#aa9db1"/><rect x="84.0" y="426.00" width="1.02" height="9.30" fill="#94aeca"/><rect x="85.0" y="426.00" width="1.02" height="9.30" fill="#99adc5"/><rect x="86.0" y="426.00" width="1.02" height="9.30" fill="#a49baf"/><rect x="87.0" y="426.00" width="1.02" height="9.30" fill="#c6b1ba"/><rect x="88.0" y="426.00" width="1.02" height="9.30" fill="#d1b8bb"/><rect x="89.0" y="426.00" width="1.02" height="9.30" fill="#c1c7d1"/>
<rect x="51.3" y="434.80" width="0.72" height="9.30" fill="#d26769"/><rect x="52.0" y="434.80" width="1.02" height="9.30" fill="#ce7176"/><rect x="53.0" y="434.80" width="1.02" height="9.30" fill="#d1878b"/><rect x="54.0" y="434.80" width="1.02" height="9.30" fill="#c79197"/><rect x="55.0" y="434.80" width="1.02" height="9.30" fill="#ce6c70"/><rect x="56.0" y="434.80" width="1.02" height="9.30" fill="#c7464e"/><rect x="57.0" y="434.80" width="1.02" height="9.30" fill="#ca4e55"/><rect x="58.0" y="434.80" width="1.02" height="9.30" fill="#d17174"/><rect x="59.0" y="434.80" width="1.02" height="9.30" fill="#bb5966"/><rect x="60.0" y="434.80" width="1.02" height="9.30" fill="#c65c65"/><rect x="61.0" y="434.80" width="1.02" height="9.30" fill="#d06e74"/><rect x="62.0" y="434.80" width="1.02" height="9.30" fill="#d48e92"/><rect x="63.0" y="434.80" width="1.02" height="9.30" fill="#c5747c"/><rect x="64.0" y="434.80" width="1.02" height="9.30" fill="#cb6369"/><rect x="65.0" y="434.80" width="1.02" height="9.30" fill="#d5787c"/><rect x="66.0" y="434.80" width="1.02" height="9.30" fill="#cd666c"/><rect x="67.0" y="434.80" width="1.02" height="9.30" fill="#cc737a"/><rect x="68.0" y="434.80" width="1.02" height="9.30" fill="#cf6a6e"/><rect x="69.0" y="434.80" width="1.02" height="9.30" fill="#d16f73"/><rect x="70.0" y="434.80" width="1.02" height="9.30" fill="#cd575d"/><rect x="71.0" y="434.80" width="1.02" height="9.30" fill="#d15e61"/><rect x="72.0" y="434.80" width="1.02" height="9.30" fill="#d36a6d"/><rect x="73.0" y="434.80" width="1.02" height="9.30" fill="#d6777a"/><rect x="74.0" y="434.80" width="1.02" height="9.30" fill="#d1656a"/><rect x="75.0" y="434.80" width="1.02" height="9.30" fill="#d5696b"/><rect x="76.0" y="434.80" width="1.02" height="9.30" fill="#d37d7f"/><rect x="77.0" y="434.80" width="1.02" height="9.30" fill="#c0838d"/><rect x="78.0" y="434.80" width="1.02" height="9.30" fill="#cc8890"/><rect x="79.0" y="434.80" width="1.02" height="9.30" fill="#d4787d"/><rect x="80.0" y="434.80" width="1.02" height="9.30" fill="#d87474"/><rect x="81.0" y="434.80" width="1.02" height="9.30" fill="#d36567"/><rect x="82.0" y="434.80" width="1.02" height="9.30" fill="#c44954"/><rect x="83.0" y="434.80" width="1.02" height="9.30" fill="#c0414d"/><rect x="84.0" y="434.80" width="1.02" height="9.30" fill="#c86870"/><rect x="85.0" y="434.80" width="1.02" height="9.30" fill="#cb6f76"/><rect x="86.0" y="434.80" width="1.02" height="9.30" fill="#d67272"/><rect x="87.0" y="434.80" width="1.02" height="9.30" fill="#ca6e73"/><rect x="88.0" y="434.80" width="1.02" height="9.30" fill="#b28b99"/><rect x="89.0" y="434.80" width="1.02" height="9.30" fill="#b27583"/>
<rect x="51.3" y="443.60" width="0.72" height="9.30" fill="#dd7e7c"/><rect x="52.0" y="443.60" width="1.02" height="9.30" fill="#dc7a79"/><rect x="53.0" y="443.60" width="1.02" height="9.30" fill="#d98687"/><rect x="54.0" y="443.60" width="1.02" height="9.30" fill="#d29096"/><rect x="55.0" y="443.60" width="1.02" height="9.30" fill="#cc969d"/><rect x="56.0" y="443.60" width="1.02" height="9.30" fill="#d59296"/><rect x="57.0" y="443.60" width="1.02" height="9.30" fill="#d37073"/><rect x="58.0" y="443.60" width="1.02" height="9.30" fill="#cc6a71"/><rect x="59.0" y="443.60" width="1.02" height="9.30" fill="#ca646c"/><rect x="60.0" y="443.60" width="1.02" height="9.30" fill="#c7636c"/><rect x="61.0" y="443.60" width="1.02" height="9.30" fill="#bc6c79"/><rect x="62.0" y="443.60" width="1.02" height="9.30" fill="#c76a70"/><rect x="63.0" y="443.60" width="1.02" height="9.30" fill="#c58289"/><rect x="64.0" y="443.60" width="1.02" height="9.30" fill="#d5acb0"/><rect x="65.0" y="443.60" width="1.02" height="9.30" fill="#d47577"/><rect x="66.0" y="443.60" width="1.02" height="9.30" fill="#ce5458"/><rect x="67.0" y="443.60" width="1.02" height="9.30" fill="#d56464"/><rect x="68.0" y="443.60" width="1.02" height="9.30" fill="#d36062"/><rect x="69.0" y="443.60" width="1.02" height="9.30" fill="#cf5a5e"/><rect x="70.0" y="443.60" width="1.02" height="9.30" fill="#d06165"/><rect x="71.0" y="443.60" width="1.02" height="9.30" fill="#d47074"/><rect x="72.0" y="443.60" width="1.02" height="9.30" fill="#cf666b"/><rect x="73.0" y="443.60" width="1.02" height="9.30" fill="#d88487"/><rect x="74.0" y="443.60" width="1.02" height="9.30" fill="#df999b"/><rect x="75.0" y="443.60" width="1.02" height="9.30" fill="#dd989a"/><rect x="76.0" y="443.60" width="1.02" height="9.30" fill="#c3616b"/><rect x="77.0" y="443.60" width="1.02" height="9.30" fill="#b93c4a"/><rect x="78.0" y="443.60" width="1.02" height="9.30" fill="#b64c5b"/><rect x="79.0" y="443.60" width="1.02" height="9.30" fill="#c06570"/><rect x="80.0" y="443.60" width="1.02" height="9.30" fill="#d97e7d"/><rect x="81.0" y="443.60" width="1.02" height="9.30" fill="#d78283"/><rect x="82.0" y="443.60" width="1.02" height="9.30" fill="#d9acad"/><rect x="83.0" y="443.60" width="1.02" height="9.30" fill="#de9492"/><rect x="84.0" y="443.60" width="1.02" height="9.30" fill="#d05e62"/><rect x="85.0" y="443.60" width="1.02" height="9.30" fill="#d1676d"/><rect x="86.0" y="443.60" width="1.02" height="9.30" fill="#da8789"/><rect x="87.0" y="443.60" width="1.02" height="9.30" fill="#d57e82"/><rect x="88.0" y="443.60" width="1.02" height="9.30" fill="#d6797c"/><rect x="89.0" y="443.60" width="1.02" height="9.30" fill="#d6797d"/>
<rect x="51.3" y="452.40" width="0.72" height="9.30" fill="#aa8496"/><rect x="52.0" y="452.40" width="1.02" height="9.30" fill="#cba1a9"/><rect x="53.0" y="452.40" width="1.02" height="9.30" fill="#dfa7a8"/><rect x="54.0" y="452.40" width="1.02" height="9.30" fill="#d07a7e"/><rect x="55.0" y="452.40" width="1.02" height="9.30" fill="#d19da1"/><rect x="56.0" y="452.40" width="1.02" height="9.30" fill="#db9b9d"/><rect x="57.0" y="452.40" width="1.02" height="9.30" fill="#dea2a3"/><rect x="58.0" y="452.40" width="1.02" height="9.30" fill="#de9f9d"/><rect x="59.0" y="452.40" width="1.02" height="9.30" fill="#e08f8b"/><rect x="60.0" y="452.40" width="1.02" height="9.30" fill="#da7f80"/><rect x="61.0" y="452.40" width="1.02" height="9.30" fill="#d79798"/><rect x="62.0" y="452.40" width="1.02" height="9.30" fill="#bf96a0"/><rect x="63.0" y="452.40" width="1.02" height="9.30" fill="#c28791"/><rect x="64.0" y="452.40" width="1.02" height="9.30" fill="#d37477"/><rect x="65.0" y="452.40" width="1.02" height="9.30" fill="#d38f94"/><rect x="66.0" y="452.40" width="1.02" height="9.30" fill="#c2b0bc"/><rect x="67.0" y="452.40" width="1.02" height="9.30" fill="#cb878f"/><rect x="68.0" y="452.40" width="1.02" height="9.30" fill="#cc7a81"/><rect x="69.0" y="452.40" width="1.02" height="9.30" fill="#d18187"/><rect x="70.0" y="452.40" width="1.02" height="9.30" fill="#dc8787"/><rect x="71.0" y="452.40" width="1.02" height="9.30" fill="#d76e6e"/><rect x="72.0" y="452.40" width="1.02" height="9.30" fill="#cc5f64"/><rect x="73.0" y="452.40" width="1.02" height="9.30" fill="#d08d91"/><rect x="74.0" y="452.40" width="1.02" height="9.30" fill="#d9989a"/><rect x="75.0" y="452.40" width="1.02" height="9.30" fill="#da8283"/><rect x="76.0" y="452.40" width="1.02" height="9.30" fill="#cf7176"/><rect x="77.0" y="452.40" width="1.02" height="9.30" fill="#c78189"/><rect x="78.0" y="452.40" width="1.02" height="9.30" fill="#d19397"/><rect x="79.0" y="452.40" width="1.02" height="9.30" fill="#c7a3ab"/><rect x="80.0" y="452.40" width="1.02" height="9.30" fill="#c76770"/><rect x="81.0" y="452.40" width="1.02" height="9.30" fill="#d1666a"/><rect x="82.0" y="452.40" width="1.02" height="9.30" fill="#e0a7a7"/><rect x="83.0" y="452.40" width="1.02" height="9.30" fill="#daa3a6"/><rect x="84.0" y="452.40" width="1.02" height="9.30" fill="#d8888b"/><rect x="85.0" y="452.40" width="1.02" height="9.30" fill="#d28185"/><rect x="86.0" y="452.40" width="1.02" height="9.30" fill="#c3828a"/><rect x="87.0" y="452.40" width="1.02" height="9.30" fill="#ca777d"/><rect x="88.0" y="452.40" width="1.02" height="9.30" fill="#ce8589"/><rect x="89.0" y="452.40" width="1.02" height="9.30" fill="#e39c96"/>
<rect x="51.3" y="461.20" width="0.72" height="9.30" fill="#df9b99"/><rect x="52.0" y="461.20" width="1.02" height="9.30" fill="#dd8381"/><rect x="53.0" y="461.20" width="1.02" height="9.30" fill="#d77676"/><rect x="54.0" y="461.20" width="1.02" height="9.30" fill="#db9493"/><rect x="55.0" y="461.20" width="1.02" height="9.30" fill="#d58386"/><rect x="56.0" y="461.20" width="1.02" height="9.30" fill="#c47e85"/><rect x="57.0" y="461.20" width="1.02" height="9.30" fill="#af7785"/><rect x="58.0" y="461.20" width="1.02" height="9.30" fill="#be5d69"/><rect x="59.0" y="461.20" width="1.02" height="9.30" fill="#cd6c72"/><rect x="60.0" y="461.20" width="1.02" height="9.30" fill="#ca686e"/><rect x="61.0" y="461.20" width="1.02" height="9.30" fill="#c98b90"/><rect x="62.0" y="461.20" width="1.02" height="9.30" fill="#cf7276"/><rect x="63.0" y="461.20" width="1.02" height="9.30" fill="#d06f76"/><rect x="64.0" y="461.20" width="1.02" height="9.30" fill="#dca1a2"/><rect x="65.0" y="461.20" width="1.02" height="9.30" fill="#da9393"/><rect x="66.0" y="461.20" width="1.02" height="9.30" fill="#d58788"/><rect x="67.0" y="461.20" width="1.02" height="9.30" fill="#c4969f"/><rect x="68.0" y="461.20" width="1.02" height="9.30" fill="#c4b7c1"/><rect x="69.0" y="461.20" width="1.02" height="9.30" fill="#beb2be"/><rect x="70.0" y="461.20" width="1.02" height="9.30" fill="#d9b4b7"/><rect x="71.0" y="461.20" width="1.02" height="9.30" fill="#cf8d92"/><rect x="72.0" y="461.20" width="1.02" height="9.30" fill="#d48b8f"/><rect x="73.0" y="461.20" width="1.02" height="9.30" fill="#df9d9e"/><rect x="74.0" y="461.20" width="1.02" height="9.30" fill="#daa8a9"/><rect x="75.0" y="461.20" width="1.02" height="9.30" fill="#c68289"/><rect x="76.0" y="461.20" width="1.02" height="9.30" fill="#cd6c71"/><rect x="77.0" y="461.20" width="1.02" height="9.30" fill="#d57f82"/><rect x="78.0" y="461.20" width="1.02" height="9.30" fill="#cc8288"/><rect x="79.0" y="461.20" width="1.02" height="9.30" fill="#d08d90"/><rect x="80.0" y="461.20" width="1.02" height="9.30" fill="#c67c83"/><rect x="81.0" y="461.20" width="1.02" height="9.30" fill="#b2a2b1"/><rect x="82.0" y="461.20" width="1.02" height="9.30" fill="#c89097"/><rect x="83.0" y="461.20" width="1.02" height="9.30" fill="#d37679"/><rect x="84.0" y="461.20" width="1.02" height="9.30" fill="#d27b7f"/><rect x="85.0" y="461.20" width="1.02" height="9.30" fill="#d99295"/><rect x="86.0" y="461.20" width="1.02" height="9.30" fill="#dab4b7"/><rect x="87.0" y="461.20" width="1.02" height="9.30" fill="#d2898e"/><rect x="88.0" y="461.20" width="1.02" height="9.30" fill="#d27478"/><rect x="89.0" y="461.20" width="1.02" height="9.30" fill="#c95f69"/>
<rect x="51.3" y="470.00" width="0.72" height="9.30" fill="#c28590"/><rect x="52.0" y="470.00" width="1.02" height="9.30" fill="#cc6f76"/><rect x="53.0" y="470.00" width="1.02" height="9.30" fill="#d66f70"/><rect x="54.0" y="470.00" width="1.02" height="9.30" fill="#dd8483"/><rect x="55.0" y="470.00" width="1.02" height="9.30" fill="#e5a5a1"/><rect x="56.0" y="470.00" width="1.02" height="9.30" fill="#dea8a8"/><rect x="57.0" y="470.00" width="1.02" height="9.30" fill="#c97d86"/><rect x="58.0" y="470.00" width="1.02" height="9.30" fill="#c9979e"/><rect x="59.0" y="470.00" width="1.02" height="9.30" fill="#d89394"/><rect x="60.0" y="470.00" width="1.02" height="9.30" fill="#d98a8e"/><rect x="61.0" y="470.00" width="1.02" height="9.30" fill="#da9193"/><rect x="62.0" y="470.00" width="1.02" height="9.30" fill="#dc8a8a"/><rect x="63.0" y="470.00" width="1.02" height="9.30" fill="#de8684"/><rect x="64.0" y="470.00" width="1.02" height="9.30" fill="#d6807f"/><rect x="65.0" y="470.00" width="1.02" height="9.30" fill="#c9989b"/><rect x="66.0" y="470.00" width="1.02" height="9.30" fill="#ceb2b6"/><rect x="67.0" y="470.00" width="1.02" height="9.30" fill="#e3b8b5"/><rect x="68.0" y="470.00" width="1.02" height="9.30" fill="#dfb0b2"/><rect x="69.0" y="470.00" width="1.02" height="9.30" fill="#d69a9f"/><rect x="70.0" y="470.00" width="1.02" height="9.30" fill="#ca5d65"/><rect x="71.0" y="470.00" width="1.02" height="9.30" fill="#c9626c"/><rect x="72.0" y="470.00" width="1.02" height="9.30" fill="#d79aa0"/><rect x="73.0" y="470.00" width="1.02" height="9.30" fill="#d7a4a7"/><rect x="74.0" y="470.00" width="1.02" height="9.30" fill="#c88a90"/><rect x="75.0" y="470.00" width="1.02" height="9.30" fill="#d28d90"/><rect x="76.0" y="470.00" width="1.02" height="9.30" fill="#d89f9f"/><rect x="77.0" y="470.00" width="1.02" height="9.30" fill="#d9a6a8"/><rect x="78.0" y="470.00" width="1.02" height="9.30" fill="#e09e9e"/><rect x="79.0" y="470.00" width="1.02" height="9.30" fill="#de8c8c"/><rect x="80.0" y="470.00" width="1.02" height="9.30" fill="#dc9a99"/><rect x="81.0" y="470.00" width="1.02" height="9.30" fill="#c69299"/><rect x="82.0" y="470.00" width="1.02" height="9.30" fill="#ca6b72"/><rect x="83.0" y="470.00" width="1.02" height="9.30" fill="#da8688"/><rect x="84.0" y="470.00" width="1.02" height="9.30" fill="#deabad"/><rect x="85.0" y="470.00" width="1.02" height="9.30" fill="#ce969a"/><rect x="86.0" y="470.00" width="1.02" height="9.30" fill="#d19294"/><rect x="87.0" y="470.00" width="1.02" height="9.30" fill="#d2777b"/><rect x="88.0" y="470.00" width="1.02" height="9.30" fill="#d88384"/><rect x="89.0" y="470.00" width="1.02" height="9.30" fill="#c68089"/>
<rect x="51.3" y="478.80" width="0.72" height="9.30" fill="#ad8193"/><rect x="52.0" y="478.80" width="1.02" height="9.30" fill="#b39caa"/><rect x="53.0" y="478.80" width="1.02" height="9.30" fill="#c2a2ab"/><rect x="54.0" y="478.80" width="1.02" height="9.30" fill="#d09a9f"/><rect x="55.0" y="478.80" width="1.02" height="9.30" fill="#da8786"/><rect x="56.0" y="478.80" width="1.02" height="9.30" fill="#d28186"/><rect x="57.0" y="478.80" width="1.02" height="9.30" fill="#c9a1ab"/><rect x="58.0" y="478.80" width="1.02" height="9.30" fill="#bf8d98"/><rect x="59.0" y="478.80" width="1.02" height="9.30" fill="#d2888c"/><rect x="60.0" y="478.80" width="1.02" height="9.30" fill="#cb6f75"/><rect x="61.0" y="478.80" width="1.02" height="9.30" fill="#c2545d"/><rect x="62.0" y="478.80" width="1.02" height="9.30" fill="#c37980"/><rect x="63.0" y="478.80" width="1.02" height="9.30" fill="#cd989d"/><rect x="64.0" y="478.80" width="1.02" height="9.30" fill="#db9c9d"/><rect x="65.0" y="478.80" width="1.02" height="9.30" fill="#e4bfbe"/><rect x="66.0" y="478.80" width="1.02" height="9.30" fill="#e3c6c6"/><rect x="67.0" y="478.80" width="1.02" height="9.30" fill="#e0cbcc"/><rect x="68.0" y="478.80" width="1.02" height="9.30" fill="#d8d3d7"/><rect x="69.0" y="478.80" width="1.02" height="9.30" fill="#ccbbc1"/><rect x="70.0" y="478.80" width="1.02" height="9.30" fill="#dfaba8"/><rect x="71.0" y="478.80" width="1.02" height="9.30" fill="#e6adaa"/><rect x="72.0" y="478.80" width="1.02" height="9.30" fill="#e3a09e"/><rect x="73.0" y="478.80" width="1.02" height="9.30" fill="#d4979b"/><rect x="74.0" y="478.80" width="1.02" height="9.30" fill="#c39ca4"/><rect x="75.0" y="478.80" width="1.02" height="9.30" fill="#d5a9ac"/><rect x="76.0" y="478.80" width="1.02" height="9.30" fill="#ddafb0"/><rect x="77.0" y="478.80" width="1.02" height="9.30" fill="#cca6ab"/><rect x="78.0" y="478.80" width="1.02" height="9.30" fill="#d7acae"/><rect x="79.0" y="478.80" width="1.02" height="9.30" fill="#cea8b0"/><rect x="80.0" y="478.80" width="1.02" height="9.30" fill="#be8792"/><rect x="81.0" y="478.80" width="1.02" height="9.30" fill="#c27984"/><rect x="82.0" y="478.80" width="1.02" height="9.30" fill="#d7aaaf"/><rect x="83.0" y="478.80" width="1.02" height="9.30" fill="#cc979f"/><rect x="84.0" y="478.80" width="1.02" height="9.30" fill="#bd8f9c"/><rect x="85.0" y="478.80" width="1.02" height="9.30" fill="#cc7e85"/><rect x="86.0" y="478.80" width="1.02" height="9.30" fill="#d39397"/><rect x="87.0" y="478.80" width="1.02" height="9.30" fill="#ca969b"/><rect x="88.0" y="478.80" width="1.02" height="9.30" fill="#cf898e"/><rect x="89.0" y="478.80" width="1.02" height="9.30" fill="#d8a7a8"/>
<rect x="51.3" y="487.60" width="0.72" height="9.30" fill="#bccdda"/><rect x="52.0" y="487.60" width="1.02" height="9.30" fill="#88b5d2"/><rect x="53.0" y="487.60" width="1.02" height="9.30" fill="#99b4cd"/><rect x="54.0" y="487.60" width="1.02" height="9.30" fill="#a4adc2"/><rect x="55.0" y="487.60" width="1.02" height="9.30" fill="#81adcc"/><rect x="56.0" y="487.60" width="1.02" height="9.30" fill="#78b2d3"/><rect x="57.0" y="487.60" width="1.02" height="9.30" fill="#83b1d0"/><rect x="58.0" y="487.60" width="1.02" height="9.30" fill="#99b5cb"/><rect x="59.0" y="487.60" width="1.02" height="9.30" fill="#a4bdd1"/><rect x="60.0" y="487.60" width="1.02" height="9.30" fill="#b6c4d3"/><rect x="61.0" y="487.60" width="1.02" height="9.30" fill="#c6bfc8"/><rect x="62.0" y="487.60" width="1.02" height="9.30" fill="#9dadc3"/><rect x="63.0" y="487.60" width="1.02" height="9.30" fill="#82a8c8"/><rect x="64.0" y="487.60" width="1.02" height="9.30" fill="#8093b2"/><rect x="65.0" y="487.60" width="1.02" height="9.30" fill="#877f9c"/><rect x="66.0" y="487.60" width="1.02" height="9.30" fill="#7185aa"/><rect x="67.0" y="487.60" width="1.02" height="9.30" fill="#769bc0"/><rect x="68.0" y="487.60" width="1.02" height="9.30" fill="#84a9c7"/><rect x="69.0" y="487.60" width="1.02" height="9.30" fill="#c2b6be"/><rect x="70.0" y="487.60" width="1.02" height="9.30" fill="#c2b8c2"/><rect x="71.0" y="487.60" width="1.02" height="9.30" fill="#7fa4c7"/><rect x="72.0" y="487.60" width="1.02" height="9.30" fill="#5795c4"/><rect x="73.0" y="487.60" width="1.02" height="9.30" fill="#609ec9"/><rect x="74.0" y="487.60" width="1.02" height="9.30" fill="#6aa0c9"/><rect x="75.0" y="487.60" width="1.02" height="9.30" fill="#acbbcf"/><rect x="76.0" y="487.60" width="1.02" height="9.30" fill="#b3b1c0"/><rect x="77.0" y="487.60" width="1.02" height="9.30" fill="#90b0cb"/><rect x="78.0" y="487.60" width="1.02" height="9.30" fill="#83a8c7"/><rect x="79.0" y="487.60" width="1.02" height="9.30" fill="#8ea5bf"/><rect x="80.0" y="487.60" width="1.02" height="9.30" fill="#8ea6c0"/><rect x="81.0" y="487.60" width="1.02" height="9.30" fill="#8a9bb7"/><rect x="82.0" y="487.60" width="1.02" height="9.30" fill="#b1b8c8"/><rect x="83.0" y="487.60" width="1.02" height="9.30" fill="#c9c3ca"/><rect x="84.0" y="487.60" width="1.02" height="9.30" fill="#b0c1d0"/><rect x="85.0" y="487.60" width="1.02" height="9.30" fill="#bfccd8"/><rect x="86.0" y="487.60" width="1.02" height="9.30" fill="#c0c7d2"/><rect x="87.0" y="487.60" width="1.02" height="9.30" fill="#81adcb"/><rect x="88.0" y="487.60" width="1.02" height="9.30" fill="#76a3c6"/><rect x="89.0" y="487.60" width="1.02" height="9.30" fill="#83aed0"/>
<rect x="51.3" y="496.40" width="0.72" height="9.30" fill="#9cc3dc"/><rect x="52.0" y="496.40" width="1.02" height="9.30" fill="#76a6cc"/><rect x="53.0" y="496.40" width="1.02" height="9.30" fill="#82a8c9"/><rect x="54.0" y="496.40" width="1.02" height="9.30" fill="#8fa9c5"/><rect x="55.0" y="496.40" width="1.02" height="9.30" fill="#99a6be"/><rect x="56.0" y="496.40" width="1.02" height="9.30" fill="#9498b1"/><rect x="57.0" y="496.40" width="1.02" height="9.30" fill="#76a4c6"/><rect x="58.0" y="496.40" width="1.02" height="9.30" fill="#87b8d6"/><rect x="59.0" y="496.40" width="1.02" height="9.30" fill="#91b6d3"/><rect x="60.0" y="496.40" width="1.02" height="9.30" fill="#6699c3"/><rect x="61.0" y="496.40" width="1.02" height="9.30" fill="#6690ba"/><rect x="62.0" y="496.40" width="1.02" height="9.30" fill="#7eacce"/><rect x="63.0" y="496.40" width="1.02" height="9.30" fill="#5997c5"/><rect x="64.0" y="496.40" width="1.02" height="9.30" fill="#5293c3"/><rect x="65.0" y="496.40" width="1.02" height="9.30" fill="#498dc0"/><rect x="66.0" y="496.40" width="1.02" height="9.30" fill="#5a99c6"/><rect x="67.0" y="496.40" width="1.02" height="9.30" fill="#498dc0"/><rect x="68.0" y="496.40" width="1.02" height="9.30" fill="#4289be"/><rect x="69.0" y="496.40" width="1.02" height="9.30" fill="#4e93c3"/><rect x="70.0" y="496.40" width="1.02" height="9.30" fill="#67a2cb"/><rect x="71.0" y="496.40" width="1.02" height="9.30" fill="#84a9ca"/><rect x="72.0" y="496.40" width="1.02" height="9.30" fill="#88a1be"/><rect x="73.0" y="496.40" width="1.02" height="9.30" fill="#5991be"/><rect x="74.0" y="496.40" width="1.02" height="9.30" fill="#699cc5"/><rect x="75.0" y="496.40" width="1.02" height="9.30" fill="#87abc9"/><rect x="76.0" y="496.40" width="1.02" height="9.30" fill="#609ac5"/><rect x="77.0" y="496.40" width="1.02" height="9.30" fill="#5e9ac7"/><rect x="78.0" y="496.40" width="1.02" height="9.30" fill="#6d9fc9"/><rect x="79.0" y="496.40" width="1.02" height="9.30" fill="#689dc6"/><rect x="80.0" y="496.40" width="1.02" height="9.30" fill="#679ac3"/><rect x="81.0" y="496.40" width="1.02" height="9.30" fill="#6f95bc"/><rect x="82.0" y="496.40" width="1.02" height="9.30" fill="#548cbd"/><rect x="83.0" y="496.40" width="1.02" height="9.30" fill="#7dadce"/><rect x="84.0" y="496.40" width="1.02" height="9.30" fill="#86a7c3"/><rect x="85.0" y="496.40" width="1.02" height="9.30" fill="#8ba2be"/><rect x="86.0" y="496.40" width="1.02" height="9.30" fill="#859ebb"/><rect x="87.0" y="496.40" width="1.02" height="9.30" fill="#85acca"/><rect x="88.0" y="496.40" width="1.02" height="9.30" fill="#a1b9ce"/><rect x="89.0" y="496.40" width="1.02" height="9.30" fill="#7c93b3"/>
<rect x="51.3" y="505.20" width="0.72" height="9.30" fill="#82b5d3"/><rect x="52.0" y="505.20" width="1.02" height="9.30" fill="#7ea2c3"/><rect x="53.0" y="505.20" width="1.02" height="9.30" fill="#a3b1c4"/><rect x="54.0" y="505.20" width="1.02" height="9.30" fill="#b3c2d0"/><rect x="55.0" y="505.20" width="1.02" height="9.30" fill="#b2cedf"/><rect x="56.0" y="505.20" width="1.02" height="9.30" fill="#a5bfd4"/><rect x="57.0" y="505.20" width="1.02" height="9.30" fill="#ada1b1"/><rect x="58.0" y="505.20" width="1.02" height="9.30" fill="#a18398"/><rect x="59.0" y="505.20" width="1.02" height="9.30" fill="#ac93a2"/><rect x="60.0" y="505.20" width="1.02" height="9.30" fill="#ab8f9e"/><rect x="61.0" y="505.20" width="1.02" height="9.30" fill="#8ca8c4"/><rect x="62.0" y="505.20" width="1.02" height="9.30" fill="#80a7c8"/><rect x="63.0" y="505.20" width="1.02" height="9.30" fill="#afb2c2"/><rect x="64.0" y="505.20" width="1.02" height="9.30" fill="#a0b6cc"/><rect x="65.0" y="505.20" width="1.02" height="9.30" fill="#b9c2d0"/><rect x="66.0" y="505.20" width="1.02" height="9.30" fill="#c0a8b2"/><rect x="67.0" y="505.20" width="1.02" height="9.30" fill="#a38ca1"/><rect x="68.0" y="505.20" width="1.02" height="9.30" fill="#c6bdc7"/><rect x="69.0" y="505.20" width="1.02" height="9.30" fill="#c5cbd4"/><rect x="70.0" y="505.20" width="1.02" height="9.30" fill="#c6c9d2"/><rect x="71.0" y="505.20" width="1.02" height="9.30" fill="#d2c3c8"/><rect x="72.0" y="505.20" width="1.02" height="9.30" fill="#adbed1"/><rect x="73.0" y="505.20" width="1.02" height="9.30" fill="#a1b4ca"/><rect x="74.0" y="505.20" width="1.02" height="9.30" fill="#c69ea8"/><rect x="75.0" y="505.20" width="1.02" height="9.30" fill="#c8b1b8"/><rect x="76.0" y="505.20" width="1.02" height="9.30" fill="#b2b4c0"/><rect x="77.0" y="505.20" width="1.02" height="9.30" fill="#9dabbf"/><rect x="78.0" y="505.20" width="1.02" height="9.30" fill="#919db6"/><rect x="79.0" y="505.20" width="1.02" height="9.30" fill="#81a7c5"/><rect x="80.0" y="505.20" width="1.02" height="9.30" fill="#92b1ca"/><rect x="81.0" y="505.20" width="1.02" height="9.30" fill="#8eb6d3"/><rect x="82.0" y="505.20" width="1.02" height="9.30" fill="#7ab0d2"/><rect x="83.0" y="505.20" width="1.02" height="9.30" fill="#72a7cc"/><rect x="84.0" y="505.20" width="1.02" height="9.30" fill="#99b4cc"/><rect x="85.0" y="505.20" width="1.02" height="9.30" fill="#c2c4cf"/><rect x="86.0" y="505.20" width="1.02" height="9.30" fill="#b3b7c6"/><rect x="87.0" y="505.20" width="1.02" height="9.30" fill="#9aa7bd"/><rect x="88.0" y="505.20" width="1.02" height="9.30" fill="#7b89ac"/><rect x="89.0" y="505.20" width="1.02" height="9.30" fill="#ab9faf"/>
<rect x="51.3" y="514.00" width="0.72" height="9.30" fill="#a3b2c7"/><rect x="52.0" y="514.00" width="1.02" height="9.30" fill="#afafc1"/><rect x="53.0" y="514.00" width="1.02" height="9.30" fill="#dac0c3"/><rect x="54.0" y="514.00" width="1.02" height="9.30" fill="#dcb1af"/><rect x="55.0" y="514.00" width="1.02" height="9.30" fill="#b6b6c3"/><rect x="56.0" y="514.00" width="1.02" height="9.30" fill="#b2aec0"/><rect x="57.0" y="514.00" width="1.02" height="9.30" fill="#c0bfcb"/><rect x="58.0" y="514.00" width="1.02" height="9.30" fill="#cac2ca"/><rect x="59.0" y="514.00" width="1.02" height="9.30" fill="#d2c0c6"/><rect x="60.0" y="514.00" width="1.02" height="9.30" fill="#c5b8c2"/><rect x="61.0" y="514.00" width="1.02" height="9.30" fill="#cab6be"/><rect x="62.0" y="514.00" width="1.02" height="9.30" fill="#ddb5b6"/><rect x="63.0" y="514.00" width="1.02" height="9.30" fill="#d3a8ab"/><rect x="64.0" y="514.00" width="1.02" height="9.30" fill="#d7bcbf"/><rect x="65.0" y="514.00" width="1.02" height="9.30" fill="#c5ced8"/><rect x="66.0" y="514.00" width="1.02" height="9.30" fill="#c3d2de"/><rect x="67.0" y="514.00" width="1.02" height="9.30" fill="#b0c7d8"/><rect x="68.0" y="514.00" width="1.02" height="9.30" fill="#beb2bb"/><rect x="69.0" y="514.00" width="1.02" height="9.30" fill="#d1a2a5"/><rect x="70.0" y="514.00" width="1.02" height="9.30" fill="#b1a8b8"/><rect x="71.0" y="514.00" width="1.02" height="9.30" fill="#acb8ca"/><rect x="72.0" y="514.00" width="1.02" height="9.30" fill="#baacb9"/><rect x="73.0" y="514.00" width="1.02" height="9.30" fill="#a6acc0"/><rect x="74.0" y="514.00" width="1.02" height="9.30" fill="#a3bed3"/><rect x="75.0" y="514.00" width="1.02" height="9.30" fill="#aabcce"/><rect x="76.0" y="514.00" width="1.02" height="9.30" fill="#b5b3c2"/><rect x="77.0" y="514.00" width="1.02" height="9.30" fill="#b7a9b6"/><rect x="78.0" y="514.00" width="1.02" height="9.30" fill="#aab5c8"/><rect x="79.0" y="514.00" width="1.02" height="9.30" fill="#aaabbc"/><rect x="80.0" y="514.00" width="1.02" height="9.30" fill="#a194a6"/><rect x="81.0" y="514.00" width="1.02" height="9.30" fill="#758cae"/><rect x="82.0" y="514.00" width="1.02" height="9.30" fill="#89819e"/><rect x="83.0" y="514.00" width="1.02" height="9.30" fill="#a3b0c6"/><rect x="84.0" y="514.00" width="1.02" height="9.30" fill="#98b3cc"/><rect x="85.0" y="514.00" width="1.02" height="9.30" fill="#9b99af"/><rect x="86.0" y="514.00" width="1.02" height="9.30" fill="#bfb5c1"/><rect x="87.0" y="514.00" width="1.02" height="9.30" fill="#b9b4c1"/><rect x="88.0" y="514.00" width="1.02" height="9.30" fill="#b79eac"/><rect x="89.0" y="514.00" width="1.02" height="9.30" fill="#d6bdc1"/>
<rect x="51.3" y="522.80" width="0.72" height="9.30" fill="#83a4c5"/><rect x="52.0" y="522.80" width="1.02" height="9.30" fill="#7fa5c8"/><rect x="53.0" y="522.80" width="1.02" height="9.30" fill="#b0c3d4"/><rect x="54.0" y="522.80" width="1.02" height="9.30" fill="#b2c0ce"/><rect x="55.0" y="522.80" width="1.02" height="9.30" fill="#b1becc"/><rect x="56.0" y="522.80" width="1.02" height="9.30" fill="#a3c4d9"/><rect x="57.0" y="522.80" width="1.02" height="9.30" fill="#a5cbe0"/><rect x="58.0" y="522.80" width="1.02" height="9.30" fill="#7daccd"/><rect x="59.0" y="522.80" width="1.02" height="9.30" fill="#7fa5c3"/><rect x="60.0" y="522.80" width="1.02" height="9.30" fill="#8cb2cd"/><rect x="61.0" y="522.80" width="1.02" height="9.30" fill="#acbed0"/><rect x="62.0" y="522.80" width="1.02" height="9.30" fill="#9cb1c9"/><rect x="63.0" y="522.80" width="1.02" height="9.30" fill="#9faec6"/><rect x="64.0" y="522.80" width="1.02" height="9.30" fill="#c8c9d2"/><rect x="65.0" y="522.80" width="1.02" height="9.30" fill="#bec8d4"/><rect x="66.0" y="522.80" width="1.02" height="9.30" fill="#98a5bd"/><rect x="67.0" y="522.80" width="1.02" height="9.30" fill="#7d9dbf"/><rect x="68.0" y="522.80" width="1.02" height="9.30" fill="#92b6d1"/><rect x="69.0" y="522.80" width="1.02" height="9.30" fill="#adc0d2"/><rect x="70.0" y="522.80" width="1.02" height="9.30" fill="#a0b1c7"/><rect x="71.0" y="522.80" width="1.02" height="9.30" fill="#98aec7"/><rect x="72.0" y="522.80" width="1.02" height="9.30" fill="#90b8d3"/><rect x="73.0" y="522.80" width="1.02" height="9.30" fill="#b1cddf"/><rect x="74.0" y="522.80" width="1.02" height="9.30" fill="#a0b6cb"/><rect x="75.0" y="522.80" width="1.02" height="9.30" fill="#8797b3"/><rect x="76.0" y="522.80" width="1.02" height="9.30" fill="#a8a0b0"/><rect x="77.0" y="522.80" width="1.02" height="9.30" fill="#b4b2bf"/><rect x="78.0" y="522.80" width="1.02" height="9.30" fill="#8ba2be"/><rect x="79.0" y="522.80" width="1.02" height="9.30" fill="#8190b0"/><rect x="80.0" y="522.80" width="1.02" height="9.30" fill="#969fb9"/><rect x="81.0" y="522.80" width="1.02" height="9.30" fill="#9aadc3"/><rect x="82.0" y="522.80" width="1.02" height="9.30" fill="#d0d1d8"/><rect x="83.0" y="522.80" width="1.02" height="9.30" fill="#dfd5d7"/><rect x="84.0" y="522.80" width="1.02" height="9.30" fill="#cbc4cd"/><rect x="85.0" y="522.80" width="1.02" height="9.30" fill="#8ca0bd"/><rect x="86.0" y="522.80" width="1.02" height="9.30" fill="#7a9ebf"/><rect x="87.0" y="522.80" width="1.02" height="9.30" fill="#8388a8"/><rect x="88.0" y="522.80" width="1.02" height="9.30" fill="#8995b3"/><rect x="89.0" y="522.80" width="1.02" height="9.30" fill="#89b1cf"/>
<rect x="51.3" y="531.60" width="0.72" height="8.80" fill="#a1bed5"/><rect x="52.0" y="531.60" width="1.02" height="8.80" fill="#a1a3b7"/><rect x="53.0" y="531.60" width="1.02" height="8.80" fill="#bab0bb"/><rect x="54.0" y="531.60" width="1.02" height="8.80" fill="#cec7cd"/><rect x="55.0" y="531.60" width="1.02" height="8.80" fill="#c6b9c3"/><rect x="56.0" y="531.60" width="1.02" height="8.80" fill="#b8a2af"/><rect x="57.0" y="531.60" width="1.02" height="8.80" fill="#b596a2"/><rect x="58.0" y="531.60" width="1.02" height="8.80" fill="#a5a0b5"/><rect x="59.0" y="531.60" width="1.02" height="8.80" fill="#b6c5d5"/><rect x="60.0" y="531.60" width="1.02" height="8.80" fill="#b4bfcf"/><rect x="61.0" y="531.60" width="1.02" height="8.80" fill="#afa1b2"/><rect x="62.0" y="531.60" width="1.02" height="8.80" fill="#b19faf"/><rect x="63.0" y="531.60" width="1.02" height="8.80" fill="#a3a8bb"/><rect x="64.0" y="531.60" width="1.02" height="8.80" fill="#9eb1c6"/><rect x="65.0" y="531.60" width="1.02" height="8.80" fill="#a4c2d7"/><rect x="66.0" y="531.60" width="1.02" height="8.80" fill="#8bacc9"/><rect x="67.0" y="531.60" width="1.02" height="8.80" fill="#8393b2"/><rect x="68.0" y="531.60" width="1.02" height="8.80" fill="#ad94a4"/><rect x="69.0" y="531.60" width="1.02" height="8.80" fill="#b794a0"/><rect x="70.0" y="531.60" width="1.02" height="8.80" fill="#a1a8bd"/><rect x="71.0" y="531.60" width="1.02" height="8.80" fill="#b0c3d4"/><rect x="72.0" y="531.60" width="1.02" height="8.80" fill="#c3bfc8"/><rect x="73.0" y="531.60" width="1.02" height="8.80" fill="#9bafc6"/><rect x="74.0" y="531.60" width="1.02" height="8.80" fill="#98b7d0"/><rect x="75.0" y="531.60" width="1.02" height="8.80" fill="#97acc7"/><rect x="76.0" y="531.60" width="1.02" height="8.80" fill="#85a5c5"/><rect x="77.0" y="531.60" width="1.02" height="8.80" fill="#8089aa"/><rect x="78.0" y="531.60" width="1.02" height="8.80" fill="#9c91a8"/><rect x="79.0" y="531.60" width="1.02" height="8.80" fill="#a6b1c4"/><rect x="80.0" y="531.60" width="1.02" height="8.80" fill="#a3b1c4"/><rect x="81.0" y="531.60" width="1.02" height="8.80" fill="#94a3bd"/><rect x="82.0" y="531.60" width="1.02" height="8.80" fill="#bac0ce"/><rect x="83.0" y="531.60" width="1.02" height="8.80" fill="#b2c4d4"/><rect x="84.0" y="531.60" width="1.02" height="8.80" fill="#a7adc2"/><rect x="85.0" y="531.60" width="1.02" height="8.80" fill="#6193be"/><rect x="86.0" y="531.60" width="1.02" height="8.80" fill="#4f7cad"/><rect x="87.0" y="531.60" width="1.02" height="8.80" fill="#90839c"/><rect x="88.0" y="531.60" width="1.02" height="8.80" fill="#95a2bb"/><rect x="89.0" y="531.60" width="1.02" height="8.80" fill="#9faec5"/>
<rect x="92.4" y="382.00" width="0.62" height="9.30" fill="#799cbc"/><rect x="93.0" y="382.00" width="1.02" height="9.30" fill="#73a1c5"/><rect x="94.0" y="382.00" width="1.02" height="9.30" fill="#93aac3"/><rect x="95.0" y="382.00" width="1.02" height="9.30" fill="#aca4b4"/><rect x="96.0" y="382.00" width="1.02" height="9.30" fill="#a891a3"/><rect x="97.0" y="382.00" width="1.02" height="9.30" fill="#aaa4b5"/><rect x="98.0" y="382.00" width="1.02" height="9.30" fill="#a792a4"/><rect x="99.0" y="382.00" width="1.02" height="9.30" fill="#c3a9b1"/><rect x="100.0" y="382.00" width="1.02" height="9.30" fill="#c4b3ba"/><rect x="101.0" y="382.00" width="1.02" height="9.30" fill="#97adc5"/><rect x="102.0" y="382.00" width="1.02" height="9.30" fill="#acafc0"/><rect x="103.0" y="382.00" width="1.02" height="9.30" fill="#bbc1cd"/><rect x="104.0" y="382.00" width="1.02" height="9.30" fill="#b4cad9"/><rect x="105.0" y="382.00" width="1.02" height="9.30" fill="#adc6d8"/><rect x="106.0" y="382.00" width="1.02" height="9.30" fill="#afbece"/><rect x="107.0" y="382.00" width="1.02" height="9.30" fill="#b9b2be"/><rect x="108.0" y="382.00" width="1.02" height="9.30" fill="#b7adbc"/><rect x="109.0" y="382.00" width="1.02" height="9.30" fill="#b9c5d4"/><rect x="110.0" y="382.00" width="1.02" height="9.30" fill="#afc0d3"/><rect x="111.0" y="382.00" width="1.02" height="9.30" fill="#ccb4ba"/><rect x="112.0" y="382.00" width="1.02" height="9.30" fill="#b293a0"/><rect x="113.0" y="382.00" width="1.02" height="9.30" fill="#b89ea8"/><rect x="114.0" y="382.00" width="1.02" height="9.30" fill="#baacb8"/><rect x="115.0" y="382.00" width="1.02" height="9.30" fill="#a9b4c6"/><rect x="116.0" y="382.00" width="1.02" height="9.30" fill="#98bbd5"/><rect x="117.0" y="382.00" width="1.02" height="9.30" fill="#92b6d2"/><rect x="118.0" y="382.00" width="1.02" height="9.30" fill="#98a0b7"/><rect x="119.0" y="382.00" width="1.02" height="9.30" fill="#ba9ba7"/><rect x="120.0" y="382.00" width="1.02" height="9.30" fill="#b4a8b5"/><rect x="121.0" y="382.00" width="1.02" height="9.30" fill="#b5adba"/><rect x="122.0" y="382.00" width="1.02" height="9.30" fill="#9d94aa"/><rect x="123.0" y="382.00" width="1.02" height="9.30" fill="#8289a8"/><rect x="124.0" y="382.00" width="1.02" height="9.30" fill="#a9b0c3"/><rect x="125.0" y="382.00" width="1.02" height="9.30" fill="#c7c9d2"/><rect x="126.0" y="382.00" width="1.02" height="9.30" fill="#b0bdcd"/><rect x="127.0" y="382.00" width="1.02" height="9.30" fill="#8fb4cf"/><rect x="128.0" y="382.00" width="1.02" height="9.30" fill="#90b1cc"/><rect x="129.0" y="382.00" width="1.02" height="9.30" fill="#93b3cc"/><rect x="130.0" y="382.00" width="1.02" height="9.30" fill="#8b9bb6"/><rect x="131.0" y="382.00" width="1.02" height="9.30" fill="#938ea5"/><rect x="132.0" y="382.00" width="1.02" height="9.30" fill="#aba1b1"/><rect x="133.0" y="382.00" width="1.02" height="9.30" fill="#bdb5c1"/><rect x="134.0" y="382.00" width="1.02" height="9.30" fill="#b8b9c7"/><rect x="135.0" y="382.00" width="1.02" height="9.30" fill="#a3a8bd"/><rect x="136.0" y="382.00" width="1.02" height="9.30" fill="#9dacc3"/><rect x="137.0" y="382.00" width="1.02" height="9.30" fill="#95b4cd"/><rect x="138.0" y="382.00" width="1.02" height="9.30" fill="#91a5bf"/><rect x="139.0" y="382.00" width="1.02" height="9.30" fill="#7da1c4"/><rect x="140.0" y="382.00" width="1.02" height="9.30" fill="#7cb0d1"/><rect x="141.0" y="382.00" width="1.02" height="9.30" fill="#7bb2d3"/><rect x="142.0" y="382.00" width="1.02" height="9.30" fill="#79a6ca"/><rect x="143.0" y="382.00" width="1.02" height="9.30" fill="#9eb4cb"/><rect x="144.0" y="382.00" width="1.02" height="9.30" fill="#8da9c4"/><rect x="145.0" y="382.00" width="1.02" height="9.30" fill="#9aacc3"/><rect x="146.0" y="382.00" width="1.02" height="9.30" fill="#aea7b7"/><rect x="147.0" y="382.00" width="1.02" height="9.30" fill="#a78c9e"/><rect x="148.0" y="382.00" width="1.02" height="9.30" fill="#94a8c2"/><rect x="149.0" y="382.00" width="1.02" height="9.30" fill="#9cb2c9"/><rect x="150.0" y="382.00" width="1.02" height="9.30" fill="#b6bbc9"/><rect x="151.0" y="382.00" width="1.02" height="9.30" fill="#bcc2cf"/><rect x="152.0" y="382.00" width="1.02" height="9.30" fill="#c0b7c0"/><rect x="153.0" y="382.00" width="1.02" height="9.30" fill="#afbece"/><rect x="154.0" y="382.00" width="0.22" height="9.30" fill="#a3c4db"/>
<rect x="92.4" y="390.80" width="0.62" height="9.30" fill="#89a2bd"/><rect x="93.0" y="390.80" width="1.02" height="9.30" fill="#9093af"/><rect x="94.0" y="390.80" width="1.02" height="9.30" fill="#939fb9"/><rect x="95.0" y="390.80" width="1.02" height="9.30" fill="#a4b6ca"/><rect x="96.0" y="390.80" width="1.02" height="9.30" fill="#ab9fb0"/><rect x="97.0" y="390.80" width="1.02" height="9.30" fill="#d4bbbf"/><rect x="98.0" y="390.80" width="1.02" height="9.30" fill="#d6c1c4"/><rect x="99.0" y="390.80" width="1.02" height="9.30" fill="#c1bcc6"/><rect x="100.0" y="390.80" width="1.02" height="9.30" fill="#c9bac2"/><rect x="101.0" y="390.80" width="1.02" height="9.30" fill="#cdb1b8"/><rect x="102.0" y="390.80" width="1.02" height="9.30" fill="#cca7ae"/><rect x="103.0" y="390.80" width="1.02" height="9.30" fill="#cdb5bb"/><rect x="104.0" y="390.80" width="1.02" height="9.30" fill="#9ba6bd"/><rect x="105.0" y="390.80" width="1.02" height="9.30" fill="#89aac5"/><rect x="106.0" y="390.80" width="1.02" height="9.30" fill="#9b9fb4"/><rect x="107.0" y="390.80" width="1.02" height="9.30" fill="#929bb4"/><rect x="108.0" y="390.80" width="1.02" height="9.30" fill="#afa3b2"/><rect x="109.0" y="390.80" width="1.02" height="9.30" fill="#cfb1b6"/><rect x="110.0" y="390.80" width="1.02" height="9.30" fill="#c6ccd6"/><rect x="111.0" y="390.80" width="1.02" height="9.30" fill="#b1b9c8"/><rect x="112.0" y="390.80" width="1.02" height="9.30" fill="#b0a8b6"/><rect x="113.0" y="390.80" width="1.02" height="9.30" fill="#b8b9c6"/><rect x="114.0" y="390.80" width="1.02" height="9.30" fill="#bfa3ad"/><rect x="115.0" y="390.80" width="1.02" height="9.30" fill="#c7959b"/><rect x="116.0" y="390.80" width="1.02" height="9.30" fill="#b8a0ae"/><rect x="117.0" y="390.80" width="1.02" height="9.30" fill="#b4b4c3"/><rect x="118.0" y="390.80" width="1.02" height="9.30" fill="#bfb8c3"/><rect x="119.0" y="390.80" width="1.02" height="9.30" fill="#cbb5bb"/><rect x="120.0" y="390.80" width="1.02" height="9.30" fill="#c4a9b2"/><rect x="121.0" y="390.80" width="1.02" height="9.30" fill="#9b97ae"/><rect x="122.0" y="390.80" width="1.02" height="9.30" fill="#94a9c2"/><rect x="123.0" y="390.80" width="1.02" height="9.30" fill="#8ea7c3"/><rect x="124.0" y="390.80" width="1.02" height="9.30" fill="#adafc1"/><rect x="125.0" y="390.80" width="1.02" height="9.30" fill="#c0b2bf"/><rect x="126.0" y="390.80" width="1.02" height="9.30" fill="#a3abbf"/><rect x="127.0" y="390.80" width="1.02" height="9.30" fill="#a6a7b9"/><rect x="128.0" y="390.80" width="1.02" height="9.30" fill="#d2b8bc"/><rect x="129.0" y="390.80" width="1.02" height="9.30" fill="#ccc9d0"/><rect x="130.0" y="390.80" width="1.02" height="9.30" fill="#cfd5dd"/><rect x="131.0" y="390.80" width="1.02" height="9.30" fill="#e6c0bd"/><rect x="132.0" y="390.80" width="1.02" height="9.30" fill="#e19894"/><rect x="133.0" y="390.80" width="1.02" height="9.30" fill="#cb8d91"/><rect x="134.0" y="390.80" width="1.02" height="9.30" fill="#bda4af"/><rect x="135.0" y="390.80" width="1.02" height="9.30" fill="#a6adc2"/><rect x="136.0" y="390.80" width="1.02" height="9.30" fill="#a7a8ba"/><rect x="137.0" y="390.80" width="1.02" height="9.30" fill="#cbc3ca"/><rect x="138.0" y="390.80" width="1.02" height="9.30" fill="#ccbdc3"/><rect x="139.0" y="390.80" width="1.02" height="9.30" fill="#a294a9"/><rect x="140.0" y="390.80" width="1.02" height="9.30" fill="#b6919e"/><rect x="141.0" y="390.80" width="1.02" height="9.30" fill="#baa8b6"/><rect x="142.0" y="390.80" width="1.02" height="9.30" fill="#b5b2c1"/><rect x="143.0" y="390.80" width="1.02" height="9.30" fill="#9f90a6"/><rect x="144.0" y="390.80" width="1.02" height="9.30" fill="#93a0ba"/><rect x="145.0" y="390.80" width="1.02" height="9.30" fill="#9ebed5"/><rect x="146.0" y="390.80" width="1.02" height="9.30" fill="#b3b4c3"/><rect x="147.0" y="390.80" width="1.02" height="9.30" fill="#c38f97"/><rect x="148.0" y="390.80" width="1.02" height="9.30" fill="#9d8ea4"/><rect x="149.0" y="390.80" width="1.02" height="9.30" fill="#a09db0"/><rect x="150.0" y="390.80" width="1.02" height="9.30" fill="#b7a7b3"/><rect x="151.0" y="390.80" width="1.02" height="9.30" fill="#9199b1"/><rect x="152.0" y="390.80" width="1.02" height="9.30" fill="#93849b"/><rect x="153.0" y="390.80" width="1.02" height="9.30" fill="#bd9da7"/><rect x="154.0" y="390.80" width="0.22" height="9.30" fill="#bc939f"/>
<rect x="92.4" y="399.60" width="0.62" height="9.30" fill="#9290ad"/><rect x="93.0" y="399.60" width="1.02" height="9.30" fill="#9f9fb6"/><rect x="94.0" y="399.60" width="1.02" height="9.30" fill="#b6bfcd"/><rect x="95.0" y="399.60" width="1.02" height="9.30" fill="#a7bed1"/><rect x="96.0" y="399.60" width="1.02" height="9.30" fill="#9b99ae"/><rect x="97.0" y="399.60" width="1.02" height="9.30" fill="#b2a4b4"/><rect x="98.0" y="399.60" width="1.02" height="9.30" fill="#cfbfc6"/><rect x="99.0" y="399.60" width="1.02" height="9.30" fill="#cd989d"/><rect x="100.0" y="399.60" width="1.02" height="9.30" fill="#988ca5"/><rect x="101.0" y="399.60" width="1.02" height="9.30" fill="#7d99bb"/><rect x="102.0" y="399.60" width="1.02" height="9.30" fill="#9ca7be"/><rect x="103.0" y="399.60" width="1.02" height="9.30" fill="#b8b7c5"/><rect x="104.0" y="399.60" width="1.02" height="9.30" fill="#c9d4de"/><rect x="105.0" y="399.60" width="1.02" height="9.30" fill="#c4cdd8"/><rect x="106.0" y="399.60" width="1.02" height="9.30" fill="#afadbc"/><rect x="107.0" y="399.60" width="1.02" height="9.30" fill="#b3abb8"/><rect x="108.0" y="399.60" width="1.02" height="9.30" fill="#c1b8c1"/><rect x="109.0" y="399.60" width="1.02" height="9.30" fill="#c9c4cd"/><rect x="110.0" y="399.60" width="1.02" height="9.30" fill="#d5bcc1"/><rect x="111.0" y="399.60" width="1.02" height="9.30" fill="#cfc5cd"/><rect x="112.0" y="399.60" width="1.02" height="9.30" fill="#cdb4bb"/><rect x="113.0" y="399.60" width="1.02" height="9.30" fill="#c2afba"/><rect x="114.0" y="399.60" width="1.02" height="9.30" fill="#a69aaf"/><rect x="115.0" y="399.60" width="1.02" height="9.30" fill="#caa5ad"/><rect x="116.0" y="399.60" width="1.02" height="9.30" fill="#d6a6a9"/><rect x="117.0" y="399.60" width="1.02" height="9.30" fill="#beadb7"/><rect x="118.0" y="399.60" width="1.02" height="9.30" fill="#c0a5ad"/><rect x="119.0" y="399.60" width="1.02" height="9.30" fill="#c2aab2"/><rect x="120.0" y="399.60" width="1.02" height="9.30" fill="#c1b8c1"/><rect x="121.0" y="399.60" width="1.02" height="9.30" fill="#bbc2cf"/><rect x="122.0" y="399.60" width="1.02" height="9.30" fill="#ada8b8"/><rect x="123.0" y="399.60" width="1.02" height="9.30" fill="#a7a1b2"/><rect x="124.0" y="399.60" width="1.02" height="9.30" fill="#ad9dad"/><rect x="125.0" y="399.60" width="1.02" height="9.30" fill="#b4a9b9"/><rect x="126.0" y="399.60" width="1.02" height="9.30" fill="#bfb3bf"/><rect x="127.0" y="399.60" width="1.02" height="9.30" fill="#bca3b0"/><rect x="128.0" y="399.60" width="1.02" height="9.30" fill="#b1b7c6"/><rect x="129.0" y="399.60" width="1.02" height="9.30" fill="#bfc4ce"/><rect x="130.0" y="399.60" width="1.02" height="9.30" fill="#ccc4ca"/><rect x="131.0" y="399.60" width="1.02" height="9.30" fill="#bdbac5"/><rect x="132.0" y="399.60" width="1.02" height="9.30" fill="#bdbeca"/><rect x="133.0" y="399.60" width="1.02" height="9.30" fill="#d1aaae"/><rect x="134.0" y="399.60" width="1.02" height="9.30" fill="#c09097"/><rect x="135.0" y="399.60" width="1.02" height="9.30" fill="#a18195"/><rect x="136.0" y="399.60" width="1.02" height="9.30" fill="#a196ad"/><rect x="137.0" y="399.60" width="1.02" height="9.30" fill="#b5b2c1"/><rect x="138.0" y="399.60" width="1.02" height="9.30" fill="#a4b1c3"/><rect x="139.0" y="399.60" width="1.02" height="9.30" fill="#a5b9cc"/><rect x="140.0" y="399.60" width="1.02" height="9.30" fill="#b1c3d5"/><rect x="141.0" y="399.60" width="1.02" height="9.30" fill="#c2c6d1"/><rect x="142.0" y="399.60" width="1.02" height="9.30" fill="#cac6cf"/><rect x="143.0" y="399.60" width="1.02" height="9.30" fill="#cabdc7"/><rect x="144.0" y="399.60" width="1.02" height="9.30" fill="#bac0cd"/><rect x="145.0" y="399.60" width="1.02" height="9.30" fill="#b4becc"/><rect x="146.0" y="399.60" width="1.02" height="9.30" fill="#c1c0ca"/><rect x="147.0" y="399.60" width="1.02" height="9.30" fill="#c7c0c8"/><rect x="148.0" y="399.60" width="1.02" height="9.30" fill="#c6c1c8"/><rect x="149.0" y="399.60" width="1.02" height="9.30" fill="#c8cbd3"/><rect x="150.0" y="399.60" width="1.02" height="9.30" fill="#afbac8"/><rect x="151.0" y="399.60" width="1.02" height="9.30" fill="#c2bcc3"/><rect x="152.0" y="399.60" width="1.02" height="9.30" fill="#abb0c1"/><rect x="153.0" y="399.60" width="1.02" height="9.30" fill="#8d9ab5"/><rect x="154.0" y="399.60" width="0.22" height="9.30" fill="#999db4"/>
<rect x="92.4" y="408.40" width="0.62" height="9.30" fill="#bda4ae"/><rect x="93.0" y="408.40" width="1.02" height="9.30" fill="#b5a8b5"/><rect x="94.0" y="408.40" width="1.02" height="9.30" fill="#a3a9be"/><rect x="95.0" y="408.40" width="1.02" height="9.30" fill="#b3cadb"/><rect x="96.0" y="408.40" width="1.02" height="9.30" fill="#afc6d8"/><rect x="97.0" y="408.40" width="1.02" height="9.30" fill="#b4b2c3"/><rect x="98.0" y="408.40" width="1.02" height="9.30" fill="#bcbbc8"/><rect x="99.0" y="408.40" width="1.02" height="9.30" fill="#c5a5ad"/><rect x="100.0" y="408.40" width="1.02" height="9.30" fill="#d6aaab"/><rect x="101.0" y="408.40" width="1.02" height="9.30" fill="#cfbabf"/><rect x="102.0" y="408.40" width="1.02" height="9.30" fill="#c9cbd4"/><rect x="103.0" y="408.40" width="1.02" height="9.30" fill="#c2c3cc"/><rect x="104.0" y="408.40" width="1.02" height="9.30" fill="#aabbcc"/><rect x="105.0" y="408.40" width="1.02" height="9.30" fill="#b3b3c2"/><rect x="106.0" y="408.40" width="1.02" height="9.30" fill="#bcbac6"/><rect x="107.0" y="408.40" width="1.02" height="9.30" fill="#b1b5c3"/><rect x="108.0" y="408.40" width="1.02" height="9.30" fill="#bcb3be"/><rect x="109.0" y="408.40" width="1.02" height="9.30" fill="#b5a6b3"/><rect x="110.0" y="408.40" width="1.02" height="9.30" fill="#b6abb7"/><rect x="111.0" y="408.40" width="1.02" height="9.30" fill="#beb1bb"/><rect x="112.0" y="408.40" width="1.02" height="9.30" fill="#afc0d0"/><rect x="113.0" y="408.40" width="1.02" height="9.30" fill="#a5c2d4"/><rect x="114.0" y="408.40" width="1.02" height="9.30" fill="#b5b0bb"/><rect x="115.0" y="408.40" width="1.02" height="9.30" fill="#afa6b3"/><rect x="116.0" y="408.40" width="1.02" height="9.30" fill="#9eb4c8"/><rect x="117.0" y="408.40" width="1.02" height="9.30" fill="#90abc4"/><rect x="118.0" y="408.40" width="1.02" height="9.30" fill="#8a97b4"/><rect x="119.0" y="408.40" width="1.02" height="9.30" fill="#919ab4"/><rect x="120.0" y="408.40" width="1.02" height="9.30" fill="#9989a0"/><rect x="121.0" y="408.40" width="1.02" height="9.30" fill="#ab96a8"/><rect x="122.0" y="408.40" width="1.02" height="9.30" fill="#aba9ba"/><rect x="123.0" y="408.40" width="1.02" height="9.30" fill="#c8b2b9"/><rect x="124.0" y="408.40" width="1.02" height="9.30" fill="#bfb4bd"/><rect x="125.0" y="408.40" width="1.02" height="9.30" fill="#c5ced8"/><rect x="126.0" y="408.40" width="1.02" height="9.30" fill="#d0dce5"/><rect x="127.0" y="408.40" width="1.02" height="9.30" fill="#bccad7"/><rect x="128.0" y="408.40" width="1.02" height="9.30" fill="#9cbfd6"/><rect x="129.0" y="408.40" width="1.02" height="9.30" fill="#caccd5"/><rect x="130.0" y="408.40" width="1.02" height="9.30" fill="#d2b5bb"/><rect x="131.0" y="408.40" width="1.02" height="9.30" fill="#b7a0ad"/><rect x="132.0" y="408.40" width="1.02" height="9.30" fill="#b2a8b6"/><rect x="133.0" y="408.40" width="1.02" height="9.30" fill="#9db3c8"/><rect x="134.0" y="408.40" width="1.02" height="9.30" fill="#a3bbcf"/><rect x="135.0" y="408.40" width="1.02" height="9.30" fill="#9cb3ca"/><rect x="136.0" y="408.40" width="1.02" height="9.30" fill="#afabb9"/><rect x="137.0" y="408.40" width="1.02" height="9.30" fill="#a4bfd2"/><rect x="138.0" y="408.40" width="1.02" height="9.30" fill="#96bdd5"/><rect x="139.0" y="408.40" width="1.02" height="9.30" fill="#abb9cb"/><rect x="140.0" y="408.40" width="1.02" height="9.30" fill="#a0b7cc"/><rect x="141.0" y="408.40" width="1.02" height="9.30" fill="#87a1bf"/><rect x="142.0" y="408.40" width="1.02" height="9.30" fill="#a1bacf"/><rect x="143.0" y="408.40" width="1.02" height="9.30" fill="#c5c3cb"/><rect x="144.0" y="408.40" width="1.02" height="9.30" fill="#d6b1b2"/><rect x="145.0" y="408.40" width="1.02" height="9.30" fill="#c2b2bd"/><rect x="146.0" y="408.40" width="1.02" height="9.30" fill="#bec8d6"/><rect x="147.0" y="408.40" width="1.02" height="9.30" fill="#95abc4"/><rect x="148.0" y="408.40" width="1.02" height="9.30" fill="#7fa4c3"/><rect x="149.0" y="408.40" width="1.02" height="9.30" fill="#98a5bb"/><rect x="150.0" y="408.40" width="1.02" height="9.30" fill="#a6a8ba"/><rect x="151.0" y="408.40" width="1.02" height="9.30" fill="#b493a2"/><rect x="152.0" y="408.40" width="1.02" height="9.30" fill="#ccadb3"/><rect x="153.0" y="408.40" width="1.02" height="9.30" fill="#bac0ce"/><rect x="154.0" y="408.40" width="0.22" height="9.30" fill="#c1b1bc"/>
<rect x="92.4" y="417.20" width="0.62" height="9.30" fill="#dddadd"/><rect x="93.0" y="417.20" width="1.02" height="9.30" fill="#cbd8e1"/><rect x="94.0" y="417.20" width="1.02" height="9.30" fill="#d5dbe2"/><rect x="95.0" y="417.20" width="1.02" height="9.30" fill="#c7cfd8"/><rect x="96.0" y="417.20" width="1.02" height="9.30" fill="#c7d9e4"/><rect x="97.0" y="417.20" width="1.02" height="9.30" fill="#c7dbe6"/><rect x="98.0" y="417.20" width="1.02" height="9.30" fill="#b9d6e5"/><rect x="99.0" y="417.20" width="1.02" height="9.30" fill="#c4dbe8"/><rect x="100.0" y="417.20" width="1.02" height="9.30" fill="#c8d9e4"/><rect x="101.0" y="417.20" width="1.02" height="9.30" fill="#c6d7e2"/><rect x="102.0" y="417.20" width="1.02" height="9.30" fill="#bdd1de"/><rect x="103.0" y="417.20" width="1.02" height="9.30" fill="#b1d1e1"/><rect x="104.0" y="417.20" width="1.02" height="9.30" fill="#c9dce7"/><rect x="105.0" y="417.20" width="1.02" height="9.30" fill="#d3d9e0"/><rect x="106.0" y="417.20" width="1.02" height="9.30" fill="#d6d7dd"/><rect x="107.0" y="417.20" width="1.02" height="9.30" fill="#cbd2db"/><rect x="108.0" y="417.20" width="1.02" height="9.30" fill="#c4d6e2"/><rect x="109.0" y="417.20" width="1.02" height="9.30" fill="#accee1"/><rect x="110.0" y="417.20" width="1.02" height="9.30" fill="#b0cedf"/><rect x="111.0" y="417.20" width="1.02" height="9.30" fill="#bbc9d5"/><rect x="112.0" y="417.20" width="1.02" height="9.30" fill="#cad6e0"/><rect x="113.0" y="417.20" width="1.02" height="9.30" fill="#c9dde8"/><rect x="114.0" y="417.20" width="1.02" height="9.30" fill="#bad5e3"/><rect x="115.0" y="417.20" width="1.02" height="9.30" fill="#ccd7df"/><rect x="116.0" y="417.20" width="1.02" height="9.30" fill="#d1dce4"/><rect x="117.0" y="417.20" width="1.02" height="9.30" fill="#ccdee8"/><rect x="118.0" y="417.20" width="1.02" height="9.30" fill="#c6d9e4"/><rect x="119.0" y="417.20" width="1.02" height="9.30" fill="#d1dbe3"/><rect x="120.0" y="417.20" width="1.02" height="9.30" fill="#d5dbe1"/><rect x="121.0" y="417.20" width="1.02" height="9.30" fill="#d1d5dc"/><rect x="122.0" y="417.20" width="1.02" height="9.30" fill="#b8cfdd"/><rect x="123.0" y="417.20" width="1.02" height="9.30" fill="#c2cfda"/><rect x="124.0" y="417.20" width="1.02" height="9.30" fill="#ced8e0"/><rect x="125.0" y="417.20" width="1.02" height="9.30" fill="#dbe1e6"/><rect x="126.0" y="417.20" width="1.02" height="9.30" fill="#e2dcde"/><rect x="127.0" y="417.20" width="1.02" height="9.30" fill="#d8dce1"/><rect x="128.0" y="417.20" width="1.02" height="9.30" fill="#d5dee5"/><rect x="129.0" y="417.20" width="1.02" height="9.30" fill="#d3d3d9"/><rect x="130.0" y="417.20" width="1.02" height="9.30" fill="#d5d7dd"/><rect x="131.0" y="417.20" width="1.02" height="9.30" fill="#cfdae3"/><rect x="132.0" y="417.20" width="1.02" height="9.30" fill="#cdd9e3"/><rect x="133.0" y="417.20" width="1.02" height="9.30" fill="#c9d7e1"/><rect x="134.0" y="417.20" width="1.02" height="9.30" fill="#ddd7da"/><rect x="135.0" y="417.20" width="1.02" height="9.30" fill="#d3dbe2"/><rect x="136.0" y="417.20" width="1.02" height="9.30" fill="#dcdbe0"/><rect x="137.0" y="417.20" width="1.02" height="9.30" fill="#e1dfe2"/><rect x="138.0" y="417.20" width="1.02" height="9.30" fill="#d4e2ea"/><rect x="139.0" y="417.20" width="1.02" height="9.30" fill="#c6d9e5"/><rect x="140.0" y="417.20" width="1.02" height="9.30" fill="#c9d3dc"/><rect x="141.0" y="417.20" width="1.02" height="9.30" fill="#d6dfe6"/><rect x="142.0" y="417.20" width="1.02" height="9.30" fill="#d1dbe3"/><rect x="143.0" y="417.20" width="1.02" height="9.30" fill="#d1dce5"/><rect x="144.0" y="417.20" width="1.02" height="9.30" fill="#dbe0e5"/><rect x="145.0" y="417.20" width="1.02" height="9.30" fill="#d8dce1"/><rect x="146.0" y="417.20" width="1.02" height="9.30" fill="#e0dde0"/><rect x="147.0" y="417.20" width="1.02" height="9.30" fill="#e2e3e6"/><rect x="148.0" y="417.20" width="1.02" height="9.30" fill="#cadbe6"/><rect x="149.0" y="417.20" width="1.02" height="9.30" fill="#bcd3e1"/><rect x="150.0" y="417.20" width="1.02" height="9.30" fill="#c9dae5"/><rect x="151.0" y="417.20" width="1.02" height="9.30" fill="#c8dee9"/><rect x="152.0" y="417.20" width="1.02" height="9.30" fill="#b6d6e6"/><rect x="153.0" y="417.20" width="1.02" height="9.30" fill="#a7c9dc"/><rect x="154.0" y="417.20" width="0.22" height="9.30" fill="#d2cdd2"/>
<rect x="92.4" y="426.00" width="0.62" height="9.30" fill="#afbbcb"/><rect x="93.0" y="426.00" width="1.02" height="9.30" fill="#9dafc8"/><rect x="94.0" y="426.00" width="1.02" height="9.30" fill="#a8bed4"/><rect x="95.0" y="426.00" width="1.02" height="9.30" fill="#b9b7c4"/><rect x="96.0" y="426.00" width="1.02" height="9.30" fill="#c69ca5"/><rect x="97.0" y="426.00" width="1.02" height="9.30" fill="#b6afbf"/><rect x="98.0" y="426.00" width="1.02" height="9.30" fill="#b6a6b5"/><rect x="99.0" y="426.00" width="1.02" height="9.30" fill="#83a4c3"/><rect x="100.0" y="426.00" width="1.02" height="9.30" fill="#aec5d6"/><rect x="101.0" y="426.00" width="1.02" height="9.30" fill="#b8b9c5"/><rect x="102.0" y="426.00" width="1.02" height="9.30" fill="#ada0b0"/><rect x="103.0" y="426.00" width="1.02" height="9.30" fill="#cda4a8"/><rect x="104.0" y="426.00" width="1.02" height="9.30" fill="#caafb5"/><rect x="105.0" y="426.00" width="1.02" height="9.30" fill="#cebcc3"/><rect x="106.0" y="426.00" width="1.02" height="9.30" fill="#d6b5b9"/><rect x="107.0" y="426.00" width="1.02" height="9.30" fill="#d8c0c3"/><rect x="108.0" y="426.00" width="1.02" height="9.30" fill="#c2c6d2"/><rect x="109.0" y="426.00" width="1.02" height="9.30" fill="#7b9abe"/><rect x="110.0" y="426.00" width="1.02" height="9.30" fill="#9691aa"/><rect x="111.0" y="426.00" width="1.02" height="9.30" fill="#b4a7b6"/><rect x="112.0" y="426.00" width="1.02" height="9.30" fill="#b6b2c0"/><rect x="113.0" y="426.00" width="1.02" height="9.30" fill="#bbaab8"/><rect x="114.0" y="426.00" width="1.02" height="9.30" fill="#bfa1ad"/><rect x="115.0" y="426.00" width="1.02" height="9.30" fill="#cd9da4"/><rect x="116.0" y="426.00" width="1.02" height="9.30" fill="#b38696"/><rect x="117.0" y="426.00" width="1.02" height="9.30" fill="#ad9faf"/><rect x="118.0" y="426.00" width="1.02" height="9.30" fill="#c0c1cc"/><rect x="119.0" y="426.00" width="1.02" height="9.30" fill="#c9c6cf"/><rect x="120.0" y="426.00" width="1.02" height="9.30" fill="#dcb7bb"/><rect x="121.0" y="426.00" width="1.02" height="9.30" fill="#dbafb2"/><rect x="122.0" y="426.00" width="1.02" height="9.30" fill="#c0a8b2"/><rect x="123.0" y="426.00" width="1.02" height="9.30" fill="#bd8d98"/><rect x="124.0" y="426.00" width="1.02" height="9.30" fill="#ac8998"/><rect x="125.0" y="426.00" width="1.02" height="9.30" fill="#baa4ae"/><rect x="126.0" y="426.00" width="1.02" height="9.30" fill="#c9bbc1"/><rect x="127.0" y="426.00" width="1.02" height="9.30" fill="#cfc6cc"/><rect x="128.0" y="426.00" width="1.02" height="9.30" fill="#a8b7ca"/><rect x="129.0" y="426.00" width="1.02" height="9.30" fill="#8c9db9"/><rect x="130.0" y="426.00" width="1.02" height="9.30" fill="#94a7c0"/><rect x="131.0" y="426.00" width="1.02" height="9.30" fill="#a4c3d7"/><rect x="132.0" y="426.00" width="1.02" height="9.30" fill="#c6cfd9"/><rect x="133.0" y="426.00" width="1.02" height="9.30" fill="#c9bfc5"/><rect x="134.0" y="426.00" width="1.02" height="9.30" fill="#afb6c6"/><rect x="135.0" y="426.00" width="1.02" height="9.30" fill="#9cb9d1"/><rect x="136.0" y="426.00" width="1.02" height="9.30" fill="#c9cbd4"/><rect x="137.0" y="426.00" width="1.02" height="9.30" fill="#cbbfc5"/><rect x="138.0" y="426.00" width="1.02" height="9.30" fill="#b9a3ae"/><rect x="139.0" y="426.00" width="1.02" height="9.30" fill="#abb3c4"/><rect x="140.0" y="426.00" width="1.02" height="9.30" fill="#b6cddc"/><rect x="141.0" y="426.00" width="1.02" height="9.30" fill="#ddcfd3"/><rect x="142.0" y="426.00" width="1.02" height="9.30" fill="#d1a8af"/><rect x="143.0" y="426.00" width="1.02" height="9.30" fill="#b2a9b9"/><rect x="144.0" y="426.00" width="1.02" height="9.30" fill="#d5cfd5"/><rect x="145.0" y="426.00" width="1.02" height="9.30" fill="#d1c0c7"/><rect x="146.0" y="426.00" width="1.02" height="9.30" fill="#bdacb9"/><rect x="147.0" y="426.00" width="1.02" height="9.30" fill="#debcbf"/><rect x="148.0" y="426.00" width="1.02" height="9.30" fill="#d9c2c5"/><rect x="149.0" y="426.00" width="1.02" height="9.30" fill="#a8b0c1"/><rect x="150.0" y="426.00" width="1.02" height="9.30" fill="#98aac0"/><rect x="151.0" y="426.00" width="1.02" height="9.30" fill="#8dabc6"/><rect x="152.0" y="426.00" width="1.02" height="9.30" fill="#87adcc"/><rect x="153.0" y="426.00" width="1.02" height="9.30" fill="#8699b9"/><rect x="154.0" y="426.00" width="0.22" height="9.30" fill="#a5a3b8"/>
<rect x="92.4" y="434.80" width="0.62" height="9.30" fill="#c5c5ce"/><rect x="93.0" y="434.80" width="1.02" height="9.30" fill="#b4bfcd"/><rect x="94.0" y="434.80" width="1.02" height="9.30" fill="#a3b9cd"/><rect x="95.0" y="434.80" width="1.02" height="9.30" fill="#a4bace"/><rect x="96.0" y="434.80" width="1.02" height="9.30" fill="#94bbd5"/><rect x="97.0" y="434.80" width="1.02" height="9.30" fill="#7baed1"/><rect x="98.0" y="434.80" width="1.02" height="9.30" fill="#8fb2ce"/><rect x="99.0" y="434.80" width="1.02" height="9.30" fill="#adbacb"/><rect x="100.0" y="434.80" width="1.02" height="9.30" fill="#abbbcc"/><rect x="101.0" y="434.80" width="1.02" height="9.30" fill="#babbc7"/><rect x="102.0" y="434.80" width="1.02" height="9.30" fill="#c3bdc8"/><rect x="103.0" y="434.80" width="1.02" height="9.30" fill="#baadbb"/><rect x="104.0" y="434.80" width="1.02" height="9.30" fill="#b8a6b3"/><rect x="105.0" y="434.80" width="1.02" height="9.30" fill="#a5a9bd"/><rect x="106.0" y="434.80" width="1.02" height="9.30" fill="#acb1c1"/><rect x="107.0" y="434.80" width="1.02" height="9.30" fill="#b1a6b4"/><rect x="108.0" y="434.80" width="1.02" height="9.30" fill="#b6a3b1"/><rect x="109.0" y="434.80" width="1.02" height="9.30" fill="#b19eaf"/><rect x="110.0" y="434.80" width="1.02" height="9.30" fill="#ada1b1"/><rect x="111.0" y="434.80" width="1.02" height="9.30" fill="#a38ca0"/><rect x="112.0" y="434.80" width="1.02" height="9.30" fill="#a0a1b6"/><rect x="113.0" y="434.80" width="1.02" height="9.30" fill="#adadbd"/><rect x="114.0" y="434.80" width="1.02" height="9.30" fill="#b9b4c1"/><rect x="115.0" y="434.80" width="1.02" height="9.30" fill="#b797a4"/><rect x="116.0" y="434.80" width="1.02" height="9.30" fill="#91a6c0"/><rect x="117.0" y="434.80" width="1.02" height="9.30" fill="#adbecf"/><rect x="118.0" y="434.80" width="1.02" height="9.30" fill="#b6b1bd"/><rect x="119.0" y="434.80" width="1.02" height="9.30" fill="#a799aa"/><rect x="120.0" y="434.80" width="1.02" height="9.30" fill="#b9abb7"/><rect x="121.0" y="434.80" width="1.02" height="9.30" fill="#bfbdc8"/><rect x="122.0" y="434.80" width="1.02" height="9.30" fill="#a4b2c6"/><rect x="123.0" y="434.80" width="1.02" height="9.30" fill="#91b5d0"/><rect x="124.0" y="434.80" width="1.02" height="9.30" fill="#85a5c5"/><rect x="125.0" y="434.80" width="1.02" height="9.30" fill="#9198b3"/><rect x="126.0" y="434.80" width="1.02" height="9.30" fill="#a69eb4"/><rect x="127.0" y="434.80" width="1.02" height="9.30" fill="#a1bdd2"/><rect x="128.0" y="434.80" width="1.02" height="9.30" fill="#9ebcd2"/><rect x="129.0" y="434.80" width="1.02" height="9.30" fill="#9ca4b9"/><rect x="130.0" y="434.80" width="1.02" height="9.30" fill="#8491af"/><rect x="131.0" y="434.80" width="1.02" height="9.30" fill="#6391bc"/><rect x="132.0" y="434.80" width="1.02" height="9.30" fill="#85a5c3"/><rect x="133.0" y="434.80" width="1.02" height="9.30" fill="#94a5be"/><rect x="134.0" y="434.80" width="1.02" height="9.30" fill="#87a9c6"/><rect x="135.0" y="434.80" width="1.02" height="9.30" fill="#a6adc0"/><rect x="136.0" y="434.80" width="1.02" height="9.30" fill="#c3b5bf"/><rect x="137.0" y="434.80" width="1.02" height="9.30" fill="#bbbac7"/><rect x="138.0" y="434.80" width="1.02" height="9.30" fill="#7ea3c4"/><rect x="139.0" y="434.80" width="1.02" height="9.30" fill="#7c96b8"/><rect x="140.0" y="434.80" width="1.02" height="9.30" fill="#9baabf"/><rect x="141.0" y="434.80" width="1.02" height="9.30" fill="#babdc9"/><rect x="142.0" y="434.80" width="1.02" height="9.30" fill="#aec0d1"/><rect x="143.0" y="434.80" width="1.02" height="9.30" fill="#a7c3d6"/><rect x="144.0" y="434.80" width="1.02" height="9.30" fill="#bcc8d5"/><rect x="145.0" y="434.80" width="1.02" height="9.30" fill="#b4becc"/><rect x="146.0" y="434.80" width="1.02" height="9.30" fill="#a2acc0"/><rect x="147.0" y="434.80" width="1.02" height="9.30" fill="#a9b2c5"/><rect x="148.0" y="434.80" width="1.02" height="9.30" fill="#c0c1ce"/><rect x="149.0" y="434.80" width="1.02" height="9.30" fill="#d3babd"/><rect x="150.0" y="434.80" width="1.02" height="9.30" fill="#b7b5c1"/><rect x="151.0" y="434.80" width="1.02" height="9.30" fill="#c2bec9"/><rect x="152.0" y="434.80" width="1.02" height="9.30" fill="#aeafc0"/><rect x="153.0" y="434.80" width="1.02" height="9.30" fill="#93aac2"/><rect x="154.0" y="434.80" width="0.22" height="9.30" fill="#8fa7c0"/>
<rect x="92.4" y="443.60" width="0.62" height="9.30" fill="#95bed7"/><rect x="93.0" y="443.60" width="1.02" height="9.30" fill="#9baec5"/><rect x="94.0" y="443.60" width="1.02" height="9.30" fill="#879ebd"/><rect x="95.0" y="443.60" width="1.02" height="9.30" fill="#8eb2ce"/><rect x="96.0" y="443.60" width="1.02" height="9.30" fill="#a7bcd0"/><rect x="97.0" y="443.60" width="1.02" height="9.30" fill="#a2b2c8"/><rect x="98.0" y="443.60" width="1.02" height="9.30" fill="#97b3cc"/><rect x="99.0" y="443.60" width="1.02" height="9.30" fill="#b7a8b4"/><rect x="100.0" y="443.60" width="1.02" height="9.30" fill="#dfa7a4"/><rect x="101.0" y="443.60" width="1.02" height="9.30" fill="#d6babd"/><rect x="102.0" y="443.60" width="1.02" height="9.30" fill="#a1afc4"/><rect x="103.0" y="443.60" width="1.02" height="9.30" fill="#91b8d2"/><rect x="104.0" y="443.60" width="1.02" height="9.30" fill="#afc6d7"/><rect x="105.0" y="443.60" width="1.02" height="9.30" fill="#abc2d4"/><rect x="106.0" y="443.60" width="1.02" height="9.30" fill="#81a8c8"/><rect x="107.0" y="443.60" width="1.02" height="9.30" fill="#97a3bb"/><rect x="108.0" y="443.60" width="1.02" height="9.30" fill="#a9aec0"/><rect x="109.0" y="443.60" width="1.02" height="9.30" fill="#8d95b0"/><rect x="110.0" y="443.60" width="1.02" height="9.30" fill="#94849c"/><rect x="111.0" y="443.60" width="1.02" height="9.30" fill="#b5a2b0"/><rect x="112.0" y="443.60" width="1.02" height="9.30" fill="#93b0ca"/><rect x="113.0" y="443.60" width="1.02" height="9.30" fill="#aac1d5"/><rect x="114.0" y="443.60" width="1.02" height="9.30" fill="#c1c2cc"/><rect x="115.0" y="443.60" width="1.02" height="9.30" fill="#b2afbc"/><rect x="116.0" y="443.60" width="1.02" height="9.30" fill="#b4bbca"/><rect x="117.0" y="443.60" width="1.02" height="9.30" fill="#bcc9d6"/><rect x="118.0" y="443.60" width="1.02" height="9.30" fill="#bed3e1"/><rect x="119.0" y="443.60" width="1.02" height="9.30" fill="#acbfd1"/><rect x="120.0" y="443.60" width="1.02" height="9.30" fill="#b6aab5"/><rect x="121.0" y="443.60" width="1.02" height="9.30" fill="#d3a7a9"/><rect x="122.0" y="443.60" width="1.02" height="9.30" fill="#dababd"/><rect x="123.0" y="443.60" width="1.02" height="9.30" fill="#b2b2c2"/><rect x="124.0" y="443.60" width="1.02" height="9.30" fill="#a5b6c8"/><rect x="125.0" y="443.60" width="1.02" height="9.30" fill="#aec1d0"/><rect x="126.0" y="443.60" width="1.02" height="9.30" fill="#8eb7d1"/><rect x="127.0" y="443.60" width="1.02" height="9.30" fill="#99bad0"/><rect x="128.0" y="443.60" width="1.02" height="9.30" fill="#bdc8d6"/><rect x="129.0" y="443.60" width="1.02" height="9.30" fill="#bba5b3"/><rect x="130.0" y="443.60" width="1.02" height="9.30" fill="#a99baf"/><rect x="131.0" y="443.60" width="1.02" height="9.30" fill="#8aaccb"/><rect x="132.0" y="443.60" width="1.02" height="9.30" fill="#93b5d0"/><rect x="133.0" y="443.60" width="1.02" height="9.30" fill="#bcb8c5"/><rect x="134.0" y="443.60" width="1.02" height="9.30" fill="#cabec5"/><rect x="135.0" y="443.60" width="1.02" height="9.30" fill="#a1adc2"/><rect x="136.0" y="443.60" width="1.02" height="9.30" fill="#9aa7bf"/><rect x="137.0" y="443.60" width="1.02" height="9.30" fill="#aea2b2"/><rect x="138.0" y="443.60" width="1.02" height="9.30" fill="#b3b1bf"/><rect x="139.0" y="443.60" width="1.02" height="9.30" fill="#a0c2d7"/><rect x="140.0" y="443.60" width="1.02" height="9.30" fill="#9ec0d7"/><rect x="141.0" y="443.60" width="1.02" height="9.30" fill="#aaaabb"/><rect x="142.0" y="443.60" width="1.02" height="9.30" fill="#9896ab"/><rect x="143.0" y="443.60" width="1.02" height="9.30" fill="#85a3be"/><rect x="144.0" y="443.60" width="1.02" height="9.30" fill="#a1a8ba"/><rect x="145.0" y="443.60" width="1.02" height="9.30" fill="#a6b5c9"/><rect x="146.0" y="443.60" width="1.02" height="9.30" fill="#a3bed5"/><rect x="147.0" y="443.60" width="1.02" height="9.30" fill="#a7c5dc"/><rect x="148.0" y="443.60" width="1.02" height="9.30" fill="#abc8dc"/><rect x="149.0" y="443.60" width="1.02" height="9.30" fill="#a6afc3"/><rect x="150.0" y="443.60" width="1.02" height="9.30" fill="#b58d99"/><rect x="151.0" y="443.60" width="1.02" height="9.30" fill="#ba848f"/><rect x="152.0" y="443.60" width="1.02" height="9.30" fill="#b0aab9"/><rect x="153.0" y="443.60" width="1.02" height="9.30" fill="#a3b6ca"/><rect x="154.0" y="443.60" width="0.22" height="9.30" fill="#9abdd6"/>
<rect x="92.4" y="452.40" width="0.62" height="9.30" fill="#a2b7ce"/><rect x="93.0" y="452.40" width="1.02" height="9.30" fill="#aab9cb"/><rect x="94.0" y="452.40" width="1.02" height="9.30" fill="#acbccc"/><rect x="95.0" y="452.40" width="1.02" height="9.30" fill="#bfaeb7"/><rect x="96.0" y="452.40" width="1.02" height="9.30" fill="#a0a7bc"/><rect x="97.0" y="452.40" width="1.02" height="9.30" fill="#aca8b9"/><rect x="98.0" y="452.40" width="1.02" height="9.30" fill="#cbbcc4"/><rect x="99.0" y="452.40" width="1.02" height="9.30" fill="#cab5bc"/><rect x="100.0" y="452.40" width="1.02" height="9.30" fill="#cabac0"/><rect x="101.0" y="452.40" width="1.02" height="9.30" fill="#b9c5d2"/><rect x="102.0" y="452.40" width="1.02" height="9.30" fill="#94bcd7"/><rect x="103.0" y="452.40" width="1.02" height="9.30" fill="#a2cae0"/><rect x="104.0" y="452.40" width="1.02" height="9.30" fill="#a4c9de"/><rect x="105.0" y="452.40" width="1.02" height="9.30" fill="#8cb2cf"/><rect x="106.0" y="452.40" width="1.02" height="9.30" fill="#8ea9c4"/><rect x="107.0" y="452.40" width="1.02" height="9.30" fill="#90b9d4"/><rect x="108.0" y="452.40" width="1.02" height="9.30" fill="#94bcd6"/><rect x="109.0" y="452.40" width="1.02" height="9.30" fill="#9fb7cc"/><rect x="110.0" y="452.40" width="1.02" height="9.30" fill="#7d9ab9"/><rect x="111.0" y="452.40" width="1.02" height="9.30" fill="#788eb1"/><rect x="112.0" y="452.40" width="1.02" height="9.30" fill="#93a6c0"/><rect x="113.0" y="452.40" width="1.02" height="9.30" fill="#8da8c3"/><rect x="114.0" y="452.40" width="1.02" height="9.30" fill="#beb1bb"/><rect x="115.0" y="452.40" width="1.02" height="9.30" fill="#9fadc0"/><rect x="116.0" y="452.40" width="1.02" height="9.30" fill="#8aa5bf"/><rect x="117.0" y="452.40" width="1.02" height="9.30" fill="#7b9cbd"/><rect x="118.0" y="452.40" width="1.02" height="9.30" fill="#8eb5d2"/><rect x="119.0" y="452.40" width="1.02" height="9.30" fill="#8cb5d4"/><rect x="120.0" y="452.40" width="1.02" height="9.30" fill="#96b7d2"/><rect x="121.0" y="452.40" width="1.02" height="9.30" fill="#b4c7d7"/><rect x="122.0" y="452.40" width="1.02" height="9.30" fill="#ccc0c6"/><rect x="123.0" y="452.40" width="1.02" height="9.30" fill="#d7acad"/><rect x="124.0" y="452.40" width="1.02" height="9.30" fill="#c1a6b1"/><rect x="125.0" y="452.40" width="1.02" height="9.30" fill="#979cb4"/><rect x="126.0" y="452.40" width="1.02" height="9.30" fill="#83a1bf"/><rect x="127.0" y="452.40" width="1.02" height="9.30" fill="#8fadc8"/><rect x="128.0" y="452.40" width="1.02" height="9.30" fill="#8c9db9"/><rect x="129.0" y="452.40" width="1.02" height="9.30" fill="#7d94b5"/><rect x="130.0" y="452.40" width="1.02" height="9.30" fill="#8089aa"/><rect x="131.0" y="452.40" width="1.02" height="9.30" fill="#8489a7"/><rect x="132.0" y="452.40" width="1.02" height="9.30" fill="#7392b5"/><rect x="133.0" y="452.40" width="1.02" height="9.30" fill="#b2a0af"/><rect x="134.0" y="452.40" width="1.02" height="9.30" fill="#d9b3b6"/><rect x="135.0" y="452.40" width="1.02" height="9.30" fill="#d8bec1"/><rect x="136.0" y="452.40" width="1.02" height="9.30" fill="#acc4d6"/><rect x="137.0" y="452.40" width="1.02" height="9.30" fill="#98c3da"/><rect x="138.0" y="452.40" width="1.02" height="9.30" fill="#a8bdce"/><rect x="139.0" y="452.40" width="1.02" height="9.30" fill="#afa9b6"/><rect x="140.0" y="452.40" width="1.02" height="9.30" fill="#c0b6c0"/><rect x="141.0" y="452.40" width="1.02" height="9.30" fill="#b5c1cf"/><rect x="142.0" y="452.40" width="1.02" height="9.30" fill="#b6c1cf"/><rect x="143.0" y="452.40" width="1.02" height="9.30" fill="#b69ba8"/><rect x="144.0" y="452.40" width="1.02" height="9.30" fill="#9697af"/><rect x="145.0" y="452.40" width="1.02" height="9.30" fill="#93a9c3"/><rect x="146.0" y="452.40" width="1.02" height="9.30" fill="#b4c4d3"/><rect x="147.0" y="452.40" width="1.02" height="9.30" fill="#c2bfc8"/><rect x="148.0" y="452.40" width="1.02" height="9.30" fill="#bbb2bf"/><rect x="149.0" y="452.40" width="1.02" height="9.30" fill="#b7a4b5"/><rect x="150.0" y="452.40" width="1.02" height="9.30" fill="#bda1ad"/><rect x="151.0" y="452.40" width="1.02" height="9.30" fill="#be9ea9"/><rect x="152.0" y="452.40" width="1.02" height="9.30" fill="#a9b8ca"/><rect x="153.0" y="452.40" width="1.02" height="9.30" fill="#b1d0e2"/><rect x="154.0" y="452.40" width="0.22" height="9.30" fill="#96c3dc"/>
<rect x="92.4" y="461.20" width="0.62" height="9.30" fill="#a2b3ca"/><rect x="93.0" y="461.20" width="1.02" height="9.30" fill="#968ea5"/><rect x="94.0" y="461.20" width="1.02" height="9.30" fill="#a19aac"/><rect x="95.0" y="461.20" width="1.02" height="9.30" fill="#a5aec2"/><rect x="96.0" y="461.20" width="1.02" height="9.30" fill="#bdc0ce"/><rect x="97.0" y="461.20" width="1.02" height="9.30" fill="#90b3ce"/><rect x="98.0" y="461.20" width="1.02" height="9.30" fill="#a1b4c8"/><rect x="99.0" y="461.20" width="1.02" height="9.30" fill="#b1b1c0"/><rect x="100.0" y="461.20" width="1.02" height="9.30" fill="#82adcb"/><rect x="101.0" y="461.20" width="1.02" height="9.30" fill="#6fa5cd"/><rect x="102.0" y="461.20" width="1.02" height="9.30" fill="#5694c3"/><rect x="103.0" y="461.20" width="1.02" height="9.30" fill="#8cb3cf"/><rect x="104.0" y="461.20" width="1.02" height="9.30" fill="#c6d0da"/><rect x="105.0" y="461.20" width="1.02" height="9.30" fill="#babdc9"/><rect x="106.0" y="461.20" width="1.02" height="9.30" fill="#bfb5c0"/><rect x="107.0" y="461.20" width="1.02" height="9.30" fill="#c8ced9"/><rect x="108.0" y="461.20" width="1.02" height="9.30" fill="#b5c4d6"/><rect x="109.0" y="461.20" width="1.02" height="9.30" fill="#afb7c9"/><rect x="110.0" y="461.20" width="1.02" height="9.30" fill="#a0b5ca"/><rect x="111.0" y="461.20" width="1.02" height="9.30" fill="#c4c0c9"/><rect x="112.0" y="461.20" width="1.02" height="9.30" fill="#c4c6ce"/><rect x="113.0" y="461.20" width="1.02" height="9.30" fill="#b2c0cf"/><rect x="114.0" y="461.20" width="1.02" height="9.30" fill="#abc1d2"/><rect x="115.0" y="461.20" width="1.02" height="9.30" fill="#81a9c8"/><rect x="116.0" y="461.20" width="1.02" height="9.30" fill="#99a9c0"/><rect x="117.0" y="461.20" width="1.02" height="9.30" fill="#90aec9"/><rect x="118.0" y="461.20" width="1.02" height="9.30" fill="#97bbd4"/><rect x="119.0" y="461.20" width="1.02" height="9.30" fill="#c2d5e2"/><rect x="120.0" y="461.20" width="1.02" height="9.30" fill="#aec0d1"/><rect x="121.0" y="461.20" width="1.02" height="9.30" fill="#92a9c2"/><rect x="122.0" y="461.20" width="1.02" height="9.30" fill="#858fae"/><rect x="123.0" y="461.20" width="1.02" height="9.30" fill="#98b0c9"/><rect x="124.0" y="461.20" width="1.02" height="9.30" fill="#b2c3d3"/><rect x="125.0" y="461.20" width="1.02" height="9.30" fill="#93b3cb"/><rect x="126.0" y="461.20" width="1.02" height="9.30" fill="#99a6bd"/><rect x="127.0" y="461.20" width="1.02" height="9.30" fill="#80a9c9"/><rect x="128.0" y="461.20" width="1.02" height="9.30" fill="#8eb2ce"/><rect x="129.0" y="461.20" width="1.02" height="9.30" fill="#b3b1c1"/><rect x="130.0" y="461.20" width="1.02" height="9.30" fill="#93a8c3"/><rect x="131.0" y="461.20" width="1.02" height="9.30" fill="#b2c5d6"/><rect x="132.0" y="461.20" width="1.02" height="9.30" fill="#bac8d5"/><rect x="133.0" y="461.20" width="1.02" height="9.30" fill="#aecadb"/><rect x="134.0" y="461.20" width="1.02" height="9.30" fill="#9cc4dc"/><rect x="135.0" y="461.20" width="1.02" height="9.30" fill="#79b0d2"/><rect x="136.0" y="461.20" width="1.02" height="9.30" fill="#99c3db"/><rect x="137.0" y="461.20" width="1.02" height="9.30" fill="#a1c7de"/><rect x="138.0" y="461.20" width="1.02" height="9.30" fill="#76a9cc"/><rect x="139.0" y="461.20" width="1.02" height="9.30" fill="#85a5c2"/><rect x="140.0" y="461.20" width="1.02" height="9.30" fill="#939ab3"/><rect x="141.0" y="461.20" width="1.02" height="9.30" fill="#b3a9b7"/><rect x="142.0" y="461.20" width="1.02" height="9.30" fill="#b5becc"/><rect x="143.0" y="461.20" width="1.02" height="9.30" fill="#93bcd5"/><rect x="144.0" y="461.20" width="1.02" height="9.30" fill="#8bb0cc"/><rect x="145.0" y="461.20" width="1.02" height="9.30" fill="#7e93b3"/><rect x="146.0" y="461.20" width="1.02" height="9.30" fill="#8894b1"/><rect x="147.0" y="461.20" width="1.02" height="9.30" fill="#9f9fb3"/><rect x="148.0" y="461.20" width="1.02" height="9.30" fill="#a3b0c6"/><rect x="149.0" y="461.20" width="1.02" height="9.30" fill="#bfcdda"/><rect x="150.0" y="461.20" width="1.02" height="9.30" fill="#b8c5d2"/><rect x="151.0" y="461.20" width="1.02" height="9.30" fill="#a3bbd1"/><rect x="152.0" y="461.20" width="1.02" height="9.30" fill="#7aa4c9"/><rect x="153.0" y="461.20" width="1.02" height="9.30" fill="#94b8d3"/><rect x="154.0" y="461.20" width="0.22" height="9.30" fill="#85b2d2"/>
<rect x="92.4" y="470.00" width="0.62" height="9.30" fill="#83b5d5"/><rect x="93.0" y="470.00" width="1.02" height="9.30" fill="#77a0c3"/><rect x="94.0" y="470.00" width="1.02" height="9.30" fill="#aba3b2"/><rect x="95.0" y="470.00" width="1.02" height="9.30" fill="#acb2c2"/><rect x="96.0" y="470.00" width="1.02" height="9.30" fill="#b4cbdb"/><rect x="97.0" y="470.00" width="1.02" height="9.30" fill="#bbc7d4"/><rect x="98.0" y="470.00" width="1.02" height="9.30" fill="#b7b5c0"/><rect x="99.0" y="470.00" width="1.02" height="9.30" fill="#b3b2bf"/><rect x="100.0" y="470.00" width="1.02" height="9.30" fill="#b6acb7"/><rect x="101.0" y="470.00" width="1.02" height="9.30" fill="#cfbbc0"/><rect x="102.0" y="470.00" width="1.02" height="9.30" fill="#ccc4cc"/><rect x="103.0" y="470.00" width="1.02" height="9.30" fill="#b5c1d1"/><rect x="104.0" y="470.00" width="1.02" height="9.30" fill="#d6ced4"/><rect x="105.0" y="470.00" width="1.02" height="9.30" fill="#d8ccd0"/><rect x="106.0" y="470.00" width="1.02" height="9.30" fill="#cfd1d9"/><rect x="107.0" y="470.00" width="1.02" height="9.30" fill="#d0bfc4"/><rect x="108.0" y="470.00" width="1.02" height="9.30" fill="#bcb9c3"/><rect x="109.0" y="470.00" width="1.02" height="9.30" fill="#c5d3dd"/><rect x="110.0" y="470.00" width="1.02" height="9.30" fill="#c4d8e5"/><rect x="111.0" y="470.00" width="1.02" height="9.30" fill="#8ab8d6"/><rect x="112.0" y="470.00" width="1.02" height="9.30" fill="#82b2d3"/><rect x="113.0" y="470.00" width="1.02" height="9.30" fill="#a4bfd4"/><rect x="114.0" y="470.00" width="1.02" height="9.30" fill="#c0bac6"/><rect x="115.0" y="470.00" width="1.02" height="9.30" fill="#b3b7c9"/><rect x="116.0" y="470.00" width="1.02" height="9.30" fill="#c0a8b4"/><rect x="117.0" y="470.00" width="1.02" height="9.30" fill="#a49bae"/><rect x="118.0" y="470.00" width="1.02" height="9.30" fill="#939fb8"/><rect x="119.0" y="470.00" width="1.02" height="9.30" fill="#abaabc"/><rect x="120.0" y="470.00" width="1.02" height="9.30" fill="#a9899e"/><rect x="121.0" y="470.00" width="1.02" height="9.30" fill="#ab99ad"/><rect x="122.0" y="470.00" width="1.02" height="9.30" fill="#a2b0c6"/><rect x="123.0" y="470.00" width="1.02" height="9.30" fill="#8eabc9"/><rect x="124.0" y="470.00" width="1.02" height="9.30" fill="#7399bf"/><rect x="125.0" y="470.00" width="1.02" height="9.30" fill="#a5abbf"/><rect x="126.0" y="470.00" width="1.02" height="9.30" fill="#91abc8"/><rect x="127.0" y="470.00" width="1.02" height="9.30" fill="#7099bf"/><rect x="128.0" y="470.00" width="1.02" height="9.30" fill="#7f86a5"/><rect x="129.0" y="470.00" width="1.02" height="9.30" fill="#959eb6"/><rect x="130.0" y="470.00" width="1.02" height="9.30" fill="#a9b3c6"/><rect x="131.0" y="470.00" width="1.02" height="9.30" fill="#99bad3"/><rect x="132.0" y="470.00" width="1.02" height="9.30" fill="#92bdd8"/><rect x="133.0" y="470.00" width="1.02" height="9.30" fill="#9ec3da"/><rect x="134.0" y="470.00" width="1.02" height="9.30" fill="#8bb6d4"/><rect x="135.0" y="470.00" width="1.02" height="9.30" fill="#94b5d0"/><rect x="136.0" y="470.00" width="1.02" height="9.30" fill="#b6cbdb"/><rect x="137.0" y="470.00" width="1.02" height="9.30" fill="#a9c0d4"/><rect x="138.0" y="470.00" width="1.02" height="9.30" fill="#a2c2d7"/><rect x="139.0" y="470.00" width="1.02" height="9.30" fill="#9cb1c6"/><rect x="140.0" y="470.00" width="1.02" height="9.30" fill="#8c9fb9"/><rect x="141.0" y="470.00" width="1.02" height="9.30" fill="#98b5cd"/><rect x="142.0" y="470.00" width="1.02" height="9.30" fill="#8dacc9"/><rect x="143.0" y="470.00" width="1.02" height="9.30" fill="#b9b0be"/><rect x="144.0" y="470.00" width="1.02" height="9.30" fill="#99a2b7"/><rect x="145.0" y="470.00" width="1.02" height="9.30" fill="#989fb4"/><rect x="146.0" y="470.00" width="1.02" height="9.30" fill="#9c9fb3"/><rect x="147.0" y="470.00" width="1.02" height="9.30" fill="#abbbcb"/><rect x="148.0" y="470.00" width="1.02" height="9.30" fill="#c4bec7"/><rect x="149.0" y="470.00" width="1.02" height="9.30" fill="#af9baa"/><rect x="150.0" y="470.00" width="1.02" height="9.30" fill="#b3a8b7"/><rect x="151.0" y="470.00" width="1.02" height="9.30" fill="#c1b4c0"/><rect x="152.0" y="470.00" width="1.02" height="9.30" fill="#9eb2ca"/><rect x="153.0" y="470.00" width="1.02" height="9.30" fill="#a6b4ca"/><rect x="154.0" y="470.00" width="0.22" height="9.30" fill="#c1a6b1"/>
<rect x="92.4" y="478.80" width="0.62" height="9.30" fill="#bcccda"/><rect x="93.0" y="478.80" width="1.02" height="9.30" fill="#a7acc0"/><rect x="94.0" y="478.80" width="1.02" height="9.30" fill="#b6afbd"/><rect x="95.0" y="478.80" width="1.02" height="9.30" fill="#c4a7b0"/><rect x="96.0" y="478.80" width="1.02" height="9.30" fill="#d7c0c4"/><rect x="97.0" y="478.80" width="1.02" height="9.30" fill="#bacddc"/><rect x="98.0" y="478.80" width="1.02" height="9.30" fill="#a5c3d8"/><rect x="99.0" y="478.80" width="1.02" height="9.30" fill="#7f9bbb"/><rect x="100.0" y="478.80" width="1.02" height="9.30" fill="#6994ba"/><rect x="101.0" y="478.80" width="1.02" height="9.30" fill="#7b91b2"/><rect x="102.0" y="478.80" width="1.02" height="9.30" fill="#86a8c7"/><rect x="103.0" y="478.80" width="1.02" height="9.30" fill="#a5c3d9"/><rect x="104.0" y="478.80" width="1.02" height="9.30" fill="#9eb6ce"/><rect x="105.0" y="478.80" width="1.02" height="9.30" fill="#82a9cb"/><rect x="106.0" y="478.80" width="1.02" height="9.30" fill="#7fa0c2"/><rect x="107.0" y="478.80" width="1.02" height="9.30" fill="#ac9dad"/><rect x="108.0" y="478.80" width="1.02" height="9.30" fill="#aba0b2"/><rect x="109.0" y="478.80" width="1.02" height="9.30" fill="#cbc9d3"/><rect x="110.0" y="478.80" width="1.02" height="9.30" fill="#acbdcf"/><rect x="111.0" y="478.80" width="1.02" height="9.30" fill="#8eb5d0"/><rect x="112.0" y="478.80" width="1.02" height="9.30" fill="#8db5d1"/><rect x="113.0" y="478.80" width="1.02" height="9.30" fill="#87aecc"/><rect x="114.0" y="478.80" width="1.02" height="9.30" fill="#8a9db9"/><rect x="115.0" y="478.80" width="1.02" height="9.30" fill="#91a8c2"/><rect x="116.0" y="478.80" width="1.02" height="9.30" fill="#9eb5cc"/><rect x="117.0" y="478.80" width="1.02" height="9.30" fill="#a6c7dc"/><rect x="118.0" y="478.80" width="1.02" height="9.30" fill="#9fc6dd"/><rect x="119.0" y="478.80" width="1.02" height="9.30" fill="#a7c7dc"/><rect x="120.0" y="478.80" width="1.02" height="9.30" fill="#bfcad5"/><rect x="121.0" y="478.80" width="1.02" height="9.30" fill="#cbc1c7"/><rect x="122.0" y="478.80" width="1.02" height="9.30" fill="#9db4cb"/><rect x="123.0" y="478.80" width="1.02" height="9.30" fill="#95a6be"/><rect x="124.0" y="478.80" width="1.02" height="9.30" fill="#a6aec1"/><rect x="125.0" y="478.80" width="1.02" height="9.30" fill="#aebfd1"/><rect x="126.0" y="478.80" width="1.02" height="9.30" fill="#abbcd0"/><rect x="127.0" y="478.80" width="1.02" height="9.30" fill="#b8cad9"/><rect x="128.0" y="478.80" width="1.02" height="9.30" fill="#adc4d5"/><rect x="129.0" y="478.80" width="1.02" height="9.30" fill="#8ebad5"/><rect x="130.0" y="478.80" width="1.02" height="9.30" fill="#6b9dc4"/><rect x="131.0" y="478.80" width="1.02" height="9.30" fill="#8a9dba"/><rect x="132.0" y="478.80" width="1.02" height="9.30" fill="#7a9fc3"/><rect x="133.0" y="478.80" width="1.02" height="9.30" fill="#77a0c3"/><rect x="134.0" y="478.80" width="1.02" height="9.30" fill="#79a3c6"/><rect x="135.0" y="478.80" width="1.02" height="9.30" fill="#8eb3ce"/><rect x="136.0" y="478.80" width="1.02" height="9.30" fill="#9ca6bb"/><rect x="137.0" y="478.80" width="1.02" height="9.30" fill="#aa9baa"/><rect x="138.0" y="478.80" width="1.02" height="9.30" fill="#9db9ce"/><rect x="139.0" y="478.80" width="1.02" height="9.30" fill="#90b3cd"/><rect x="140.0" y="478.80" width="1.02" height="9.30" fill="#9b9eb4"/><rect x="141.0" y="478.80" width="1.02" height="9.30" fill="#b8c0ce"/><rect x="142.0" y="478.80" width="1.02" height="9.30" fill="#b9bcca"/><rect x="143.0" y="478.80" width="1.02" height="9.30" fill="#b5c5d6"/><rect x="144.0" y="478.80" width="1.02" height="9.30" fill="#c7ccd7"/><rect x="145.0" y="478.80" width="1.02" height="9.30" fill="#b8b2bf"/><rect x="146.0" y="478.80" width="1.02" height="9.30" fill="#afa6b6"/><rect x="147.0" y="478.80" width="1.02" height="9.30" fill="#b7b2be"/><rect x="148.0" y="478.80" width="1.02" height="9.30" fill="#b7aab7"/><rect x="149.0" y="478.80" width="1.02" height="9.30" fill="#a7aabd"/><rect x="150.0" y="478.80" width="1.02" height="9.30" fill="#9eacc1"/><rect x="151.0" y="478.80" width="1.02" height="9.30" fill="#a0b7ce"/><rect x="152.0" y="478.80" width="1.02" height="9.30" fill="#99b9d2"/><rect x="153.0" y="478.80" width="1.02" height="9.30" fill="#a3b8cc"/><rect x="154.0" y="478.80" width="0.22" height="9.30" fill="#a9b7cb"/>
<rect x="92.4" y="487.60" width="0.62" height="9.30" fill="#d6a5a5"/><rect x="93.0" y="487.60" width="1.02" height="9.30" fill="#ddb7b9"/><rect x="94.0" y="487.60" width="1.02" height="9.30" fill="#e2b3b3"/><rect x="95.0" y="487.60" width="1.02" height="9.30" fill="#d4afb2"/><rect x="96.0" y="487.60" width="1.02" height="9.30" fill="#c7c4cd"/><rect x="97.0" y="487.60" width="1.02" height="9.30" fill="#cdbfc4"/><rect x="98.0" y="487.60" width="1.02" height="9.30" fill="#ceadb4"/><rect x="99.0" y="487.60" width="1.02" height="9.30" fill="#ca9aa0"/><rect x="100.0" y="487.60" width="1.02" height="9.30" fill="#c8abb2"/><rect x="101.0" y="487.60" width="1.02" height="9.30" fill="#cda9b0"/><rect x="102.0" y="487.60" width="1.02" height="9.30" fill="#ce9aa0"/><rect x="103.0" y="487.60" width="1.02" height="9.30" fill="#ca9aa1"/><rect x="104.0" y="487.60" width="1.02" height="9.30" fill="#d9aeb1"/><rect x="105.0" y="487.60" width="1.02" height="9.30" fill="#c4adb9"/><rect x="106.0" y="487.60" width="1.02" height="9.30" fill="#adaabc"/><rect x="107.0" y="487.60" width="1.02" height="9.30" fill="#97afc6"/><rect x="108.0" y="487.60" width="1.02" height="9.30" fill="#a8bfd2"/><rect x="109.0" y="487.60" width="1.02" height="9.30" fill="#d9bfc2"/><rect x="110.0" y="487.60" width="1.02" height="9.30" fill="#dc9e9f"/><rect x="111.0" y="487.60" width="1.02" height="9.30" fill="#ca838a"/><rect x="112.0" y="487.60" width="1.02" height="9.30" fill="#dca9ab"/><rect x="113.0" y="487.60" width="1.02" height="9.30" fill="#d0adb3"/><rect x="114.0" y="487.60" width="1.02" height="9.30" fill="#ccb1b6"/><rect x="115.0" y="487.60" width="1.02" height="9.30" fill="#d6a2a3"/><rect x="116.0" y="487.60" width="1.02" height="9.30" fill="#b96d7b"/><rect x="117.0" y="487.60" width="1.02" height="9.30" fill="#bd5a66"/><rect x="118.0" y="487.60" width="1.02" height="9.30" fill="#ca8c92"/><rect x="119.0" y="487.60" width="1.02" height="9.30" fill="#d9a4a4"/><rect x="120.0" y="487.60" width="1.02" height="9.30" fill="#d79c9e"/><rect x="121.0" y="487.60" width="1.02" height="9.30" fill="#e3a7a5"/><rect x="122.0" y="487.60" width="1.02" height="9.30" fill="#e6adab"/><rect x="123.0" y="487.60" width="1.02" height="9.30" fill="#d99497"/><rect x="124.0" y="487.60" width="1.02" height="9.30" fill="#dd8f90"/><rect x="125.0" y="487.60" width="1.02" height="9.30" fill="#da7f7f"/><rect x="126.0" y="487.60" width="1.02" height="9.30" fill="#d38186"/><rect x="127.0" y="487.60" width="1.02" height="9.30" fill="#d88284"/><rect x="128.0" y="487.60" width="1.02" height="9.30" fill="#d18489"/><rect x="129.0" y="487.60" width="1.02" height="9.30" fill="#c8a7ae"/><rect x="130.0" y="487.60" width="1.02" height="9.30" fill="#d2b3b6"/><rect x="131.0" y="487.60" width="1.02" height="9.30" fill="#d98382"/><rect x="132.0" y="487.60" width="1.02" height="9.30" fill="#d46b6e"/><rect x="133.0" y="487.60" width="1.02" height="9.30" fill="#df9596"/><rect x="134.0" y="487.60" width="1.02" height="9.30" fill="#db9899"/><rect x="135.0" y="487.60" width="1.02" height="9.30" fill="#cd8e92"/><rect x="136.0" y="487.60" width="1.02" height="9.30" fill="#d38d91"/><rect x="137.0" y="487.60" width="1.02" height="9.30" fill="#daa3a7"/><rect x="138.0" y="487.60" width="1.02" height="9.30" fill="#dd8f8f"/><rect x="139.0" y="487.60" width="1.02" height="9.30" fill="#d27578"/><rect x="140.0" y="487.60" width="1.02" height="9.30" fill="#c66a72"/><rect x="141.0" y="487.60" width="1.02" height="9.30" fill="#d07377"/><rect x="142.0" y="487.60" width="1.02" height="9.30" fill="#d38185"/><rect x="143.0" y="487.60" width="1.02" height="9.30" fill="#d18b91"/><rect x="144.0" y="487.60" width="1.02" height="9.30" fill="#bda0ac"/><rect x="145.0" y="487.60" width="1.02" height="9.30" fill="#bca6b0"/><rect x="146.0" y="487.60" width="1.02" height="9.30" fill="#d1aaaf"/><rect x="147.0" y="487.60" width="1.02" height="9.30" fill="#e0afb2"/><rect x="148.0" y="487.60" width="1.02" height="9.30" fill="#d79fa3"/><rect x="149.0" y="487.60" width="1.02" height="9.30" fill="#c498a2"/><rect x="150.0" y="487.60" width="1.02" height="9.30" fill="#d3b3b7"/><rect x="151.0" y="487.60" width="1.02" height="9.30" fill="#d69fa1"/><rect x="152.0" y="487.60" width="1.02" height="9.30" fill="#de9fa1"/><rect x="153.0" y="487.60" width="1.02" height="9.30" fill="#d59da2"/><rect x="154.0" y="487.60" width="0.22" height="9.30" fill="#b09fb1"/>
<rect x="92.4" y="496.40" width="0.62" height="9.30" fill="#d15d5f"/><rect x="93.0" y="496.40" width="1.02" height="9.30" fill="#cc5358"/><rect x="94.0" y="496.40" width="1.02" height="9.30" fill="#ca4c52"/><rect x="95.0" y="496.40" width="1.02" height="9.30" fill="#c7464e"/><rect x="96.0" y="496.40" width="1.02" height="9.30" fill="#bf4a56"/><rect x="97.0" y="496.40" width="1.02" height="9.30" fill="#bb6e79"/><rect x="98.0" y="496.40" width="1.02" height="9.30" fill="#c04d58"/><rect x="99.0" y="496.40" width="1.02" height="9.30" fill="#c75a62"/><rect x="100.0" y="496.40" width="1.02" height="9.30" fill="#c97e83"/><rect x="101.0" y="496.40" width="1.02" height="9.30" fill="#c5535b"/><rect x="102.0" y="496.40" width="1.02" height="9.30" fill="#ce595f"/><rect x="103.0" y="496.40" width="1.02" height="9.30" fill="#de807d"/><rect x="104.0" y="496.40" width="1.02" height="9.30" fill="#db7674"/><rect x="105.0" y="496.40" width="1.02" height="9.30" fill="#d05c60"/><rect x="106.0" y="496.40" width="1.02" height="9.30" fill="#d0666c"/><rect x="107.0" y="496.40" width="1.02" height="9.30" fill="#cb555b"/><rect x="108.0" y="496.40" width="1.02" height="9.30" fill="#cc555b"/><rect x="109.0" y="496.40" width="1.02" height="9.30" fill="#d57173"/><rect x="110.0" y="496.40" width="1.02" height="9.30" fill="#d36a6d"/><rect x="111.0" y="496.40" width="1.02" height="9.30" fill="#d57e82"/><rect x="112.0" y="496.40" width="1.02" height="9.30" fill="#ce828a"/><rect x="113.0" y="496.40" width="1.02" height="9.30" fill="#b9616d"/><rect x="114.0" y="496.40" width="1.02" height="9.30" fill="#c65f66"/><rect x="115.0" y="496.40" width="1.02" height="9.30" fill="#cb8084"/><rect x="116.0" y="496.40" width="1.02" height="9.30" fill="#ca7d81"/><rect x="117.0" y="496.40" width="1.02" height="9.30" fill="#cc5f64"/><rect x="118.0" y="496.40" width="1.02" height="9.30" fill="#da8687"/><rect x="119.0" y="496.40" width="1.02" height="9.30" fill="#d8a4a7"/><rect x="120.0" y="496.40" width="1.02" height="9.30" fill="#d3abb0"/><rect x="121.0" y="496.40" width="1.02" height="9.30" fill="#bb8d99"/><rect x="122.0" y="496.40" width="1.02" height="9.30" fill="#bf8991"/><rect x="123.0" y="496.40" width="1.02" height="9.30" fill="#c68086"/><rect x="124.0" y="496.40" width="1.02" height="9.30" fill="#cf868b"/><rect x="125.0" y="496.40" width="1.02" height="9.30" fill="#c79ba3"/><rect x="126.0" y="496.40" width="1.02" height="9.30" fill="#bdacb6"/><rect x="127.0" y="496.40" width="1.02" height="9.30" fill="#b494a1"/><rect x="128.0" y="496.40" width="1.02" height="9.30" fill="#c7999e"/><rect x="129.0" y="496.40" width="1.02" height="9.30" fill="#c7989e"/><rect x="130.0" y="496.40" width="1.02" height="9.30" fill="#cf7c80"/><rect x="131.0" y="496.40" width="1.02" height="9.30" fill="#d09499"/><rect x="132.0" y="496.40" width="1.02" height="9.30" fill="#ba7d8a"/><rect x="133.0" y="496.40" width="1.02" height="9.30" fill="#b97e8a"/><rect x="134.0" y="496.40" width="1.02" height="9.30" fill="#a4697d"/><rect x="135.0" y="496.40" width="1.02" height="9.30" fill="#bf6671"/><rect x="136.0" y="496.40" width="1.02" height="9.30" fill="#d99c9f"/><rect x="137.0" y="496.40" width="1.02" height="9.30" fill="#d47c7f"/><rect x="138.0" y="496.40" width="1.02" height="9.30" fill="#d38589"/><rect x="139.0" y="496.40" width="1.02" height="9.30" fill="#de999a"/><rect x="140.0" y="496.40" width="1.02" height="9.30" fill="#ebb7b3"/><rect x="141.0" y="496.40" width="1.02" height="9.30" fill="#e2bab9"/><rect x="142.0" y="496.40" width="1.02" height="9.30" fill="#c7a2ab"/><rect x="143.0" y="496.40" width="1.02" height="9.30" fill="#c98990"/><rect x="144.0" y="496.40" width="1.02" height="9.30" fill="#b78793"/><rect x="145.0" y="496.40" width="1.02" height="9.30" fill="#bbb6c3"/><rect x="146.0" y="496.40" width="1.02" height="9.30" fill="#dccdcf"/><rect x="147.0" y="496.40" width="1.02" height="9.30" fill="#eabeb9"/><rect x="148.0" y="496.40" width="1.02" height="9.30" fill="#d8bdbf"/><rect x="149.0" y="496.40" width="1.02" height="9.30" fill="#9dafc4"/><rect x="150.0" y="496.40" width="1.02" height="9.30" fill="#a496aa"/><rect x="151.0" y="496.40" width="1.02" height="9.30" fill="#b596a6"/><rect x="152.0" y="496.40" width="1.02" height="9.30" fill="#a48ca1"/><rect x="153.0" y="496.40" width="1.02" height="9.30" fill="#b8a5b2"/><rect x="154.0" y="496.40" width="0.22" height="9.30" fill="#c6aab0"/>
<rect x="92.4" y="505.20" width="0.62" height="9.30" fill="#b1c8dc"/><rect x="93.0" y="505.20" width="1.02" height="9.30" fill="#acc1d3"/><rect x="94.0" y="505.20" width="1.02" height="9.30" fill="#bdb1bb"/><rect x="95.0" y="505.20" width="1.02" height="9.30" fill="#aba7b7"/><rect x="96.0" y="505.20" width="1.02" height="9.30" fill="#a3b0c3"/><rect x="97.0" y="505.20" width="1.02" height="9.30" fill="#a5afc3"/><rect x="98.0" y="505.20" width="1.02" height="9.30" fill="#b8afbc"/><rect x="99.0" y="505.20" width="1.02" height="9.30" fill="#c7b9bf"/><rect x="100.0" y="505.20" width="1.02" height="9.30" fill="#b9bdc9"/><rect x="101.0" y="505.20" width="1.02" height="9.30" fill="#aab2c3"/><rect x="102.0" y="505.20" width="1.02" height="9.30" fill="#a8afbf"/><rect x="103.0" y="505.20" width="1.02" height="9.30" fill="#b6cad9"/><rect x="104.0" y="505.20" width="1.02" height="9.30" fill="#a2bfd4"/><rect x="105.0" y="505.20" width="1.02" height="9.30" fill="#bbb4c0"/><rect x="106.0" y="505.20" width="1.02" height="9.30" fill="#b1a7b6"/><rect x="107.0" y="505.20" width="1.02" height="9.30" fill="#aba1b4"/><rect x="108.0" y="505.20" width="1.02" height="9.30" fill="#9392ac"/><rect x="109.0" y="505.20" width="1.02" height="9.30" fill="#919ab4"/><rect x="110.0" y="505.20" width="1.02" height="9.30" fill="#a3b9ce"/><rect x="111.0" y="505.20" width="1.02" height="9.30" fill="#a2b8cd"/><rect x="112.0" y="505.20" width="1.02" height="9.30" fill="#9db0c8"/><rect x="113.0" y="505.20" width="1.02" height="9.30" fill="#ac94a4"/><rect x="114.0" y="505.20" width="1.02" height="9.30" fill="#c29ca3"/><rect x="115.0" y="505.20" width="1.02" height="9.30" fill="#c3b0b7"/><rect x="116.0" y="505.20" width="1.02" height="9.30" fill="#c5aeb5"/><rect x="117.0" y="505.20" width="1.02" height="9.30" fill="#b8b5c1"/><rect x="118.0" y="505.20" width="1.02" height="9.30" fill="#8db0ca"/><rect x="119.0" y="505.20" width="1.02" height="9.30" fill="#9f9fb4"/><rect x="120.0" y="505.20" width="1.02" height="9.30" fill="#ab8697"/><rect x="121.0" y="505.20" width="1.02" height="9.30" fill="#ae9dae"/><rect x="122.0" y="505.20" width="1.02" height="9.30" fill="#cca5ad"/><rect x="123.0" y="505.20" width="1.02" height="9.30" fill="#e0baba"/><rect x="124.0" y="505.20" width="1.02" height="9.30" fill="#cdb0b3"/><rect x="125.0" y="505.20" width="1.02" height="9.30" fill="#c7a4aa"/><rect x="126.0" y="505.20" width="1.02" height="9.30" fill="#c79298"/><rect x="127.0" y="505.20" width="1.02" height="9.30" fill="#d4bbc0"/><rect x="128.0" y="505.20" width="1.02" height="9.30" fill="#c1bcc7"/><rect x="129.0" y="505.20" width="1.02" height="9.30" fill="#c9a6af"/><rect x="130.0" y="505.20" width="1.02" height="9.30" fill="#c5aeb8"/><rect x="131.0" y="505.20" width="1.02" height="9.30" fill="#ccb9c2"/><rect x="132.0" y="505.20" width="1.02" height="9.30" fill="#d9c8cd"/><rect x="133.0" y="505.20" width="1.02" height="9.30" fill="#d09397"/><rect x="134.0" y="505.20" width="1.02" height="9.30" fill="#b48491"/><rect x="135.0" y="505.20" width="1.02" height="9.30" fill="#d3a6a9"/><rect x="136.0" y="505.20" width="1.02" height="9.30" fill="#d0aaae"/><rect x="137.0" y="505.20" width="1.02" height="9.30" fill="#e1acab"/><rect x="138.0" y="505.20" width="1.02" height="9.30" fill="#ecc4c3"/><rect x="139.0" y="505.20" width="1.02" height="9.30" fill="#cf9fa8"/><rect x="140.0" y="505.20" width="1.02" height="9.30" fill="#a597ac"/><rect x="141.0" y="505.20" width="1.02" height="9.30" fill="#c4c7d2"/><rect x="142.0" y="505.20" width="1.02" height="9.30" fill="#d9ced3"/><rect x="143.0" y="505.20" width="1.02" height="9.30" fill="#cdb5bd"/><rect x="144.0" y="505.20" width="1.02" height="9.30" fill="#d6a6ab"/><rect x="145.0" y="505.20" width="1.02" height="9.30" fill="#dc8f90"/><rect x="146.0" y="505.20" width="1.02" height="9.30" fill="#d7a0a0"/><rect x="147.0" y="505.20" width="1.02" height="9.30" fill="#b9aab5"/><rect x="148.0" y="505.20" width="1.02" height="9.30" fill="#c89fa7"/><rect x="149.0" y="505.20" width="1.02" height="9.30" fill="#c5a5ad"/><rect x="150.0" y="505.20" width="1.02" height="9.30" fill="#e0c9ca"/><rect x="151.0" y="505.20" width="1.02" height="9.30" fill="#dfbcbb"/><rect x="152.0" y="505.20" width="1.02" height="9.30" fill="#cfa2a6"/><rect x="153.0" y="505.20" width="1.02" height="9.30" fill="#c1a6af"/><rect x="154.0" y="505.20" width="0.22" height="9.30" fill="#bd858e"/>
<rect x="92.4" y="514.00" width="0.62" height="9.30" fill="#e9ccca"/><rect x="93.0" y="514.00" width="1.02" height="9.30" fill="#d3acb0"/><rect x="94.0" y="514.00" width="1.02" height="9.30" fill="#bab6c2"/><rect x="95.0" y="514.00" width="1.02" height="9.30" fill="#a1b3c6"/><rect x="96.0" y="514.00" width="1.02" height="9.30" fill="#c0c1cc"/><rect x="97.0" y="514.00" width="1.02" height="9.30" fill="#bfc0ca"/><rect x="98.0" y="514.00" width="1.02" height="9.30" fill="#8db0ca"/><rect x="99.0" y="514.00" width="1.02" height="9.30" fill="#83a0c0"/><rect x="100.0" y="514.00" width="1.02" height="9.30" fill="#6e98c0"/><rect x="101.0" y="514.00" width="1.02" height="9.30" fill="#97a7c0"/><rect x="102.0" y="514.00" width="1.02" height="9.30" fill="#c6b2bb"/><rect x="103.0" y="514.00" width="1.02" height="9.30" fill="#c2bfc9"/><rect x="104.0" y="514.00" width="1.02" height="9.30" fill="#c0cbd7"/><rect x="105.0" y="514.00" width="1.02" height="9.30" fill="#aeb3c4"/><rect x="106.0" y="514.00" width="1.02" height="9.30" fill="#bdb5c0"/><rect x="107.0" y="514.00" width="1.02" height="9.30" fill="#a69fb1"/><rect x="108.0" y="514.00" width="1.02" height="9.30" fill="#b097a3"/><rect x="109.0" y="514.00" width="1.02" height="9.30" fill="#a7a2b1"/><rect x="110.0" y="514.00" width="1.02" height="9.30" fill="#a5a6b9"/><rect x="111.0" y="514.00" width="1.02" height="9.30" fill="#ceb5bb"/><rect x="112.0" y="514.00" width="1.02" height="9.30" fill="#cdbcc2"/><rect x="113.0" y="514.00" width="1.02" height="9.30" fill="#a9afc2"/><rect x="114.0" y="514.00" width="1.02" height="9.30" fill="#a4bbcf"/><rect x="115.0" y="514.00" width="1.02" height="9.30" fill="#9abad1"/><rect x="116.0" y="514.00" width="1.02" height="9.30" fill="#7eaccc"/><rect x="117.0" y="514.00" width="1.02" height="9.30" fill="#9cb6cc"/><rect x="118.0" y="514.00" width="1.02" height="9.30" fill="#c3c5d2"/><rect x="119.0" y="514.00" width="1.02" height="9.30" fill="#d3b5ba"/><rect x="120.0" y="514.00" width="1.02" height="9.30" fill="#b4adba"/><rect x="121.0" y="514.00" width="1.02" height="9.30" fill="#b7aab6"/><rect x="122.0" y="514.00" width="1.02" height="9.30" fill="#dbc4c8"/><rect x="123.0" y="514.00" width="1.02" height="9.30" fill="#dbb2b5"/><rect x="124.0" y="514.00" width="1.02" height="9.30" fill="#dbb9ba"/><rect x="125.0" y="514.00" width="1.02" height="9.30" fill="#cfcfd6"/><rect x="126.0" y="514.00" width="1.02" height="9.30" fill="#c4bfca"/><rect x="127.0" y="514.00" width="1.02" height="9.30" fill="#d5a1a5"/><rect x="128.0" y="514.00" width="1.02" height="9.30" fill="#d6c3c7"/><rect x="129.0" y="514.00" width="1.02" height="9.30" fill="#ccc5cd"/><rect x="130.0" y="514.00" width="1.02" height="9.30" fill="#d2abb1"/><rect x="131.0" y="514.00" width="1.02" height="9.30" fill="#d0b8be"/><rect x="132.0" y="514.00" width="1.02" height="9.30" fill="#a594a7"/><rect x="133.0" y="514.00" width="1.02" height="9.30" fill="#9e869a"/><rect x="134.0" y="514.00" width="1.02" height="9.30" fill="#aa8698"/><rect x="135.0" y="514.00" width="1.02" height="9.30" fill="#c0b2bc"/><rect x="136.0" y="514.00" width="1.02" height="9.30" fill="#cdbac0"/><rect x="137.0" y="514.00" width="1.02" height="9.30" fill="#aab7ca"/><rect x="138.0" y="514.00" width="1.02" height="9.30" fill="#cdbfc8"/><rect x="139.0" y="514.00" width="1.02" height="9.30" fill="#d3c6cc"/><rect x="140.0" y="514.00" width="1.02" height="9.30" fill="#cd9da3"/><rect x="141.0" y="514.00" width="1.02" height="9.30" fill="#c66870"/><rect x="142.0" y="514.00" width="1.02" height="9.30" fill="#c28992"/><rect x="143.0" y="514.00" width="1.02" height="9.30" fill="#c2b3be"/><rect x="144.0" y="514.00" width="1.02" height="9.30" fill="#cab7be"/><rect x="145.0" y="514.00" width="1.02" height="9.30" fill="#d99496"/><rect x="146.0" y="514.00" width="1.02" height="9.30" fill="#d47d7e"/><rect x="147.0" y="514.00" width="1.02" height="9.30" fill="#cb9398"/><rect x="148.0" y="514.00" width="1.02" height="9.30" fill="#d27b7d"/><rect x="149.0" y="514.00" width="1.02" height="9.30" fill="#dd7e7c"/><rect x="150.0" y="514.00" width="1.02" height="9.30" fill="#d77e7e"/><rect x="151.0" y="514.00" width="1.02" height="9.30" fill="#c77c83"/><rect x="152.0" y="514.00" width="1.02" height="9.30" fill="#d79397"/><rect x="153.0" y="514.00" width="1.02" height="9.30" fill="#d2848a"/><rect x="154.0" y="514.00" width="0.22" height="9.30" fill="#ba7b8a"/>
<rect x="92.4" y="522.80" width="0.62" height="9.30" fill="#d4dee5"/><rect x="93.0" y="522.80" width="1.02" height="9.30" fill="#dbd6db"/><rect x="94.0" y="522.80" width="1.02" height="9.30" fill="#c4b4be"/><rect x="95.0" y="522.80" width="1.02" height="9.30" fill="#b4bdcd"/><rect x="96.0" y="522.80" width="1.02" height="9.30" fill="#bfb7c4"/><rect x="97.0" y="522.80" width="1.02" height="9.30" fill="#b8b5c2"/><rect x="98.0" y="522.80" width="1.02" height="9.30" fill="#c5b7c0"/><rect x="99.0" y="522.80" width="1.02" height="9.30" fill="#d3afb2"/><rect x="100.0" y="522.80" width="1.02" height="9.30" fill="#c4a1a7"/><rect x="101.0" y="522.80" width="1.02" height="9.30" fill="#b4b2be"/><rect x="102.0" y="522.80" width="1.02" height="9.30" fill="#c3bec7"/><rect x="103.0" y="522.80" width="1.02" height="9.30" fill="#ccb1b6"/><rect x="104.0" y="522.80" width="1.02" height="9.30" fill="#cfc0c6"/><rect x="105.0" y="522.80" width="1.02" height="9.30" fill="#baafbc"/><rect x="106.0" y="522.80" width="1.02" height="9.30" fill="#c7adb5"/><rect x="107.0" y="522.80" width="1.02" height="9.30" fill="#b1b3c1"/><rect x="108.0" y="522.80" width="1.02" height="9.30" fill="#9da4b9"/><rect x="109.0" y="522.80" width="1.02" height="9.30" fill="#a1adc0"/><rect x="110.0" y="522.80" width="1.02" height="9.30" fill="#a7a8ba"/><rect x="111.0" y="522.80" width="1.02" height="9.30" fill="#c1a9b3"/><rect x="112.0" y="522.80" width="1.02" height="9.30" fill="#c8c0c9"/><rect x="113.0" y="522.80" width="1.02" height="9.30" fill="#bdcfdc"/><rect x="114.0" y="522.80" width="1.02" height="9.30" fill="#c1bfc9"/><rect x="115.0" y="522.80" width="1.02" height="9.30" fill="#bb9ca7"/><rect x="116.0" y="522.80" width="1.02" height="9.30" fill="#c2a0a8"/><rect x="117.0" y="522.80" width="1.02" height="9.30" fill="#d6babd"/><rect x="118.0" y="522.80" width="1.02" height="9.30" fill="#d8babb"/><rect x="119.0" y="522.80" width="1.02" height="9.30" fill="#c5adb6"/><rect x="120.0" y="522.80" width="1.02" height="9.30" fill="#d39fa4"/><rect x="121.0" y="522.80" width="1.02" height="9.30" fill="#dea09e"/><rect x="122.0" y="522.80" width="1.02" height="9.30" fill="#e09c97"/><rect x="123.0" y="522.80" width="1.02" height="9.30" fill="#d5979a"/><rect x="124.0" y="522.80" width="1.02" height="9.30" fill="#e0acab"/><rect x="125.0" y="522.80" width="1.02" height="9.30" fill="#d0b9c0"/><rect x="126.0" y="522.80" width="1.02" height="9.30" fill="#b4a3b2"/><rect x="127.0" y="522.80" width="1.02" height="9.30" fill="#d19ea2"/><rect x="128.0" y="522.80" width="1.02" height="9.30" fill="#deaeae"/><rect x="129.0" y="522.80" width="1.02" height="9.30" fill="#dc9898"/><rect x="130.0" y="522.80" width="1.02" height="9.30" fill="#dbafb1"/><rect x="131.0" y="522.80" width="1.02" height="9.30" fill="#cec2ca"/><rect x="132.0" y="522.80" width="1.02" height="9.30" fill="#b3c9d9"/><rect x="133.0" y="522.80" width="1.02" height="9.30" fill="#c7c9d3"/><rect x="134.0" y="522.80" width="1.02" height="9.30" fill="#daa8a9"/><rect x="135.0" y="522.80" width="1.02" height="9.30" fill="#d39fa3"/><rect x="136.0" y="522.80" width="1.02" height="9.30" fill="#d0797f"/><rect x="137.0" y="522.80" width="1.02" height="9.30" fill="#cc8a91"/><rect x="138.0" y="522.80" width="1.02" height="9.30" fill="#b3aab7"/><rect x="139.0" y="522.80" width="1.02" height="9.30" fill="#b9aeb8"/><rect x="140.0" y="522.80" width="1.02" height="9.30" fill="#b7a6b2"/><rect x="141.0" y="522.80" width="1.02" height="9.30" fill="#c5979d"/><rect x="142.0" y="522.80" width="1.02" height="9.30" fill="#d28084"/><rect x="143.0" y="522.80" width="1.02" height="9.30" fill="#d5878a"/><rect x="144.0" y="522.80" width="1.02" height="9.30" fill="#c59aa3"/><rect x="145.0" y="522.80" width="1.02" height="9.30" fill="#c78b94"/><rect x="146.0" y="522.80" width="1.02" height="9.30" fill="#d57a7c"/><rect x="147.0" y="522.80" width="1.02" height="9.30" fill="#d48387"/><rect x="148.0" y="522.80" width="1.02" height="9.30" fill="#c17782"/><rect x="149.0" y="522.80" width="1.02" height="9.30" fill="#cd8d95"/><rect x="150.0" y="522.80" width="1.02" height="9.30" fill="#dca0a1"/><rect x="151.0" y="522.80" width="1.02" height="9.30" fill="#cf777e"/><rect x="152.0" y="522.80" width="1.02" height="9.30" fill="#cf898d"/><rect x="153.0" y="522.80" width="1.02" height="9.30" fill="#d6a2a4"/><rect x="154.0" y="522.80" width="0.22" height="9.30" fill="#c2b2bb"/>
<rect x="92.4" y="531.60" width="0.62" height="8.80" fill="#b0b9ca"/><rect x="93.0" y="531.60" width="1.02" height="8.80" fill="#88a5c3"/><rect x="94.0" y="531.60" width="1.02" height="8.80" fill="#bda3af"/><rect x="95.0" y="531.60" width="1.02" height="8.80" fill="#c9a1a9"/><rect x="96.0" y="531.60" width="1.02" height="8.80" fill="#a7adc1"/><rect x="97.0" y="531.60" width="1.02" height="8.80" fill="#c7b7c0"/><rect x="98.0" y="531.60" width="1.02" height="8.80" fill="#bfc4d0"/><rect x="99.0" y="531.60" width="1.02" height="8.80" fill="#c3c3cd"/><rect x="100.0" y="531.60" width="1.02" height="8.80" fill="#ccaeb4"/><rect x="101.0" y="531.60" width="1.02" height="8.80" fill="#dbafb1"/><rect x="102.0" y="531.60" width="1.02" height="8.80" fill="#dba4a7"/><rect x="103.0" y="531.60" width="1.02" height="8.80" fill="#ddb6b7"/><rect x="104.0" y="531.60" width="1.02" height="8.80" fill="#cfb3b6"/><rect x="105.0" y="531.60" width="1.02" height="8.80" fill="#a5b0c5"/><rect x="106.0" y="531.60" width="1.02" height="8.80" fill="#b4b2c1"/><rect x="107.0" y="531.60" width="1.02" height="8.80" fill="#ccbcc2"/><rect x="108.0" y="531.60" width="1.02" height="8.80" fill="#b6b9c6"/><rect x="109.0" y="531.60" width="1.02" height="8.80" fill="#b1b9c9"/><rect x="110.0" y="531.60" width="1.02" height="8.80" fill="#b7c6d5"/><rect x="111.0" y="531.60" width="1.02" height="8.80" fill="#9ca3b9"/><rect x="112.0" y="531.60" width="1.02" height="8.80" fill="#9c93a8"/><rect x="113.0" y="531.60" width="1.02" height="8.80" fill="#be9ba3"/><rect x="114.0" y="531.60" width="1.02" height="8.80" fill="#cbadb3"/><rect x="115.0" y="531.60" width="1.02" height="8.80" fill="#d2979c"/><rect x="116.0" y="531.60" width="1.02" height="8.80" fill="#cea1a9"/><rect x="117.0" y="531.60" width="1.02" height="8.80" fill="#c6a0a9"/><rect x="118.0" y="531.60" width="1.02" height="8.80" fill="#e0a8a7"/><rect x="119.0" y="531.60" width="1.02" height="8.80" fill="#db8785"/><rect x="120.0" y="531.60" width="1.02" height="8.80" fill="#c78187"/><rect x="121.0" y="531.60" width="1.02" height="8.80" fill="#c6969e"/><rect x="122.0" y="531.60" width="1.02" height="8.80" fill="#cea4ab"/><rect x="123.0" y="531.60" width="1.02" height="8.80" fill="#d2bac1"/><rect x="124.0" y="531.60" width="1.02" height="8.80" fill="#d6a5ab"/><rect x="125.0" y="531.60" width="1.02" height="8.80" fill="#d4b4b9"/><rect x="126.0" y="531.60" width="1.02" height="8.80" fill="#c2a5af"/><rect x="127.0" y="531.60" width="1.02" height="8.80" fill="#b5afbd"/><rect x="128.0" y="531.60" width="1.02" height="8.80" fill="#b09dad"/><rect x="129.0" y="531.60" width="1.02" height="8.80" fill="#ada5b8"/><rect x="130.0" y="531.60" width="1.02" height="8.80" fill="#c5a2ac"/><rect x="131.0" y="531.60" width="1.02" height="8.80" fill="#c7b3bb"/><rect x="132.0" y="531.60" width="1.02" height="8.80" fill="#ce9fa5"/><rect x="133.0" y="531.60" width="1.02" height="8.80" fill="#da9192"/><rect x="134.0" y="531.60" width="1.02" height="8.80" fill="#d18288"/><rect x="135.0" y="531.60" width="1.02" height="8.80" fill="#d17378"/><rect x="136.0" y="531.60" width="1.02" height="8.80" fill="#e2b4b5"/><rect x="137.0" y="531.60" width="1.02" height="8.80" fill="#dfbcbf"/><rect x="138.0" y="531.60" width="1.02" height="8.80" fill="#ce858c"/><rect x="139.0" y="531.60" width="1.02" height="8.80" fill="#bc97a4"/><rect x="140.0" y="531.60" width="1.02" height="8.80" fill="#b58593"/><rect x="141.0" y="531.60" width="1.02" height="8.80" fill="#d59194"/><rect x="142.0" y="531.60" width="1.02" height="8.80" fill="#e1bcbd"/><rect x="143.0" y="531.60" width="1.02" height="8.80" fill="#d6acaf"/><rect x="144.0" y="531.60" width="1.02" height="8.80" fill="#cf7579"/><rect x="145.0" y="531.60" width="1.02" height="8.80" fill="#c86972"/><rect x="146.0" y="531.60" width="1.02" height="8.80" fill="#c9717a"/><rect x="147.0" y="531.60" width="1.02" height="8.80" fill="#d99598"/><rect x="148.0" y="531.60" width="1.02" height="8.80" fill="#d58386"/><rect x="149.0" y="531.60" width="1.02" height="8.80" fill="#d48184"/><rect x="150.0" y="531.60" width="1.02" height="8.80" fill="#cd9197"/><rect x="151.0" y="531.60" width="1.02" height="8.80" fill="#c36771"/><rect x="152.0" y="531.60" width="1.02" height="8.80" fill="#bc8792"/><rect x="153.0" y="531.60" width="1.02" height="8.80" fill="#c0919a"/><rect x="154.0" y="531.60" width="0.22" height="8.80" fill="#d7989c"/>
<defs><linearGradient id="ps1" x1="0" x2="1"><stop offset="0" stop-color="#9dd8c8"/><stop offset="1" stop-color="#7fcfb0"/></linearGradient><linearGradient id="ps2" x1="0" x2="1"><stop offset="0" stop-color="#84d0b2"/><stop offset="1" stop-color="#6cc6a0"/></linearGradient><linearGradient id="ps3" x1="0" x2="1"><stop offset="0" stop-color="#80cfb0"/><stop offset="1" stop-color="#5fbe92"/></linearGradient><linearGradient id="ps4" x1="0" x2="1"><stop offset="0" stop-color="#4fb780"/><stop offset="1" stop-color="#35a562"/></linearGradient></defs>
<rect x="18.40" y="358.20" width="31.20" height="9.80" fill="url(#ps1)"/>
<rect x="51.30" y="358.20" width="38.70" height="9.80" fill="url(#ps2)"/>
<rect x="92.40" y="358.20" width="31.60" height="9.80" fill="url(#ps3)"/>
<rect x="123.80" y="358.20" width="30.40" height="9.80" fill="url(#ps4)"/>
<rect x="18.40" y="370.30" width="31.20" height="10.10" fill="#e5456f"/>
<rect x="51.30" y="370.30" width="38.70" height="10.10" fill="#45b3d8"/>
<rect x="92.40" y="370.30" width="31.40" height="10.10" fill="#5b8f5e"/>
<rect x="123.80" y="370.30" width="30.40" height="10.10" fill="#b5566f"/>
<text transform="translate(34.00,378.00)" font-size="6.3" text-anchor="middle" fill="#fff">Wnt<tspan font-size="3.6" dy="-2.2">lo</tspan><tspan dy="2.2"> AE</tspan></text>
<text transform="translate(70.60,378.00)" font-size="6.3" text-anchor="middle" fill="#fff">Wnt<tspan font-size="3.6" dy="-2.2">hi</tspan><tspan dy="2.2"> AE</tspan></text>
<text transform="translate(108.10,378.00) scale(0.900,1)" font-size="6.3" text-anchor="middle" fill="#fff">Conflux AE</text>
<text transform="translate(139.00,378.00)" font-size="6.3" text-anchor="middle" fill="#fff">pre-HE</text>
<text transform="translate(158.00,366.00)" font-size="6.9" fill="#222">Pseudotime</text>
<text transform="translate(158.00,378.70)" font-size="6.9" fill="#222">Cell type</text>
<text transform="translate(215.20,364.50)" font-size="6.85" fill="#222">Pathway activity score</text>
<defs><linearGradient id="rb" x1="0" x2="1"><stop offset="0" stop-color="#2166ac"/><stop offset="0.25" stop-color="#6fa8d1"/><stop offset="0.5" stop-color="#f7f7f7"/><stop offset="0.75" stop-color="#ec9878"/><stop offset="1" stop-color="#b2182b"/></linearGradient></defs>
<rect x="229.90" y="369.40" width="38.60" height="8.60" fill="url(#rb)"/>
<text transform="translate(215.20,376.00)" font-size="6.85" fill="#222">-1.5</text>
<text transform="translate(271.40,376.00)" font-size="6.85" fill="#222">1.5</text>
<text x="157.9" y="389.30" font-size="6.97" fill="#222">Cell Cycle</text>
<text x="157.9" y="398.10" font-size="6.97" fill="#222">Deposition of new CENPA–containing nucleosomes at the centromere</text>
<text x="157.9" y="406.90" font-size="6.97" fill="#222">HDR through Homologous Recombination (HRR)</text>
<text x="157.9" y="415.70" font-size="6.97" fill="#222">SUMOylation of DNA replication proteins</text>
<text x="157.9" y="424.50" font-size="6.97" fill="#222">Biosynthesis of E–series 18(S)–resolvins</text>
<text x="157.9" y="433.30" font-size="6.97" fill="#222">Phosphorylation of Emi1</text>
<text x="157.9" y="442.10" font-size="6.97" fill="#222">Reversible hydration of carbon dioxide</text>
<text x="157.9" y="450.90" font-size="6.97" fill="#222">RUNX3 regulates CDKN1A transcription</text>
<text x="157.9" y="459.70" font-size="6.97" fill="#222">Transcriptional regulation by RUNX3</text>
<text x="157.9" y="468.50" font-size="6.97" fill="#222">Amino acid transport across the plasma membrane</text>
<text x="157.9" y="477.30" font-size="6.97" fill="#222">Calcitonin–like ligand receptors</text>
<text x="157.9" y="486.10" font-size="6.97" fill="#222">Binding of TCF/LEF:CTNNB1 to target gene promoters</text>
<text x="157.9" y="494.90" font-size="6.97" fill="#222">GRB2:SOS provides linkage to MAPK signaling for Integrins</text>
<text x="157.9" y="503.70" font-size="6.97" fill="#222">Gap junction assembly</text>
<text x="157.9" y="512.50" font-size="6.97" fill="#222">Elastic fibre formation</text>
<text x="157.9" y="521.30" font-size="6.97" fill="#222">Platelet Adhesion to exposed collagen</text>
<text x="157.9" y="530.10" font-size="6.97" fill="#222">Apoptotic cleavage of cellular proteins</text>
<text x="157.9" y="538.90" font-size="6.97" fill="#222">Insulin–like Growth Factor–2 mRNA Binding Proteins bind RNA</text>
<rect x="391.20" y="383.00" width="10.50" height="7.00" fill="#2b81ba"/>
<rect x="391.20" y="391.80" width="5.62" height="7.00" fill="#2b81ba"/>
<rect x="391.20" y="400.60" width="6.00" height="7.00" fill="#2b81ba"/>
<rect x="391.20" y="409.40" width="6.00" height="7.00" fill="#2b81ba"/>
<rect x="391.20" y="418.20" width="5.25" height="7.00" fill="#2b81ba"/>
<rect x="391.20" y="427.00" width="4.88" height="7.00" fill="#2b81ba"/>
<rect x="391.20" y="435.80" width="39.38" height="7.00" fill="#2b81ba"/>
<rect x="391.20" y="444.60" width="36.00" height="7.00" fill="#2b81ba"/>
<rect x="391.20" y="453.40" width="34.88" height="7.00" fill="#2b81ba"/>
<rect x="391.20" y="462.20" width="33.75" height="7.00" fill="#2b81ba"/>
<rect x="391.20" y="471.00" width="26.25" height="7.00" fill="#2b81ba"/>
<rect x="391.20" y="479.80" width="18.00" height="7.00" fill="#2b81ba"/>
<rect x="391.20" y="488.60" width="43.88" height="7.00" fill="#2b81ba"/>
<rect x="391.20" y="497.40" width="33.75" height="7.00" fill="#2b81ba"/>
<rect x="391.20" y="506.20" width="30.75" height="7.00" fill="#2b81ba"/>
<rect x="391.20" y="515.00" width="27.00" height="7.00" fill="#2b81ba"/>
<rect x="391.20" y="523.80" width="21.00" height="7.00" fill="#2b81ba"/>
<rect x="391.20" y="532.60" width="18.75" height="7.00" fill="#2b81ba"/>
<path d="M389.0,382.4 V542.3 H438.6" fill="none" stroke="#111" stroke-width="1.1"/>
<line x1="390.80" y1="542.30" x2="390.80" y2="544.60" stroke="#111" stroke-width="0.9"/>
<text transform="translate(390.80,555.60)" font-size="6.9" text-anchor="middle" fill="#333">0</text>
<line x1="405.90" y1="542.30" x2="405.90" y2="544.60" stroke="#111" stroke-width="0.9"/>
<text transform="translate(405.90,555.60)" font-size="6.9" text-anchor="middle" fill="#333">20</text>
<line x1="421.00" y1="542.30" x2="421.00" y2="544.60" stroke="#111" stroke-width="0.9"/>
<text transform="translate(421.00,555.60)" font-size="6.9" text-anchor="middle" fill="#333">40</text>
<line x1="436.10" y1="542.30" x2="436.10" y2="544.60" stroke="#111" stroke-width="0.9"/>
<text transform="translate(436.10,555.60)" font-size="6.9" text-anchor="middle" fill="#333">60</text>
<text transform="translate(409.00,374.20)" font-size="6.9" text-anchor="middle" fill="#222">–log10(q-value)</text>
<line x1="192.47" y1="386.90" x2="387.2" y2="386.90" stroke="#1a1a1a" stroke-width="1.0" stroke-dasharray="2.4,1.6"/>
<line x1="377.17" y1="395.70" x2="387.2" y2="395.70" stroke="#1a1a1a" stroke-width="1.0" stroke-dasharray="2.4,1.6"/>
<line x1="312.96" y1="404.50" x2="387.2" y2="404.50" stroke="#1a1a1a" stroke-width="1.0" stroke-dasharray="2.4,1.6"/>
<line x1="286.62" y1="413.30" x2="387.2" y2="413.30" stroke="#1a1a1a" stroke-width="1.0" stroke-dasharray="2.4,1.6"/>
<line x1="287.39" y1="422.10" x2="387.2" y2="422.10" stroke="#1a1a1a" stroke-width="1.0" stroke-dasharray="2.4,1.6"/>
<line x1="236.65" y1="430.90" x2="387.2" y2="430.90" stroke="#1a1a1a" stroke-width="1.0" stroke-dasharray="2.4,1.6"/>
<line x1="279.66" y1="439.70" x2="387.2" y2="439.70" stroke="#1a1a1a" stroke-width="1.0" stroke-dasharray="2.4,1.6"/>
<line x1="285.07" y1="448.50" x2="387.2" y2="448.50" stroke="#1a1a1a" stroke-width="1.0" stroke-dasharray="2.4,1.6"/>
<line x1="273.96" y1="457.30" x2="387.2" y2="457.30" stroke="#1a1a1a" stroke-width="1.0" stroke-dasharray="2.4,1.6"/>
<line x1="318.77" y1="466.10" x2="387.2" y2="466.10" stroke="#1a1a1a" stroke-width="1.0" stroke-dasharray="2.4,1.6"/>
<line x1="257.57" y1="474.90" x2="387.2" y2="474.90" stroke="#1a1a1a" stroke-width="1.0" stroke-dasharray="2.4,1.6"/>
<line x1="330.27" y1="483.70" x2="387.2" y2="483.70" stroke="#1a1a1a" stroke-width="1.0" stroke-dasharray="2.4,1.6"/>
<line x1="346.67" y1="492.50" x2="387.2" y2="492.50" stroke="#1a1a1a" stroke-width="1.0" stroke-dasharray="2.4,1.6"/>
<line x1="231.61" y1="501.30" x2="387.2" y2="501.30" stroke="#1a1a1a" stroke-width="1.0" stroke-dasharray="2.4,1.6"/>
<line x1="228.12" y1="510.10" x2="387.2" y2="510.10" stroke="#1a1a1a" stroke-width="1.0" stroke-dasharray="2.4,1.6"/>
<line x1="278.91" y1="518.90" x2="387.2" y2="518.90" stroke="#1a1a1a" stroke-width="1.0" stroke-dasharray="2.4,1.6"/>
<line x1="278.50" y1="527.70" x2="387.2" y2="527.70" stroke="#1a1a1a" stroke-width="1.0" stroke-dasharray="2.4,1.6"/>
<line x1="355.97" y1="536.50" x2="387.2" y2="536.50" stroke="#1a1a1a" stroke-width="1.0" stroke-dasharray="2.4,1.6"/>
</svg>
</body></html>
